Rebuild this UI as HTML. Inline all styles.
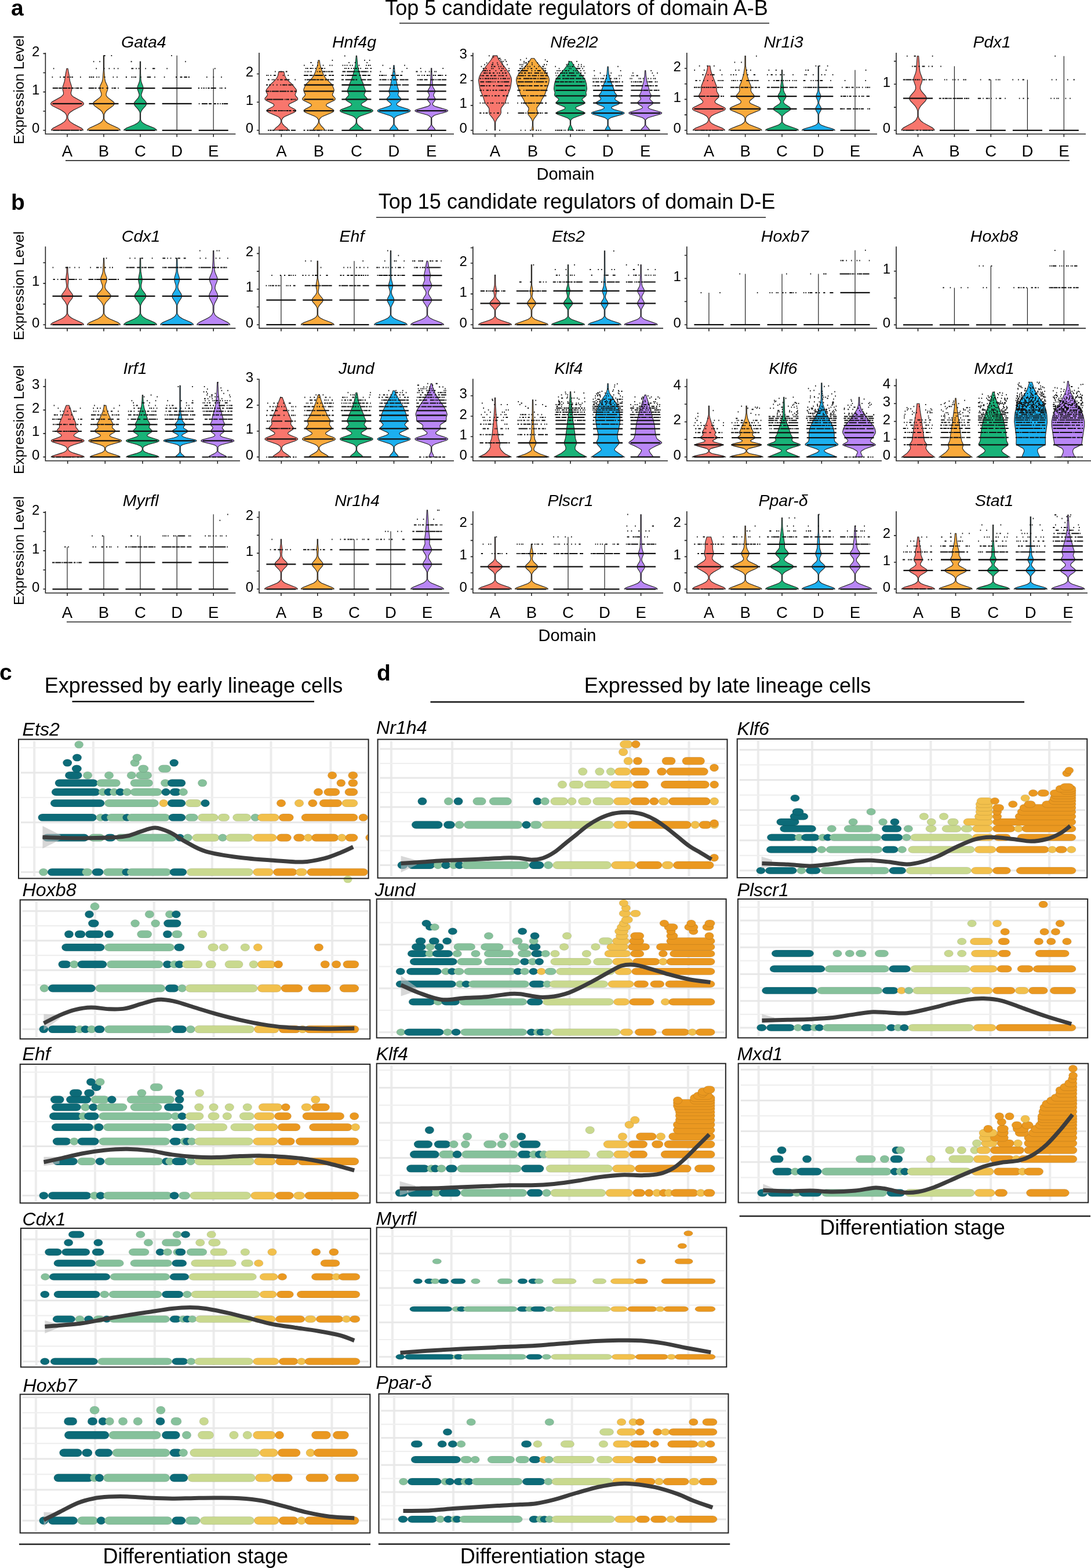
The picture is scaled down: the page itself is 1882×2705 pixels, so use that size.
<!DOCTYPE html><html><head><meta charset="utf-8"><style>html,body{margin:0;padding:0;background:#fff}svg{display:block}text{font-family:"Liberation Sans",Arial,Helvetica,sans-serif;fill:#000}</style></head><body>
<svg width="1882" height="2705" viewBox="0 0 1882 2705">
<rect width="1882" height="2705" fill="#fff"/>
<text x="19" y="27" font-size="39" text-anchor="start" font-weight="bold">a</text>
<text x="994.5" y="26" font-size="36" text-anchor="middle">Top 5 candidate regulators of domain A-B</text>
<path d="M689 40H1327" stroke="#555" stroke-width="2"/>
<text x="19" y="362" font-size="39" text-anchor="start" font-weight="bold">b</text>
<text x="995" y="360" font-size="36" text-anchor="middle">Top 15 candidate regulators of domain D-E</text>
<path d="M649 375H1321" stroke="#555" stroke-width="2"/>
<path d="M113 277H1845M115 1072.8H1848" stroke="#444" stroke-width="1.8"/>
<text x="975.5" y="310" font-size="29" text-anchor="middle">Domain</text>
<text x="978.5" y="1105.5" font-size="29" text-anchor="middle">Domain</text>
<text transform="translate(40.5 155) rotate(-90)" font-size="24.7" text-anchor="middle">Expression Level</text>
<text transform="translate(40.5 493) rotate(-90)" font-size="24.7" text-anchor="middle">Expression Level</text>
<text transform="translate(40.5 724) rotate(-90)" font-size="24.7" text-anchor="middle">Expression Level</text>
<text transform="translate(40.5 950) rotate(-90)" font-size="24.7" text-anchor="middle">Expression Level</text>
<text x="247.8" y="82" font-size="28.5" text-anchor="middle" font-style="italic">Gata4</text>
<path d="M143.4 224.8l-0.3-1.2-2.3-2.4-13.9-7.2-5.5-3.6-2.4-2.4-1.8-3.6-0.3-3.6 0.6-2.3 1.3-2.4 2.3-2.4 5.5-3.6 14.5-7.2 2.8-2.4 0.5-1.2-0.1-1.2-2-2.4-15.3-8.4-2.9-2.4-1.4-2.4-0.3-2.4 1.5-6 0.1-3.5-3.4-10.8-1.3-9.6-2.3-12-2 0-2.3 12-1.3 9.6-3.4 10.8 0.1 3.5 1.5 6-0.3 2.4-0.5 1.2-3.8 3.6-15.3 8.4-2 2.4-0.1 1.2 0.5 1.2 2.8 2.4 14.5 7.2 5.5 3.6 2.3 2.4 1.3 2.4 0.6 2.3-0.3 3.6-1.8 3.6-2.4 2.4-5.5 3.6-13.9 7.2-2.3 2.4-0.3 1.2z" fill="#f8766d" stroke="#222" stroke-width="1.1"/><path d="M207.4 224.8l-0.6-1.5-1.6-1.4-2.4-1.5-13.1-5.8-5-2.9-3.1-2.9-1-1.4-1-2.9 0.2-7.3 2.1-4.3 2.8-2.9 10.2-7.3 2.2-2.9 0.1-1.4-0.6-1.5-1.2-1.4-9.6-7.3-2.3-2.9-0.4-1.4 0.1-2.9 2.3-5.8 0.6-2.9-0.4-2.9-3.9-8.7-1-4.4-1.2-15.9 0-24.7-1.2 0 0 24.7-1.2 15.9-1 4.4-3.3 7.2-0.9 2.9 0.1 2.9 2.7 7.3 0.1 2.9-0.4 1.4-2.3 2.9-9.6 7.3-1.2 1.4-0.6 1.5 0.1 1.4 2.2 2.9 10.2 7.3 2.8 2.9 2.1 4.3 0.2 7.3-1 2.9-1 1.4-3.1 2.9-5 2.9-13.1 5.8-2.4 1.5-1.6 1.4-0.6 1.5z" fill="#f9aa3c" stroke="#222" stroke-width="1.1"/><path d="M270.4 224.8l-0.6-1.3-4.1-2.7-13.2-5.3-5-2.7-3-2.6-1-1.4-0.9-2.6 0-10.7 0.6-2.7 2.3-3.9 6-6.7 1.2-2.7-0.4-2.6-1.9-2.7-4.8-5.3-1.7-4 0.1-2.7 2.8-8 0.3-2.6-0.5-2.7-2.6-6.6-0.9-4-0.5-12 0-20-1.2 0 0 20-0.5 12-0.9 4-2.6 6.6-0.5 2.7 0.3 2.6 2.8 8 0.1 2.7-1.7 4-5.8 6.6-1.3 2.7 0 1.3 1.2 2.7 6 6.7 2.3 3.9 0.6 2.7 0 10.7-0.9 2.6-1 1.4-3 2.6-5 2.7-13.2 5.3-4.1 2.7-0.6 1.3z" fill="#19b378" stroke="#222" stroke-width="1.1"/><path d="M305.2 224.8V95.7" stroke="#222" stroke-width="1.2"/><path d="M368.2 224.8V118.2" stroke="#222" stroke-width="1.2"/>
<path d="M180 96h1.6m10 0h1.6m102 0h1.6m-136 10.2h1.6m9 0h1.6m53 0h1.6m-2 0h1.6m92 0h1.6m-229 12.1h1.6m72 0h1.6m12 0h1.6m7 0h1.6m7 0h1.6m5 0h1.6m22 0h1.6m-1 0h1.6m0 0h1.6m4 0h1.6m3 0h1.6m10 0h1.6m11 0h1.6m0 0h1.6m-2 0h1.6m0 0h1.6m20 0h1.6m81 0h1.6m-282 14.7h1.6m12 0h1.6m4 0h1.6m0 0h1.6m4 0h1.6m1 0h1.6m1 0h1.6m1 0h1.6m-1 0h1.6m12 0h1.6m14 0h1.6m-1 0h1.6m1 0h1.6m-1 0h1.6m1 0h1.6m-1 0h1.6m4 0h1.6m2 0h1.6m8 0h1.6m-1 0h1.6m13 0h1.6m5 0h1.6m14 0h1.6m-1 0h1.6m8 0h1.6m-2 0h1.6m2 0h1.6m1 0h1.6m-1 0h1.6m7 0h1.6m10 0h1.6m0 0h1.6m0 0h1.6m-2 0h1.6m-1 0h1.6m0 0h1.6m6 0h1.6m15 0h1.6m19 0h1.6m-2 0h1.6m6 0h1.6m0 0h1.6m-1 0h1.6m3 0h1.6m0 0h1.6m-1 0h1.6m0 0h1.6m2 0h1.6m-1 0h1.6m29 0h1.6m10 0h1.6m12 0h1.6m-292 19.1h1.6m0 0h1.6m-1 0h1.6m-1 0h1.6m0 0h1.6m-1 0h1.6m0 0h1.6m-1 0h1.6m-1 0h1.6m1 0h1.6m-1 0h1.6m-1 0h1.6m0 0h1.6m-2 0h1.6m0 0h1.6m1 0h1.6m0 0h1.6m-2 0h1.6m0 0h1.6m0 0h1.6m-1 0h1.6m-1 0h1.6m-1 0h1.6m-1 0h1.6m1 0h1.6m0 0h1.6m-1 0h1.6m-1 0h1.6m1 0h1.6m-1 0h1.6m-1 0h1.6m0 0h1.6m-2 0h1.6m2 0h1.6m1 0h1.6m-1 0h1.6m-1 0h1.6m0 0h1.6m-2 0h1.6m-1 0h1.6m-1 0h1.6m-2 0h1.6m2 0h1.6m-1 0h1.6m0 0h1.6m11 0h1.6m-1 0h1.6m0 0h1.6m-1 0h1.6m-1 0h1.6m0 0h1.6m-2 0h1.6m0 0h1.6m-1 0h1.6m-1 0h1.6m-1 0h1.6m1 0h1.6m0 0h1.6m3 0h1.6m-1 0h1.6m-1 0h1.6m-1 0h1.6m0 0h1.6m-2 0h1.6m2 0h1.6m-1 0h1.6m5 0h1.6m0 0h1.6m6 0h1.6m-1 0h1.6m1 0h1.6m0 0h1.6m-2 0h1.6m0 0h1.6m3 0h1.6m137 0h1.6m-1 0h1.6m3 0h1.6m2 0h1.6m-1 0h1.6m2 0h1.6m2 0h1.6m0 0h1.6m2 0h1.6m-1 0h1.6m-1 0h1.6m-1 0h1.6m0 0h1.6m0 0h1.6m-2 0h1.6m-1 0h1.6m0 0h1.6m-2 0h1.6m-1 0h1.6m-1 0h1.6m6 0h1.6m1 0h1.6m-1 0h1.6m4 0h1.6m-1 0h1.6m-47 26.8h1.6m4 0h1.6m-2 0h1.6m-1 0h1.6m-1 0h1.6m-1 0h1.6m-1 0h1.6m0 0h1.6m0 0h1.6m-1 0h1.6m-1 0h1.6m0 0h1.6m2 0h1.6m0 0h1.6m-1 0h1.6m-1 0h1.6m-1 0h1.6m4 0h1.6m-1 0h1.6m0 0h1.6m2 0h1.6m-1 0h1.6m2 0h1.6m2 0h1.6m-1 0h1.6m-1 0h1.6m-2 0h1.6m1 0h1.6m0 0h1.6m-1 0h1.6m0 0h1.6m-1 0h1.6m-1 0h1.6m-1 0h1.6m-2 0h1.6m-301 45.9h1.6m-2 0h1.6m-1 0h1.6m-1 0h1.6m-2 0h1.6m-1 0h1.6m-1 0h1.6m-2 0h1.6m0 0h1.6m-1 0h1.6m-1 0h1.6m-2 0h1.6m0 0h1.6m-1 0h1.6m-2 0h1.6m0 0h1.6m0 0h1.6m-1 0h1.6m-1 0h1.6m1 0h1.6m-2 0h1.6m-1 0h1.6m-1 0h1.6m-1 0h1.6m-1 0h1.6m0 0h1.6m-1 0h1.6m0 0h1.6m-1 0h1.6m-1 0h1.6m-1 0h1.6m-2 0h1.6m0 0h1.6m0 0h1.6m-1 0h1.6m-1 0h1.6m-1 0h1.6m-1 0h1.6m0 0h1.6m-1 0h1.6m-2 0h1.6m-1 0h1.6m-2 0h1.6m1 0h1.6m-1 0h1.6m-1 0h1.6m-1 0h1.6m-1 0h1.6m0 0h1.6m0 0h1.6m-1 0h1.6m-1 0h1.6m0 0h1.6m0 0h1.6m-2 0h1.6m0 0h1.6m0 0h1.6m2 0h1.6m0 0h1.6m-2 0h1.6" stroke="#111" stroke-width="2" fill="none"/>
<path d="M90.5 178.9h51M153.5 224.8h51M153.5 178.9h51M216.5 224.8h51M216.5 178.9h51M216.5 152.1h51M279.7 224.8h51M279.7 178.9h51M279.7 152.1h51M342.7 224.8h51" stroke="#111" stroke-width="2.3" fill="none"/>
<text x="68.4" y="229.3" font-size="24" text-anchor="end">0</text>
<text x="68.4" y="163.1" font-size="24" text-anchor="end">1</text>
<text x="68.4" y="96.9" font-size="24" text-anchor="end">2</text>
<path d="M78.4 91V231.2H406.4M74.4 224.8H78.4M74.4 158.6H78.4M74.4 92.4H78.4M74.4 191.7H78.4M74.4 125.5H78.4M116 231.2V236.2M179 231.2V236.2M242 231.2V236.2M305.2 231.2V236.2M368.2 231.2V236.2" stroke="#222" stroke-width="1.6" fill="none"/>
<text x="116" y="270" font-size="27.5" text-anchor="middle">A</text>
<text x="179" y="270" font-size="27.5" text-anchor="middle">B</text>
<text x="242" y="270" font-size="27.5" text-anchor="middle">C</text>
<text x="305.2" y="270" font-size="27.5" text-anchor="middle">D</text>
<text x="368.2" y="270" font-size="27.5" text-anchor="middle">E</text>
<text x="611" y="82" font-size="28.5" text-anchor="middle" font-style="italic">Hnf4g</text>
<path d="M497.7 224.8l-0.3-1.1-1.7-2.3-5.5-4.6-3-3.4-1.3-3.4 0.2-3.4 2.1-3.4 3.2-2.3 15.9-6.8 3-2.3 0.2-1.1-0.7-1.1-1.5-1.2-8.6-4.5-1.3-1.2-0.6-1.1 0.3-1.1 1.1-1.2 11.8-5.7 1.6-1.1 0.9-1.1 0.2-1.2-0.5-1.1-3-3.4-1-2.3 0.1-1.1 2.2-4.6 0.1-1.1-0.7-2.3-7.3-9.1-7.3-6.8-2.9-3.4-2.2-4.6-1.5-6.8-8.8 0-1.5 6.8-2.2 4.6-2.9 3.4-8.3 7.9-5.5 6.9-1.3 2.2-0.2 1.2 0.5 2.3 1.8 3.4 0.1 1.1-1 2.3-3 3.4-0.5 1.1 0.2 1.2 2.5 2.2 11.8 5.7 1.1 1.2 0.3 1.1-0.6 1.1-1.3 1.2-8.6 4.5-1.5 1.2-0.7 1.1 0.2 1.1 3 2.3 15.9 6.8 3.2 2.3 2.1 3.4 0.2 3.4-1.3 3.4-3 3.4-5.5 4.6-1.7 2.3-0.3 1.1z" fill="#f8766d" stroke="#222" stroke-width="1.1"/><path d="M560 224.8l-1-2.7-5.2-5.4-2.6-4.1-0.6-2.7 0.1-2.7 0.4-1.4 2-2.7 4.1-2.7 13.5-5.4 2.9-1.4 1.8-1.3 0.6-1.4-0.8-1.3-1.9-1.4-8.1-4.1-1.8-1.3-0.7-1.4 0.5-1.3 1.7-1.4 11.4-5.4 1.6-1.4 0.5-1.3-0.5-1.4-3.7-4-0.7-1.4 0-1.4 2.1-4 0.7-2.7-0.6-2.7-1.7-4.1-2.3-4.1-8.3-8.1-2.2-2.7-2.6-4.1-2.4-5.4-2.8-8.2-1.4-5.4-1-6.8-2 0-1 6.8-1.4 5.4-2.8 8.2-2.4 5.4-2.6 4.1-2.2 2.7-8.3 8.1-2.3 4.1-1.7 4.1-0.6 2.7 0.7 2.7 2.1 4 0 1.4-0.7 1.4-3.7 4-0.5 1.4 0.5 1.3 1.6 1.4 11.4 5.4 1.7 1.4 0.5 1.3-0.7 1.4-1.8 1.3-8.1 4.1-1.9 1.4-0.8 1.3 0.6 1.4 1.8 1.3 2.9 1.4 13.5 5.4 4.1 2.7 2 2.7 0.4 1.4 0.1 2.7-0.6 2.7-2.6 4.1-5.2 5.4-1 2.7z" fill="#f9aa3c" stroke="#222" stroke-width="1.1"/><path d="M627.2 224.8l-0.4-1.4-1.3-1.5-7.3-5.8-2.1-2.8-0.6-2.9 0-4.4 0.6-1.4 2.8-2.9 2.5-1.4 16.8-5.8 3.4-1.4 1.7-1.5-0.2-1.4-2.2-1.5-15.3-5.7-1.9-1.5-0.5-1.4 0.8-1.5 6.9-4.3 1.8-1.5 0.9-1.4-0.2-1.4-4-4.4-0.9-1.4-0.2-1.5 1.9-4.3 0.2-2.9-2.4-5.7-1.6-5.8-3.1-7.2-5.1-17.3-1.4-7.3-1.3-15.8-1.2 0-1.3 15.8-2.2 10.1-4.3 14.5-3.1 7.2-1.6 5.8-2.4 5.7 0.2 2.9 1.9 4.3-0.2 1.5-0.9 1.4-4 4.4-0.2 1.4 0.9 1.4 1.8 1.5 6.9 4.3 0.8 1.5-0.5 1.4-1.9 1.5-15.3 5.7-2.2 1.5-0.2 1.4 1.7 1.5 3.4 1.4 16.8 5.8 2.5 1.4 2.8 2.9 0.6 1.4 0 4.4-0.6 2.9-2.1 2.8-7.3 5.8-1.3 1.5-0.4 1.4z" fill="#19b378" stroke="#222" stroke-width="1.1"/><path d="M687 224.8l-0.9-2.5-4.3-5-1.4-2.6-0.3-1.2 0-8.8 0.5-1.3 2.6-2.5 2.3-1.2 19.4-6.3 2.4-1.3 0.6-1.2-1.3-1.3-2.8-1.3-15.8-5-2.3-1.2-1.3-1.3-0.3-1.3 0.7-1.2 6-5 0.8-1.3 0.1-1.3-0.6-1.2-3.5-3.8-1.1-2.5 1.8-6.3-2.3-6.3-4-20.1-1-6.3-0.9-11.3-1.2 0-0.9 11.3-1 6.3-4 20.1-2.3 6.3 1.8 6.3-1.1 2.5-3.5 3.8-0.6 1.2 0.1 1.3 0.8 1.3 6 5 0.7 1.2-0.3 1.3-1.3 1.3-2.3 1.2-15.8 5-2.8 1.3-1.3 1.3 0.6 1.2 2.4 1.3 19.4 6.3 2.3 1.2 2.6 2.5 0.5 1.3 0 8.8-0.3 1.2-1.4 2.6-4.3 5-0.9 2.5z" fill="#1cb0ef" stroke="#222" stroke-width="1.1"/><path d="M751.1 224.8l-1-2.4-4.1-4.8-1.2-2.4 0-12 0.7-1.2 3.1-2.5 2.8-1.2 17.1-4.8 3-1.2 1.1-1.2-1-1.2-2.8-1.2-17-4.8-2.8-1.2-1.7-1.2-0.9-1.2-0.1-1.2 0.4-1.2 3.8-4.8 0.5-2.4-3.1-6 0.4-2.4 2-3.6 0.3-1.2-0.7-2.4-3-4.9-0.6-2.4-1.3-20.4-0.2-9.6-1.2 0-0.2 9.6-1.3 20.4-0.6 2.4-3 4.9-0.7 2.4 0.3 1.2 2 3.6 0.4 2.4-0.4 1.2-2.3 3.6-0.4 2.4 0.5 1.2 3.8 4.8 0.4 1.2-0.1 1.2-0.9 1.2-1.7 1.2-2.8 1.2-17 4.8-2.8 1.2-1 1.2 1.1 1.2 3 1.2 17.1 4.8 2.8 1.2 3.1 2.5 0.7 1.2 0 12-1.2 2.4-4.1 4.8-1 2.4z" fill="#b987f6" stroke="#222" stroke-width="1.1"/>
<path d="M594 96.4h1.6m-23 7.5h1.6m54 0h1.6m7 0h1.6m-103 4.2h1.6m-1 0h1.6m10 0h1.6m52 0h1.6m9 0h1.6m19 0h1.6m-110 4.7h1.6m13 0h1.6m7 0h1.6m8 0h1.6m10 0h1.6m2 0h1.6m17 0h1.6m2 0h1.6m2 0h1.6m4 0h1.6m2 0h1.6m10 0h1.6m11 0h1.6m2 0h1.6m-1 0h1.6m1 0h1.6m20 0h1.6m36 0h1.6m-172 5.1h1.6m1 0h1.6m-1 0h1.6m3 0h1.6m0 0h1.6m1 0h1.6m3 0h1.6m5 0h1.6m2 0h1.6m-1 0h1.6m0 0h1.6m2 0h1.6m33 0h1.6m1 0h1.6m2 0h1.6m-1 0h1.6m3 0h1.6m2 0h1.6m2 0h1.6m0 0h1.6m2 0h1.6m2 0h1.6m7 0h1.6m-1 0h1.6m1 0h1.6m4 0h1.6m-1 0h1.6m31 0h1.6m5 0h1.6m21 0h1.6m22 0h1.6m37 0h1.6m-291 5.7h1.6m7 0h1.6m1 0h1.6m6 0h1.6m-1 0h1.6m-1 0h1.6m30 0h1.6m2 0h1.6m1 0h1.6m2 0h1.6m-1 0h1.6m9 0h1.6m2 0h1.6m0 0h1.6m3 0h1.6m-1 0h1.6m0 0h1.6m0 0h1.6m1 0h1.6m-1 0h1.6m1 0h1.6m0 0h1.6m1 0h1.6m-1 0h1.6m-1 0h1.6m0 0h1.6m16 0h1.6m0 0h1.6m-1 0h1.6m-2 0h1.6m-1 0h1.6m0 0h1.6m2 0h1.6m-1 0h1.6m0 0h1.6m-1 0h1.6m-2 0h1.6m0 0h1.6m0 0h1.6m-1 0h1.6m-1 0h1.6m-1 0h1.6m0 0h1.6m-1 0h1.6m0 0h1.6m0 0h1.6m1 0h1.6m1 0h1.6m0 0h1.6m0 0h1.6m-1 0h1.6m1 0h1.6m-1 0h1.6m0 0h1.6m0 0h1.6m-2 0h1.6m-1 0h1.6m-1 0h1.6m-1 0h1.6m-1 0h1.6m0 0h1.6m0 0h1.6m-2 0h1.6m1 0h1.6m3 0h1.6m-1 0h1.6m15 0h1.6m22 0h1.6m12 0h1.6m23 0h1.6m0 0h1.6m5 0h1.6m6 0h1.6m5 0h1.6m2 0h1.6m4 0h1.6m1 0h1.6m-294 6.5h1.6m1 0h1.6m3 0h1.6m4 0h1.6m-1 0h1.6m0 0h1.6m12 0h1.6m7 0h1.6m26 0h1.6m-1 0h1.6m-1 0h1.6m0 0h1.6m0 0h1.6m-2 0h1.6m0 0h1.6m-1 0h1.6m2 0h1.6m-1 0h1.6m0 0h1.6m-1 0h1.6m-2 0h1.6m0 0h1.6m-2 0h1.6m2 0h1.6m-2 0h1.6m1 0h1.6m-1 0h1.6m-2 0h1.6m0 0h1.6m-2 0h1.6m0 0h1.6m-1 0h1.6m-1 0h1.6m0 0h1.6m0 0h1.6m0 0h1.6m0 0h1.6m0 0h1.6m3 0h1.6m0 0h1.6m4 0h1.6m-1 0h1.6m-1 0h1.6m-1 0h1.6m-1 0h1.6m1 0h1.6m-1 0h1.6m0 0h1.6m13 0h1.6m-1 0h1.6m-1 0h1.6m-2 0h1.6m-1 0h1.6m-1 0h1.6m-1 0h1.6m2 0h1.6m1 0h1.6m-1 0h1.6m-1 0h1.6m0 0h1.6m-1 0h1.6m-1 0h1.6m-2 0h1.6m-1 0h1.6m-1 0h1.6m0 0h1.6m0 0h1.6m-1 0h1.6m-1 0h1.6m-1 0h1.6m-1 0h1.6m0 0h1.6m-1 0h1.6m-2 0h1.6m1 0h1.6m-2 0h1.6m0 0h1.6m4 0h1.6m0 0h1.6m2 0h1.6m0 0h1.6m-1 0h1.6m-1 0h1.6m0 0h1.6m-1 0h1.6m-1 0h1.6m-1 0h1.6m2 0h1.6m-2 0h1.6m0 0h1.6m-2 0h1.6m-1 0h1.6m-2 0h1.6m0 0h1.6m-2 0h1.6m-1 0h1.6m-2 0h1.6m-1 0h1.6m15 0h1.6m-1 0h1.6m1 0h1.6m-1 0h1.6m-1 0h1.6m0 0h1.6m1 0h1.6m1 0h1.6m8 0h1.6m-2 0h1.6m-1 0h1.6m-1 0h1.6m-2 0h1.6m-1 0h1.6m-1 0h1.6m-1 0h1.6m-1 0h1.6m0 0h1.6m2 0h1.6m0 0h1.6m-1 0h1.6m0 0h1.6m2 0h1.6m0 0h1.6m-1 0h1.6m26 0h1.6m1 0h1.6m3 0h1.6m2 0h1.6m-1 0h1.6m3 0h1.6m0 0h1.6m1 0h1.6m5 0h1.6m-1 0h1.6m1 0h1.6m-1 0h1.6m3 0h1.6m0 0h1.6m0 0h1.6m0 0h1.6m1 0h1.6m4 0h1.6m-2 0h1.6m-1 0h1.6m-308 7.5h1.6m-1 0h1.6m-1 0h1.6m4 0h1.6m1 0h1.6m-1 0h1.6m5 0h1.6m3 0h1.6m-1 0h1.6m-1 0h1.6m0 0h1.6m3 0h1.6m-1 0h1.6m0 0h1.6m-1 0h1.6m1 0h1.6m-1 0h1.6m-2 0h1.6m0 0h1.6m9 0h1.6m16 0h1.6m-2 0h1.6m-1 0h1.6m1 0h1.6m0 0h1.6m0 0h1.6m-2 0h1.6m0 0h1.6m-1 0h1.6m-1 0h1.6m0 0h1.6m-1 0h1.6m-1 0h1.6m-1 0h1.6m-1 0h1.6m-2 0h1.6m-1 0h1.6m-1 0h1.6m0 0h1.6m-1 0h1.6m0 0h1.6m-1 0h1.6m-2 0h1.6m1 0h1.6m-1 0h1.6m0 0h1.6m-1 0h1.6m-1 0h1.6m1 0h1.6m-1 0h1.6m0 0h1.6m0 0h1.6m-1 0h1.6m-1 0h1.6m2 0h1.6m-1 0h1.6m-1 0h1.6m-1 0h1.6m1 0h1.6m0 0h1.6m1 0h1.6m-1 0h1.6m-1 0h1.6m-2 0h1.6m-1 0h1.6m-1 0h1.6m-1 0h1.6m-1 0h1.6m-1 0h1.6m0 0h1.6m13 0h1.6m-1 0h1.6m-1 0h1.6m-2 0h1.6m0 0h1.6m-2 0h1.6m3 0h1.6m-1 0h1.6m-1 0h1.6m-1 0h1.6m-1 0h1.6m-1 0h1.6m-1 0h1.6m-2 0h1.6m-1 0h1.6m-1 0h1.6m-2 0h1.6m-1 0h1.6m0 0h1.6m-1 0h1.6m-1 0h1.6m-1 0h1.6m-1 0h1.6m-1 0h1.6m-1 0h1.6m-1 0h1.6m-1 0h1.6m-1 0h1.6m-1 0h1.6m-1 0h1.6m-2 0h1.6m0 0h1.6m-1 0h1.6m-2 0h1.6m2 0h1.6m-1 0h1.6m-1 0h1.6m6 0h1.6m-1 0h1.6m-2 0h1.6m-1 0h1.6m-1 0h1.6m-1 0h1.6m0 0h1.6m-1 0h1.6m-2 0h1.6m0 0h1.6m0 0h1.6m-1 0h1.6m2 0h1.6m-1 0h1.6m0 0h1.6m-1 0h1.6m-2 0h1.6m-1 0h1.6m-1 0h1.6m-1 0h1.6m-1 0h1.6m-2 0h1.6m0 0h1.6m14 0h1.6m-2 0h1.6m0 0h1.6m1 0h1.6m-1 0h1.6m-2 0h1.6m-1 0h1.6m0 0h1.6m0 0h1.6m-1 0h1.6m-1 0h1.6m-1 0h1.6m-1 0h1.6m2 0h1.6m2 0h1.6m-1 0h1.6m-1 0h1.6m-2 0h1.6m3 0h1.6m-1 0h1.6m-1 0h1.6m0 0h1.6m-1 0h1.6m1 0h1.6m-1 0h1.6m-1 0h1.6m3 0h1.6m0 0h1.6m0 0h1.6m0 0h1.6m-1 0h1.6m-1 0h1.6m-1 0h1.6m-2 0h1.6m1 0h1.6m-1 0h1.6m0 0h1.6m-1 0h1.6m0 0h1.6m-2 0h1.6m16 0h1.6m-1 0h1.6m1 0h1.6m0 0h1.6m-1 0h1.6m-1 0h1.6m-1 0h1.6m-2 0h1.6m-1 0h1.6m-1 0h1.6m-1 0h1.6m2 0h1.6m-1 0h1.6m0 0h1.6m0 0h1.6m-1 0h1.6m5 0h1.6m-1 0h1.6m-1 0h1.6m-1 0h1.6m0 0h1.6m0 0h1.6m1 0h1.6m1 0h1.6m1 0h1.6m-1 0h1.6m0 0h1.6m-1 0h1.6m-1 0h1.6m-1 0h1.6m1 0h1.6m0 0h1.6m-2 0h1.6m0 0h1.6m-2 0h1.6m-1 0h1.6m-1 0h1.6m-1 0h1.6m0 0h1.6m-1 0h1.6m-311 8.9h1.6m0 0h1.6m2 0h1.6m0 0h1.6m3 0h1.6m5 0h1.6m5 0h1.6m2 0h1.6m0 0h1.6m0 0h1.6m-1 0h1.6m1 0h1.6m-2 0h1.6m-1 0h1.6m2 0h1.6m0 0h1.6m-1 0h1.6m0 0h1.6m-1 0h1.6m1 0h1.6m147 0h1.6m-1 0h1.6m-1 0h1.6m0 0h1.6m0 0h1.6m-1 0h1.6m-1 0h1.6m0 0h1.6m-1 0h1.6m-1 0h1.6m-2 0h1.6m0 0h1.6m-1 0h1.6m-1 0h1.6m-2 0h1.6m-2 0h1.6m-1 0h1.6m-1 0h1.6m0 0h1.6m0 0h1.6m-2 0h1.6m0 0h1.6m-1 0h1.6m-2 0h1.6m-1 0h1.6m0 0h1.6m-1 0h1.6m-1 0h1.6m-2 0h1.6m0 0h1.6m-1 0h1.6m-2 0h1.6m-1 0h1.6m-1 0h1.6m0 0h1.6m1 0h1.6m-1 0h1.6m0 0h1.6m-2 0h1.6m-1 0h1.6m-1 0h1.6m0 0h1.6m-2 0h1.6m0 0h1.6m-2 0h1.6m0 0h1.6m-2 0h1.6m-1 0h1.6m0 0h1.6m-1 0h1.6m0 0h1.6m2 0h1.6m0 0h1.6m0 0h1.6m0 0h1.6m-1 0h1.6m-1 0h1.6m-1 0h1.6m0 0h1.6m0 0h1.6m-246 10.9h1.6m-2 0h1.6m0 0h1.6m-1 0h1.6m-1 0h1.6m0 0h1.6m1 0h1.6m-1 0h1.6m1 0h1.6m0 0h1.6m-1 0h1.6m0 0h1.6m-2 0h1.6m1 0h1.6m-2 0h1.6m-1 0h1.6m0 0h1.6m0 0h1.6m-1 0h1.6m-1 0h1.6m1 0h1.6m-1 0h1.6m0 0h1.6m-1 0h1.6m-2 0h1.6m0 0h1.6m-2 0h1.6m0 0h1.6m0 0h1.6m0 0h1.6m0 0h1.6m-1 0h1.6m1 0h1.6m-1 0h1.6m-1 0h1.6m-1 0h1.6m2 0h1.6m-1 0h1.6m-1 0h1.6m0 0h1.6m-1 0h1.6m2 0h1.6m-1 0h1.6m-1 0h1.6m-1 0h1.6m-51 14h1.6m-2 0h1.6m0 0h1.6m-1 0h1.6m-1 0h1.6m-2 0h1.6m0 0h1.6m-1 0h1.6m-1 0h1.6m-1 0h1.6m-2 0h1.6m0 0h1.6m-1 0h1.6m-2 0h1.6m-1 0h1.6m-1 0h1.6m-1 0h1.6m1 0h1.6m-2 0h1.6m-1 0h1.6m-1 0h1.6m-1 0h1.6m-1 0h1.6m-1 0h1.6m-2 0h1.6m-1 0h1.6m-1 0h1.6m0 0h1.6m-2 0h1.6m-1 0h1.6m-1 0h1.6m0 0h1.6m-1 0h1.6m0 0h1.6m0 0h1.6m-2 0h1.6m-1 0h1.6m0 0h1.6m-1 0h1.6m-2 0h1.6m0 0h1.6m-1 0h1.6m-1 0h1.6m2 0h1.6m1 0h1.6m-1 0h1.6m-1 0h1.6m0 0h1.6m-1 0h1.6m-1 0h1.6m2 0h1.6m-1 0h1.6m-2 0h1.6m-1 0h1.6m-1 0h1.6m-1 0h1.6m-1 0h1.6m1 0h1.6m-1 0h1.6m1 0h1.6m-51 19.7h1.6m-2 0h1.6m0 0h1.6m-1 0h1.6m-1 0h1.6m-2 0h1.6m-1 0h1.6m-1 0h1.6m-1 0h1.6m0 0h1.6m-1 0h1.6m-1 0h1.6m1 0h1.6m1 0h1.6m-1 0h1.6m-1 0h1.6m0 0h1.6m0 0h1.6m-2 0h1.6m2 0h1.6m-1 0h1.6m-1 0h1.6m-1 0h1.6m-2 0h1.6m1 0h1.6m0 0h1.6m-2 0h1.6m1 0h1.6m-1 0h1.6m1 0h1.6m-1 0h1.6m1 0h1.6m-1 0h1.6m0 0h1.6m1 0h1.6m-1 0h1.6m-1 0h1.6m-1 0h1.6m-1 0h1.6m3 0h1.6m-1 0h1.6m-1 0h1.6m0 0h1.6m-1 0h1.6m-1 0h1.6m-49 33.7h1.6m-1 0h1.6m1 0h1.6m-1 0h1.6m-1 0h1.6m-1 0h1.6m1 0h1.6m0 0h1.6m-1 0h1.6m8 0h1.6m-2 0h1.6m-1 0h1.6m0 0h1.6m0 0h1.6m-1 0h1.6m-1 0h1.6m0 0h1.6m1 0h1.6m1 0h1.6m-1 0h1.6m-1 0h1.6m-1 0h1.6m-1 0h1.6m1 0h1.6m-1 0h1.6m2 0h1.6m0 0h1.6m-1 0h1.6m-1 0h1.6m-1 0h1.6m0 0h1.6m-2 0h1.6m-1 0h1.6m-1 0h1.6m-1 0h1.6m14 0h1.6m-2 0h1.6m-1 0h1.6m-1 0h1.6m3 0h1.6m-1 0h1.6m-1 0h1.6m-2 0h1.6m-1 0h1.6m1 0h1.6m-1 0h1.6m-1 0h1.6m-1 0h1.6m0 0h1.6m0 0h1.6m-1 0h1.6m-1 0h1.6m0 0h1.6m0 0h1.6m2 0h1.6m-2 0h1.6m-1 0h1.6m-1 0h1.6m-1 0h1.6m-1 0h1.6m-1 0h1.6m0 0h1.6m1 0h1.6m5 0h1.6m-2 0h1.6m1 0h1.6m2 0h1.6m-2 0h1.6m-1 0h1.6m-1 0h1.6m1 0h1.6m-2 0h1.6m-1 0h1.6m-1 0h1.6m-1 0h1.6m-1 0h1.6m-1 0h1.6m-1 0h1.6m-1 0h1.6m-1 0h1.6" stroke="#111" stroke-width="2" fill="none"/>
<path d="M524.5 191.1h51M524.5 171.4h51M524.5 157.4h51M524.5 146.5h51M589.4 224.8h51M589.4 191.1h51M589.4 171.4h51M589.4 157.4h51M589.4 146.5h51M654 224.8h51M654 191.1h51M654 171.4h51M654 157.4h51M718.7 224.8h51M718.7 191.1h51M718.7 171.4h51M718.7 157.4h51M718.7 146.5h51" stroke="#111" stroke-width="2.3" fill="none"/>
<text x="437" y="229.3" font-size="24" text-anchor="end">0</text>
<text x="437" y="180.7" font-size="24" text-anchor="end">1</text>
<text x="437" y="132" font-size="24" text-anchor="end">2</text>
<path d="M447 91V231.2H783M443 224.8H447M443 176.2H447M443 127.5H447M485.3 231.2V236.2M550 231.2V236.2M614.9 231.2V236.2M679.5 231.2V236.2M744.2 231.2V236.2" stroke="#222" stroke-width="1.6" fill="none"/>
<text x="485.3" y="270" font-size="27.5" text-anchor="middle">A</text>
<text x="550" y="270" font-size="27.5" text-anchor="middle">B</text>
<text x="614.9" y="270" font-size="27.5" text-anchor="middle">C</text>
<text x="679.5" y="270" font-size="27.5" text-anchor="middle">D</text>
<text x="744.2" y="270" font-size="27.5" text-anchor="middle">E</text>
<text x="990.4" y="82" font-size="28.5" text-anchor="middle" font-style="italic">Nfe2l2</text>
<path d="M854.6 224.8l0-13 0.7-2.9 2.4-4.3 5.7-7.3 0.9-2.9-0.2-5.8 0.8-2.8 5.6-7.3 1.5-2.9 2.1-7.2 5.7-14.5 1.1-4.3 1.5-10.1-0.1-2.9-0.6-2.9-3.2-7.2-10.6-14.5-7-8.7-1.7-2.9-1.6-4.3-7.2 0-1.6 4.3-1.7 2.9-7 8.7-10.6 14.5-2.7 5.8-1.2 5.7 0.4 4.4 1.7 10.1 2 5.8 4.2 10.1 2.1 7.2 1.5 2.9 5.6 7.3 0.8 2.8-0.2 5.8 0.9 2.9 5.7 7.3 2.4 4.3 0.7 2.9 0 13z" fill="#f8766d" stroke="#222" stroke-width="1.1"/><path d="M920.5 224.8l-0.9-8.4 0-6.9 1.4-4.2 5.4-7 1.3-2.8-0.3-2.7-1.4-4.2 0.2-2.8 6.3-8.4 2.1-5.5 5.1-8.4 6.8-19.5 0.9-5.6-0.3-2.8-0.8-2.7-3.1-5.6-16.9-19.5-4.7-7-5.2 0-4.7 7-16.9 19.5-3.1 5.6-0.8 2.7-0.3 2.8 0.9 5.6 6.8 19.5 5.1 8.4 2.1 5.5 6.3 8.4 0.2 2.8-1.4 4.2-0.3 2.7 1.3 2.8 5.4 7 1.4 4.2 0 6.9-0.9 8.4z" fill="#f9aa3c" stroke="#222" stroke-width="1.1"/><path d="M988.2 224.8l-0.6-2.7-3-6.6 0-6.7 0.2-1.4 0.8-1.3 3.5-2.7 15-5.3 3-1.3 1.5-1.4-0.4-1.3-2.2-1.3-10.4-4.1-2.1-1.3-0.6-1.3 1.1-1.4 2.6-1.3 10.1-4 1.8-1.3 0.2-1.4-4-4-0.5-1.3 0.7-1.3 5.3-4 1-1.4 0.2-1.3-0.6-4 1.3-4 0.3-2.7-0.9-8-1.5-5.4-1.2-2.6-5-6.7-8.3-9.3-5-6.7-2.6-4-1.9-4-4 0-2.6 5.3-5.9 8-8.2 9.4-5.3 6.6-1.5 2.7-1.3 4-0.9 4-0.7 6.7 0.3 2.7 1.3 4-0.6 4 0.2 1.3 1 1.4 5.3 4 0.7 1.3-0.5 1.3-4 4 0.2 1.4 1.8 1.3 10.1 4 2.6 1.3 1.1 1.4-0.6 1.3-2.1 1.3-10.4 4.1-2.2 1.3-0.4 1.3 1.5 1.4 3 1.3 15 5.3 3.5 2.7 0.8 1.3 0.2 1.4 0 6.7-3 6.6-0.6 2.7z" fill="#19b378" stroke="#222" stroke-width="1.1"/><path d="M1053.3 224.8l-0.7-2.5-2.3-3.7-1.1-2.4 0-8.7 0.3-1.2 1-1.2 4.2-2.5 17.6-4.9 3.3-1.3 1.4-1.2-0.9-1.2-3-1.3-13.4-3.7-3.1-1.2-1.7-1.3 0-1.2 1.4-1.2 9.1-3.7 2.5-1.3 1.2-1.2-0.3-1.2-6.1-3.7-1.5-1.3-0.6-1.2 0.5-1.2 2.9-3.7 0-1.3-3.7-4.9-1.2-4.9-7.8-21-1-5-1.1-13.5-1.2 0-1.1 13.5-1 5-7.8 21-1.2 4.9-3.7 4.9 0 1.3 2.9 3.7 0.5 1.2-0.6 1.2-1.5 1.3-6.1 3.7-0.3 1.2 1.2 1.2 2.5 1.3 9.1 3.7 1.4 1.2 0 1.2-1.7 1.3-3.1 1.2-13.4 3.7-3 1.3-0.9 1.2 1.4 1.2 3.3 1.3 17.6 4.9 4.2 2.5 1 1.2 0.3 1.2 0 8.7-1.1 2.4-2.3 3.7-0.7 2.5z" fill="#1cb0ef" stroke="#222" stroke-width="1.1"/><path d="M1120.8 224.8l-1.1-2.3-4.5-4.6-1.3-2.4-0.1-8.1 0.3-1.1 2.4-2.3 2.3-1.2 20-5.8 2.4-1.1 0.4-1.2-1.6-1.1-3.2-1.2-16-4.6-2-1.2-0.7-1.1 0.3-1.2 1.2-1.1 5.5-3.5 1.1-1.2 0.4-1.1-0.6-1.2-4.7-4.6-0.2-1.2 0.3-1.1 1.4-2.3 0.5-2.4-2.7-5.7-1.1-5.8-3.3-11.6-1.8-10.4-0.6-9.3-1.2 0-0.6 9.3-1.8 10.4-3.3 11.6-1.1 5.8-2.7 5.7 0.5 2.4 1.4 2.3 0.3 1.1-0.2 1.2-4.7 4.6-0.6 1.2 0.4 1.1 1.1 1.2 5.5 3.5 1.2 1.1 0.3 1.2-0.7 1.1-2 1.2-16 4.6-3.2 1.2-1.6 1.1 0.4 1.2 2.4 1.1 20 5.8 2.3 1.2 2.4 2.3 0.3 1.1-0.1 8.1-1.3 2.4-4.5 4.6-1.1 2.3z" fill="#b987f6" stroke="#222" stroke-width="1.1"/>
<path d="M843 96.3h1.6m6 2.2h1.6m8 2.3h1.6m0 0h1.6m44 0h1.6m-46 2.5h1.6m6 0h1.6m25 0h1.6m41 0h1.6m-77 2.6h1.6m1 0h1.6m4 0h1.6m29 0h1.6m6 0h1.6m31 0h1.6m-2 0h1.6m36 0h1.6m12 0h1.6m-157 2.7h1.6m9 0h1.6m6 0h1.6m7 0h1.6m36 0h1.6m1 0h1.6m0 0h1.6m8 0h1.6m8 0h1.6m-93 3h1.6m11 0h1.6m0 0h1.6m7 0h1.6m6 0h1.6m7 0h1.6m20 0h1.6m1 0h1.6m1 0h1.6m6 0h1.6m7 0h1.6m19 0h1.6m-1 0h1.6m2 0h1.6m33 0h1.6m2 0h1.6m7 0h1.6m7 0h1.6m3 0h1.6m-174 3.2h1.6m16 0h1.6m-1 0h1.6m2 0h1.6m0 0h1.6m5 0h1.6m2 0h1.6m3 0h1.6m30 0h1.6m-1 0h1.6m4 0h1.6m-1 0h1.6m2 0h1.6m2 0h1.6m6 0h1.6m6 0h1.6m5 0h1.6m0 0h1.6m19 0h1.6m20 0h1.6m2 0h1.6m2 0h1.6m0 0h1.6m7 0h1.6m4 0h1.6m3 0h1.6m57 0h1.6m-234 3.4h1.6m-1 0h1.6m3 0h1.6m-2 0h1.6m8 0h1.6m1 0h1.6m9 0h1.6m3 0h1.6m1 0h1.6m8 0h1.6m17 0h1.6m0 0h1.6m1 0h1.6m-2 0h1.6m3 0h1.6m4 0h1.6m4 0h1.6m-1 0h1.6m-1 0h1.6m6 0h1.6m-1 0h1.6m8 0h1.6m-1 0h1.6m1 0h1.6m1 0h1.6m22 0h1.6m16 0h1.6m1 0h1.6m8 0h1.6m0 0h1.6m-1 0h1.6m-1 0h1.6m0 0h1.6m0 0h1.6m3 0h1.6m-173 3.7h1.6m1 0h1.6m-2 0h1.6m-1 0h1.6m0 0h1.6m1 0h1.6m3 0h1.6m-2 0h1.6m9 0h1.6m7 0h1.6m0 0h1.6m4 0h1.6m5 0h1.6m-1 0h1.6m14 0h1.6m0 0h1.6m-1 0h1.6m1 0h1.6m-1 0h1.6m0 0h1.6m-2 0h1.6m0 0h1.6m-1 0h1.6m0 0h1.6m-1 0h1.6m0 0h1.6m0 0h1.6m0 0h1.6m6 0h1.6m4 0h1.6m3 0h1.6m-1 0h1.6m0 0h1.6m0 0h1.6m-1 0h1.6m4 0h1.6m1 0h1.6m-1 0h1.6m-1 0h1.6m18 0h1.6m1 0h1.6m1 0h1.6m2 0h1.6m4 0h1.6m-1 0h1.6m0 0h1.6m2 0h1.6m-2 0h1.6m7 0h1.6m2 0h1.6m1 0h1.6m-1 0h1.6m4 0h1.6m4 0h1.6m16 0h1.6m44 0h1.6m51 0h1.6m-290 4.1h1.6m0 0h1.6m-1 0h1.6m-1 0h1.6m1 0h1.6m2 0h1.6m0 0h1.6m-1 0h1.6m3 0h1.6m0 0h1.6m4 0h1.6m2 0h1.6m-1 0h1.6m3 0h1.6m-1 0h1.6m-1 0h1.6m2 0h1.6m0 0h1.6m21 0h1.6m-2 0h1.6m0 0h1.6m1 0h1.6m0 0h1.6m2 0h1.6m0 0h1.6m-1 0h1.6m3 0h1.6m0 0h1.6m-1 0h1.6m1 0h1.6m-1 0h1.6m4 0h1.6m0 0h1.6m0 0h1.6m-1 0h1.6m0 0h1.6m0 0h1.6m2 0h1.6m1 0h1.6m2 0h1.6m-1 0h1.6m-2 0h1.6m1 0h1.6m-2 0h1.6m-1 0h1.6m-1 0h1.6m-1 0h1.6m-1 0h1.6m13 0h1.6m2 0h1.6m3 0h1.6m0 0h1.6m0 0h1.6m-1 0h1.6m-2 0h1.6m1 0h1.6m-1 0h1.6m-1 0h1.6m1 0h1.6m0 0h1.6m2 0h1.6m-1 0h1.6m-1 0h1.6m0 0h1.6m0 0h1.6m-1 0h1.6m0 0h1.6m0 0h1.6m3 0h1.6m1 0h1.6m3 0h1.6m-1 0h1.6m5 0h1.6m25 0h1.6m17 0h1.6m36 0h1.6m32 0h1.6m7 0h1.6m-306 4.5h1.6m1 0h1.6m-1 0h1.6m0 0h1.6m3 0h1.6m0 0h1.6m0 0h1.6m3 0h1.6m-1 0h1.6m-1 0h1.6m-1 0h1.6m2 0h1.6m0 0h1.6m-2 0h1.6m0 0h1.6m4 0h1.6m-1 0h1.6m1 0h1.6m1 0h1.6m0 0h1.6m-1 0h1.6m3 0h1.6m-1 0h1.6m-2 0h1.6m-1 0h1.6m19 0h1.6m-1 0h1.6m-2 0h1.6m-1 0h1.6m-1 0h1.6m0 0h1.6m0 0h1.6m0 0h1.6m-1 0h1.6m0 0h1.6m-2 0h1.6m-1 0h1.6m-2 0h1.6m-1 0h1.6m1 0h1.6m-1 0h1.6m3 0h1.6m-1 0h1.6m-1 0h1.6m0 0h1.6m-1 0h1.6m2 0h1.6m0 0h1.6m-2 0h1.6m1 0h1.6m-2 0h1.6m-1 0h1.6m0 0h1.6m0 0h1.6m2 0h1.6m2 0h1.6m-1 0h1.6m-1 0h1.6m0 0h1.6m0 0h1.6m-1 0h1.6m2 0h1.6m0 0h1.6m-1 0h1.6m-1 0h1.6m14 0h1.6m2 0h1.6m0 0h1.6m-2 0h1.6m-1 0h1.6m-1 0h1.6m4 0h1.6m-2 0h1.6m-1 0h1.6m-1 0h1.6m-1 0h1.6m-1 0h1.6m-2 0h1.6m-1 0h1.6m-1 0h1.6m3 0h1.6m0 0h1.6m0 0h1.6m1 0h1.6m-1 0h1.6m-1 0h1.6m-1 0h1.6m-2 0h1.6m0 0h1.6m0 0h1.6m-1 0h1.6m-1 0h1.6m-1 0h1.6m-1 0h1.6m-2 0h1.6m-1 0h1.6m0 0h1.6m5 0h1.6m0 0h1.6m0 0h1.6m-1 0h1.6m0 0h1.6m-1 0h1.6m-1 0h1.6m-1 0h1.6m17 0h1.6m15 0h1.6m2 0h1.6m5 0h1.6m14 0h1.6m2 0h1.6m17 0h1.6m1 0h1.6m4 0h1.6m0 0h1.6m26 0h1.6m-301 5.1h1.6m-1 0h1.6m-1 0h1.6m2 0h1.6m2 0h1.6m0 0h1.6m-1 0h1.6m-1 0h1.6m-2 0h1.6m1 0h1.6m0 0h1.6m1 0h1.6m-1 0h1.6m1 0h1.6m0 0h1.6m1 0h1.6m-1 0h1.6m-2 0h1.6m1 0h1.6m2 0h1.6m3 0h1.6m-2 0h1.6m2 0h1.6m-1 0h1.6m-1 0h1.6m0 0h1.6m-1 0h1.6m0 0h1.6m2 0h1.6m1 0h1.6m13 0h1.6m1 0h1.6m0 0h1.6m-1 0h1.6m4 0h1.6m-1 0h1.6m-1 0h1.6m-1 0h1.6m-1 0h1.6m-1 0h1.6m-1 0h1.6m-1 0h1.6m0 0h1.6m0 0h1.6m0 0h1.6m1 0h1.6m-2 0h1.6m0 0h1.6m-1 0h1.6m-1 0h1.6m1 0h1.6m0 0h1.6m-1 0h1.6m-1 0h1.6m-1 0h1.6m-2 0h1.6m-1 0h1.6m-1 0h1.6m-2 0h1.6m-1 0h1.6m2 0h1.6m-2 0h1.6m-1 0h1.6m2 0h1.6m-2 0h1.6m-1 0h1.6m0 0h1.6m-1 0h1.6m-2 0h1.6m-1 0h1.6m-2 0h1.6m-1 0h1.6m-1 0h1.6m-1 0h1.6m-2 0h1.6m0 0h1.6m-1 0h1.6m-1 0h1.6m-1 0h1.6m-2 0h1.6m-1 0h1.6m-2 0h1.6m0 0h1.6m-1 0h1.6m1 0h1.6m14 0h1.6m0 0h1.6m-1 0h1.6m-1 0h1.6m0 0h1.6m-1 0h1.6m-1 0h1.6m-1 0h1.6m-2 0h1.6m-1 0h1.6m-1 0h1.6m3 0h1.6m-1 0h1.6m0 0h1.6m1 0h1.6m-2 0h1.6m0 0h1.6m0 0h1.6m-2 0h1.6m-1 0h1.6m0 0h1.6m-2 0h1.6m-1 0h1.6m-1 0h1.6m1 0h1.6m-1 0h1.6m-2 0h1.6m-1 0h1.6m-1 0h1.6m-1 0h1.6m-2 0h1.6m1 0h1.6m-2 0h1.6m-1 0h1.6m-1 0h1.6m0 0h1.6m2 0h1.6m-1 0h1.6m0 0h1.6m0 0h1.6m-1 0h1.6m0 0h1.6m-2 0h1.6m-1 0h1.6m0 0h1.6m-2 0h1.6m-1 0h1.6m-1 0h1.6m1 0h1.6m-1 0h1.6m-1 0h1.6m-1 0h1.6m-1 0h1.6m-1 0h1.6m-1 0h1.6m13 0h1.6m1 0h1.6m1 0h1.6m2 0h1.6m3 0h1.6m1 0h1.6m0 0h1.6m-1 0h1.6m3 0h1.6m5 0h1.6m0 0h1.6m4 0h1.6m1 0h1.6m0 0h1.6m3 0h1.6m17 0h1.6m1 0h1.6m11 0h1.6m1 0h1.6m3 0h1.6m7 0h1.6m3 0h1.6m3 0h1.6m1 0h1.6m-1 0h1.6m-303 5.7h1.6m-1 0h1.6m0 0h1.6m-1 0h1.6m0 0h1.6m-2 0h1.6m-1 0h1.6m-1 0h1.6m3 0h1.6m-2 0h1.6m1 0h1.6m0 0h1.6m-1 0h1.6m0 0h1.6m-2 0h1.6m1 0h1.6m-2 0h1.6m2 0h1.6m2 0h1.6m3 0h1.6m0 0h1.6m-1 0h1.6m2 0h1.6m1 0h1.6m1 0h1.6m-1 0h1.6m-2 0h1.6m-1 0h1.6m0 0h1.6m-2 0h1.6m-1 0h1.6m0 0h1.6m0 0h1.6m-1 0h1.6m0 0h1.6m15 0h1.6m-2 0h1.6m-1 0h1.6m0 0h1.6m-1 0h1.6m-2 0h1.6m0 0h1.6m-2 0h1.6m-1 0h1.6m0 0h1.6m-1 0h1.6m-1 0h1.6m-1 0h1.6m0 0h1.6m1 0h1.6m-1 0h1.6m0 0h1.6m0 0h1.6m-1 0h1.6m0 0h1.6m-1 0h1.6m-1 0h1.6m0 0h1.6m0 0h1.6m-1 0h1.6m0 0h1.6m2 0h1.6m-1 0h1.6m1 0h1.6m-1 0h1.6m-1 0h1.6m-1 0h1.6m-1 0h1.6m0 0h1.6m-1 0h1.6m-2 0h1.6m-1 0h1.6m-1 0h1.6m-1 0h1.6m-2 0h1.6m-1 0h1.6m0 0h1.6m-1 0h1.6m-2 0h1.6m-1 0h1.6m0 0h1.6m-1 0h1.6m0 0h1.6m-2 0h1.6m-1 0h1.6m2 0h1.6m-1 0h1.6m-1 0h1.6m-1 0h1.6m-2 0h1.6m14 0h1.6m-1 0h1.6m-1 0h1.6m-2 0h1.6m-1 0h1.6m0 0h1.6m-1 0h1.6m-2 0h1.6m0 0h1.6m-1 0h1.6m-1 0h1.6m1 0h1.6m-1 0h1.6m-1 0h1.6m-1 0h1.6m-2 0h1.6m-1 0h1.6m-1 0h1.6m0 0h1.6m-1 0h1.6m-1 0h1.6m1 0h1.6m-1 0h1.6m0 0h1.6m-1 0h1.6m-1 0h1.6m-1 0h1.6m1 0h1.6m0 0h1.6m-1 0h1.6m-2 0h1.6m-1 0h1.6m-1 0h1.6m-1 0h1.6m-2 0h1.6m-1 0h1.6m-1 0h1.6m1 0h1.6m-1 0h1.6m-1 0h1.6m3 0h1.6m-1 0h1.6m-2 0h1.6m-1 0h1.6m-1 0h1.6m-2 0h1.6m0 0h1.6m1 0h1.6m-1 0h1.6m-2 0h1.6m-1 0h1.6m-1 0h1.6m-1 0h1.6m-1 0h1.6m-1 0h1.6m-1 0h1.6m-2 0h1.6m0 0h1.6m1 0h1.6m-1 0h1.6m14 0h1.6m0 0h1.6m2 0h1.6m-2 0h1.6m-1 0h1.6m-1 0h1.6m0 0h1.6m-2 0h1.6m0 0h1.6m-1 0h1.6m-2 0h1.6m-1 0h1.6m2 0h1.6m0 0h1.6m-1 0h1.6m-2 0h1.6m1 0h1.6m1 0h1.6m-1 0h1.6m-1 0h1.6m2 0h1.6m-1 0h1.6m-1 0h1.6m-1 0h1.6m-2 0h1.6m0 0h1.6m-1 0h1.6m-1 0h1.6m0 0h1.6m-1 0h1.6m-1 0h1.6m-1 0h1.6m0 0h1.6m-1 0h1.6m-1 0h1.6m1 0h1.6m0 0h1.6m0 0h1.6m-1 0h1.6m-1 0h1.6m1 0h1.6m-1 0h1.6m3 0h1.6m-1 0h1.6m-2 0h1.6m14 0h1.6m-1 0h1.6m-2 0h1.6m2 0h1.6m1 0h1.6m-1 0h1.6m-1 0h1.6m-1 0h1.6m1 0h1.6m-1 0h1.6m1 0h1.6m-1 0h1.6m0 0h1.6m0 0h1.6m8 0h1.6m1 0h1.6m-1 0h1.6m0 0h1.6m0 0h1.6m-1 0h1.6m-1 0h1.6m-1 0h1.6m4 0h1.6m-1 0h1.6m1 0h1.6m-306 6.6h1.6m-1 0h1.6m-1 0h1.6m0 0h1.6m0 0h1.6m0 0h1.6m-1 0h1.6m2 0h1.6m-1 0h1.6m2 0h1.6m0 0h1.6m-2 0h1.6m-1 0h1.6m4 0h1.6m0 0h1.6m3 0h1.6m1 0h1.6m-1 0h1.6m-1 0h1.6m0 0h1.6m-1 0h1.6m-1 0h1.6m-2 0h1.6m-1 0h1.6m0 0h1.6m-1 0h1.6m-1 0h1.6m3 0h1.6m-1 0h1.6m0 0h1.6m-1 0h1.6m-1 0h1.6m-1 0h1.6m-1 0h1.6m1 0h1.6m13 0h1.6m-1 0h1.6m-1 0h1.6m-1 0h1.6m-1 0h1.6m-1 0h1.6m1 0h1.6m-2 0h1.6m-1 0h1.6m0 0h1.6m0 0h1.6m-1 0h1.6m0 0h1.6m-2 0h1.6m1 0h1.6m1 0h1.6m-1 0h1.6m1 0h1.6m-1 0h1.6m0 0h1.6m-1 0h1.6m-2 0h1.6m0 0h1.6m-1 0h1.6m-1 0h1.6m3 0h1.6m-2 0h1.6m-1 0h1.6m-1 0h1.6m-1 0h1.6m-1 0h1.6m-1 0h1.6m-2 0h1.6m-1 0h1.6m-1 0h1.6m-1 0h1.6m-1 0h1.6m-2 0h1.6m-1 0h1.6m-1 0h1.6m-1 0h1.6m-1 0h1.6m2 0h1.6m-1 0h1.6m-1 0h1.6m-2 0h1.6m0 0h1.6m-1 0h1.6m3 0h1.6m-2 0h1.6m-1 0h1.6m-2 0h1.6m0 0h1.6m-2 0h1.6m1 0h1.6m78 0h1.6m1 0h1.6m0 0h1.6m-1 0h1.6m1 0h1.6m-1 0h1.6m-1 0h1.6m0 0h1.6m3 0h1.6m-1 0h1.6m-1 0h1.6m-1 0h1.6m-2 0h1.6m-1 0h1.6m-1 0h1.6m-1 0h1.6m-1 0h1.6m-1 0h1.6m-1 0h1.6m-2 0h1.6m-1 0h1.6m0 0h1.6m-1 0h1.6m-1 0h1.6m0 0h1.6m-1 0h1.6m-1 0h1.6m-1 0h1.6m-2 0h1.6m-1 0h1.6m-2 0h1.6m-1 0h1.6m-1 0h1.6m-1 0h1.6m-1 0h1.6m-1 0h1.6m-2 0h1.6m-1 0h1.6m-1 0h1.6m-1 0h1.6m0 0h1.6m1 0h1.6m-2 0h1.6m3 0h1.6m-1 0h1.6m0 0h1.6m-1 0h1.6m-1 0h1.6m-1 0h1.6m-1 0h1.6m0 0h1.6m0 0h1.6m-2 0h1.6m-1 0h1.6m0 0h1.6m-1 0h1.6m-2 0h1.6m-1 0h1.6m0 0h1.6m-2 0h1.6m14 0h1.6m0 0h1.6m-1 0h1.6m0 0h1.6m-1 0h1.6m-1 0h1.6m-2 0h1.6m1 0h1.6m0 0h1.6m-1 0h1.6m0 0h1.6m-1 0h1.6m-1 0h1.6m-1 0h1.6m-1 0h1.6m-1 0h1.6m-1 0h1.6m-2 0h1.6m0 0h1.6m-1 0h1.6m-1 0h1.6m-1 0h1.6m-1 0h1.6m-1 0h1.6m-1 0h1.6m3 0h1.6m-1 0h1.6m0 0h1.6m-1 0h1.6m-1 0h1.6m-1 0h1.6m0 0h1.6m1 0h1.6m-2 0h1.6m-1 0h1.6m-1 0h1.6m0 0h1.6m1 0h1.6m-1 0h1.6m2 0h1.6m-1 0h1.6m-1 0h1.6m-1 0h1.6m-1 0h1.6m-1 0h1.6m-307 7.9h1.6m-1 0h1.6m0 0h1.6m2 0h1.6m4 0h1.6m-1 0h1.6m-2 0h1.6m-1 0h1.6m0 0h1.6m-2 0h1.6m-1 0h1.6m2 0h1.6m3 0h1.6m-1 0h1.6m-1 0h1.6m2 0h1.6m0 0h1.6m3 0h1.6m1 0h1.6m-1 0h1.6m-1 0h1.6m-1 0h1.6m-1 0h1.6m-2 0h1.6m-1 0h1.6m0 0h1.6m2 0h1.6m-2 0h1.6m0 0h1.6m3 0h1.6m14 0h1.6m0 0h1.6m-1 0h1.6m-2 0h1.6m-1 0h1.6m0 0h1.6m5 0h1.6m2 0h1.6m-1 0h1.6m-1 0h1.6m-2 0h1.6m0 0h1.6m-1 0h1.6m-2 0h1.6m-1 0h1.6m0 0h1.6m-1 0h1.6m-1 0h1.6m0 0h1.6m-2 0h1.6m-1 0h1.6m0 0h1.6m-1 0h1.6m-1 0h1.6m-1 0h1.6m-1 0h1.6m-1 0h1.6m-1 0h1.6m-1 0h1.6m-1 0h1.6m-1 0h1.6m-1 0h1.6m0 0h1.6m-1 0h1.6m-1 0h1.6m-1 0h1.6m-2 0h1.6m-1 0h1.6m-1 0h1.6m0 0h1.6m0 0h1.6m-2 0h1.6m1 0h1.6m-1 0h1.6m-1 0h1.6m0 0h1.6m-1 0h1.6m-1 0h1.6m-1 0h1.6m0 0h1.6m-1 0h1.6m0 0h1.6m0 0h1.6m-1 0h1.6m-1 0h1.6m144 0h1.6m0 0h1.6m0 0h1.6m-1 0h1.6m-1 0h1.6m-1 0h1.6m-2 0h1.6m0 0h1.6m-1 0h1.6m-1 0h1.6m-1 0h1.6m-2 0h1.6m0 0h1.6m-1 0h1.6m-2 0h1.6m-1 0h1.6m-1 0h1.6m-1 0h1.6m-2 0h1.6m-1 0h1.6m-1 0h1.6m-1 0h1.6m-1 0h1.6m-1 0h1.6m-1 0h1.6m-2 0h1.6m0 0h1.6m-1 0h1.6m-2 0h1.6m-1 0h1.6m0 0h1.6m-2 0h1.6m-1 0h1.6m-1 0h1.6m1 0h1.6m-2 0h1.6m0 0h1.6m-1 0h1.6m-1 0h1.6m0 0h1.6m0 0h1.6m0 0h1.6m2 0h1.6m0 0h1.6m-1 0h1.6m-1 0h1.6m-1 0h1.6m2 0h1.6m-1 0h1.6m-1 0h1.6m-2 0h1.6m-1 0h1.6m-1 0h1.6m0 0h1.6m0 0h1.6m1 0h1.6m-2 0h1.6m-1 0h1.6m-2 0h1.6m-1 0h1.6m-309 9.5h1.6m0 0h1.6m-2 0h1.6m-1 0h1.6m3 0h1.6m0 0h1.6m0 0h1.6m0 0h1.6m2 0h1.6m-2 0h1.6m4 0h1.6m3 0h1.6m0 0h1.6m-1 0h1.6m2 0h1.6m0 0h1.6m5 0h1.6m-1 0h1.6m0 0h1.6m2 0h1.6m-1 0h1.6m0 0h1.6m16 0h1.6m-1 0h1.6m-2 0h1.6m1 0h1.6m-2 0h1.6m1 0h1.6m0 0h1.6m-1 0h1.6m-2 0h1.6m-1 0h1.6m-1 0h1.6m-1 0h1.6m0 0h1.6m0 0h1.6m-2 0h1.6m0 0h1.6m-1 0h1.6m2 0h1.6m3 0h1.6m0 0h1.6m0 0h1.6m-2 0h1.6m-1 0h1.6m0 0h1.6m-1 0h1.6m-1 0h1.6m1 0h1.6m0 0h1.6m0 0h1.6m-1 0h1.6m-1 0h1.6m1 0h1.6m0 0h1.6m-1 0h1.6m-2 0h1.6m-1 0h1.6m-1 0h1.6m0 0h1.6m-2 0h1.6m-1 0h1.6m-1 0h1.6m-1 0h1.6m-1 0h1.6m-1 0h1.6m-1 0h1.6m-2 0h1.6m-1 0h1.6m-1 0h1.6m-1 0h1.6m0 0h1.6m-115 12.4h1.6m3 0h1.6m1 0h1.6m4 0h1.6m-1 0h1.6m3 0h1.6m1 0h1.6m0 0h1.6m5 0h1.6m2 0h1.6m-1 0h1.6m-2 0h1.6m3 0h1.6m1 0h1.6m3 0h1.6m2 0h1.6m15 0h1.6m5 0h1.6m-1 0h1.6m1 0h1.6m0 0h1.6m-2 0h1.6m-1 0h1.6m-1 0h1.6m-1 0h1.6m-1 0h1.6m-1 0h1.6m-2 0h1.6m-1 0h1.6m0 0h1.6m-2 0h1.6m1 0h1.6m-1 0h1.6m-2 0h1.6m-1 0h1.6m-1 0h1.6m-1 0h1.6m0 0h1.6m-1 0h1.6m0 0h1.6m-1 0h1.6m-1 0h1.6m1 0h1.6m-1 0h1.6m-1 0h1.6m2 0h1.6m-1 0h1.6m-2 0h1.6m0 0h1.6m0 0h1.6m0 0h1.6m-1 0h1.6m0 0h1.6m0 0h1.6m-1 0h1.6m-1 0h1.6m-2 0h1.6m-1 0h1.6m-1 0h1.6m3 0h1.6m0 0h1.6m-116 17.4h1.6m0 0h1.6m3 0h1.6m-1 0h1.6m2 0h1.6m0 0h1.6m-1 0h1.6m4 0h1.6m-1 0h1.6m4 0h1.6m4 0h1.6m-1 0h1.6m0 0h1.6m14 0h1.6m17 0h1.6m-1 0h1.6m0 0h1.6m0 0h1.6m0 0h1.6m0 0h1.6m0 0h1.6m-1 0h1.6m2 0h1.6m3 0h1.6m0 0h1.6m-2 0h1.6m-1 0h1.6m-1 0h1.6m-2 0h1.6m-1 0h1.6m-1 0h1.6m0 0h1.6m0 0h1.6m0 0h1.6m-2 0h1.6m-1 0h1.6m-1 0h1.6m-1 0h1.6m0 0h1.6m1 0h1.6m-1 0h1.6m-1 0h1.6m0 0h1.6m-2 0h1.6m0 0h1.6m1 0h1.6m-1 0h1.6m-1 0h1.6m1 0h1.6m3 0h1.6m-1 0h1.6m-1 0h1.6m0 0h1.6m-1 0h1.6m-106 29.7h1.6m21 0h1.6m35 0h1.6m6 0h1.6m7 0h1.6m-1 0h1.6m8 0h1.6m-1 0h1.6m2 0h1.6m2 0h1.6m24 0h1.6m-1 0h1.6m1 0h1.6m-1 0h1.6m-1 0h1.6m1 0h1.6m-2 0h1.6m1 0h1.6m-1 0h1.6m-1 0h1.6m-1 0h1.6m2 0h1.6m1 0h1.6m3 0h1.6m3 0h1.6m1 0h1.6m0 0h1.6m4 0h1.6m-1 0h1.6m1 0h1.6m0 0h1.6m0 0h1.6m1 0h1.6m0 0h1.6m1 0h1.6" stroke="#111" stroke-width="2" fill="none"/>
<path d="M958.5 195.1h51M958.5 177.7h51M958.5 165.3h51M958.5 155.8h51M958.5 147.9h51M1023.1 224.8h51M1023.1 195.1h51M1023.1 177.7h51M1023.1 165.3h51M1023.1 155.8h51M1087.7 224.8h51M1087.7 195.1h51M1087.7 177.7h51M1087.7 165.3h51" stroke="#111" stroke-width="2.3" fill="none"/>
<text x="805.8" y="229.3" font-size="24" text-anchor="end">0</text>
<text x="805.8" y="186.4" font-size="24" text-anchor="end">1</text>
<text x="805.8" y="143.5" font-size="24" text-anchor="end">2</text>
<text x="805.8" y="100.6" font-size="24" text-anchor="end">3</text>
<path d="M815.8 91V231.2H1152M811.8 224.8H815.8M811.8 181.9H815.8M811.8 139H815.8M811.8 96.1H815.8M854 231.2V236.2M919 231.2V236.2M984 231.2V236.2M1048.6 231.2V236.2M1113.2 231.2V236.2" stroke="#222" stroke-width="1.6" fill="none"/>
<text x="854" y="270" font-size="27.5" text-anchor="middle">A</text>
<text x="919" y="270" font-size="27.5" text-anchor="middle">B</text>
<text x="984" y="270" font-size="27.5" text-anchor="middle">C</text>
<text x="1048.6" y="270" font-size="27.5" text-anchor="middle">D</text>
<text x="1113.2" y="270" font-size="27.5" text-anchor="middle">E</text>
<text x="1351.5" y="82" font-size="28.5" text-anchor="middle" font-style="italic">Nr1i3</text>
<path d="M1250.3 224.8l-0.5-1.2-3.8-2.5-12.3-5-4.9-2.5-3.1-2.5-0.9-1.3-1-2.5 0.1-2.5 0.5-1.2 1.8-2.5 1.6-1.3 4.4-2.5 15.5-6.2 2.2-1.2 1.2-1.3 0.2-1.2-0.8-1.3-1.8-1.2-13.1-6.3-1.5-1.2-0.8-1.3 0-1.2 0.6-1.3 6-6.2 0.5-2.5-4.1-7.5-0.3-8.7-8.9-23.7-1.3-5-0.8-6.3-4.2 0-0.8 6.3-1.3 5-8.9 23.7-0.3 8.7-4.1 7.5 0.5 2.5 6 6.2 0.6 1.3 0 1.2-0.8 1.3-1.5 1.2-13.1 6.3-1.8 1.2-0.8 1.3 0.2 1.2 1.2 1.3 2.2 1.2 15.5 6.2 4.4 2.5 1.6 1.3 1.8 2.5 0.6 2.5-0.4 2.5-1.5 2.5-3.1 2.5-4.9 2.5-12.3 5-3.8 2.5-0.5 1.2z" fill="#f8766d" stroke="#222" stroke-width="1.1"/><path d="M1314 224.8l-0.8-1.4-2.4-1.5-18.7-7.2-4-2.9-1.7-2.8-0.2-4.4 0.3-1.4 1.8-2.9 4.2-2.9 17.5-7.2 1.9-1.4 0.3-1.4-1.2-1.5-2.5-1.4-13.3-5.8-1.7-1.4-0.6-1.5 0.3-1.4 1.2-1.4 5.3-4.4 1.1-1.4 0.3-1.4-0.4-1.5-3.6-4.3-1.7-2.9-0.2-1.4 0.5-4.3-0.3-2.9-3-7.2-4-13-2.1-14.4-0.1-17.3-1.2 0-0.1 17.3-2.1 14.4-4 13-3 7.2-0.3 2.9 0.5 4.3-0.2 1.4-1.7 2.9-3.6 4.3-0.4 1.5 0.3 1.4 1.1 1.4 5.3 4.4 1.2 1.4 0.3 1.4-0.6 1.5-1.7 1.4-13.3 5.8-2.5 1.4-1.2 1.5 0.3 1.4 1.9 1.4 17.5 7.2 4.2 2.9 1.8 2.9 0.3 1.4-0.2 4.4-1.7 2.8-4 2.9-18.7 7.2-2.4 1.5-0.8 1.4z" fill="#f9aa3c" stroke="#222" stroke-width="1.1"/><path d="M1377.4 224.8l-0.7-1.2-1.9-1.1-19.7-7.1-3.5-2.3-1.7-2.3-0.3-1.2 0-8.2 1-2.3 3.7-3.5 8.9-5.9 0.8-1.2 0.1-1.1-1.9-2.4-8.7-5.8-1.7-2.4 0-2.3 3.6-5.9 0.7-2.3-0.5-2.3-2.8-4.7-1.2-3.5-0.1-5.9-1.3-8.2-0.5-8.2-0.1-12.8-1.2 0-0.1 12.8-0.5 8.2-1.3 8.2-0.1 5.9-1.2 3.5-2.8 4.7-0.5 2.3 0.7 2.3 3.6 5.9 0 2.3-1.7 2.4-8.7 5.8-1.9 2.4 0.1 1.1 0.8 1.2 8.9 5.9 3.7 3.5 1 2.3 0 8.2-0.3 1.2-1.7 2.3-3.5 2.3-19.7 7.1-1.9 1.1-0.7 1.2z" fill="#19b378" stroke="#222" stroke-width="1.1"/><path d="M1440.2 224.8l-0.9-1.2-2.7-1.3-12.6-3.7-6.8-2.5-3.5-2.5-1.3-2.5 0.1-13.8 1-2.5 2.9-4.9 0.5-2.5-0.9-2.5-2.8-5-0.7-2.5 0.6-3.8 2.2-5 0.6-2.5-0.5-2.5-2.1-4.9-0.5-2.5-0.4-12.5 0-30-1.2 0 0 30-0.4 12.5-0.5 2.5-2.1 4.9-0.5 2.5 0.6 2.5 2.2 5 0.6 3.8-0.7 2.5-2.8 5-0.9 2.5 0.5 2.5 2.9 4.9 1 2.5 0.1 13.8-1.3 2.5-3.5 2.5-6.8 2.5-12.6 3.7-2.7 1.3-0.9 1.2z" fill="#1cb0ef" stroke="#222" stroke-width="1.1"/><path d="M1475 224.8V120.7" stroke="#222" stroke-width="1.2"/>
<path d="M1304 96.8h1.6m-39 10.7h1.6m10 0h1.6m-74 6.3h1.6m12 0h1.6m10 0h1.6m174 0h1.6m5 0h1.6m12 0h1.6m-231 7.1h1.6m15 0h1.6m26 0h1.6m25 0h1.6m4 0h1.6m12 0h1.6m5 0h1.6m30 0h1.6m11 0h1.6m-2 0h1.6m50 0h1.6m2 0h1.6m-1 0h1.6m29 0h1.6m67 0h1.6m-283 8.2h1.6m-1 0h1.6m7 0h1.6m3 0h1.6m1 0h1.6m0 0h1.6m0 0h1.6m12 0h1.6m14 0h1.6m3 0h1.6m-2 0h1.6m3 0h1.6m11 0h1.6m6 0h1.6m9 0h1.6m0 0h1.6m20 0h1.6m5 0h1.6m0 0h1.6m5 0h1.6m6 0h1.6m-1 0h1.6m4 0h1.6m14 0h1.6m19 0h1.6m1 0h1.6m10 0h1.6m13 0h1.6m4 0h1.6m12 0h1.6m-238 9.8h1.6m0 0h1.6m4 0h1.6m5 0h1.6m5 0h1.6m7 0h1.6m8 0h1.6m1 0h1.6m1 0h1.6m1 0h1.6m-1 0h1.6m-2 0h1.6m14 0h1.6m1 0h1.6m-1 0h1.6m-1 0h1.6m1 0h1.6m2 0h1.6m3 0h1.6m0 0h1.6m8 0h1.6m-1 0h1.6m0 0h1.6m0 0h1.6m1 0h1.6m-2 0h1.6m1 0h1.6m-1 0h1.6m-1 0h1.6m-1 0h1.6m1 0h1.6m-1 0h1.6m1 0h1.6m-2 0h1.6m1 0h1.6m-1 0h1.6m-1 0h1.6m17 0h1.6m7 0h1.6m-1 0h1.6m2 0h1.6m-1 0h1.6m-1 0h1.6m-1 0h1.6m-1 0h1.6m-1 0h1.6m0 0h1.6m2 0h1.6m0 0h1.6m1 0h1.6m2 0h1.6m1 0h1.6m2 0h1.6m-1 0h1.6m4 0h1.6m2 0h1.6m1 0h1.6m11 0h1.6m0 0h1.6m-1 0h1.6m9 0h1.6m2 0h1.6m3 0h1.6m1 0h1.6m0 0h1.6m2 0h1.6m0 0h1.6m0 0h1.6m13 0h1.6m23 0h1.6m34 0h1.6m-297 11.9h1.6m0 0h1.6m-2 0h1.6m1 0h1.6m-1 0h1.6m1 0h1.6m-1 0h1.6m-1 0h1.6m-1 0h1.6m1 0h1.6m1 0h1.6m-1 0h1.6m-2 0h1.6m1 0h1.6m-1 0h1.6m-1 0h1.6m1 0h1.6m-1 0h1.6m-1 0h1.6m-2 0h1.6m-1 0h1.6m-2 0h1.6m1 0h1.6m-1 0h1.6m-1 0h1.6m1 0h1.6m-1 0h1.6m-2 0h1.6m-1 0h1.6m1 0h1.6m0 0h1.6m-1 0h1.6m-1 0h1.6m0 0h1.6m-1 0h1.6m2 0h1.6m0 0h1.6m-2 0h1.6m-1 0h1.6m-1 0h1.6m-1 0h1.6m1 0h1.6m-2 0h1.6m1 0h1.6m-1 0h1.6m13 0h1.6m0 0h1.6m0 0h1.6m-2 0h1.6m-1 0h1.6m-1 0h1.6m-1 0h1.6m-1 0h1.6m-2 0h1.6m-1 0h1.6m-2 0h1.6m-1 0h1.6m1 0h1.6m-1 0h1.6m0 0h1.6m-1 0h1.6m-1 0h1.6m-1 0h1.6m-2 0h1.6m1 0h1.6m2 0h1.6m-2 0h1.6m0 0h1.6m-1 0h1.6m-1 0h1.6m-2 0h1.6m-1 0h1.6m-1 0h1.6m1 0h1.6m0 0h1.6m-1 0h1.6m-1 0h1.6m-1 0h1.6m-2 0h1.6m-1 0h1.6m-1 0h1.6m-2 0h1.6m-1 0h1.6m-1 0h1.6m-1 0h1.6m-2 0h1.6m2 0h1.6m1 0h1.6m-1 0h1.6m-1 0h1.6m0 0h1.6m-1 0h1.6m-2 0h1.6m2 0h1.6m0 0h1.6m-2 0h1.6m0 0h1.6m-2 0h1.6m2 0h1.6m0 0h1.6m12 0h1.6m-1 0h1.6m-2 0h1.6m-1 0h1.6m-1 0h1.6m-1 0h1.6m-2 0h1.6m0 0h1.6m2 0h1.6m-1 0h1.6m-1 0h1.6m-1 0h1.6m-1 0h1.6m0 0h1.6m0 0h1.6m-1 0h1.6m-1 0h1.6m-1 0h1.6m0 0h1.6m-1 0h1.6m-1 0h1.6m-1 0h1.6m-1 0h1.6m-2 0h1.6m0 0h1.6m-1 0h1.6m-2 0h1.6m2 0h1.6m-1 0h1.6m-2 0h1.6m0 0h1.6m-2 0h1.6m0 0h1.6m-1 0h1.6m0 0h1.6m-1 0h1.6m-2 0h1.6m-1 0h1.6m-1 0h1.6m-1 0h1.6m0 0h1.6m-2 0h1.6m1 0h1.6m-2 0h1.6m-1 0h1.6m3 0h1.6m-2 0h1.6m0 0h1.6m-1 0h1.6m-2 0h1.6m-1 0h1.6m0 0h1.6m0 0h1.6m-2 0h1.6m-1 0h1.6m-1 0h1.6m1 0h1.6m-1 0h1.6m0 0h1.6m-1 0h1.6m11 0h1.6m1 0h1.6m-1 0h1.6m-1 0h1.6m1 0h1.6m0 0h1.6m-1 0h1.6m-1 0h1.6m-1 0h1.6m-2 0h1.6m-1 0h1.6m-1 0h1.6m0 0h1.6m-1 0h1.6m-1 0h1.6m1 0h1.6m-1 0h1.6m-2 0h1.6m-1 0h1.6m-1 0h1.6m1 0h1.6m-2 0h1.6m0 0h1.6m1 0h1.6m1 0h1.6m-1 0h1.6m0 0h1.6m-1 0h1.6m-1 0h1.6m-1 0h1.6m0 0h1.6m-1 0h1.6m-2 0h1.6m0 0h1.6m0 0h1.6m-1 0h1.6m-1 0h1.6m-1 0h1.6m0 0h1.6m0 0h1.6m1 0h1.6m-1 0h1.6m-1 0h1.6m-2 0h1.6m0 0h1.6m-1 0h1.6m-1 0h1.6m-1 0h1.6m0 0h1.6m-1 0h1.6m15 0h1.6m5 0h1.6m-1 0h1.6m-1 0h1.6m-1 0h1.6m-1 0h1.6m-1 0h1.6m1 0h1.6m3 0h1.6m-1 0h1.6m0 0h1.6m5 0h1.6m-2 0h1.6m2 0h1.6m-1 0h1.6m4 0h1.6m4 0h1.6m1 0h1.6m0 0h1.6m1 0h1.6m-304 15.3h1.6m-2 0h1.6m0 0h1.6m0 0h1.6m-1 0h1.6m-1 0h1.6m-1 0h1.6m-1 0h1.6m-2 0h1.6m0 0h1.6m0 0h1.6m-2 0h1.6m-1 0h1.6m-1 0h1.6m-2 0h1.6m-1 0h1.6m-1 0h1.6m-1 0h1.6m0 0h1.6m-1 0h1.6m0 0h1.6m-1 0h1.6m-2 0h1.6m0 0h1.6m-1 0h1.6m-2 0h1.6m0 0h1.6m-1 0h1.6m-2 0h1.6m2 0h1.6m-1 0h1.6m-1 0h1.6m-1 0h1.6m0 0h1.6m1 0h1.6m-1 0h1.6m0 0h1.6m0 0h1.6m-1 0h1.6m-1 0h1.6m-1 0h1.6m-1 0h1.6m0 0h1.6m-1 0h1.6m0 0h1.6m-1 0h1.6m-1 0h1.6m-2 0h1.6m-1 0h1.6m-1 0h1.6m0 0h1.6m-1 0h1.6m-1 0h1.6m-2 0h1.6m-1 0h1.6m2 0h1.6m-1 0h1.6m-1 0h1.6m1 0h1.6m-1 0h1.6m201 0h1.6m0 0h1.6m1 0h1.6m0 0h1.6m-1 0h1.6m0 0h1.6m-2 0h1.6m2 0h1.6m2 0h1.6m0 0h1.6m-1 0h1.6m3 0h1.6m1 0h1.6m-2 0h1.6m1 0h1.6m3 0h1.6m-1 0h1.6m3 0h1.6m-2 0h1.6m1 0h1.6m-1 0h1.6m4 0h1.6m-1 0h1.6m0 0h1.6m0 0h1.6m-51 21.7h1.6m-1 0h1.6m0 0h1.6m0 0h1.6m1 0h1.6m-2 0h1.6m4 0h1.6m-1 0h1.6m0 0h1.6m0 0h1.6m-1 0h1.6m0 0h1.6m3 0h1.6m0 0h1.6m1 0h1.6m0 0h1.6m0 0h1.6m-1 0h1.6m1 0h1.6m-1 0h1.6m1 0h1.6m0 0h1.6m-1 0h1.6m-1 0h1.6m-1 0h1.6m-2 0h1.6m-2 0h1.6m7 0h1.6m1 0h1.6m-1 0h1.6m-302 37h1.6m-1 0h1.6m-2 0h1.6m0 0h1.6m1 0h1.6m-2 0h1.6m-1 0h1.6m1 0h1.6m1 0h1.6m-2 0h1.6m-1 0h1.6m-1 0h1.6m0 0h1.6m-1 0h1.6m-1 0h1.6m-1 0h1.6m0 0h1.6m-2 0h1.6m1 0h1.6m-1 0h1.6m-1 0h1.6m-1 0h1.6m-1 0h1.6m-1 0h1.6m1 0h1.6m-1 0h1.6m0 0h1.6m-2 0h1.6m-1 0h1.6m-1 0h1.6m1 0h1.6m-1 0h1.6m0 0h1.6m0 0h1.6m-1 0h1.6m-2 0h1.6m-1 0h1.6m0 0h1.6m-1 0h1.6m-1 0h1.6m0 0h1.6m-1 0h1.6m-1 0h1.6m-1 0h1.6m1 0h1.6m1 0h1.6m-2 0h1.6m-1 0h1.6m-1 0h1.6m-1 0h1.6" stroke="#111" stroke-width="2" fill="none"/>
<path d="M1197.4 187.8h51M1260.1 224.8h51M1260.1 187.8h51M1260.1 166.1h51M1323.5 224.8h51M1323.5 187.8h51M1323.5 166.1h51M1386.3 224.8h51M1386.3 187.8h51M1386.3 166.1h51M1449.5 224.8h51" stroke="#111" stroke-width="2.3" fill="none"/>
<text x="1174.8" y="229.3" font-size="24" text-anchor="end">0</text>
<text x="1174.8" y="175.9" font-size="24" text-anchor="end">1</text>
<text x="1174.8" y="122.5" font-size="24" text-anchor="end">2</text>
<path d="M1184.8 91V231.2H1513M1180.8 224.8H1184.8M1180.8 171.4H1184.8M1180.8 118H1184.8M1180.8 198.1H1184.8M1180.8 144.7H1184.8M1222.9 231.2V236.2M1285.6 231.2V236.2M1349 231.2V236.2M1411.8 231.2V236.2M1475 231.2V236.2" stroke="#222" stroke-width="1.6" fill="none"/>
<text x="1222.9" y="270" font-size="27.5" text-anchor="middle">A</text>
<text x="1285.6" y="270" font-size="27.5" text-anchor="middle">B</text>
<text x="1349" y="270" font-size="27.5" text-anchor="middle">C</text>
<text x="1411.8" y="270" font-size="27.5" text-anchor="middle">D</text>
<text x="1475" y="270" font-size="27.5" text-anchor="middle">E</text>
<text x="1711" y="82" font-size="28.5" text-anchor="middle" font-style="italic">Pdx1</text>
<path d="M1611.9 224.8l-0.4-1.4-2.9-2.9-15.6-8.6-4-2.9-3.5-4.3-1.4-4.3 0-8.7 1.3-4.3 2.6-4.3 8.2-8.6 1.7-2.9 0.3-1.4-0.1-1.5-1.2-2.9-7.5-8.6-2-4.3 0.2-4.3 2.7-7.2 0.8-4.3-0.5-2.9-3.2-8.6-0.9-4.3-1.8-24.5-2.4 0-1.8 24.5-0.9 4.3-2.8 7.2-0.7 2.8 0.2 4.3 3.1 8.7 0.2 4.3-2 4.3-7.5 8.6-1.2 2.9-0.1 1.5 0.3 1.4 1.7 2.9 8.2 8.6 2.6 4.3 1.3 4.3 0 8.7-0.3 1.4-2 4.3-2.6 2.9-4 2.9-15.6 8.6-2.9 2.9-0.4 1.4z" fill="#f8766d" stroke="#222" stroke-width="1.1"/><path d="M1646.4 224.8V114.3" stroke="#222" stroke-width="1.2"/><path d="M1709.3 224.8V137.4" stroke="#222" stroke-width="1.2"/><path d="M1772.4 224.8V137.4" stroke="#222" stroke-width="1.2"/><path d="M1835.3 224.8V96.8" stroke="#222" stroke-width="1.2"/>
<path d="M1564 96.8h1.6m11 0h1.6m0 0h1.6m28 0h1.6m210 0h1.6m-248 17.8h1.6m2 0h1.6m-1 0h1.6m0 0h1.6m4 0h1.6m-1 0h1.6m4 0h1.6m0 0h1.6m0 0h1.6m6 0h1.6m4 0h1.6m-1 0h1.6m13 0h1.6m-66 22.9h1.6m-1 0h1.6m-1 0h1.6m-1 0h1.6m-1 0h1.6m1 0h1.6m-2 0h1.6m-1 0h1.6m-1 0h1.6m-1 0h1.6m0 0h1.6m-1 0h1.6m0 0h1.6m-1 0h1.6m0 0h1.6m-1 0h1.6m1 0h1.6m0 0h1.6m-2 0h1.6m-1 0h1.6m1 0h1.6m-1 0h1.6m-1 0h1.6m1 0h1.6m-1 0h1.6m-1 0h1.6m-2 0h1.6m-1 0h1.6m1 0h1.6m5 0h1.6m-2 0h1.6m-1 0h1.6m0 0h1.6m-1 0h1.6m1 0h1.6m3 0h1.6m-1 0h1.6m0 0h1.6m1 0h1.6m-1 0h1.6m20 0h1.6m2 0h1.6m9 0h1.6m2 0h1.6m4 0h1.6m8 0h1.6m-2 0h1.6m-1 0h1.6m1 0h1.6m-1 0h1.6m24 0h1.6m13 0h1.6m0 0h1.6m9 0h1.6m2 0h1.6m1 0h1.6m21 0h1.6m8 0h1.6m6 0h1.6m0 0h1.6m47 0h1.6m6 0h1.6m18 0h1.6m9 0h1.6m-1 0h1.6m-234 32.2h1.6m-1 0h1.6m0 0h1.6m2 0h1.6m0 0h1.6m1 0h1.6m0 0h1.6m-2 0h1.6m-1 0h1.6m-1 0h1.6m-1 0h1.6m-1 0h1.6m1 0h1.6m-1 0h1.6m-2 0h1.6m1 0h1.6m-1 0h1.6m-1 0h1.6m2 0h1.6m-1 0h1.6m0 0h1.6m-1 0h1.6m-1 0h1.6m-2 0h1.6m-1 0h1.6m-1 0h1.6m-2 0h1.6m1 0h1.6m-1 0h1.6m-1 0h1.6m-2 0h1.6m-1 0h1.6m-1 0h1.6m-2 0h1.6m0 0h1.6m0 0h1.6m-1 0h1.6m-1 0h1.6m-1 0h1.6m0 0h1.6m-2 0h1.6m0 0h1.6m2 0h1.6m-1 0h1.6m1 0h1.6m-2 0h1.6m0 0h1.6m-2 0h1.6m1 0h1.6m-1 0h1.6m15 0h1.6m0 0h1.6m-1 0h1.6m0 0h1.6m3 0h1.6m4 0h1.6m0 0h1.6m-1 0h1.6m1 0h1.6m2 0h1.6m7 0h1.6m4 0h1.6m0 0h1.6m-1 0h1.6m6 0h1.6m23 0h1.6m5 0h1.6m-1 0h1.6m6 0h1.6m38 0h1.6m4 0h1.6m3 0h1.6m1 0h1.6m11 0h1.6m6 0h1.6m-289 55.1h1.6m-1 0h1.6m-1 0h1.6m1 0h1.6m-1 0h1.6m-1 0h1.6m0 0h1.6m-1 0h1.6m-1 0h1.6m-1 0h1.6m0 0h1.6m0 0h1.6m0 0h1.6m-1 0h1.6m-1 0h1.6m0 0h1.6m-1 0h1.6m-1 0h1.6m4 0h1.6m0 0h1.6m3 0h1.6m-1 0h1.6m3 0h1.6m-2 0h1.6m0 0h1.6m0 0h1.6m-1 0h1.6m0 0h1.6m0 0h1.6m1 0h1.6m-2 0h1.6m0 0h1.6m-2 0h1.6m-2 0h1.6m-1 0h1.6m0 0h1.6m-2 0h1.6m2 0h1.6m-2 0h1.6m0 0h1.6" stroke="#111" stroke-width="2" fill="none"/>
<path d="M1558 169.7h51M1620.9 224.8h51M1683.8 224.8h51M1746.9 224.8h51M1809.8 224.8h51" stroke="#111" stroke-width="2.3" fill="none"/>
<text x="1536" y="229.3" font-size="24" text-anchor="end">0</text>
<text x="1536" y="149.8" font-size="24" text-anchor="end">1</text>
<path d="M1546 91V231.2H1873M1542 224.8H1546M1542 145.3H1546M1542 185.1H1546M1542 105.6H1546M1583.5 231.2V236.2M1646.4 231.2V236.2M1709.3 231.2V236.2M1772.4 231.2V236.2M1835.3 231.2V236.2" stroke="#222" stroke-width="1.6" fill="none"/>
<text x="1583.5" y="270" font-size="27.5" text-anchor="middle">A</text>
<text x="1646.4" y="270" font-size="27.5" text-anchor="middle">B</text>
<text x="1709.3" y="270" font-size="27.5" text-anchor="middle">C</text>
<text x="1772.4" y="270" font-size="27.5" text-anchor="middle">D</text>
<text x="1835.3" y="270" font-size="27.5" text-anchor="middle">E</text>
<text x="243.1" y="417.4" font-size="28.5" text-anchor="middle" font-style="italic">Cdx1</text>
<path d="M144.4 560.2l-0.3-1.1-2.7-2.2-14.8-6.7-4.1-2.2-3.9-3.4-1.8-3.3-0.2-13.4 0.5-2.2 2.3-4.5 5.2-6.7 1.2-3.3-0.7-3.3-5.8-7.8-1.9-4.5-0.2-3.3 1.2-11.2-1.4-11.1-0.2-8.9-1.6 0-0.2 8.9-1.3 10 0.1 4.5 1 7.8-0.2 3.3-1.9 4.5-5.8 7.8-0.7 3.3 1.2 3.3 5.2 6.7 2.3 4.5 0.5 2.2-0.2 13.4-1.8 3.3-3.9 3.4-4.1 2.2-14.8 6.7-2.7 2.2-0.3 1.1z" fill="#f8766d" stroke="#222" stroke-width="1.1"/><path d="M207.4 560.2l-0.5-1.3-3.4-2.6-14.5-6.4-4.5-2.6-2.8-2.6-2-3.8 0-12.9 0.8-2.6 2.4-3.9 7.1-7.7 1-2.6 0-1.3-1.3-2.6-6.9-7.7-1.7-3.9 0.3-3.9 2.4-6.4 0.6-3.9-0.4-2.6-2.9-7.7-0.8-3.9-0.7-21.9-1.2 0 0 6.5-0.9 16.7-1 3.9-2.5 6.4-0.4 2.6 0.6 3.9 2.4 6.4 0.3 3.9-1.7 3.9-6.9 7.7-1.3 2.6 0 1.3 1 2.6 7.1 7.7 2.4 3.9 0.8 2.6 0 12.9-2 3.8-2.8 2.6-4.5 2.6-14.5 6.4-3.4 2.6-0.5 1.3z" fill="#f9aa3c" stroke="#222" stroke-width="1.1"/><path d="M270.4 560.2l-0.5-1.3-3.4-2.6-14.5-6.4-4.5-2.6-2.8-2.6-2-3.8-0.1-12.9 0.6-2.6 2-3.9 5.8-7.7 0.8-2.6 0-1.3-1-2.6-5.8-7.7-1.4-3.9-0.1-3.9 1.4-6.4 0.4-3.9-2.3-12.9-0.4-23.2-1.2 0-0.4 23.2-2.3 12.9 0.4 3.9 1.4 6.4-0.1 3.9-1.4 3.9-5.8 7.7-1 2.6 0 1.3 0.8 2.6 5.8 7.7 2 3.9 0.6 2.6-0.1 12.9-2 3.8-2.8 2.6-4.5 2.6-14.5 6.4-3.4 2.6-0.5 1.3z" fill="#19b378" stroke="#222" stroke-width="1.1"/><path d="M333.6 560.2l-0.5-1.3-3.4-2.6-14.5-6.4-4.5-2.6-2.8-2.6-2-3.8-0.1-12.9 0.4-2.6 1.7-3.9 5-7.7 0.7-2.6-0.9-3.9-4.8-7.7-1.1-3.9 0.3-3.9 2.1-6.4 0.5-3.9-0.4-2.6-2.4-7.7-0.6-3.9-0.5-21.9-1.2 0-0.6 23.2-2.9 10.3-0.4 2.6 0.5 3.9 2.1 6.4 0.3 3.9-1.1 3.9-4.8 7.7-0.9 3.9 0.7 2.6 5 7.7 1.7 3.9 0.4 2.6-0.1 12.9-2 3.8-2.8 2.6-4.5 2.6-14.5 6.4-3.4 2.6-0.5 1.3z" fill="#1cb0ef" stroke="#222" stroke-width="1.1"/><path d="M396.6 560.2l-0.5-1.4-3.5-2.9-14.7-7.2-4.4-2.8-2.7-2.9-1.9-4.3 0.2-11.5 1.4-4.3 4.6-8.6 0.7-2.9-0.7-4.3-3.5-7.1-0.7-2.9 0.5-4.3 3-7.2 0.8-4.3-0.6-2.8-3.6-8.6-0.9-4.3-1-15.8-0.3-17.2-1.2 0-0.3 17.2-1 15.8-0.9 4.3-3.6 8.6-0.6 2.8 0.8 4.3 3 7.2 0.5 4.3-0.7 2.9-3.5 7.1-0.7 2.9 0.7 4.3 4.6 8.6 1.4 4.3 0.2 11.5-1.9 4.3-2.7 2.9-4.4 2.8-14.7 7.2-3.5 2.9-0.5 1.4z" fill="#b987f6" stroke="#222" stroke-width="1.1"/>
<path d="M344 432.4h1.6m28 0h1.6m2 0h1.6m-196 13h1.6m39 0h1.6m7 0h1.6m10 0h1.6m0 0h1.6m15 0h1.6m17 0h1.6m0 0h1.6m0 0h1.6m3 0h1.6m4 0h1.6m7 0h1.6m3 0h1.6m-1 0h1.6m0 0h1.6m6 0h1.6m0 0h1.6m-1 0h1.6m24 0h1.6m8 0h1.6m16 0h1.6m5 0h1.6m12 0h1.6m-303 16h1.6m21 0h1.6m-2 0h1.6m0 0h1.6m0 0h1.6m2 0h1.6m7 0h1.6m6 0h1.6m18 0h1.6m9 0h1.6m0 0h1.6m-1 0h1.6m-1 0h1.6m3 0h1.6m5 0h1.6m-1 0h1.6m-1 0h1.6m6 0h1.6m3 0h1.6m-2 0h1.6m23 0h1.6m-1 0h1.6m-1 0h1.6m-2 0h1.6m-1 0h1.6m0 0h1.6m-2 0h1.6m1 0h1.6m-1 0h1.6m0 0h1.6m-1 0h1.6m-1 0h1.6m0 0h1.6m-1 0h1.6m0 0h1.6m-1 0h1.6m4 0h1.6m0 0h1.6m-1 0h1.6m-1 0h1.6m0 0h1.6m2 0h1.6m0 0h1.6m1 0h1.6m-1 0h1.6m-1 0h1.6m-1 0h1.6m-1 0h1.6m-1 0h1.6m2 0h1.6m0 0h1.6m0 0h1.6m-2 0h1.6m0 0h1.6m-1 0h1.6m0 0h1.6m-1 0h1.6m-1 0h1.6m-1 0h1.6m-1 0h1.6m15 0h1.6m-2 0h1.6m-1 0h1.6m1 0h1.6m-2 0h1.6m-1 0h1.6m-1 0h1.6m-1 0h1.6m-1 0h1.6m-1 0h1.6m2 0h1.6m-1 0h1.6m0 0h1.6m-1 0h1.6m0 0h1.6m0 0h1.6m-2 0h1.6m-1 0h1.6m-1 0h1.6m0 0h1.6m-1 0h1.6m0 0h1.6m0 0h1.6m-1 0h1.6m-1 0h1.6m-1 0h1.6m0 0h1.6m-1 0h1.6m-1 0h1.6m1 0h1.6m-1 0h1.6m0 0h1.6m-1 0h1.6m0 0h1.6m1 0h1.6m-1 0h1.6m1 0h1.6m0 0h1.6m-1 0h1.6m-1 0h1.6m-1 0h1.6m0 0h1.6m0 0h1.6m-2 0h1.6m-1 0h1.6m-1 0h1.6m-1 0h1.6m-1 0h1.6m-1 0h1.6m0 0h1.6m11 0h1.6m-1 0h1.6m1 0h1.6m-1 0h1.6m-1 0h1.6m-1 0h1.6m-2 0h1.6m-1 0h1.6m-1 0h1.6m-1 0h1.6m-1 0h1.6m-1 0h1.6m-2 0h1.6m-1 0h1.6m0 0h1.6m-2 0h1.6m0 0h1.6m-1 0h1.6m-1 0h1.6m-1 0h1.6m0 0h1.6m0 0h1.6m0 0h1.6m-1 0h1.6m-1 0h1.6m-1 0h1.6m-1 0h1.6m2 0h1.6m-1 0h1.6m-1 0h1.6m-2 0h1.6m-1 0h1.6m-1 0h1.6m-2 0h1.6m-1 0h1.6m-1 0h1.6m-1 0h1.6m0 0h1.6m-1 0h1.6m-2 0h1.6m-1 0h1.6m1 0h1.6m0 0h1.6m-1 0h1.6m2 0h1.6m0 0h1.6m-1 0h1.6m1 0h1.6m0 0h1.6m-2 0h1.6m-1 0h1.6m-1 0h1.6m-2 0h1.6m1 0h1.6m-1 0h1.6m-300 20.5h1.6m0 0h1.6m4 0h1.6m4 0h1.6m0 0h1.6m0 0h1.6m-1 0h1.6m-1 0h1.6m-2 0h1.6m-1 0h1.6m-1 0h1.6m-1 0h1.6m-1 0h1.6m0 0h1.6m5 0h1.6m0 0h1.6m0 0h1.6m0 0h1.6m0 0h1.6m-1 0h1.6m0 0h1.6m1 0h1.6m-1 0h1.6m4 0h1.6m1 0h1.6m12 0h1.6m0 0h1.6m-1 0h1.6m-1 0h1.6m-2 0h1.6m-1 0h1.6m-1 0h1.6m-1 0h1.6m-1 0h1.6m0 0h1.6m-1 0h1.6m2 0h1.6m-2 0h1.6m-1 0h1.6m1 0h1.6m-2 0h1.6m-1 0h1.6m-1 0h1.6m0 0h1.6m-2 0h1.6m0 0h1.6m0 0h1.6m-1 0h1.6m0 0h1.6m-1 0h1.6m-2 0h1.6m-1 0h1.6m-1 0h1.6m0 0h1.6m-1 0h1.6m-1 0h1.6m-2 0h1.6m-1 0h1.6m-1 0h1.6m-1 0h1.6m-2 0h1.6m0 0h1.6m-1 0h1.6m-2 0h1.6m-1 0h1.6m0 0h1.6m-2 0h1.6m3 0h1.6m-1 0h1.6m-2 0h1.6m-1 0h1.6m0 0h1.6m-1 0h1.6m0 0h1.6m-1 0h1.6m-2 0h1.6m0 0h1.6m-1 0h1.6m-1 0h1.6m-2 0h1.6m-1 0h1.6m-1 0h1.6m-1 0h1.6m-1 0h1.6m-1 0h1.6m-2 0h1.6m0 0h1.6m0 0h1.6m2 0h1.6m-2 0h1.6" stroke="#111" stroke-width="2" fill="none"/>
<path d="M90.5 560.2h51M90.5 510.8h51M153.5 560.2h51M153.5 510.8h51M216.5 560.2h51M216.5 510.8h51M216.5 481.9h51M279.7 560.2h51M279.7 510.8h51M279.7 481.9h51M342.7 560.2h51M342.7 510.8h51M342.7 481.9h51" stroke="#111" stroke-width="2.3" fill="none"/>
<text x="68.4" y="564.7" font-size="24" text-anchor="end">0</text>
<text x="68.4" y="493.4" font-size="24" text-anchor="end">1</text>
<path d="M78.4 425.3V566.4H406.4M74.4 560.2H78.4M74.4 488.9H78.4M74.4 524.6H78.4M74.4 453.3H78.4M116 566.4V571.4M179 566.4V571.4M242 566.4V571.4M305.2 566.4V571.4M368.2 566.4V571.4" stroke="#222" stroke-width="1.6" fill="none"/>
<text x="607" y="417.4" font-size="28.5" text-anchor="middle" font-style="italic">Ehf</text>
<path d="M484.9 560.2V474.9" stroke="#222" stroke-width="1.2"/><path d="M576.2 560.2l-0.6-1.2-4.1-2.5-13.2-4.9-5-2.5-3-2.5-1-1.2-0.9-2.5 0-9.9 0.4-2.4 2.1-3.7 5.3-6.2 1.1-2.5-0.4-2.5-6-7.4-1.3-2.4-0.5-2.5 1.5-11.1-2.2-12.4 0-29.6-1.2 0 0 29.6-2.2 12.4 0.1 2.5 1.3 6.1 0 3.7-1.7 3.7-5.3 6.2-1.1 2.5 0 1.2 1.1 2.5 5.3 6.2 2.1 3.7 0.4 2.4 0 9.9-0.9 2.5-1 1.2-3 2.5-5 2.5-13.2 4.9-4.1 2.5-0.6 1.2z" fill="#f9aa3c" stroke="#222" stroke-width="1.1"/><path d="M611 560.2V450.3" stroke="#222" stroke-width="1.2"/><path d="M702.4 560.2l-0.8-1.4-2.1-1.5-14.9-5.7-5.7-2.9-3-2.8-1.3-2.9 0.2-12.9 1-2.9 3.7-7.2 0.4-2.8-0.8-2.9-3-5.8-0.9-4.3 0.3-2.8 1.8-5.8 0.4-2.8-0.4-2.9-2-7.2-0.5-4.3-0.2-45.9-1.2 0-0.3 47.3-0.7 4.3-1.7 5.8-0.4 2.9 0.4 2.8 2 7.2 0 2.9-0.8 2.8-3 5.8-0.8 2.9 0.4 2.8 3.7 7.2 1 2.9 0.2 12.9-1.3 2.9-3 2.8-5.7 2.9-14.9 5.7-2.1 1.5-0.8 1.4z" fill="#1cb0ef" stroke="#222" stroke-width="1.1"/><path d="M765.4 560.2l-0.6-1.2-4.1-2.5-13.2-4.9-5-2.5-3-2.5-1-1.2-0.9-2.5 0.2-12.3 1.7-3.7 4.3-6.2 0.8-2.5-0.3-2.5-4.6-7.4-0.7-2.4 0.7-3.7 3.9-6.2 1-2.5 0.1-1.2-0.6-2.5-2.6-6.2 0-2.4 0.9-5 0-2.4-1.7-7.5-2.7-16-2 0-2.7 16-1.7 7.5 0 2.4 0.9 5 0 2.4-2.6 6.2-0.6 2.5 0.5 2.5 3.9 6.1 1.3 3.7-0.7 3.7-4 6.2-0.9 2.5 0 1.2 0.8 2.5 4.3 6.2 1.7 3.7 0.2 12.3-0.9 2.5-1 1.2-3 2.5-5 2.5-13.2 4.9-4.1 2.5-0.6 1.2z" fill="#b987f6" stroke="#222" stroke-width="1.1"/>
<path d="M668 432.5h1.6m17 8.2h1.6m-162 9.5h1.6m8 0h1.6m88 0h1.6m36 0h1.6m15 0h1.6m-1 0h1.6m1 0h1.6m12 0h1.6m13 0h1.6m1 0h1.6m-1 0h1.6m-1 0h1.6m5 0h1.6m-1 0h1.6m1 0h1.6m-2 0h1.6m1 0h1.6m0 0h1.6m11 0h1.6m0 0h1.6m1 0h1.6m-1 0h1.6m4 0h1.6m0 0h1.6m-1 0h1.6m5 0h1.6m-209 11.2h1.6m38 0h1.6m5 0h1.6m3 0h1.6m9 0h1.6m4 0h1.6m-1 0h1.6m5 0h1.6m5 0h1.6m14 0h1.6m0 0h1.6m1 0h1.6m5 0h1.6m-1 0h1.6m3 0h1.6m2 0h1.6m5 0h1.6m-1 0h1.6m4 0h1.6m3 0h1.6m-1 0h1.6m0 0h1.6m0 0h1.6m4 0h1.6m17 0h1.6m1 0h1.6m-1 0h1.6m-1 0h1.6m0 0h1.6m3 0h1.6m2 0h1.6m-1 0h1.6m-2 0h1.6m1 0h1.6m-1 0h1.6m-1 0h1.6m3 0h1.6m-2 0h1.6m-1 0h1.6m-1 0h1.6m1 0h1.6m-1 0h1.6m0 0h1.6m0 0h1.6m-1 0h1.6m-1 0h1.6m-2 0h1.6m0 0h1.6m-1 0h1.6m0 0h1.6m-1 0h1.6m-1 0h1.6m0 0h1.6m-1 0h1.6m-1 0h1.6m-1 0h1.6m-1 0h1.6m-1 0h1.6m-1 0h1.6m-1 0h1.6m0 0h1.6m-2 0h1.6m-2 0h1.6m1 0h1.6m-292 13.7h1.6m13 0h1.6m-1 0h1.6m5 0h1.6m-1 0h1.6m5 0h1.6m-1 0h1.6m-1 0h1.6m-1 0h1.6m1 0h1.6m2 0h1.6m2 0h1.6m11 0h1.6m-1 0h1.6m3 0h1.6m4 0h1.6m5 0h1.6m-1 0h1.6m2 0h1.6m0 0h1.6m0 0h1.6m4 0h1.6m9 0h1.6m0 0h1.6m21 0h1.6m-1 0h1.6m-1 0h1.6m2 0h1.6m-1 0h1.6m5 0h1.6m-1 0h1.6m0 0h1.6m2 0h1.6m0 0h1.6m0 0h1.6m3 0h1.6m-1 0h1.6m0 0h1.6m-2 0h1.6m2 0h1.6m-2 0h1.6m0 0h1.6m-1 0h1.6m1 0h1.6m-1 0h1.6m-1 0h1.6m-2 0h1.6m-1 0h1.6m1 0h1.6m-1 0h1.6m2 0h1.6m-2 0h1.6m2 0h1.6m-1 0h1.6m15 0h1.6m1 0h1.6m0 0h1.6m-1 0h1.6m-1 0h1.6m-1 0h1.6m-1 0h1.6m-1 0h1.6m-1 0h1.6m1 0h1.6m-2 0h1.6m-1 0h1.6m-1 0h1.6m-1 0h1.6m-1 0h1.6m-1 0h1.6m-2 0h1.6m-1 0h1.6m-2 0h1.6m0 0h1.6m-1 0h1.6m0 0h1.6m-2 0h1.6m-1 0h1.6m1 0h1.6m-1 0h1.6m-1 0h1.6m1 0h1.6m-1 0h1.6m0 0h1.6m2 0h1.6m-1 0h1.6m0 0h1.6m2 0h1.6m-1 0h1.6m-1 0h1.6m-1 0h1.6m1 0h1.6m1 0h1.6m0 0h1.6m-1 0h1.6m-1 0h1.6m0 0h1.6m-2 0h1.6m-1 0h1.6m-240 17.6h1.6m3 0h1.6m1 0h1.6m-1 0h1.6m1 0h1.6m-1 0h1.6m0 0h1.6m2 0h1.6m-1 0h1.6m-1 0h1.6m2 0h1.6m-2 0h1.6m1 0h1.6m10 0h1.6m1 0h1.6m2 0h1.6m-1 0h1.6m4 0h1.6m-1 0h1.6m0 0h1.6m16 0h1.6m-1 0h1.6m-1 0h1.6m0 0h1.6m0 0h1.6m0 0h1.6m0 0h1.6m-1 0h1.6m-1 0h1.6m1 0h1.6m0 0h1.6m-1 0h1.6m0 0h1.6m0 0h1.6m0 0h1.6m-1 0h1.6m0 0h1.6m1 0h1.6m1 0h1.6m-1 0h1.6m1 0h1.6m-1 0h1.6m-1 0h1.6m-1 0h1.6m0 0h1.6m-2 0h1.6m0 0h1.6m-1 0h1.6m0 0h1.6m-2 0h1.6m-1 0h1.6m-1 0h1.6m-2 0h1.6m-1 0h1.6m-1 0h1.6m-1 0h1.6m-2 0h1.6m-1 0h1.6m-1 0h1.6m-2 0h1.6m-2 0h1.6m1 0h1.6m0 0h1.6m-2 0h1.6m0 0h1.6m-1 0h1.6m-2 0h1.6m0 0h1.6m-2 0h1.6m-1 0h1.6m12 0h1.6m0 0h1.6m1 0h1.6m-1 0h1.6m0 0h1.6m0 0h1.6m-1 0h1.6m-1 0h1.6m-1 0h1.6m0 0h1.6m0 0h1.6m-1 0h1.6m-1 0h1.6m2 0h1.6m-1 0h1.6m-2 0h1.6m-1 0h1.6m-1 0h1.6m-2 0h1.6m0 0h1.6m0 0h1.6m-1 0h1.6m-1 0h1.6m1 0h1.6m-2 0h1.6m-1 0h1.6m-1 0h1.6m-2 0h1.6m-1 0h1.6m0 0h1.6m1 0h1.6m-1 0h1.6m-1 0h1.6m0 0h1.6m-2 0h1.6m-1 0h1.6m-1 0h1.6m-1 0h1.6m-1 0h1.6m4 0h1.6m-2 0h1.6m-1 0h1.6m-1 0h1.6m0 0h1.6m0 0h1.6m-2 0h1.6m-1 0h1.6m-1 0h1.6m-1 0h1.6m0 0h1.6m-1 0h1.6m-2 0h1.6m-1 0h1.6m-1 0h1.6m-1 0h1.6" stroke="#111" stroke-width="2" fill="none"/>
<path d="M459.4 560.2h51M459.4 517.6h51M522.3 560.2h51M522.3 517.6h51M585.5 560.2h51M585.5 517.6h51M648.5 560.2h51M648.5 517.6h51M648.5 492.7h51M711.5 560.2h51M711.5 517.6h51M711.5 492.7h51M711.5 475.1h51" stroke="#111" stroke-width="2.3" fill="none"/>
<text x="437" y="564.7" font-size="24" text-anchor="end">0</text>
<text x="437" y="503.3" font-size="24" text-anchor="end">1</text>
<text x="437" y="441.9" font-size="24" text-anchor="end">2</text>
<path d="M447 425.3V566.4H775M443 560.2H447M443 498.8H447M443 437.4H447M443 529.5H447M443 468.1H447M484.9 566.4V571.4M547.8 566.4V571.4M611 566.4V571.4M674 566.4V571.4M737 566.4V571.4" stroke="#222" stroke-width="1.6" fill="none"/>
<text x="980.4" y="417.4" font-size="28.5" text-anchor="middle" font-style="italic">Ets2</text>
<path d="M882.4 560.2l-0.5-1-3.4-1.9-14.5-4.8-4.5-1.9-2.8-1.9-2-2.9-0.1-9.6 0.5-1.9 1.8-2.9 5.5-5.8 0.7-1.9 0-1-1-1.9-5.3-5.7-1.4-2.9-0.1-2.9 1.4-7.7-1.8-9.6-0.3-17.3-1.2 0-0.3 17.3-1.8 9.6 1.4 7.7-0.1 2.9-1.4 2.9-5.3 5.7-1 1.9 0 1 0.7 1.9 5.5 5.8 1.8 2.9 0.5 1.9-0.1 9.6-2 2.9-2.8 1.9-4.5 1.9-14.5 4.8-3.4 1.9-0.5 1z" fill="#f8766d" stroke="#222" stroke-width="1.1"/><path d="M945.3 560.2l-0.7-1.2-1.9-1.1-19.7-7-3.5-2.3-1.7-2.4-0.3-1.1 0.2-10.5 1.7-3.5 4.3-5.8 0.5-2.3-0.9-2.4-4.3-5.8-1.1-3.5 1.4-9.3-1.8-10.4 0-34.9-1.2 0 0 34.9-1.8 10.4 1.4 9.3-1.1 3.5-4.3 5.8-0.9 2.4 0.5 2.3 4.3 5.8 1.7 3.5 0.2 10.5-0.3 1.1-1.7 2.4-3.5 2.3-19.7 7-1.9 1.1-0.7 1.2z" fill="#f9aa3c" stroke="#222" stroke-width="1.1"/><path d="M1008.4 560.2l-0.7-1.2-1.9-1.1-19.7-7-3.5-2.3-1.7-2.4-0.3-1.1 0.2-10.5 1.9-3.5 4.6-5.8 0.5-2.3-1-2.4-4.5-5.8-1-3.5 2-9.3-0.2-2.3-1.7-5.8-0.5-3.5-0.3-33.7-1.2 0 0 24.4-0.4 10.5-2.1 8.1-0.2 2.3 1.8 7 0.1 3.5-0.9 2.3-4.5 5.8-1 2.4 0.5 2.3 4.6 5.8 1.9 3.5 0.2 10.5-0.3 1.1-1.7 2.4-3.5 2.3-19.7 7-1.9 1.1-0.7 1.2z" fill="#19b378" stroke="#222" stroke-width="1.1"/><path d="M1071.4 560.2l-1-1.4-2.8-1.5-13.2-4.3-6.6-2.8-2-1.5-2.1-2.8 0-11.5 1.2-2.8 3.6-5.8 0.6-2.8-1.1-2.9-2.7-4.3-1-2.9 0.2-2.8 2.1-5.7 0.5-2.9-2.4-8.6-0.9-15.8-0.2-44.3-1.2 0 0 38.6-0.9 20.1-0.5 2.8-2.1 7.2 0.5 2.9 2.1 5.7 0.2 2.8-1 2.9-2.7 4.3-1.1 2.9 0.6 2.8 3.6 5.8 1.2 2.8 0 11.5-2.1 2.8-2 1.5-6.6 2.8-13.2 4.3-2.8 1.5-1 1.4z" fill="#1cb0ef" stroke="#222" stroke-width="1.1"/><path d="M1134 560.2l-0.7-1.2-1.9-1.1-19.7-7-3.5-2.3-1.7-2.4-0.3-1.1 0-10.5 1.5-3.5 3.5-5.8 0.4-2.3-0.8-2.4-3.3-5.8-0.4-2.3 0.5-2.3 3.3-5.8 0.7-2.4-0.5-2.3-3-5.8-0.9-3.5-1-19.8 0-13.9-1.2 0 0 13.9-1.2 21-0.7 2.3-3 5.8-0.5 2.3 0.7 2.4 3.3 5.8 0.5 2.3-0.4 2.3-3.3 5.8-0.8 2.4 0.4 2.3 3.5 5.8 1.5 3.5 0 10.5-0.3 1.1-1.7 2.4-3.5 2.3-19.7 7-1.9 1.1-0.7 1.2z" fill="#b987f6" stroke="#222" stroke-width="1.1"/>
<path d="M1058 432.9h1.6m-140 24h1.6m69 0h1.6m88 0h1.6m19 0h1.6m-145 8.2h1.6m17 0h1.6m40 0h1.6m-1 0h1.6m12 0h1.6m4 0h1.6m16 0h1.6m3 0h1.6m31 0h1.6m0 0h1.6m22 0h1.6m11 0h1.6m-278 9.6h1.6m104 0h1.6m0 0h1.6m2 0h1.6m11 0h1.6m5 0h1.6m-1 0h1.6m1 0h1.6m2 0h1.6m28 0h1.6m-1 0h1.6m20 0h1.6m1 0h1.6m-1 0h1.6m0 0h1.6m0 0h1.6m7 0h1.6m0 0h1.6m0 0h1.6m22 0h1.6m7 0h1.6m1 0h1.6m-1 0h1.6m0 0h1.6m3 0h1.6m9 0h1.6m1 0h1.6m2 0h1.6m2 0h1.6m3 0h1.6m1 0h1.6m-235 11.9h1.6m0 0h1.6m-1 0h1.6m15 0h1.6m-2 0h1.6m14 0h1.6m0 0h1.6m-1 0h1.6m3 0h1.6m3 0h1.6m11 0h1.6m-1 0h1.6m-1 0h1.6m-1 0h1.6m0 0h1.6m2 0h1.6m2 0h1.6m-2 0h1.6m-1 0h1.6m0 0h1.6m-1 0h1.6m2 0h1.6m1 0h1.6m-2 0h1.6m-1 0h1.6m1 0h1.6m0 0h1.6m-1 0h1.6m0 0h1.6m0 0h1.6m1 0h1.6m0 0h1.6m-1 0h1.6m2 0h1.6m0 0h1.6m1 0h1.6m0 0h1.6m-1 0h1.6m-1 0h1.6m0 0h1.6m-1 0h1.6m-1 0h1.6m-1 0h1.6m0 0h1.6m0 0h1.6m12 0h1.6m-1 0h1.6m-1 0h1.6m-1 0h1.6m-1 0h1.6m-2 0h1.6m-1 0h1.6m0 0h1.6m-1 0h1.6m-1 0h1.6m0 0h1.6m-1 0h1.6m-1 0h1.6m-1 0h1.6m0 0h1.6m-1 0h1.6m-1 0h1.6m-1 0h1.6m-2 0h1.6m0 0h1.6m5 0h1.6m-1 0h1.6m2 0h1.6m-2 0h1.6m0 0h1.6m3 0h1.6m0 0h1.6m-1 0h1.6m-1 0h1.6m0 0h1.6m-2 0h1.6m-1 0h1.6m0 0h1.6m-2 0h1.6m0 0h1.6m-1 0h1.6m0 0h1.6m-1 0h1.6m-1 0h1.6m-2 0h1.6m0 0h1.6m1 0h1.6m0 0h1.6m-1 0h1.6m-2 0h1.6m-1 0h1.6m-1 0h1.6m0 0h1.6m-1 0h1.6m-1 0h1.6m11 0h1.6m-1 0h1.6m1 0h1.6m-1 0h1.6m-1 0h1.6m-1 0h1.6m-2 0h1.6m-1 0h1.6m0 0h1.6m0 0h1.6m0 0h1.6m3 0h1.6m1 0h1.6m-1 0h1.6m1 0h1.6m-1 0h1.6m-1 0h1.6m-1 0h1.6m-1 0h1.6m-2 0h1.6m2 0h1.6m0 0h1.6m1 0h1.6m-2 0h1.6m-1 0h1.6m0 0h1.6m-1 0h1.6m0 0h1.6m-1 0h1.6m-1 0h1.6m0 0h1.6m-2 0h1.6m0 0h1.6m-1 0h1.6m0 0h1.6m0 0h1.6m-1 0h1.6m-2 0h1.6m-1 0h1.6m0 0h1.6m0 0h1.6m-2 0h1.6m0 0h1.6m0 0h1.6m-1 0h1.6m-302 15.3h1.6m-1 0h1.6m-1 0h1.6m-1 0h1.6m-1 0h1.6m0 0h1.6m0 0h1.6m2 0h1.6m-1 0h1.6m-1 0h1.6m1 0h1.6m1 0h1.6m-1 0h1.6m1 0h1.6m0 0h1.6m-1 0h1.6m2 0h1.6m0 0h1.6m-1 0h1.6m-1 0h1.6m0 0h1.6m0 0h1.6m-1 0h1.6m3 0h1.6m1 0h1.6m-1 0h1.6m-1 0h1.6m-1 0h1.6m-1 0h1.6m-1 0h1.6m19 0h1.6m0 0h1.6m0 0h1.6m-2 0h1.6m0 0h1.6m-1 0h1.6m0 0h1.6m0 0h1.6m-1 0h1.6m-1 0h1.6m-1 0h1.6m-2 0h1.6m-2 0h1.6m-1 0h1.6m0 0h1.6m0 0h1.6m-1 0h1.6m-1 0h1.6m-1 0h1.6m0 0h1.6m-1 0h1.6m-1 0h1.6m-1 0h1.6m0 0h1.6m1 0h1.6m-1 0h1.6m-2 0h1.6m-1 0h1.6m-1 0h1.6m1 0h1.6m0 0h1.6m0 0h1.6m1 0h1.6m-2 0h1.6m1 0h1.6m-1 0h1.6m-1 0h1.6m-1 0h1.6m-2 0h1.6m-1 0h1.6m-2 0h1.6m0 0h1.6m-1 0h1.6m1 0h1.6m-2 0h1.6m2 0h1.6m-2 0h1.6m0 0h1.6m0 0h1.6m0 0h1.6m-1 0h1.6m-1 0h1.6m-1 0h1.6m-2 0h1.6m-1 0h1.6" stroke="#111" stroke-width="2" fill="none"/>
<path d="M828.5 560.2h51M828.5 523.4h51M891.4 560.2h51M891.4 523.4h51M954.5 560.2h51M954.5 523.4h51M954.5 501.9h51M1017.5 560.2h51M1017.5 523.4h51M1017.5 501.9h51M1080.1 560.2h51M1080.1 523.4h51M1080.1 501.9h51" stroke="#111" stroke-width="2.3" fill="none"/>
<text x="805.8" y="564.7" font-size="24" text-anchor="end">0</text>
<text x="805.8" y="511.6" font-size="24" text-anchor="end">1</text>
<text x="805.8" y="458.5" font-size="24" text-anchor="end">2</text>
<path d="M815.8 425.3V566.4H1144M811.8 560.2H815.8M811.8 507.1H815.8M811.8 454H815.8M811.8 533.7H815.8M811.8 480.6H815.8M811.8 427.5H815.8M854 566.4V571.4M916.9 566.4V571.4M980 566.4V571.4M1043 566.4V571.4M1105.6 566.4V571.4" stroke="#222" stroke-width="1.6" fill="none"/>
<text x="1354" y="417.4" font-size="28.5" text-anchor="middle" font-style="italic">Hoxb7</text>
<path d="M1222.9 560.2V505.1" stroke="#222" stroke-width="1.2"/><path d="M1285.6 560.2V472.4" stroke="#222" stroke-width="1.2"/><path d="M1349 560.2V472.4" stroke="#222" stroke-width="1.2"/><path d="M1411.8 560.2V472.4" stroke="#222" stroke-width="1.2"/><path d="M1475 560.2V431.7" stroke="#222" stroke-width="1.2"/>
<path d="M1492 431.8h1.6m-44 17.8h1.6m1 0h1.6m0 0h1.6m4 0h1.6m7 0h1.6m8 0h1.6m3 0h1.6m15 0h1.6m-225 22.9h1.6m79 0h1.6m40 0h1.6m21 0h1.6m-1 0h1.6m1 0h1.6m-1 0h1.6m23 0h1.6m-1 0h1.6m-1 0h1.6m-1 0h1.6m0 0h1.6m-2 0h1.6m0 0h1.6m-1 0h1.6m-1 0h1.6m0 0h1.6m-2 0h1.6m-1 0h1.6m0 0h1.6m-2 0h1.6m-1 0h1.6m0 0h1.6m-1 0h1.6m0 0h1.6m-2 0h1.6m-1 0h1.6m-1 0h1.6m0 0h1.6m-2 0h1.6m1 0h1.6m-1 0h1.6m1 0h1.6m0 0h1.6m1 0h1.6m3 0h1.6m-1 0h1.6m-2 0h1.6m1 0h1.6m-1 0h1.6m-1 0h1.6m-2 0h1.6m-1 0h1.6m-1 0h1.6m-1 0h1.6m-2 0h1.6m-1 0h1.6m0 0h1.6m1 0h1.6m0 0h1.6m-1 0h1.6m-1 0h1.6m0 0h1.6m0 0h1.6m0 0h1.6m0 0h1.6m-1 0h1.6m-291 32.4h1.6m31 0h1.6m63 0h1.6m20 0h1.6m2 0h1.6m6 0h1.6m1 0h1.6m7 0h1.6m-2 0h1.6m-1 0h1.6m3 0h1.6m6 0h1.6m-2 0h1.6m0 0h1.6m0 0h1.6m1 0h1.6m3 0h1.6m12 0h1.6m2 0h1.6m3 0h1.6m1 0h1.6m0 0h1.6m0 0h1.6m5 0h1.6m0 0h1.6m3 0h1.6m6 0h1.6m0 0h1.6m8 0h1.6m-1 0h1.6m0 0h1.6m-1 0h1.6m0 0h1.6" stroke="#111" stroke-width="2" fill="none"/>
<path d="M1197.4 560.2h51M1260.1 560.2h51M1323.5 560.2h51M1386.3 560.2h51M1449.5 560.2h51M1449.5 504.9h51" stroke="#111" stroke-width="2.3" fill="none"/>
<text x="1174.8" y="564.7" font-size="24" text-anchor="end">0</text>
<text x="1174.8" y="484.9" font-size="24" text-anchor="end">1</text>
<path d="M1184.8 425.3V566.4H1513M1180.8 560.2H1184.8M1180.8 480.4H1184.8M1180.8 520.3H1184.8M1180.8 440.5H1184.8M1222.9 566.4V571.4M1285.6 566.4V571.4M1349 566.4V571.4M1411.8 566.4V571.4M1475 566.4V571.4" stroke="#222" stroke-width="1.6" fill="none"/>
<text x="1715" y="417.4" font-size="28.5" text-anchor="middle" font-style="italic">Hoxb8</text>
<path d="M1583.5 560.4V560.4" stroke="#222" stroke-width="1.2"/><path d="M1646.4 560.4V496.5" stroke="#222" stroke-width="1.2"/><path d="M1709.3 560.4V458.5" stroke="#222" stroke-width="1.2"/><path d="M1772.4 560.4V496.5" stroke="#222" stroke-width="1.2"/><path d="M1835.3 560.4V431.7" stroke="#222" stroke-width="1.2"/>
<path d="M1819 432h1.6m-132 26.7h1.6m5 0h1.6m13 0h1.6m99 0h1.6m1 0h1.6m1 0h1.6m-1 0h1.6m0 0h1.6m0 0h1.6m-1 0h1.6m-1 0h1.6m5 0h1.6m2 0h1.6m2 0h1.6m3 0h1.6m-1 0h1.6m1 0h1.6m3 0h1.6m1 0h1.6m2 0h1.6m0 0h1.6m-1 0h1.6m0 0h1.6m-232 37.5h1.6m-1 0h1.6m10 0h1.6m17 0h1.6m10 0h1.6m25 0h1.6m4 0h1.6m20 0h1.6m24 0h1.6m6 0h1.6m0 0h1.6m-2 0h1.6m2 0h1.6m2 0h1.6m0 0h1.6m-2 0h1.6m3 0h1.6m7 0h1.6m0 0h1.6m3 0h1.6m0 0h1.6m2 0h1.6m18 0h1.6m-1 0h1.6m-2 0h1.6m1 0h1.6m-2 0h1.6m-1 0h1.6m-1 0h1.6m-1 0h1.6m-1 0h1.6m-1 0h1.6m-2 0h1.6m-1 0h1.6m-2 0h1.6m1 0h1.6m-1 0h1.6m-2 0h1.6m0 0h1.6m-1 0h1.6m-1 0h1.6m-1 0h1.6m-2 0h1.6m-1 0h1.6m0 0h1.6m1 0h1.6m0 0h1.6m-1 0h1.6m2 0h1.6m-2 0h1.6m0 0h1.6m-2 0h1.6m-1 0h1.6m-1 0h1.6m-2 0h1.6m-1 0h1.6m-2 0h1.6m0 0h1.6m-1 0h1.6m-1 0h1.6m0 0h1.6m-1 0h1.6m3 0h1.6m-2 0h1.6m1 0h1.6m0 0h1.6m-1 0h1.6m-2 0h1.6m3 0h1.6m0 0h1.6m-2 0h1.6m-1 0h1.6m1 0h1.6m-1 0h1.6m-1 0h1.6m-1 0h1.6m0 0h1.6" stroke="#111" stroke-width="2" fill="none"/>
<path d="M1558 560.4h51M1620.9 560.4h51M1683.8 560.4h51M1746.9 560.4h51M1809.8 560.4h51" stroke="#111" stroke-width="2.3" fill="none"/>
<text x="1536" y="564.9" font-size="24" text-anchor="end">0</text>
<text x="1536" y="472.3" font-size="24" text-anchor="end">1</text>
<path d="M1546 425.3V566.4H1873M1542 560.4H1546M1542 467.8H1546M1542 514.1H1546M1583.5 566.4V571.4M1646.4 566.4V571.4M1709.3 566.4V571.4M1772.4 566.4V571.4M1835.3 566.4V571.4" stroke="#222" stroke-width="1.6" fill="none"/>
<text x="233" y="644.5" font-size="28.5" text-anchor="middle" font-style="italic">Irf1</text>
<path d="M145.1 788.4l-0.6-1-1.7-1-16.1-5-4.9-2-2.9-2-1.2-2 0-2 0.4-1 2-2 1.6-1 4.9-2 16.1-5 1.7-1 0.7-1-0.5-1-1.6-1-13.5-5-1.5-1-0.6-1 0.2-1 0.9-1 5.9-4 0.8-1 0.2-1.1-1-2-3.4-4-0.3-2 0.4-3-0.2-2-7.4-18-2.3-8-2.1-5-4.8 0-2.1 5-2.3 8-7.4 18-0.2 2 0.4 3-0.3 2-3.4 4-1 2 0.2 1.1 0.8 1 5.9 4 0.9 1 0.2 1-0.6 1-1.5 1-13.5 5-1.6 1-0.5 1 0.7 1 1.7 1 16.1 5 4.9 2 1.6 1 2 2 0.4 1 0 2-1.2 2-2.9 2-4.9 2-16.1 5-1.7 1-0.6 1z" fill="#f8766d" stroke="#222" stroke-width="1.1"/><path d="M207.1 788.4l-0.6-1-1.8-1-18.3-6-3-2-1.4-2 0.1-4 1.4-2 1.4-1 4.5-2 17.5-5 2-1 0.8-1-0.6-1-1.9-1-15.7-5-1.6-1-0.6-1 0.4-1 1.1-1 7.1-4 0.9-1 0.2-1.1-0.5-1-4.4-4-0.5-1-0.1-1 1.3-3 0.2-2-2.7-5-6.1-14-1.9-6-1.5-7-3 0-1.5 7-1.9 6-6.1 14-2.7 5 0.2 2 1.3 3-0.1 1-0.5 1-4.4 4-0.5 1 0.2 1.1 0.9 1 7.1 4 1.1 1 0.4 1-0.6 1-1.6 1-15.7 5-1.9 1-0.6 1 0.8 1 2 1 17.5 5 4.5 2 1.4 1 1.4 2 0.1 4-1.4 2-3 2-18.3 6-1.8 1-0.6 1z" fill="#f9aa3c" stroke="#222" stroke-width="1.1"/><path d="M273.9 788.4l-1-1.2-2.8-1.2-12.9-3.6-6.5-2.4-2-1.2-1.9-2.4-0.2-3.6 1.6-2.4 1.8-1.2 6-2.4 13.3-3.6 3.4-1.2 1.7-1.2-0.3-1.2-2.1-1.2-15.5-4.8-2.1-1.2-0.7-1.2 0.5-1.2 5.8-3.6 1.5-1.2 0.8-1.2-0.2-1.3-4.6-4.8-0.3-1.2 1.2-3.6-0.1-2.4-3.2-6-6.2-20.4-1-4.8-1-9.6-0.3-8.4-1.2 0-0.4 9.6-0.9 8.4-1.3 6-5.9 19.2-3.2 6-0.1 2.4 1.2 3.6-0.3 1.2-4.6 4.8-0.2 1.3 0.8 1.2 1.5 1.2 5.8 3.6 0.5 1.2-0.7 1.2-2.1 1.2-15.5 4.8-2.1 1.2-0.3 1.2 1.7 1.2 3.4 1.2 13.3 3.6 6 2.4 1.8 1.2 1.6 2.4-0.2 3.6-1.9 2.4-2 1.2-6.5 2.4-12.9 3.6-2.8 1.2-1 1.2z" fill="#19b378" stroke="#222" stroke-width="1.1"/><path d="M318.5 788.4l-0.6-1.4-4.8-4.1-1.9-2.8 0-9.7 1-1.4 2.2-1.4 3.8-1.3 17.7-4.2 3.1-1.4-0.8-1.4-4.4-1.3-12.5-2.8-4.6-1.4-2.5-1.4-0.5-1.4 1.1-1.3 7.9-4.2 1.3-1.4-0.6-1.4-6.3-4.1-0.7-1.4 0.6-1.4 2.1-2.7 0.1-1.4-4.4-5.6-2.8-13.8-0.8-11.1 0-35.9-1.2 0 0 37.3-0.4 6.9-1.3 8.3-1.9 8.3-4.4 5.6 0.1 1.4 2.1 2.7 0.6 1.4-0.7 1.4-6.3 4.1-0.6 1.4 1.3 1.4 7.9 4.2 1.1 1.3-0.5 1.4-2.5 1.4-4.6 1.4-12.5 2.8-4.4 1.3-0.8 1.4 3.1 1.4 17.7 4.2 3.8 1.3 2.2 1.4 1 1.4 0 9.7-1.9 2.8-4.8 4.1-0.6 1.4z" fill="#1cb0ef" stroke="#222" stroke-width="1.1"/><path d="M390.6 788.4l-0.9-1.4-8.9-4.4-4-2.9-0.8-1.4 0.2-7.3 1.2-1.4 2.4-1.5 3.8-1.4 17-4.3 3.1-1.5-0.4-1.4-3.6-1.5-16.3-4.3-2.8-1.5-0.8-1.4 0.9-1.5 5.7-4.3 0.5-1.5-0.7-1.4-2.5-2.9-0.3-1.4 0.8-1.5 2.7-2.9 0.6-1.4-0.3-1.5-2.1-4.3-0.3-4.4-6.2-23.1-2.1-23.2-0.6-15.9-1.2 0-0.6 15.9-2.1 23.2-6.2 23.1-0.3 4.4-2.1 4.3-0.3 1.5 0.6 1.4 2.7 2.9 0.8 1.5-0.3 1.4-2.5 2.9-0.7 1.4 0.5 1.5 5.7 4.3 0.9 1.5-0.8 1.4-2.8 1.5-16.3 4.3-3.6 1.5-0.4 1.4 3.1 1.5 17 4.3 3.8 1.4 2.4 1.5 1.2 1.4 0.2 7.3-0.8 1.4-4 2.9-8.9 4.4-0.9 1.4z" fill="#b987f6" stroke="#222" stroke-width="1.1"/>
<path d="M375 659.7h1.6m-70 7.4h1.6m23 0h1.6m19 0h1.6m27 2.1h1.6m-25 2.1h1.6m23 2.4h1.6m9 0h1.6m-43 2.4h1.6m3 0h1.6m0 2.6h1.6m12 0h1.6m13 0h1.6m-127 2.8h1.6m95 0h1.6m6 0h1.6m0 0h1.6m28 0h1.6m-149 3h1.6m21 0h1.6m89 0h1.6m2 0h1.6m4 0h1.6m3 0h1.6m20 0h1.6m-46 3.3h1.6m-1 0h1.6m-1 0h1.6m3 0h1.6m6 0h1.6m15 0h1.6m-157 3.5h1.6m25 0h1.6m13 0h1.6m19 0h1.6m22 0h1.6m18 0h1.6m20 0h1.6m5 0h1.6m5 0h1.6m1 0h1.6m1 0h1.6m0 0h1.6m0 0h1.6m3 0h1.6m2 0h1.6m3 0h1.6m2 0h1.6m3 0h1.6m-168 3.8h1.6m14 0h1.6m1 0h1.6m8 0h1.6m62 0h1.6m8 0h1.6m0 0h1.6m16 0h1.6m1 0h1.6m3 0h1.6m2 0h1.6m-1 0h1.6m-1 0h1.6m7 0h1.6m-1 0h1.6m2 0h1.6m1 0h1.6m-1 0h1.6m-1 0h1.6m8 0h1.6m0 0h1.6m0 0h1.6m-300 4.3h1.6m68 0h1.6m15 0h1.6m25 0h1.6m23 0h1.6m3 0h1.6m0 0h1.6m18 0h1.6m10 0h1.6m18 0h1.6m3 0h1.6m3 0h1.6m0 0h1.6m22 0h1.6m2 0h1.6m26 0h1.6m0 0h1.6m0 0h1.6m-1 0h1.6m-2 0h1.6m-1 0h1.6m-1 0h1.6m3 0h1.6m-1 0h1.6m3 0h1.6m-1 0h1.6m8 0h1.6m0 0h1.6m0 0h1.6m0 0h1.6m-1 0h1.6m0 0h1.6m0 0h1.6m-1 0h1.6m3 0h1.6m2 0h1.6m1 0h1.6m0 0h1.6m-1 0h1.6m-2 0h1.6m-301 4.8h1.6m18 0h1.6m17 0h1.6m21 0h1.6m5 0h1.6m-1 0h1.6m3 0h1.6m22 0h1.6m33 0h1.6m-1 0h1.6m5 0h1.6m0 0h1.6m1 0h1.6m14 0h1.6m1 0h1.6m-1 0h1.6m2 0h1.6m4 0h1.6m14 0h1.6m0 0h1.6m4 0h1.6m0 0h1.6m2 0h1.6m-1 0h1.6m1 0h1.6m0 0h1.6m-1 0h1.6m-1 0h1.6m6 0h1.6m6 0h1.6m4 0h1.6m0 0h1.6m3 0h1.6m16 0h1.6m-1 0h1.6m-1 0h1.6m-2 0h1.6m1 0h1.6m1 0h1.6m-1 0h1.6m1 0h1.6m0 0h1.6m-2 0h1.6m2 0h1.6m1 0h1.6m-1 0h1.6m2 0h1.6m-1 0h1.6m-1 0h1.6m3 0h1.6m-2 0h1.6m1 0h1.6m-1 0h1.6m-1 0h1.6m3 0h1.6m-1 0h1.6m-2 0h1.6m0 0h1.6m4 0h1.6m-1 0h1.6m-1 0h1.6m1 0h1.6m-1 0h1.6m0 0h1.6m-2 0h1.6m0 0h1.6m-1 0h1.6m0 0h1.6m-298 5.4h1.6m3 0h1.6m6 0h1.6m9 0h1.6m0 0h1.6m1 0h1.6m29 0h1.6m2 0h1.6m3 0h1.6m8 0h1.6m5 0h1.6m4 0h1.6m0 0h1.6m9 0h1.6m16 0h1.6m2 0h1.6m0 0h1.6m3 0h1.6m6 0h1.6m-2 0h1.6m1 0h1.6m-1 0h1.6m-1 0h1.6m1 0h1.6m0 0h1.6m-1 0h1.6m2 0h1.6m2 0h1.6m0 0h1.6m-1 0h1.6m4 0h1.6m1 0h1.6m1 0h1.6m0 0h1.6m16 0h1.6m3 0h1.6m0 0h1.6m0 0h1.6m5 0h1.6m-1 0h1.6m-1 0h1.6m-1 0h1.6m-1 0h1.6m-1 0h1.6m-1 0h1.6m-1 0h1.6m2 0h1.6m-1 0h1.6m-1 0h1.6m0 0h1.6m0 0h1.6m0 0h1.6m0 0h1.6m-1 0h1.6m1 0h1.6m1 0h1.6m1 0h1.6m-1 0h1.6m1 0h1.6m1 0h1.6m-2 0h1.6m0 0h1.6m0 0h1.6m-2 0h1.6m16 0h1.6m1 0h1.6m1 0h1.6m-1 0h1.6m-1 0h1.6m-1 0h1.6m-1 0h1.6m-2 0h1.6m1 0h1.6m0 0h1.6m0 0h1.6m-1 0h1.6m-1 0h1.6m-1 0h1.6m1 0h1.6m-2 0h1.6m-1 0h1.6m-1 0h1.6m-1 0h1.6m-1 0h1.6m2 0h1.6m0 0h1.6m1 0h1.6m-2 0h1.6m-1 0h1.6m-2 0h1.6m-1 0h1.6m-1 0h1.6m-1 0h1.6m-1 0h1.6m0 0h1.6m-1 0h1.6m0 0h1.6m-1 0h1.6m-1 0h1.6m2 0h1.6m3 0h1.6m0 0h1.6m2 0h1.6m-2 0h1.6m-1 0h1.6m-1 0h1.6m-2 0h1.6m-1 0h1.6m-1 0h1.6m-308 6.2h1.6m0 0h1.6m-1 0h1.6m1 0h1.6m-1 0h1.6m4 0h1.6m1 0h1.6m-1 0h1.6m3 0h1.6m1 0h1.6m1 0h1.6m4 0h1.6m33 0h1.6m0 0h1.6m0 0h1.6m-1 0h1.6m-1 0h1.6m-1 0h1.6m0 0h1.6m-2 0h1.6m-1 0h1.6m2 0h1.6m-1 0h1.6m0 0h1.6m1 0h1.6m3 0h1.6m1 0h1.6m1 0h1.6m9 0h1.6m0 0h1.6m-2 0h1.6m2 0h1.6m1 0h1.6m-1 0h1.6m1 0h1.6m-1 0h1.6m-1 0h1.6m15 0h1.6m-1 0h1.6m0 0h1.6m-2 0h1.6m0 0h1.6m-1 0h1.6m3 0h1.6m-1 0h1.6m-1 0h1.6m0 0h1.6m1 0h1.6m-1 0h1.6m-1 0h1.6m-1 0h1.6m-2 0h1.6m2 0h1.6m1 0h1.6m-1 0h1.6m-1 0h1.6m2 0h1.6m0 0h1.6m-1 0h1.6m1 0h1.6m-1 0h1.6m0 0h1.6m1 0h1.6m-1 0h1.6m-2 0h1.6m1 0h1.6m-2 0h1.6m-1 0h1.6m-1 0h1.6m0 0h1.6m0 0h1.6m-2 0h1.6m-1 0h1.6m0 0h1.6m-2 0h1.6m1 0h1.6m-1 0h1.6m14 0h1.6m2 0h1.6m-1 0h1.6m2 0h1.6m-2 0h1.6m-1 0h1.6m-1 0h1.6m-1 0h1.6m-1 0h1.6m-1 0h1.6m-2 0h1.6m-1 0h1.6m-1 0h1.6m0 0h1.6m1 0h1.6m-1 0h1.6m-1 0h1.6m-1 0h1.6m-1 0h1.6m-1 0h1.6m-2 0h1.6m0 0h1.6m-1 0h1.6m-1 0h1.6m-1 0h1.6m-1 0h1.6m-1 0h1.6m-2 0h1.6m0 0h1.6m-1 0h1.6m-1 0h1.6m-1 0h1.6m1 0h1.6m0 0h1.6m-1 0h1.6m0 0h1.6m-1 0h1.6m-2 0h1.6m0 0h1.6m0 0h1.6m-1 0h1.6m0 0h1.6m0 0h1.6m3 0h1.6m-1 0h1.6m1 0h1.6m0 0h1.6m-1 0h1.6m-1 0h1.6m0 0h1.6m13 0h1.6m-1 0h1.6m-1 0h1.6m0 0h1.6m-1 0h1.6m0 0h1.6m-2 0h1.6m-1 0h1.6m-1 0h1.6m-1 0h1.6m-1 0h1.6m0 0h1.6m-2 0h1.6m0 0h1.6m-1 0h1.6m0 0h1.6m-2 0h1.6m3 0h1.6m-1 0h1.6m0 0h1.6m-1 0h1.6m1 0h1.6m-1 0h1.6m-1 0h1.6m-2 0h1.6m-1 0h1.6m-2 0h1.6m-1 0h1.6m0 0h1.6m0 0h1.6m-2 0h1.6m2 0h1.6m0 0h1.6m-2 0h1.6m1 0h1.6m-1 0h1.6m0 0h1.6m-1 0h1.6m-1 0h1.6m-2 0h1.6m-1 0h1.6m0 0h1.6m-1 0h1.6m-1 0h1.6m-1 0h1.6m-2 0h1.6m-1 0h1.6m0 0h1.6m-1 0h1.6m0 0h1.6m-1 0h1.6m-1 0h1.6m-2 0h1.6m-1 0h1.6m-1 0h1.6m-2 0h1.6m0 0h1.6m-1 0h1.6m-1 0h1.6m-1 0h1.6m-311 7.4h1.6m-1 0h1.6m-1 0h1.6m-2 0h1.6m1 0h1.6m1 0h1.6m1 0h1.6m0 0h1.6m0 0h1.6m0 0h1.6m-1 0h1.6m12 0h1.6m1 0h1.6m4 0h1.6m-1 0h1.6m-1 0h1.6m6 0h1.6m2 0h1.6m0 0h1.6m-1 0h1.6m15 0h1.6m0 0h1.6m-2 0h1.6m-1 0h1.6m-1 0h1.6m-1 0h1.6m-1 0h1.6m-1 0h1.6m3 0h1.6m0 0h1.6m0 0h1.6m-1 0h1.6m0 0h1.6m1 0h1.6m-1 0h1.6m-1 0h1.6m1 0h1.6m-2 0h1.6m-1 0h1.6m-1 0h1.6m-1 0h1.6m-1 0h1.6m5 0h1.6m-1 0h1.6m-1 0h1.6m0 0h1.6m1 0h1.6m0 0h1.6m-1 0h1.6m-1 0h1.6m-2 0h1.6m6 0h1.6m-1 0h1.6m-1 0h1.6m0 0h1.6m14 0h1.6m4 0h1.6m-1 0h1.6m-1 0h1.6m0 0h1.6m-1 0h1.6m0 0h1.6m0 0h1.6m-1 0h1.6m-1 0h1.6m1 0h1.6m-1 0h1.6m-2 0h1.6m-1 0h1.6m-1 0h1.6m-2 0h1.6m0 0h1.6m-2 0h1.6m-1 0h1.6m-1 0h1.6m-1 0h1.6m-1 0h1.6m5 0h1.6m0 0h1.6m0 0h1.6m0 0h1.6m-1 0h1.6m2 0h1.6m0 0h1.6m-1 0h1.6m-2 0h1.6m-1 0h1.6m0 0h1.6m-1 0h1.6m-1 0h1.6m-2 0h1.6m-1 0h1.6m-1 0h1.6m-1 0h1.6m-2 0h1.6m-1 0h1.6m-2 0h1.6m-1 0h1.6m0 0h1.6m-2 0h1.6m-1 0h1.6m-1 0h1.6m-1 0h1.6m0 0h1.6m1 0h1.6m12 0h1.6m0 0h1.6m0 0h1.6m-1 0h1.6m-1 0h1.6m-1 0h1.6m1 0h1.6m-2 0h1.6m0 0h1.6m-1 0h1.6m-1 0h1.6m-1 0h1.6m0 0h1.6m-1 0h1.6m-1 0h1.6m-1 0h1.6m-1 0h1.6m1 0h1.6m0 0h1.6m1 0h1.6m-1 0h1.6m-1 0h1.6m-1 0h1.6m-1 0h1.6m0 0h1.6m-1 0h1.6m-1 0h1.6m-2 0h1.6m0 0h1.6m-1 0h1.6m0 0h1.6m-1 0h1.6m-1 0h1.6m-1 0h1.6m1 0h1.6m0 0h1.6m-1 0h1.6m-2 0h1.6m-1 0h1.6m0 0h1.6m-2 0h1.6m-1 0h1.6m1 0h1.6m-2 0h1.6m0 0h1.6m0 0h1.6m0 0h1.6m-1 0h1.6m-2 0h1.6m-1 0h1.6m-1 0h1.6m-1 0h1.6m-2 0h1.6m-1 0h1.6m-1 0h1.6m19 0h1.6m-1 0h1.6m-1 0h1.6m-2 0h1.6m-1 0h1.6m0 0h1.6m-1 0h1.6m2 0h1.6m0 0h1.6m-1 0h1.6m-1 0h1.6m-2 0h1.6m-1 0h1.6m-2 0h1.6m1 0h1.6m-2 0h1.6m1 0h1.6m-1 0h1.6m0 0h1.6m-1 0h1.6m-1 0h1.6m-2 0h1.6m-1 0h1.6m-1 0h1.6m0 0h1.6m-1 0h1.6m2 0h1.6m-1 0h1.6m-2 0h1.6m-1 0h1.6m0 0h1.6m-1 0h1.6m0 0h1.6m-2 0h1.6m0 0h1.6m-1 0h1.6m0 0h1.6m-1 0h1.6m-2 0h1.6m-1 0h1.6m-1 0h1.6m-1 0h1.6m-2 0h1.6m-1 0h1.6m-1 0h1.6m-1 0h1.6m-1 0h1.6m-2 0h1.6m-1 0h1.6m-1 0h1.6m1 0h1.6m-2 0h1.6m-1 0h1.6m0 0h1.6m-1 0h1.6m-1 0h1.6m-2 0h1.6m-1 0h1.6m-2 0h1.6m-1 0h1.6m-1 0h1.6m-1 0h1.6m-1 0h1.6m0 0h1.6m-2 0h1.6m-310 9.1h1.6m-1 0h1.6m1 0h1.6m1 0h1.6m-1 0h1.6m-1 0h1.6m0 0h1.6m-1 0h1.6m-1 0h1.6m-1 0h1.6m0 0h1.6m-1 0h1.6m0 0h1.6m2 0h1.6m-1 0h1.6m0 0h1.6m-1 0h1.6m-1 0h1.6m1 0h1.6m3 0h1.6m-1 0h1.6m-1 0h1.6m0 0h1.6m-1 0h1.6m0 0h1.6m0 0h1.6m-1 0h1.6m1 0h1.6m-1 0h1.6m1 0h1.6m-1 0h1.6m-1 0h1.6m3 0h1.6m-1 0h1.6m-1 0h1.6m15 0h1.6m0 0h1.6m-2 0h1.6m1 0h1.6m-2 0h1.6m-1 0h1.6m-1 0h1.6m-1 0h1.6m-1 0h1.6m-1 0h1.6m-1 0h1.6m-2 0h1.6m0 0h1.6m-1 0h1.6m-2 0h1.6m-1 0h1.6m-1 0h1.6m-1 0h1.6m-1 0h1.6m-2 0h1.6m-1 0h1.6m-1 0h1.6m-1 0h1.6m0 0h1.6m-1 0h1.6m-1 0h1.6m-2 0h1.6m1 0h1.6m0 0h1.6m0 0h1.6m0 0h1.6m1 0h1.6m-1 0h1.6m-1 0h1.6m-2 0h1.6m-1 0h1.6m0 0h1.6m-1 0h1.6m-1 0h1.6m-1 0h1.6m-1 0h1.6m0 0h1.6m-2 0h1.6m0 0h1.6m-2 0h1.6m0 0h1.6m-1 0h1.6m-1 0h1.6m-1 0h1.6m-2 0h1.6m-2 0h1.6m-1 0h1.6m-1 0h1.6m-2 0h1.6m1 0h1.6m-1 0h1.6m-1 0h1.6m-2 0h1.6m-1 0h1.6m-2 0h1.6m0 0h1.6m1 0h1.6m0 0h1.6m0 0h1.6m-1 0h1.6m-114 11.6h1.6m-2 0h1.6m1 0h1.6m-1 0h1.6m-1 0h1.6m0 0h1.6m-1 0h1.6m1 0h1.6m-1 0h1.6m-1 0h1.6m-1 0h1.6m-1 0h1.6m-1 0h1.6m-2 0h1.6m-1 0h1.6m-1 0h1.6m0 0h1.6m-1 0h1.6m2 0h1.6m-2 0h1.6m1 0h1.6m-2 0h1.6m-1 0h1.6m-1 0h1.6m1 0h1.6m-2 0h1.6m1 0h1.6m-1 0h1.6m-2 0h1.6m1 0h1.6m-1 0h1.6m0 0h1.6m0 0h1.6m-1 0h1.6m-2 0h1.6m-1 0h1.6m-1 0h1.6m-1 0h1.6m-2 0h1.6m-1 0h1.6m-1 0h1.6m0 0h1.6m-1 0h1.6m0 0h1.6m-1 0h1.6m-1 0h1.6m-2 0h1.6m-1 0h1.6m1 0h1.6m-1 0h1.6m0 0h1.6m-2 0h1.6m-1 0h1.6m-1 0h1.6m0 0h1.6m-1 0h1.6m-2 0h1.6m-1 0h1.6m-2 0h1.6m-1 0h1.6m-51 44.5h1.6m-1 0h1.6m-1 0h1.6m0 0h1.6m2 0h1.6m-1 0h1.6m-1 0h1.6m-1 0h1.6m-1 0h1.6m-2 0h1.6m0 0h1.6m0 0h1.6m-1 0h1.6m-2 0h1.6m-1 0h1.6m-2 0h1.6m0 0h1.6m-1 0h1.6m1 0h1.6m-1 0h1.6m0 0h1.6m0 0h1.6m-1 0h1.6m-2 0h1.6m1 0h1.6m-2 0h1.6m-1 0h1.6m-1 0h1.6m-1 0h1.6m0 0h1.6m-1 0h1.6m0 0h1.6m0 0h1.6m-2 0h1.6m-1 0h1.6m-1 0h1.6m-1 0h1.6m1 0h1.6m-1 0h1.6m-2 0h1.6m0 0h1.6m1 0h1.6m2 0h1.6m-1 0h1.6m0 0h1.6m-1 0h1.6m-1 0h1.6m1 0h1.6m-1 0h1.6m-2 0h1.6m-1 0h1.6m-1 0h1.6m-2 0h1.6m0 0h1.6m-1 0h1.6m206 0h1.6m-2 0h1.6m0 0h1.6m-1 0h1.6m-2 0h1.6m0 0h1.6m-2 0h1.6m0 0h1.6m0 0h1.6m-1 0h1.6m-1 0h1.6m-1 0h1.6m-1 0h1.6m-1 0h1.6m-2 0h1.6m-1 0h1.6m-2 0h1.6m-1 0h1.6m1 0h1.6m-1 0h1.6m3 0h1.6m-1 0h1.6m-1 0h1.6m0 0h1.6m-2 0h1.6m-1 0h1.6m-2 0h1.6m1 0h1.6m-2 0h1.6m-1 0h1.6m2 0h1.6m-1 0h1.6m0 0h1.6m-1 0h1.6m0 0h1.6m-2 0h1.6m-1 0h1.6m0 0h1.6m0 0h1.6m-1 0h1.6m-1 0h1.6m-1 0h1.6m-1 0h1.6m0 0h1.6m-1 0h1.6m-2 0h1.6m0 0h1.6m-1 0h1.6m-1 0h1.6m1 0h1.6m-1 0h1.6m-1 0h1.6m-1 0h1.6m0 0h1.6m0 0h1.6m-1 0h1.6m-1 0h1.6m-2 0h1.6m-1 0h1.6m-1 0h1.6" stroke="#111" stroke-width="2" fill="none"/>
<path d="M91.2 760.3h51M155.8 788.4h51M155.8 760.3h51M155.8 743.9h51M220.5 788.4h51M220.5 760.3h51M220.5 743.9h51M220.5 732.3h51M285.1 788.4h51M285.1 760.3h51M285.1 743.9h51M285.1 732.3h51M349.8 760.3h51M349.8 743.9h51M349.8 732.3h51" stroke="#111" stroke-width="2.3" fill="none"/>
<text x="68.4" y="792.9" font-size="24" text-anchor="end">0</text>
<text x="68.4" y="752.4" font-size="24" text-anchor="end">1</text>
<text x="68.4" y="711.9" font-size="24" text-anchor="end">2</text>
<text x="68.4" y="671.4" font-size="24" text-anchor="end">3</text>
<path d="M78.4 653.5V795H414M74.4 788.4H78.4M74.4 747.9H78.4M74.4 707.4H78.4M74.4 666.9H78.4M116.7 795V800M181.3 795V800M246 795V800M310.6 795V800M375.3 795V800" stroke="#222" stroke-width="1.6" fill="none"/>
<text x="614.8" y="644.5" font-size="28.5" text-anchor="middle" font-style="italic">Jund</text>
<path d="M499.8 788.4l-0.4-1.2-0.9-1.1-8.6-5.8-2.4-2.3-1.5-3.5 0.5-3.4 1.8-2.3 3.9-2.3 16.7-5.8 4.3-2.3 0.5-1.2-0.8-1.1-1.9-1.2-11.5-4.6-1.9-1.2-0.9-1.1 0.1-1.2 1-1.1 7.1-4.7 1.1-1.1 0.3-1.2-0.3-1.1-2.9-3.5-1.4-2.3-0.1-1.2 0.9-4.6-0.4-2.3-6.3-15-8.8-23.1-3.4 0-8.8 23.1-6.3 15-0.4 2.3 0.9 4.6-0.1 1.2-1.4 2.3-2.9 3.5-0.3 1.1 0.3 1.2 1.1 1.1 7.1 4.7 1 1.1 0.1 1.2-0.9 1.1-1.9 1.2-11.5 4.6-1.9 1.2-0.8 1.1 0.5 1.2 4.3 2.3 16.7 5.8 3.9 2.3 1.8 2.3 0.5 3.4-1.5 3.5-2.4 2.3-8.6 5.8-0.9 1.1-0.4 1.2z" fill="#f8766d" stroke="#222" stroke-width="1.1"/><path d="M566.6 788.4l-0.4-1.2-1.2-1.2-10.2-6-2.6-2.4-1.3-2.5-0.2-2.4 0.3-1.2 1.7-2.4 3.6-2.4 20.1-7.2 1.7-1.2 0.3-1.2-1-1.2-2.2-1.3-9.3-3.6-2.4-1.2-1.5-1.2-0.3-1.2 0.7-1.2 7.7-4.8 1.4-1.2 0.6-1.2-0.1-1.2-2.7-3.6-1.1-2.5 1.4-4.8-0.2-2.4-3.6-6-6.9-14.5-5.2-14.4-2.4-8.5-2.6 0-2.4 8.5-5.2 14.4-6.9 14.5-3 4.8-0.9 2.4 1.5 6-1.1 2.5-2.7 3.6-0.1 1.2 0.6 1.2 1.4 1.2 7.7 4.8 0.7 1.2-0.3 1.2-1.5 1.2-2.4 1.2-9.3 3.6-2.2 1.3-1 1.2 0.3 1.2 1.7 1.2 20.1 7.2 3.6 2.4 1.7 2.4 0.3 1.2-0.2 2.4-1.3 2.5-2.6 2.4-10.2 6-1.2 1.2-0.4 1.2z" fill="#f9aa3c" stroke="#222" stroke-width="1.1"/><path d="M625.7 788.4l-0.3-1.2-1-1.3-6.1-5-2-2.5-0.8-2.5 0.1-4.9 0.6-1.3 2.6-2.5 2.3-1.2 19.2-6.2 2.3-1.3 0.7-1.2-1.1-1.3-2.6-1.2-14.4-5-1.7-1.3-0.5-1.2 0.7-1.2 1.6-1.3 6.3-3.7 1.1-1.3 0.2-1.2-0.6-1.3-3.5-3.7-0.5-1.3 0.2-1.2 2.2-3.7 0.3-2.5-2.4-5-1.4-5-2.7-6.2-5-13.7-1.3-5-2.3-12.5-2 0-2.3 12.5-1.3 5-5 13.7-2.7 6.2-1.4 5-2.4 5 0.3 2.5 2.2 3.7 0.2 1.2-0.5 1.3-3.5 3.7-0.6 1.3 0.2 1.2 1.1 1.3 6.3 3.7 1.6 1.3 0.7 1.2-0.5 1.2-1.7 1.3-14.4 5-2.6 1.2-1.1 1.3 0.7 1.2 2.3 1.3 19.2 6.2 2.3 1.2 2.6 2.5 0.6 1.3 0.1 4.9-0.8 2.5-2 2.5-6.1 5-1 1.3-0.3 1.2z" fill="#19b378" stroke="#222" stroke-width="1.1"/><path d="M687.3 788.4l-1-2.6-4.5-5.1-1.4-2.6-0.3-6.4 1.1-2.6 3.4-2.6 2.9-1.2 16.4-5.2 2.8-1.3 1.2-1.3-0.7-1.2-2.5-1.3-11.4-3.9-2.8-1.3-1.5-1.3 0.1-1.2 1.6-1.3 8.9-3.9 2.5-1.3 1.3-1.3 0-1.2-4.1-3.9-0.9-1.3-0.1-1.3 4.6-5.1 0.4-1.3-1.9-5.1-0.9-6.5-3.8-9-5-10.3-8.5-14.1-2.2-6.4-3 0-2.2 6.4-5.6 9-5 9-6.7 15.4-0.9 6.5-1.9 5.1 0.4 1.3 4.6 5.1-0.1 1.3-0.9 1.3-4.1 3.9 0 1.2 1.3 1.3 2.5 1.3 8.9 3.9 1.6 1.3 0.1 1.2-1.5 1.3-2.8 1.3-11.4 3.9-2.5 1.3-0.7 1.2 1.2 1.3 2.8 1.3 16.4 5.2 2.9 1.2 3.4 2.6 1.1 2.6-0.3 6.4-1.4 2.6-4.5 5.1-1 2.6z" fill="#1cb0ef" stroke="#222" stroke-width="1.1"/><path d="M748.5 788.4l-0.7-2.8-2.1-4.3-0.9-2.8 0-7.2 0.5-1.4 1.1-1.4 1.9-1.4 2.9-1.4 17.8-5.7 2.9-1.4 0.7-1.5-1.6-1.4-3.4-1.4-12.9-4.3-2.4-1.4-0.8-1.4 0.5-1.4 7.1-5.7 0.5-1.4-0.7-4.3 0.7-1.4 1.6-1.5 6.9-4.2 1.3-1.4 0.4-1.5 0-4.2 1.4-4.3 0.1-1.4-1.2-4.3-1.9-4.2-4.3-7.1-6.1-8.6-7-11.3-3.7-8.6-1.9-8.5-2 0-1.9 8.5-3.7 8.6-7 11.3-6.1 8.6-4.3 7.1-1.9 4.2-1.2 4.3 0.1 1.4 1.4 4.3 0 4.2 0.4 1.5 1.3 1.4 6.9 4.2 1.6 1.5 0.7 1.4-0.7 4.3 0.5 1.4 7.1 5.7 0.5 1.4-0.8 1.4-2.4 1.4-12.9 4.3-3.4 1.4-1.6 1.4 0.7 1.5 2.9 1.4 17.8 5.7 2.9 1.4 1.9 1.4 1.1 1.4 0.5 1.4 0 7.2-0.9 2.8-2.1 4.3-0.7 2.8z" fill="#b987f6" stroke="#222" stroke-width="1.1"/>
<path d="M737 661.8h1.6m13 0h1.6m0 0h1.6m-35 2.7h1.6m0 0h1.6m22 0h1.6m-1 0h1.6m-17 2.9h1.6m4 0h1.6m3 0h1.6m15 0h1.6m-1 0h1.6m4 0h1.6m-44 3h1.6m3 0h1.6m1 0h1.6m1 0h1.6m2 0h1.6m4 0h1.6m-1 0h1.6m1 0h1.6m2 0h1.6m19 0h1.6m-99 3.3h1.6m11 0h1.6m10 0h1.6m26 0h1.6m0 0h1.6m2 0h1.6m7 0h1.6m-1 0h1.6m1 0h1.6m-1 0h1.6m0 0h1.6m2 0h1.6m-1 0h1.6m1 0h1.6m-1 0h1.6m0 0h1.6m14 0h1.6m1 0h1.6m-170 3.6h1.6m37 0h1.6m42 0h1.6m0 0h1.6m0 0h1.6m3 0h1.6m2 0h1.6m5 0h1.6m18 0h1.6m1 0h1.6m4 0h1.6m-1 0h1.6m-1 0h1.6m6 0h1.6m-1 0h1.6m0 0h1.6m-1 0h1.6m1 0h1.6m4 0h1.6m6 0h1.6m-1 0h1.6m1 0h1.6m0 0h1.6m-1 0h1.6m-1 0h1.6m1 0h1.6m1 0h1.6m0 0h1.6m-225 3.9h1.6m4 0h1.6m5 0h1.6m46 0h1.6m2 0h1.6m1 0h1.6m3 0h1.6m21 0h1.6m15 0h1.6m5 0h1.6m0 0h1.6m3 0h1.6m5 0h1.6m5 0h1.6m-1 0h1.6m6 0h1.6m-1 0h1.6m4 0h1.6m-2 0h1.6m0 0h1.6m27 0h1.6m-1 0h1.6m-1 0h1.6m5 0h1.6m0 0h1.6m1 0h1.6m-1 0h1.6m0 0h1.6m0 0h1.6m-1 0h1.6m-1 0h1.6m-1 0h1.6m-1 0h1.6m0 0h1.6m4 0h1.6m-1 0h1.6m-1 0h1.6m3 0h1.6m0 0h1.6m2 0h1.6m0 0h1.6m-1 0h1.6m-1 0h1.6m-1 0h1.6m-1 0h1.6m-2 0h1.6m-1 0h1.6m0 0h1.6m0 0h1.6m-2 0h1.6m-286 4.3h1.6m40 0h1.6m8 0h1.6m5 0h1.6m-1 0h1.6m6 0h1.6m-1 0h1.6m9 0h1.6m-1 0h1.6m-1 0h1.6m5 0h1.6m20 0h1.6m0 0h1.6m1 0h1.6m2 0h1.6m8 0h1.6m0 0h1.6m-1 0h1.6m3 0h1.6m10 0h1.6m9 0h1.6m15 0h1.6m-1 0h1.6m-2 0h1.6m-1 0h1.6m3 0h1.6m-1 0h1.6m4 0h1.6m-1 0h1.6m-1 0h1.6m-1 0h1.6m0 0h1.6m-1 0h1.6m2 0h1.6m-2 0h1.6m-1 0h1.6m-1 0h1.6m1 0h1.6m2 0h1.6m2 0h1.6m5 0h1.6m6 0h1.6m0 0h1.6m2 0h1.6m-1 0h1.6m-1 0h1.6m14 0h1.6m1 0h1.6m-1 0h1.6m-1 0h1.6m-1 0h1.6m-1 0h1.6m0 0h1.6m1 0h1.6m0 0h1.6m-1 0h1.6m-1 0h1.6m-2 0h1.6m0 0h1.6m-2 0h1.6m-1 0h1.6m0 0h1.6m-1 0h1.6m1 0h1.6m-1 0h1.6m-1 0h1.6m1 0h1.6m-2 0h1.6m0 0h1.6m0 0h1.6m-1 0h1.6m1 0h1.6m2 0h1.6m-1 0h1.6m-1 0h1.6m0 0h1.6m-1 0h1.6m0 0h1.6m-1 0h1.6m0 0h1.6m-1 0h1.6m2 0h1.6m-2 0h1.6m-1 0h1.6m1 0h1.6m-1 0h1.6m-233 4.7h1.6m-1 0h1.6m-1 0h1.6m-1 0h1.6m0 0h1.6m3 0h1.6m0 0h1.6m14 0h1.6m1 0h1.6m2 0h1.6m5 0h1.6m-1 0h1.6m15 0h1.6m3 0h1.6m0 0h1.6m2 0h1.6m2 0h1.6m0 0h1.6m-1 0h1.6m-1 0h1.6m4 0h1.6m4 0h1.6m1 0h1.6m0 0h1.6m-1 0h1.6m-1 0h1.6m-1 0h1.6m1 0h1.6m2 0h1.6m-1 0h1.6m27 0h1.6m1 0h1.6m-1 0h1.6m-1 0h1.6m-1 0h1.6m0 0h1.6m-1 0h1.6m-1 0h1.6m0 0h1.6m1 0h1.6m-1 0h1.6m-1 0h1.6m0 0h1.6m0 0h1.6m1 0h1.6m-1 0h1.6m1 0h1.6m1 0h1.6m-2 0h1.6m3 0h1.6m-1 0h1.6m0 0h1.6m-1 0h1.6m-1 0h1.6m-1 0h1.6m-1 0h1.6m0 0h1.6m-1 0h1.6m-1 0h1.6m0 0h1.6m-1 0h1.6m-2 0h1.6m-1 0h1.6m-2 0h1.6m-1 0h1.6m0 0h1.6m1 0h1.6m-1 0h1.6m-1 0h1.6m0 0h1.6m13 0h1.6m3 0h1.6m-1 0h1.6m-2 0h1.6m0 0h1.6m-2 0h1.6m-1 0h1.6m-2 0h1.6m-1 0h1.6m-1 0h1.6m-1 0h1.6m1 0h1.6m-1 0h1.6m-1 0h1.6m-1 0h1.6m0 0h1.6m-2 0h1.6m0 0h1.6m-1 0h1.6m-2 0h1.6m-1 0h1.6m-1 0h1.6m-1 0h1.6m5 0h1.6m0 0h1.6m0 0h1.6m0 0h1.6m-1 0h1.6m1 0h1.6m1 0h1.6m-1 0h1.6m-2 0h1.6m-1 0h1.6m-1 0h1.6m1 0h1.6m-1 0h1.6m-2 0h1.6m-1 0h1.6m-1 0h1.6m-1 0h1.6m-1 0h1.6m-1 0h1.6m-2 0h1.6m-1 0h1.6m-2 0h1.6m-1 0h1.6m-1 0h1.6m-1 0h1.6m-1 0h1.6m-1 0h1.6m-1 0h1.6m-2 0h1.6m0 0h1.6m0 0h1.6m1 0h1.6m-309 5.2h1.6m9 0h1.6m-1 0h1.6m4 0h1.6m9 0h1.6m8 0h1.6m0 0h1.6m-1 0h1.6m26 0h1.6m1 0h1.6m3 0h1.6m1 0h1.6m7 0h1.6m-1 0h1.6m-1 0h1.6m3 0h1.6m1 0h1.6m3 0h1.6m0 0h1.6m1 0h1.6m-1 0h1.6m-1 0h1.6m1 0h1.6m-1 0h1.6m0 0h1.6m0 0h1.6m-2 0h1.6m2 0h1.6m13 0h1.6m2 0h1.6m1 0h1.6m1 0h1.6m2 0h1.6m1 0h1.6m2 0h1.6m0 0h1.6m-1 0h1.6m-1 0h1.6m-1 0h1.6m0 0h1.6m-2 0h1.6m-1 0h1.6m0 0h1.6m1 0h1.6m-1 0h1.6m-1 0h1.6m1 0h1.6m-2 0h1.6m0 0h1.6m1 0h1.6m0 0h1.6m0 0h1.6m2 0h1.6m-1 0h1.6m-1 0h1.6m-1 0h1.6m-1 0h1.6m3 0h1.6m15 0h1.6m1 0h1.6m-2 0h1.6m-1 0h1.6m-1 0h1.6m-1 0h1.6m2 0h1.6m-1 0h1.6m-2 0h1.6m-1 0h1.6m-1 0h1.6m-1 0h1.6m0 0h1.6m-1 0h1.6m-1 0h1.6m-2 0h1.6m-1 0h1.6m-2 0h1.6m0 0h1.6m2 0h1.6m-2 0h1.6m0 0h1.6m-1 0h1.6m-1 0h1.6m-1 0h1.6m0 0h1.6m-1 0h1.6m-1 0h1.6m-1 0h1.6m-2 0h1.6m-1 0h1.6m1 0h1.6m0 0h1.6m-2 0h1.6m0 0h1.6m-1 0h1.6m-1 0h1.6m-1 0h1.6m-1 0h1.6m-2 0h1.6m0 0h1.6m0 0h1.6m-1 0h1.6m-2 0h1.6m3 0h1.6m-2 0h1.6m-1 0h1.6m1 0h1.6m0 0h1.6m-2 0h1.6m1 0h1.6m0 0h1.6m-1 0h1.6m-1 0h1.6m-1 0h1.6m13 0h1.6m-2 0h1.6m-1 0h1.6m-1 0h1.6m0 0h1.6m-2 0h1.6m4 0h1.6m-1 0h1.6m1 0h1.6m-1 0h1.6m-1 0h1.6m-1 0h1.6m0 0h1.6m-1 0h1.6m-1 0h1.6m-1 0h1.6m-1 0h1.6m0 0h1.6m-1 0h1.6m-2 0h1.6m-1 0h1.6m2 0h1.6m-1 0h1.6m-1 0h1.6m0 0h1.6m-1 0h1.6m-1 0h1.6m-2 0h1.6m-1 0h1.6m-1 0h1.6m-2 0h1.6m-1 0h1.6m-1 0h1.6m-1 0h1.6m-1 0h1.6m-1 0h1.6m-1 0h1.6m-1 0h1.6m-1 0h1.6m1 0h1.6m-1 0h1.6m-1 0h1.6m1 0h1.6m-1 0h1.6m-2 0h1.6m-1 0h1.6m-1 0h1.6m-1 0h1.6m0 0h1.6m0 0h1.6m0 0h1.6m0 0h1.6m-2 0h1.6m-1 0h1.6m-2 0h1.6m-1 0h1.6m-1 0h1.6m-2 0h1.6m0 0h1.6m-1 0h1.6m-305 6h1.6m-1 0h1.6m3 0h1.6m-1 0h1.6m2 0h1.6m2 0h1.6m1 0h1.6m3 0h1.6m3 0h1.6m11 0h1.6m1 0h1.6m3 0h1.6m13 0h1.6m-1 0h1.6m-1 0h1.6m0 0h1.6m-1 0h1.6m1 0h1.6m0 0h1.6m-1 0h1.6m0 0h1.6m2 0h1.6m-1 0h1.6m-1 0h1.6m0 0h1.6m-1 0h1.6m4 0h1.6m2 0h1.6m-1 0h1.6m3 0h1.6m-1 0h1.6m1 0h1.6m1 0h1.6m3 0h1.6m-1 0h1.6m-1 0h1.6m-1 0h1.6m0 0h1.6m-1 0h1.6m-1 0h1.6m-1 0h1.6m1 0h1.6m14 0h1.6m0 0h1.6m-1 0h1.6m-1 0h1.6m-1 0h1.6m-1 0h1.6m-2 0h1.6m-1 0h1.6m-1 0h1.6m-1 0h1.6m0 0h1.6m1 0h1.6m0 0h1.6m-2 0h1.6m0 0h1.6m-2 0h1.6m-1 0h1.6m1 0h1.6m-2 0h1.6m-1 0h1.6m-1 0h1.6m1 0h1.6m-2 0h1.6m0 0h1.6m-1 0h1.6m1 0h1.6m-1 0h1.6m-1 0h1.6m2 0h1.6m-1 0h1.6m2 0h1.6m-1 0h1.6m0 0h1.6m-1 0h1.6m0 0h1.6m-2 0h1.6m-1 0h1.6m0 0h1.6m-1 0h1.6m-1 0h1.6m1 0h1.6m0 0h1.6m2 0h1.6m-1 0h1.6m1 0h1.6m13 0h1.6m-2 0h1.6m0 0h1.6m-2 0h1.6m-1 0h1.6m-1 0h1.6m-1 0h1.6m-1 0h1.6m-1 0h1.6m-1 0h1.6m-2 0h1.6m-1 0h1.6m-2 0h1.6m0 0h1.6m-1 0h1.6m-1 0h1.6m-2 0h1.6m1 0h1.6m-1 0h1.6m-1 0h1.6m-1 0h1.6m-1 0h1.6m-1 0h1.6m-1 0h1.6m-1 0h1.6m-1 0h1.6m-1 0h1.6m-1 0h1.6m1 0h1.6m0 0h1.6m-1 0h1.6m-1 0h1.6m-2 0h1.6m-1 0h1.6m-1 0h1.6m-1 0h1.6m-2 0h1.6m0 0h1.6m1 0h1.6m-2 0h1.6m1 0h1.6m-1 0h1.6m-1 0h1.6m1 0h1.6m1 0h1.6m-1 0h1.6m-1 0h1.6m0 0h1.6m-1 0h1.6m-1 0h1.6m1 0h1.6m-1 0h1.6m-1 0h1.6m-1 0h1.6m-1 0h1.6m0 0h1.6m-1 0h1.6m-1 0h1.6m-1 0h1.6m-1 0h1.6m15 0h1.6m-1 0h1.6m-2 0h1.6m0 0h1.6m-1 0h1.6m-1 0h1.6m-1 0h1.6m-1 0h1.6m-1 0h1.6m-1 0h1.6m2 0h1.6m-2 0h1.6m0 0h1.6m0 0h1.6m-1 0h1.6m-1 0h1.6m-1 0h1.6m0 0h1.6m-1 0h1.6m-1 0h1.6m1 0h1.6m-1 0h1.6m-1 0h1.6m-1 0h1.6m-2 0h1.6m-1 0h1.6m-1 0h1.6m-1 0h1.6m-1 0h1.6m0 0h1.6m-1 0h1.6m-2 0h1.6m-1 0h1.6m1 0h1.6m0 0h1.6m-2 0h1.6m-1 0h1.6m-2 0h1.6m-1 0h1.6m-1 0h1.6m-1 0h1.6m-1 0h1.6m-1 0h1.6m-1 0h1.6m-1 0h1.6m0 0h1.6m0 0h1.6m0 0h1.6m0 0h1.6m-1 0h1.6m-1 0h1.6m-1 0h1.6m-1 0h1.6m-1 0h1.6m-1 0h1.6m-1 0h1.6m-1 0h1.6m-1 0h1.6m0 0h1.6m0 0h1.6m-1 0h1.6m-1 0h1.6m-1 0h1.6m-1 0h1.6m-2 0h1.6m-310 6.9h1.6m-1 0h1.6m6 0h1.6m-1 0h1.6m0 0h1.6m2 0h1.6m0 0h1.6m-2 0h1.6m-1 0h1.6m0 0h1.6m9 0h1.6m-1 0h1.6m0 0h1.6m-1 0h1.6m-1 0h1.6m0 0h1.6m-1 0h1.6m2 0h1.6m4 0h1.6m1 0h1.6m18 0h1.6m2 0h1.6m0 0h1.6m-1 0h1.6m-2 0h1.6m0 0h1.6m-1 0h1.6m-1 0h1.6m0 0h1.6m-2 0h1.6m1 0h1.6m1 0h1.6m-2 0h1.6m1 0h1.6m-1 0h1.6m2 0h1.6m-1 0h1.6m-1 0h1.6m-1 0h1.6m-1 0h1.6m-1 0h1.6m-1 0h1.6m0 0h1.6m-1 0h1.6m-1 0h1.6m-1 0h1.6m0 0h1.6m-1 0h1.6m-2 0h1.6m0 0h1.6m-2 0h1.6m-1 0h1.6m0 0h1.6m-2 0h1.6m-1 0h1.6m-1 0h1.6m0 0h1.6m0 0h1.6m-1 0h1.6m-1 0h1.6m0 0h1.6m-1 0h1.6m-1 0h1.6m5 0h1.6m-1 0h1.6m13 0h1.6m0 0h1.6m-1 0h1.6m1 0h1.6m-1 0h1.6m0 0h1.6m-1 0h1.6m-1 0h1.6m-2 0h1.6m0 0h1.6m-1 0h1.6m-2 0h1.6m-1 0h1.6m-1 0h1.6m-1 0h1.6m-1 0h1.6m-2 0h1.6m0 0h1.6m0 0h1.6m-1 0h1.6m1 0h1.6m0 0h1.6m-1 0h1.6m0 0h1.6m-1 0h1.6m-1 0h1.6m-2 0h1.6m0 0h1.6m-1 0h1.6m-1 0h1.6m-1 0h1.6m-1 0h1.6m-2 0h1.6m0 0h1.6m-2 0h1.6m0 0h1.6m-1 0h1.6m-1 0h1.6m-2 0h1.6m0 0h1.6m-1 0h1.6m-1 0h1.6m1 0h1.6m-2 0h1.6m1 0h1.6m1 0h1.6m-2 0h1.6m-1 0h1.6m-1 0h1.6m-2 0h1.6m-1 0h1.6m-1 0h1.6m-1 0h1.6m-1 0h1.6m-1 0h1.6m-1 0h1.6m-1 0h1.6m1 0h1.6m-1 0h1.6m0 0h1.6m-180 8.2h1.6m-1 0h1.6m4 0h1.6m0 0h1.6m0 0h1.6m-1 0h1.6m1 0h1.6m0 0h1.6m0 0h1.6m-1 0h1.6m1 0h1.6m-1 0h1.6m-2 0h1.6m-1 0h1.6m0 0h1.6m-1 0h1.6m-1 0h1.6m6 0h1.6m7 0h1.6m3 0h1.6m-2 0h1.6m1 0h1.6m-1 0h1.6m-1 0h1.6m1 0h1.6m14 0h1.6m1 0h1.6m0 0h1.6m-2 0h1.6m-1 0h1.6m-2 0h1.6m-1 0h1.6m-1 0h1.6m1 0h1.6m-1 0h1.6m0 0h1.6m-1 0h1.6m-1 0h1.6m-1 0h1.6m-1 0h1.6m0 0h1.6m-1 0h1.6m0 0h1.6m-2 0h1.6m-1 0h1.6m-1 0h1.6m-1 0h1.6m-1 0h1.6m-1 0h1.6m-2 0h1.6m-2 0h1.6m-1 0h1.6m-1 0h1.6m-1 0h1.6m-1 0h1.6m-1 0h1.6m-1 0h1.6m-1 0h1.6m-2 0h1.6m0 0h1.6m0 0h1.6m-1 0h1.6m-2 0h1.6m-1 0h1.6m-1 0h1.6m-1 0h1.6m0 0h1.6m1 0h1.6m-1 0h1.6m0 0h1.6m-2 0h1.6m-1 0h1.6m0 0h1.6m1 0h1.6m0 0h1.6m-1 0h1.6m1 0h1.6m-2 0h1.6m0 0h1.6m-1 0h1.6m2 0h1.6m-1 0h1.6m-1 0h1.6m-1 0h1.6m-1 0h1.6m-116 9.9h1.6m0 0h1.6m1 0h1.6m4 0h1.6m-2 0h1.6m-1 0h1.6m-1 0h1.6m0 0h1.6m-1 0h1.6m-1 0h1.6m-1 0h1.6m0 0h1.6m0 0h1.6m-2 0h1.6m-1 0h1.6m-1 0h1.6m-2 0h1.6m0 0h1.6m0 0h1.6m-1 0h1.6m0 0h1.6m-1 0h1.6m-2 0h1.6m0 0h1.6m-1 0h1.6m4 0h1.6m0 0h1.6m-1 0h1.6m-2 0h1.6m0 0h1.6m-1 0h1.6m-1 0h1.6m-1 0h1.6m-2 0h1.6m-1 0h1.6m-1 0h1.6m0 0h1.6m-1 0h1.6m-1 0h1.6m-1 0h1.6m0 0h1.6m-1 0h1.6m0 0h1.6m2 0h1.6m-1 0h1.6m-51 12.9h1.6m-2 0h1.6m1 0h1.6m-2 0h1.6m-1 0h1.6m0 0h1.6m0 0h1.6m-2 0h1.6m1 0h1.6m0 0h1.6m-1 0h1.6m0 0h1.6m-1 0h1.6m0 0h1.6m-1 0h1.6m-2 0h1.6m0 0h1.6m-1 0h1.6m-1 0h1.6m-1 0h1.6m-1 0h1.6m-1 0h1.6m-1 0h1.6m-2 0h1.6m1 0h1.6m-1 0h1.6m1 0h1.6m-1 0h1.6m-1 0h1.6m-2 0h1.6m-1 0h1.6m-1 0h1.6m-1 0h1.6m0 0h1.6m-1 0h1.6m-1 0h1.6m-2 0h1.6m-1 0h1.6m0 0h1.6m-1 0h1.6m0 0h1.6m-2 0h1.6m0 0h1.6m-1 0h1.6m-2 0h1.6m-1 0h1.6m-1 0h1.6m-2 0h1.6m-1 0h1.6m-2 0h1.6m1 0h1.6m-1 0h1.6m-1 0h1.6m-1 0h1.6m2 0h1.6m-2 0h1.6m-1 0h1.6m-2 0h1.6m0 0h1.6m0 0h1.6m-1 0h1.6m0 0h1.6m-2 0h1.6m-1 0h1.6m-1 0h1.6m-52 49.1h1.6m2 0h1.6m-1 0h1.6m-1 0h1.6m-2 0h1.6m-1 0h1.6m0 0h1.6m-1 0h1.6m-1 0h1.6m-1 0h1.6m0 0h1.6m-2 0h1.6m0 0h1.6m-2 0h1.6m1 0h1.6m0 0h1.6m0 0h1.6m-1 0h1.6m1 0h1.6m-1 0h1.6m0 0h1.6m-2 0h1.6m1 0h1.6m-1 0h1.6m-2 0h1.6m-1 0h1.6m-1 0h1.6m-1 0h1.6m0 0h1.6m4 0h1.6m-1 0h1.6m-2 0h1.6m-1 0h1.6m-1 0h1.6m-2 0h1.6m-1 0h1.6m0 0h1.6m-1 0h1.6m2 0h1.6m-1 0h1.6m3 0h1.6m-1 0h1.6m-1 0h1.6m2 0h1.6m-2 0h1.6m212 0h1.6m-1 0h1.6m-1 0h1.6m-1 0h1.6m4 0h1.6m2 0h1.6m-1 0h1.6m-1 0h1.6m0 0h1.6m2 0h1.6m-1 0h1.6m0 0h1.6m5 0h1.6m0 0h1.6m-1 0h1.6m0 0h1.6m-1 0h1.6m1 0h1.6m0 0h1.6m0 0h1.6m2 0h1.6m0 0h1.6m-1 0h1.6m-1 0h1.6m-1 0h1.6" stroke="#111" stroke-width="2" fill="none"/>
<path d="M459.8 757.4h51M524.5 788.4h51M524.5 757.4h51M524.5 739.3h51M524.5 726.4h51M589.4 788.4h51M589.4 757.4h51M589.4 739.3h51M589.4 726.4h51M589.4 716.5h51M654 788.4h51M654 757.4h51M654 739.3h51M654 726.4h51M654 716.5h51M654 708.3h51M718.7 757.4h51M718.7 739.3h51M718.7 726.4h51M718.7 716.5h51M718.7 708.3h51" stroke="#111" stroke-width="2.3" fill="none"/>
<text x="437" y="792.9" font-size="24" text-anchor="end">0</text>
<text x="437" y="748.2" font-size="24" text-anchor="end">1</text>
<text x="437" y="703.5" font-size="24" text-anchor="end">2</text>
<text x="437" y="658.8" font-size="24" text-anchor="end">3</text>
<path d="M447 653.5V795H783M443 788.4H447M443 743.7H447M443 699H447M443 654.3H447M485.3 795V800M550 795V800M614.9 795V800M679.5 795V800M744.2 795V800" stroke="#222" stroke-width="1.6" fill="none"/>
<text x="980.8" y="644.5" font-size="28.5" text-anchor="middle" font-style="italic">Klf4</text>
<path d="M882.4 788.4l-10.6-5.1-2.4-1.8-5-5.1-2.5-5.2-0.1-1.7 1-5.1-2.9-8.6-2.9-24-2.1-30-0.3-15.5-1.2 0-0.2 14.6-1.1 18-3.1 30.9-1.1 6.9-2.7 7.7 1 5.1-0.1 1.7-2.5 5.2-5 5.1-2.4 1.8-10.6 5.1z" fill="#f8766d" stroke="#222" stroke-width="1.1"/><path d="M947.4 788.4l-14.8-5-3.9-1.6-5.8-3.3-0.9-0.9-1-1.6 0-2.5 4.2-9.1-0.4-1.7-2.3-4.9-1-8.3-1.5-29.8-0.4-29.9-1.2 0-0.4 29.9-1.6 30.6-0.9 7.5-2.3 4.9-0.4 1.7 4.2 9.1 0 2.5-1 1.6-0.9 0.9-5.8 3.3-3.9 1.6-14.8 5z" fill="#f9aa3c" stroke="#222" stroke-width="1.1"/><path d="M1012.4 788.4l-13-6.6-6-4.8-1.2-1.9-0.2-2.8 0.4-1.9 2.1-4.7 0.4-1.9-2.4-7.6-0.7-7.6-3.3-23.6-3.4-37.9-0.5-11.3-1.2 0-0.4 10.4-2 24.6-5.4 44.5-2.5 8.5 0.4 1.9 2.1 4.7 0.4 1.9-0.2 2.8-1.2 1.9-6 4.8-13 6.6z" fill="#19b378" stroke="#222" stroke-width="1.1"/><path d="M1077 788.4l-14.4-9.6-2.3-2.1-0.4-1.1 1-2.1 6.4-7.5 1-2.1-0.5-2.1-2.4-5.3-0.3-5.4 0.4-3.2 2.1-8.5 1.9-12.8 0-8.5-1.2-8.5-3.5-10.6-3.7-6.4-8.8-12.8-1.1-2.1-1.6-6.4-0.4-9.6-1.2 0-0.4 9.6-1.6 6.4-1.1 2.1-8.8 12.8-3.7 6.4-3.5 10.6-1.1 7.5-0.3 4.2 0.2 5.3 1.9 12.8 2.1 8.5 0.4 3.2-0.3 5.4-2.4 5.3-0.5 2.1 1 2.1 6.4 7.5 1 2.1-0.4 1.1-2.3 2.1-14.4 9.6z" fill="#1cb0ef" stroke="#222" stroke-width="1.1"/><path d="M1127.1 788.4l-5.6-7.2-1.7-3.6 0-0.9 0.4-0.9 4.1-2.7 6.8-3.6 8-3.6 2.5-1.8-0.2-0.9-1-0.9-6.2-4.5-1.4-1.8-0.7-1.8-1.4-5.4-1.7-15.3-1.4-6.2-7.6-28.8-5.8-17.1-2 0-4.9 14.4-4.5 15.3-5.1 20.6-2 17.1-1.7 6.3-1.8 2.7-6.2 4.5-1 0.9-0.2 0.9 2.5 1.8 8 3.6 6.8 3.6 4.1 2.7 0.4 0.9 0 0.9-1.7 3.6-5.6 7.2z" fill="#b987f6" stroke="#222" stroke-width="1.1"/>
<path d="M1064 662.3h1.6m-6 2h1.6m-2 3.2h1.6m-13 3.6h1.6m8 1.3h1.6m7 1.3h1.6m-30 1.4h1.6m17 0h1.6m9 0h1.6m3 0h1.6m-1 0h1.6m-99 1.4h1.6m14 0h1.6m42 0h1.6m-29 1.5h1.6m22 0h1.6m0 0h1.6m10 0h1.6m21 0h1.6m-92 1.6h1.6m51 0h1.6m18 0h1.6m18 0h1.6m-101 1.6h1.6m9 0h1.6m50 0h1.6m1 0h1.6m0 0h1.6m22 0h1.6m-33 1.8h1.6m2 0h1.6m3 0h1.6m9 0h1.6m2 0h1.6m19 0h1.6m46 0h1.6m-156 1.8h1.6m14 0h1.6m55 0h1.6m20 0h1.6m15 0h1.6m20 0h1.6m12 0h1.6m13 0h1.6m10 0h1.6m-168 1.9h1.6m0 0h1.6m6 0h1.6m7 0h1.6m2 0h1.6m4 0h1.6m11 0h1.6m17 0h1.6m17 0h1.6m15 0h1.6m43 0h1.6m1 0h1.6m10 0h1.6m15 0h1.6m-290 2h1.6m148 0h1.6m23 0h1.6m6 0h1.6m-1 0h1.6m-1 0h1.6m0 0h1.6m6 0h1.6m-1 0h1.6m0 0h1.6m5 0h1.6m1 0h1.6m-2 0h1.6m-1 0h1.6m1 0h1.6m-1 0h1.6m-2 0h1.6m1 0h1.6m-2 0h1.6m5 0h1.6m-1 0h1.6m1 0h1.6m0 0h1.6m0 0h1.6m1 0h1.6m32 0h1.6m22 0h1.6m-1 0h1.6m-283 2.1h1.6m-2 0h1.6m73 0h1.6m38 0h1.6m63 0h1.6m5 0h1.6m3 0h1.6m5 0h1.6m5 0h1.6m0 0h1.6m9 0h1.6m46 0h1.6m-220 2.3h1.6m68 0h1.6m0 0h1.6m2 0h1.6m9 0h1.6m4 0h1.6m22 0h1.6m13 0h1.6m1 0h1.6m3 0h1.6m2 0h1.6m3 0h1.6m3 0h1.6m-1 0h1.6m0 0h1.6m1 0h1.6m2 0h1.6m0 0h1.6m5 0h1.6m4 0h1.6m6 0h1.6m20 0h1.6m13 0h1.6m2 0h1.6m13 0h1.6m1 0h1.6m-300 2.4h1.6m66 0h1.6m-1 0h1.6m63 0h1.6m0 0h1.6m4 0h1.6m6 0h1.6m0 0h1.6m5 0h1.6m5 0h1.6m2 0h1.6m5 0h1.6m19 0h1.6m1 0h1.6m-1 0h1.6m-2 0h1.6m0 0h1.6m6 0h1.6m0 0h1.6m-1 0h1.6m-2 0h1.6m5 0h1.6m0 0h1.6m2 0h1.6m0 0h1.6m-1 0h1.6m-1 0h1.6m-1 0h1.6m2 0h1.6m4 0h1.6m1 0h1.6m2 0h1.6m0 0h1.6m0 0h1.6m-1 0h1.6m29 0h1.6m4 0h1.6m7 0h1.6m2 0h1.6m0 0h1.6m4 0h1.6m3 0h1.6m-282 2.6h1.6m10 0h1.6m9 0h1.6m20 0h1.6m26 0h1.6m10 0h1.6m22 0h1.6m-2 0h1.6m2 0h1.6m-1 0h1.6m-1 0h1.6m0 0h1.6m2 0h1.6m12 0h1.6m1 0h1.6m-1 0h1.6m0 0h1.6m4 0h1.6m0 0h1.6m3 0h1.6m1 0h1.6m20 0h1.6m0 0h1.6m3 0h1.6m1 0h1.6m-1 0h1.6m3 0h1.6m-1 0h1.6m0 0h1.6m4 0h1.6m-2 0h1.6m6 0h1.6m-1 0h1.6m0 0h1.6m4 0h1.6m2 0h1.6m-1 0h1.6m0 0h1.6m-1 0h1.6m-1 0h1.6m19 0h1.6m6 0h1.6m2 0h1.6m8 0h1.6m1 0h1.6m0 0h1.6m0 0h1.6m2 0h1.6m0 0h1.6m13 0h1.6m2 0h1.6m-233 2.8h1.6m33 0h1.6m-1 0h1.6m17 0h1.6m0 0h1.6m5 0h1.6m15 0h1.6m-1 0h1.6m14 0h1.6m20 0h1.6m1 0h1.6m-1 0h1.6m-1 0h1.6m-1 0h1.6m-1 0h1.6m-1 0h1.6m-1 0h1.6m-1 0h1.6m0 0h1.6m1 0h1.6m-1 0h1.6m-2 0h1.6m-1 0h1.6m-1 0h1.6m1 0h1.6m1 0h1.6m-1 0h1.6m-1 0h1.6m-2 0h1.6m0 0h1.6m1 0h1.6m1 0h1.6m-1 0h1.6m-1 0h1.6m-1 0h1.6m-2 0h1.6m-1 0h1.6m1 0h1.6m1 0h1.6m-2 0h1.6m0 0h1.6m-2 0h1.6m-1 0h1.6m0 0h1.6m0 0h1.6m1 0h1.6m-1 0h1.6m0 0h1.6m-1 0h1.6m0 0h1.6m-1 0h1.6m-1 0h1.6m-2 0h1.6m1 0h1.6m1 0h1.6m-2 0h1.6m-1 0h1.6m-1 0h1.6m17 0h1.6m9 0h1.6m-1 0h1.6m1 0h1.6m-2 0h1.6m0 0h1.6m0 0h1.6m1 0h1.6m-1 0h1.6m2 0h1.6m7 0h1.6m0 0h1.6m0 0h1.6m-1 0h1.6m3 0h1.6m-2 0h1.6m-1 0h1.6m3 0h1.6m-305 3.1h1.6m75 0h1.6m-1 0h1.6m47 0h1.6m0 0h1.6m-1 0h1.6m0 0h1.6m0 0h1.6m-2 0h1.6m-1 0h1.6m0 0h1.6m-2 0h1.6m1 0h1.6m2 0h1.6m0 0h1.6m1 0h1.6m-2 0h1.6m1 0h1.6m-1 0h1.6m-1 0h1.6m2 0h1.6m1 0h1.6m-1 0h1.6m0 0h1.6m1 0h1.6m-1 0h1.6m0 0h1.6m-1 0h1.6m-1 0h1.6m1 0h1.6m-1 0h1.6m0 0h1.6m2 0h1.6m-2 0h1.6m-1 0h1.6m-1 0h1.6m2 0h1.6m-1 0h1.6m13 0h1.6m0 0h1.6m-1 0h1.6m-1 0h1.6m1 0h1.6m-1 0h1.6m2 0h1.6m-1 0h1.6m2 0h1.6m-1 0h1.6m-1 0h1.6m0 0h1.6m0 0h1.6m-1 0h1.6m-1 0h1.6m-2 0h1.6m1 0h1.6m-1 0h1.6m-1 0h1.6m-2 0h1.6m-1 0h1.6m0 0h1.6m-1 0h1.6m0 0h1.6m-1 0h1.6m-1 0h1.6m-1 0h1.6m-1 0h1.6m-1 0h1.6m-2 0h1.6m0 0h1.6m-2 0h1.6m-1 0h1.6m-1 0h1.6m-2 0h1.6m0 0h1.6m-1 0h1.6m1 0h1.6m0 0h1.6m-1 0h1.6m5 0h1.6m-2 0h1.6m-1 0h1.6m0 0h1.6m-1 0h1.6m16 0h1.6m-1 0h1.6m-1 0h1.6m0 0h1.6m0 0h1.6m-1 0h1.6m4 0h1.6m-1 0h1.6m-2 0h1.6m0 0h1.6m1 0h1.6m-1 0h1.6m3 0h1.6m-2 0h1.6m0 0h1.6m0 0h1.6m2 0h1.6m-1 0h1.6m-1 0h1.6m-1 0h1.6m2 0h1.6m1 0h1.6m1 0h1.6m-2 0h1.6m-1 0h1.6m-1 0h1.6m-1 0h1.6m0 0h1.6m-2 0h1.6m-1 0h1.6m-1 0h1.6m1 0h1.6m-1 0h1.6m-2 0h1.6m-1 0h1.6m-1 0h1.6m-292 3.3h1.6m29 0h1.6m2 0h1.6m80 0h1.6m1 0h1.6m0 0h1.6m1 0h1.6m3 0h1.6m-1 0h1.6m0 0h1.6m-1 0h1.6m-1 0h1.6m-2 0h1.6m2 0h1.6m-1 0h1.6m-1 0h1.6m2 0h1.6m-1 0h1.6m0 0h1.6m-2 0h1.6m-1 0h1.6m0 0h1.6m0 0h1.6m-1 0h1.6m1 0h1.6m-1 0h1.6m-1 0h1.6m-1 0h1.6m0 0h1.6m-1 0h1.6m1 0h1.6m-1 0h1.6m2 0h1.6m-1 0h1.6m3 0h1.6m-2 0h1.6m-1 0h1.6m1 0h1.6m13 0h1.6m-2 0h1.6m1 0h1.6m0 0h1.6m-1 0h1.6m0 0h1.6m1 0h1.6m0 0h1.6m-1 0h1.6m-1 0h1.6m-1 0h1.6m-1 0h1.6m1 0h1.6m-1 0h1.6m0 0h1.6m-1 0h1.6m-1 0h1.6m-1 0h1.6m1 0h1.6m0 0h1.6m-2 0h1.6m-1 0h1.6m-1 0h1.6m1 0h1.6m-1 0h1.6m-1 0h1.6m-1 0h1.6m-1 0h1.6m-1 0h1.6m0 0h1.6m-1 0h1.6m-1 0h1.6m-1 0h1.6m-2 0h1.6m1 0h1.6m0 0h1.6m-1 0h1.6m1 0h1.6m-2 0h1.6m-1 0h1.6m0 0h1.6m-1 0h1.6m-1 0h1.6m0 0h1.6m0 0h1.6m-2 0h1.6m1 0h1.6m-1 0h1.6m-1 0h1.6m-1 0h1.6m14 0h1.6m-1 0h1.6m4 0h1.6m0 0h1.6m0 0h1.6m-2 0h1.6m0 0h1.6m-2 0h1.6m-1 0h1.6m-2 0h1.6m2 0h1.6m-2 0h1.6m-1 0h1.6m0 0h1.6m0 0h1.6m-1 0h1.6m0 0h1.6m3 0h1.6m1 0h1.6m1 0h1.6m2 0h1.6m-1 0h1.6m-2 0h1.6m5 0h1.6m-1 0h1.6m-1 0h1.6m0 0h1.6m-2 0h1.6m0 0h1.6m0 0h1.6m-1 0h1.6m-1 0h1.6m-1 0h1.6m-2 0h1.6m1 0h1.6m-304 3.8h1.6m8 0h1.6m19 0h1.6m2 0h1.6m50 0h1.6m36 0h1.6m-1 0h1.6m0 0h1.6m0 0h1.6m1 0h1.6m0 0h1.6m2 0h1.6m-1 0h1.6m0 0h1.6m1 0h1.6m-2 0h1.6m0 0h1.6m-1 0h1.6m-1 0h1.6m-2 0h1.6m-1 0h1.6m-1 0h1.6m1 0h1.6m0 0h1.6m-1 0h1.6m0 0h1.6m-2 0h1.6m-1 0h1.6m0 0h1.6m-1 0h1.6m-1 0h1.6m-1 0h1.6m1 0h1.6m-2 0h1.6m0 0h1.6m1 0h1.6m-1 0h1.6m-2 0h1.6m0 0h1.6m-1 0h1.6m2 0h1.6m1 0h1.6m2 0h1.6m-1 0h1.6m-2 0h1.6m15 0h1.6m-2 0h1.6m-1 0h1.6m-1 0h1.6m0 0h1.6m-2 0h1.6m-1 0h1.6m-1 0h1.6m-1 0h1.6m-1 0h1.6m-1 0h1.6m-1 0h1.6m-1 0h1.6m-1 0h1.6m0 0h1.6m-1 0h1.6m0 0h1.6m-1 0h1.6m0 0h1.6m-2 0h1.6m0 0h1.6m-1 0h1.6m-2 0h1.6m0 0h1.6m1 0h1.6m1 0h1.6m1 0h1.6m-1 0h1.6m-1 0h1.6m-1 0h1.6m-2 0h1.6m-1 0h1.6m-1 0h1.6m-2 0h1.6m5 0h1.6m-1 0h1.6m-1 0h1.6m-2 0h1.6m-1 0h1.6m-1 0h1.6m2 0h1.6m-1 0h1.6m0 0h1.6m-1 0h1.6m-1 0h1.6m0 0h1.6m-1 0h1.6m-1 0h1.6m0 0h1.6m-1 0h1.6m-2 0h1.6m-1 0h1.6m0 0h1.6m-2 0h1.6m0 0h1.6m16 0h1.6m-1 0h1.6m-2 0h1.6m4 0h1.6m-1 0h1.6m-2 0h1.6m-1 0h1.6m-1 0h1.6m-1 0h1.6m1 0h1.6m-2 0h1.6m-1 0h1.6m-1 0h1.6m1 0h1.6m0 0h1.6m-2 0h1.6m-1 0h1.6m-1 0h1.6m1 0h1.6m-1 0h1.6m-1 0h1.6m-2 0h1.6m0 0h1.6m-2 0h1.6m0 0h1.6m1 0h1.6m2 0h1.6m-1 0h1.6m-1 0h1.6m1 0h1.6m-1 0h1.6m0 0h1.6m-1 0h1.6m-1 0h1.6m-2 0h1.6m1 0h1.6m-1 0h1.6m0 0h1.6m-1 0h1.6m1 0h1.6m-1 0h1.6m-1 0h1.6m-2 0h1.6m-1 0h1.6m0 0h1.6m-309 4.1h1.6m8 0h1.6m14 0h1.6m7 0h1.6m5 0h1.6m1 0h1.6m23 0h1.6m1 0h1.6m-1 0h1.6m0 0h1.6m1 0h1.6m0 0h1.6m4 0h1.6m3 0h1.6m9 0h1.6m5 0h1.6m22 0h1.6m0 0h1.6m-2 0h1.6m-1 0h1.6m0 0h1.6m-1 0h1.6m1 0h1.6m-1 0h1.6m-1 0h1.6m3 0h1.6m0 0h1.6m0 0h1.6m-1 0h1.6m-1 0h1.6m-1 0h1.6m1 0h1.6m-1 0h1.6m0 0h1.6m2 0h1.6m0 0h1.6m-2 0h1.6m-1 0h1.6m-2 0h1.6m-1 0h1.6m-1 0h1.6m2 0h1.6m-1 0h1.6m0 0h1.6m-1 0h1.6m-1 0h1.6m0 0h1.6m-2 0h1.6m1 0h1.6m0 0h1.6m0 0h1.6m-1 0h1.6m-1 0h1.6m-1 0h1.6m0 0h1.6m-1 0h1.6m-1 0h1.6m-1 0h1.6m-1 0h1.6m0 0h1.6m0 0h1.6m12 0h1.6m3 0h1.6m-1 0h1.6m-1 0h1.6m-1 0h1.6m0 0h1.6m0 0h1.6m-1 0h1.6m-1 0h1.6m-1 0h1.6m-1 0h1.6m-2 0h1.6m0 0h1.6m-1 0h1.6m0 0h1.6m-1 0h1.6m-1 0h1.6m-1 0h1.6m-1 0h1.6m-2 0h1.6m1 0h1.6m0 0h1.6m1 0h1.6m-1 0h1.6m0 0h1.6m-1 0h1.6m-1 0h1.6m-1 0h1.6m-1 0h1.6m-2 0h1.6m-1 0h1.6m0 0h1.6m-2 0h1.6m-1 0h1.6m-2 0h1.6m-1 0h1.6m-1 0h1.6m-1 0h1.6m-1 0h1.6m-1 0h1.6m-1 0h1.6m-1 0h1.6m0 0h1.6m-2 0h1.6m-1 0h1.6m-1 0h1.6m0 0h1.6m-1 0h1.6m-2 0h1.6m-1 0h1.6m0 0h1.6m3 0h1.6m-2 0h1.6m-1 0h1.6m-1 0h1.6m-1 0h1.6m-1 0h1.6m0 0h1.6m-1 0h1.6m-1 0h1.6m13 0h1.6m-2 0h1.6m-1 0h1.6m-1 0h1.6m-1 0h1.6m-2 0h1.6m-1 0h1.6m0 0h1.6m-1 0h1.6m-1 0h1.6m-1 0h1.6m-1 0h1.6m-1 0h1.6m-1 0h1.6m1 0h1.6m1 0h1.6m0 0h1.6m0 0h1.6m-1 0h1.6m0 0h1.6m-1 0h1.6m-1 0h1.6m-1 0h1.6m-2 0h1.6m-1 0h1.6m-2 0h1.6m-1 0h1.6m-1 0h1.6m0 0h1.6m2 0h1.6m-1 0h1.6m0 0h1.6m0 0h1.6m-1 0h1.6m-1 0h1.6m-1 0h1.6m-1 0h1.6m0 0h1.6m0 0h1.6m-2 0h1.6m1 0h1.6m0 0h1.6m-1 0h1.6m-1 0h1.6m-1 0h1.6m-1 0h1.6m0 0h1.6m0 0h1.6m0 0h1.6m-1 0h1.6m0 0h1.6m-1 0h1.6m-1 0h1.6m-1 0h1.6m-1 0h1.6m-307 4.7h1.6m1 0h1.6m8 0h1.6m6 0h1.6m3 0h1.6m0 0h1.6m8 0h1.6m3 0h1.6m0 0h1.6m-1 0h1.6m20 0h1.6m3 0h1.6m0 0h1.6m2 0h1.6m3 0h1.6m0 0h1.6m8 0h1.6m8 0h1.6m1 0h1.6m-1 0h1.6m0 0h1.6m2 0h1.6m17 0h1.6m0 0h1.6m-1 0h1.6m-1 0h1.6m0 0h1.6m-1 0h1.6m0 0h1.6m2 0h1.6m-1 0h1.6m0 0h1.6m-1 0h1.6m0 0h1.6m-1 0h1.6m0 0h1.6m-1 0h1.6m2 0h1.6m-1 0h1.6m-2 0h1.6m-1 0h1.6m-1 0h1.6m0 0h1.6m0 0h1.6m-1 0h1.6m0 0h1.6m-1 0h1.6m-1 0h1.6m-1 0h1.6m-2 0h1.6m-1 0h1.6m-1 0h1.6m-1 0h1.6m0 0h1.6m-1 0h1.6m-2 0h1.6m0 0h1.6m-1 0h1.6m0 0h1.6m-1 0h1.6m-2 0h1.6m-1 0h1.6m0 0h1.6m-2 0h1.6m-1 0h1.6m-1 0h1.6m-1 0h1.6m0 0h1.6m0 0h1.6m-1 0h1.6m0 0h1.6m-1 0h1.6m-1 0h1.6m-1 0h1.6m-2 0h1.6m-1 0h1.6m-1 0h1.6m15 0h1.6m-1 0h1.6m-1 0h1.6m-1 0h1.6m-1 0h1.6m-1 0h1.6m0 0h1.6m1 0h1.6m-1 0h1.6m-1 0h1.6m-2 0h1.6m-1 0h1.6m-1 0h1.6m-1 0h1.6m-2 0h1.6m0 0h1.6m0 0h1.6m-1 0h1.6m-1 0h1.6m-1 0h1.6m-1 0h1.6m-1 0h1.6m-1 0h1.6m-1 0h1.6m-2 0h1.6m0 0h1.6m-2 0h1.6m-1 0h1.6m-1 0h1.6m-1 0h1.6m1 0h1.6m-2 0h1.6m-1 0h1.6m-1 0h1.6m-2 0h1.6m-1 0h1.6m0 0h1.6m-1 0h1.6m-2 0h1.6m-1 0h1.6m-1 0h1.6m0 0h1.6m-1 0h1.6m0 0h1.6m0 0h1.6m0 0h1.6m0 0h1.6m0 0h1.6m-1 0h1.6m-2 0h1.6m1 0h1.6m-1 0h1.6m-2 0h1.6m1 0h1.6m-1 0h1.6m0 0h1.6m-1 0h1.6m-1 0h1.6m0 0h1.6m-2 0h1.6m0 0h1.6m-1 0h1.6m14 0h1.6m-2 0h1.6m0 0h1.6m-2 0h1.6m0 0h1.6m-1 0h1.6m-1 0h1.6m-2 0h1.6m-1 0h1.6m-2 0h1.6m1 0h1.6m-1 0h1.6m-2 0h1.6m-1 0h1.6m-1 0h1.6m-1 0h1.6m-1 0h1.6m-1 0h1.6m-1 0h1.6m-1 0h1.6m-1 0h1.6m0 0h1.6m0 0h1.6m-1 0h1.6m-1 0h1.6m-1 0h1.6m-2 0h1.6m1 0h1.6m0 0h1.6m-2 0h1.6m-1 0h1.6m-1 0h1.6m0 0h1.6m-2 0h1.6m-1 0h1.6m-1 0h1.6m-1 0h1.6m-2 0h1.6m0 0h1.6m-1 0h1.6m-1 0h1.6m-2 0h1.6m1 0h1.6m1 0h1.6m-1 0h1.6m-2 0h1.6m-1 0h1.6m0 0h1.6m-1 0h1.6m-1 0h1.6m-1 0h1.6m-1 0h1.6m-2 0h1.6m0 0h1.6m1 0h1.6m0 0h1.6m0 0h1.6m-1 0h1.6m-1 0h1.6m-1 0h1.6m-1 0h1.6m0 0h1.6m0 0h1.6m-2 0h1.6m1 0h1.6m-306 5.4h1.6m1 0h1.6m2 0h1.6m2 0h1.6m0 0h1.6m4 0h1.6m2 0h1.6m1 0h1.6m6 0h1.6m1 0h1.6m24 0h1.6m-1 0h1.6m1 0h1.6m1 0h1.6m-1 0h1.6m2 0h1.6m0 0h1.6m3 0h1.6m1 0h1.6m3 0h1.6m0 0h1.6m-1 0h1.6m1 0h1.6m2 0h1.6m-2 0h1.6m-1 0h1.6m1 0h1.6m1 0h1.6m3 0h1.6m-1 0h1.6m-1 0h1.6m-1 0h1.6m0 0h1.6m-1 0h1.6m-1 0h1.6m18 0h1.6m-2 0h1.6m0 0h1.6m-1 0h1.6m-1 0h1.6m0 0h1.6m-1 0h1.6m-1 0h1.6m-2 0h1.6m-1 0h1.6m-1 0h1.6m0 0h1.6m-1 0h1.6m-1 0h1.6m-1 0h1.6m-1 0h1.6m-1 0h1.6m-1 0h1.6m-2 0h1.6m-1 0h1.6m-1 0h1.6m0 0h1.6m0 0h1.6m-1 0h1.6m-1 0h1.6m-2 0h1.6m2 0h1.6m1 0h1.6m-1 0h1.6m-1 0h1.6m-1 0h1.6m-2 0h1.6m-1 0h1.6m-2 0h1.6m-1 0h1.6m-1 0h1.6m-1 0h1.6m1 0h1.6m3 0h1.6m2 0h1.6m-1 0h1.6m-1 0h1.6m0 0h1.6m-1 0h1.6m-1 0h1.6m-2 0h1.6m0 0h1.6m-1 0h1.6m-2 0h1.6m0 0h1.6m-1 0h1.6m1 0h1.6m-2 0h1.6m-1 0h1.6m-1 0h1.6m-1 0h1.6m-1 0h1.6m-1 0h1.6m-1 0h1.6m-2 0h1.6m13 0h1.6m-1 0h1.6m-1 0h1.6m2 0h1.6m-1 0h1.6m-2 0h1.6m-1 0h1.6m-1 0h1.6m-1 0h1.6m-1 0h1.6m-1 0h1.6m-2 0h1.6m1 0h1.6m-2 0h1.6m-1 0h1.6m0 0h1.6m-2 0h1.6m0 0h1.6m-1 0h1.6m-1 0h1.6m-1 0h1.6m-1 0h1.6m-2 0h1.6m-1 0h1.6m-1 0h1.6m0 0h1.6m0 0h1.6m-2 0h1.6m2 0h1.6m-1 0h1.6m-2 0h1.6m0 0h1.6m0 0h1.6m-1 0h1.6m0 0h1.6m-1 0h1.6m-2 0h1.6m-1 0h1.6m-1 0h1.6m0 0h1.6m-2 0h1.6m-1 0h1.6m-1 0h1.6m-1 0h1.6m-2 0h1.6m-1 0h1.6m-1 0h1.6m-1 0h1.6m-1 0h1.6m-1 0h1.6m1 0h1.6m-1 0h1.6m3 0h1.6m-2 0h1.6m0 0h1.6m-1 0h1.6m-1 0h1.6m0 0h1.6m-1 0h1.6m-1 0h1.6m-1 0h1.6m-1 0h1.6m-1 0h1.6m-1 0h1.6m-247 6.4h1.6m-1 0h1.6m-1 0h1.6m3 0h1.6m2 0h1.6m-1 0h1.6m2 0h1.6m0 0h1.6m-1 0h1.6m-1 0h1.6m0 0h1.6m2 0h1.6m19 0h1.6m2 0h1.6m-2 0h1.6m18 0h1.6m-2 0h1.6m-1 0h1.6m-1 0h1.6m-2 0h1.6m3 0h1.6m-1 0h1.6m-1 0h1.6m2 0h1.6m-1 0h1.6m0 0h1.6m-1 0h1.6m-1 0h1.6m1 0h1.6m-1 0h1.6m0 0h1.6m-1 0h1.6m-1 0h1.6m0 0h1.6m2 0h1.6m-1 0h1.6m0 0h1.6m1 0h1.6m-1 0h1.6m1 0h1.6m-1 0h1.6m5 0h1.6m-1 0h1.6m4 0h1.6m2 0h1.6m79 0h1.6m-2 0h1.6m-1 0h1.6m-2 0h1.6m0 0h1.6m-1 0h1.6m-2 0h1.6m1 0h1.6m-1 0h1.6m0 0h1.6m-1 0h1.6m-1 0h1.6m0 0h1.6m-1 0h1.6m-1 0h1.6m-2 0h1.6m-1 0h1.6m-1 0h1.6m1 0h1.6m-1 0h1.6m-1 0h1.6m-1 0h1.6m0 0h1.6m-1 0h1.6m0 0h1.6m-1 0h1.6m-1 0h1.6m-1 0h1.6m-2 0h1.6m-1 0h1.6m-1 0h1.6m-1 0h1.6m-2 0h1.6m-1 0h1.6m-1 0h1.6m-1 0h1.6m-1 0h1.6m-2 0h1.6m-1 0h1.6m-2 0h1.6m-1 0h1.6m0 0h1.6m-2 0h1.6m-1 0h1.6m1 0h1.6m-1 0h1.6m0 0h1.6m0 0h1.6m-1 0h1.6m-1 0h1.6m-1 0h1.6m-1 0h1.6m0 0h1.6m1 0h1.6m-2 0h1.6m0 0h1.6m-1 0h1.6m1 0h1.6m-1 0h1.6m-1 0h1.6m-2 0h1.6m0 0h1.6m-2 0h1.6m0 0h1.6m-2 0h1.6m1 0h1.6m-242 7.9h1.6m-1 0h1.6m0 0h1.6m0 0h1.6m2 0h1.6m-1 0h1.6m-1 0h1.6m-1 0h1.6m10 0h1.6m1 0h1.6m-1 0h1.6m5 0h1.6m0 0h1.6m-2 0h1.6m0 0h1.6m-2 0h1.6m5 0h1.6m2 0h1.6m-1 0h1.6m-2 0h1.6m17 0h1.6m-1 0h1.6m0 0h1.6m-1 0h1.6m0 0h1.6m-1 0h1.6m0 0h1.6m0 0h1.6m0 0h1.6m0 0h1.6m-1 0h1.6m0 0h1.6m-2 0h1.6m-1 0h1.6m3 0h1.6m-1 0h1.6m-2 0h1.6m4 0h1.6m1 0h1.6m-2 0h1.6m-1 0h1.6m1 0h1.6m-2 0h1.6m-1 0h1.6m2 0h1.6m-1 0h1.6m-1 0h1.6m-1 0h1.6m-1 0h1.6m-2 0h1.6m3 0h1.6m0 0h1.6m-1 0h1.6m-1 0h1.6m1 0h1.6m-114 10.1h1.6m0 0h1.6m2 0h1.6m3 0h1.6m-1 0h1.6m-1 0h1.6m-2 0h1.6m1 0h1.6m1 0h1.6m-1 0h1.6m-1 0h1.6m-1 0h1.6m1 0h1.6m1 0h1.6m0 0h1.6m-1 0h1.6m1 0h1.6m-1 0h1.6m-2 0h1.6m1 0h1.6m0 0h1.6m0 0h1.6m-1 0h1.6m1 0h1.6m-1 0h1.6m-1 0h1.6m-1 0h1.6m-1 0h1.6m-2 0h1.6m-1 0h1.6m24 0h1.6m-1 0h1.6m1 0h1.6m-1 0h1.6m-1 0h1.6m0 0h1.6m-2 0h1.6m-1 0h1.6m-1 0h1.6m3 0h1.6m-1 0h1.6m3 0h1.6m-2 0h1.6m-1 0h1.6m-1 0h1.6m2 0h1.6m-1 0h1.6m2 0h1.6m-1 0h1.6m-1 0h1.6m2 0h1.6m4 0h1.6m0 0h1.6m-1 0h1.6m0 0h1.6m-2 0h1.6m-1 0h1.6m-1 0h1.6m-2 0h1.6m-1 0h1.6m-1 0h1.6m0 0h1.6m-1 0h1.6m-1 0h1.6m2 0h1.6m0 0h1.6m-1 0h1.6m-1 0h1.6m-1 0h1.6m-2 0h1.6m-117 14.3h1.6m-1 0h1.6m-1 0h1.6m-1 0h1.6m-1 0h1.6m-1 0h1.6m0 0h1.6m3 0h1.6m-1 0h1.6m-2 0h1.6m0 0h1.6m-1 0h1.6m-1 0h1.6m-2 0h1.6m1 0h1.6m-1 0h1.6m-1 0h1.6m-2 0h1.6m0 0h1.6m-1 0h1.6m-1 0h1.6m0 0h1.6m-1 0h1.6m1 0h1.6m-2 0h1.6m-1 0h1.6m0 0h1.6m1 0h1.6m-1 0h1.6m-1 0h1.6m-1 0h1.6m0 0h1.6m0 0h1.6m-1 0h1.6m-1 0h1.6m-2 0h1.6m0 0h1.6m0 0h1.6m-1 0h1.6m-2 0h1.6m-1 0h1.6m-1 0h1.6m-1 0h1.6m0 0h1.6m0 0h1.6m-2 0h1.6m-1 0h1.6m-1 0h1.6m-1 0h1.6m0 0h1.6m-1 0h1.6m0 0h1.6m1 0h1.6m-1 0h1.6m-1 0h1.6" stroke="#111" stroke-width="2" fill="none"/>
<path d="M828.5 788.4h51M893.5 788.4h51M893.5 764h51M958.5 788.4h51M958.5 764h51M958.5 749.7h51M958.5 739.6h51M958.5 731.7h51M1023.1 788.4h51M1023.1 764h51M1023.1 749.7h51M1023.1 739.6h51M1087.7 788.4h51M1087.7 764h51M1087.7 749.7h51M1087.7 739.6h51M1087.7 731.7h51M1087.7 725.3h51" stroke="#111" stroke-width="2.3" fill="none"/>
<text x="805.8" y="792.9" font-size="24" text-anchor="end">0</text>
<text x="805.8" y="757.7" font-size="24" text-anchor="end">1</text>
<text x="805.8" y="722.5" font-size="24" text-anchor="end">2</text>
<text x="805.8" y="687.3" font-size="24" text-anchor="end">3</text>
<path d="M815.8 653.5V795H1152M811.8 788.4H815.8M811.8 753.2H815.8M811.8 718H815.8M811.8 682.8H815.8M854 795V800M919 795V800M984 795V800M1048.6 795V800M1113.2 795V800" stroke="#222" stroke-width="1.6" fill="none"/>
<text x="1350.9" y="644.5" font-size="28.5" text-anchor="middle" font-style="italic">Klf6</text>
<path d="M1251.3 788.4l-1.2-1-3.4-1-17.9-3.9-2.6-1-2.5-2-0.2-3 1.7-1.9 1.9-1 14.8-4 3.2-1 1.5-1-0.4-1-2.3-0.9-11.1-3-2.3-1-1-1 0.4-1 5.6-2.9 1.4-1 0.4-1-0.5-1-3.5-3-0.3-1 1.3-2.9-0.1-2-1.8-3-5.3-12.8-2.7-8.9-0.9-5 0-14.8-1.2 0 0 14.8-2 8.9-1.2 4-5.7 13.8-1.8 3-0.1 2 1.3 2.9-0.3 1-3.5 3-0.5 1 0.4 1 1.4 1 5.6 2.9 0.4 1-1 1-2.3 1-11.1 3-2.3 0.9-0.4 1 1.5 1 3.2 1 14.8 4 1.9 1 1.7 1.9-0.2 3-2.5 2-2.6 1-17.9 3.9-3.4 1-1.2 1z" fill="#f8766d" stroke="#222" stroke-width="1.1"/><path d="M1316 788.4l-1.2-1-3.4-1-17.9-3.9-2.6-1-2.5-2-0.1-3 1.9-1.9 2.1-1 16.2-4 3.5-1 1.7-1-0.5-1-2.5-0.9-12.2-3-2.7-1-1.1-1 0.3-1 5.7-2.9 1.4-1 0.5-1-0.6-1-3.6-3-0.4-1 1.4-2.9 0-2-1.6-3-1.3-3.9-3.3-7-3.7-9.8-1.3-8.9 0-11.9-1.2 0 0 11.9-1.6 9.8-3.4 8.9-3.3 7-1.3 3.9-1.6 3 0 2 1.4 2.9-0.4 1-3.6 3-0.6 1 0.5 1 1.4 1 5.7 2.9 0.3 1-1.1 1-2.7 1-12.2 3-2.5 0.9-0.5 1 1.7 1 3.5 1 16.2 4 2.1 1 1.9 1.9-0.1 3-2.5 2-2.6 1-17.9 3.9-3.4 1-1.2 1z" fill="#f9aa3c" stroke="#222" stroke-width="1.1"/><path d="M1380 788.4l-20-7.8-2.9-1.7-0.7-0.9-0.1-0.9 0.6-0.8 3.4-1.8 7.2-2.6 11.7-3.4 1.4-0.9-0.3-0.9-1.7-0.8-9.3-3.5-1.4-0.9-1.6-1.7-0.2-0.9 0.9-2.6 0.1-1.7-2.9-5.2-2.8-8.7-4.1-11.3-3-11.2-0.6-5.2-0.9-27.8-1.2 0-1 28.6-0.9 6.1-2.6 9.5-4.1 11.3-2.8 8.7-2.9 5.2 0.1 1.7 0.9 2.6-0.2 0.9-1.6 1.7-1.4 0.9-9.3 3.5-1.7 0.8-0.3 0.9 1.4 0.9 11.7 3.4 7.2 2.6 3.4 1.8 0.6 0.8-0.1 0.9-0.7 0.9-2.9 1.7-20 7.8z" fill="#19b378" stroke="#222" stroke-width="1.1"/><path d="M1444 788.4l-18.3-7.5-3.4-2.1-0.6-1.1 0.4-1.1 3.9-2.1 16.2-5.4 2.5-1.1 1-1-0.4-1.1-4.2-3.2-1.5-2.2-0.4-3.2-0.1-10.7-1.3-7.5-4-9.6-9.2-17.2-5-15-1.3-8.5-0.4-27.9-1.2 0-0.4 27.9-1.3 8.5-5 15-9.2 17.2-4 9.6-1.3 7.5-0.1 10.7-0.4 3.2-1.5 2.2-4.2 3.2-0.4 1.1 1 1 2.5 1.1 16.2 5.4 3.9 2.1 0.4 1.1-0.6 1.1-3.4 2.1-18.3 7.5z" fill="#1cb0ef" stroke="#222" stroke-width="1.1"/><path d="M1488.2 788.4l-3.4-7.8 0.4-1.7 0.8-0.9 5.7-3.5 15.1-5.2 3.4-1.7-0.2-0.9-1.1-0.8-6.4-3.5-1.1-1.7 0.5-1.8 3.9-4.3 1.6-2.6 2.5-4.4 0.5-2.6-1.2-5.2-2.8-5.2-11.3-13.8-5.9-8.7-3.6-6.1-2.2-6.9-0.6-6.1-0.2-7.8-1.2 0-0.2 7.8-0.6 6.1-2.6 7.8-9.1 13.9-11.3 13.8-2.8 5.2-1.2 5.2 0.5 2.6 2.5 4.4 1.6 2.6 3.9 4.3 0.5 1.8-1.1 1.7-6.4 3.5-1.1 0.8-0.2 0.9 3.4 1.7 15.1 5.2 5.7 3.5 0.8 0.9 0.4 1.7-3.4 7.8z" fill="#b987f6" stroke="#222" stroke-width="1.1"/>
<path d="M1406 665.7h1.6m21 0h1.6m-9 1.1h1.6m-29 3.5h1.6m8 3.2h1.6m-8 0.7h1.6m19 0.8h1.6m20 0.7h1.6m-23 3.1h1.6m-7 0.8h1.6m20 0h1.6m-17 2.7h1.6m-23 0.9h1.6m29 0h1.6m11 0h1.6m-38 1h1.6m-38 1h1.6m35 0h1.6m14 0h1.6m2 0h1.6m-28 1h1.6m12 0h1.6m-69 1.1h1.6m10 0h1.6m70 0h1.6m-1 0h1.6m-10 1.1h1.6m17 0h1.6m51 0h1.6m-24 1.1h1.6m-134 1.2h1.6m1 1.2h1.6m129 0h1.6m-134 1.3h1.6m58 0h1.6m7 0h1.6m7 0h1.6m22 0h1.6m-88 1.4h1.6m19 0h1.6m0 0h1.6m41 0h1.6m-1 0h1.6m3 0h1.6m14 0h1.6m0 0h1.6m61 0h1.6m-128 1.4h1.6m2 0h1.6m57 0h1.6m-1 0h1.6m32 0h1.6m15 0h1.6m10 0h1.6m-166 1.5h1.6m9 0h1.6m23 0h1.6m39 0h1.6m25 0h1.6m65 0h1.6m-163 1.5h1.6m24 0h1.6m41 0h1.6m16 0h1.6m6 0h1.6m26 0h1.6m4 0h1.6m13 0h1.6m16 0h1.6m-223 1.7h1.6m79 0h1.6m13 0h1.6m27 0h1.6m6 0h1.6m2 0h1.6m2 0h1.6m23 0h1.6m-141 1.7h1.6m2 0h1.6m40 0h1.6m0 0h1.6m14 0h1.6m3 0h1.6m22 0h1.6m-2 0h1.6m24 0h1.6m13 0h1.6m4 0h1.6m25 0h1.6m6 0h1.6m0 0h1.6m22 0h1.6m-210 1.9h1.6m14 0h1.6m3 0h1.6m17 0h1.6m4 0h1.6m39 0h1.6m23 0h1.6m-1 0h1.6m0 0h1.6m12 0h1.6m13 0h1.6m25 0h1.6m22 0h1.6m-1 0h1.6m-185 1.9h1.6m0 0h1.6m49 0h1.6m45 0h1.6m3 0h1.6m4 0h1.6m3 0h1.6m5 0h1.6m-1 0h1.6m1 0h1.6m-1 0h1.6m-1 0h1.6m1 0h1.6m0 0h1.6m13 0h1.6m14 0h1.6m5 0h1.6m-1 0h1.6m6 0h1.6m15 0h1.6m-259 2.1h1.6m110 0h1.6m0 0h1.6m17 0h1.6m12 0h1.6m15 0h1.6m-1 0h1.6m10 0h1.6m1 0h1.6m3 0h1.6m0 0h1.6m1 0h1.6m-2 0h1.6m1 0h1.6m1 0h1.6m3 0h1.6m4 0h1.6m5 0h1.6m3 0h1.6m39 0h1.6m-211 2.3h1.6m67 0h1.6m1 0h1.6m3 0h1.6m11 0h1.6m2 0h1.6m7 0h1.6m0 0h1.6m17 0h1.6m10 0h1.6m-1 0h1.6m-1 0h1.6m0 0h1.6m0 0h1.6m1 0h1.6m1 0h1.6m7 0h1.6m0 0h1.6m0 0h1.6m7 0h1.6m-1 0h1.6m1 0h1.6m44 0h1.6m3 0h1.6m-287 2.4h1.6m90 0h1.6m44 0h1.6m28 0h1.6m4 0h1.6m17 0h1.6m1 0h1.6m0 0h1.6m1 0h1.6m-1 0h1.6m-1 0h1.6m1 0h1.6m4 0h1.6m-1 0h1.6m-1 0h1.6m-1 0h1.6m-1 0h1.6m-2 0h1.6m0 0h1.6m4 0h1.6m3 0h1.6m1 0h1.6m4 0h1.6m-1 0h1.6m3 0h1.6m17 0h1.6m6 0h1.6m-1 0h1.6m3 0h1.6m4 0h1.6m0 0h1.6m12 0h1.6m3 0h1.6m-193 2.6h1.6m4 0h1.6m30 0h1.6m4 0h1.6m6 0h1.6m12 0h1.6m4 0h1.6m0 0h1.6m26 0h1.6m5 0h1.6m-2 0h1.6m-1 0h1.6m9 0h1.6m0 0h1.6m-1 0h1.6m9 0h1.6m-2 0h1.6m-1 0h1.6m0 0h1.6m1 0h1.6m-1 0h1.6m-2 0h1.6m-1 0h1.6m1 0h1.6m22 0h1.6m-1 0h1.6m4 0h1.6m5 0h1.6m-1 0h1.6m0 0h1.6m4 0h1.6m0 0h1.6m-1 0h1.6m0 0h1.6m-1 0h1.6m1 0h1.6m-1 0h1.6m13 0h1.6m-1 0h1.6m-305 2.9h1.6m121 0h1.6m0 0h1.6m-2 0h1.6m-1 0h1.6m3 0h1.6m-1 0h1.6m-1 0h1.6m0 0h1.6m3 0h1.6m-1 0h1.6m-1 0h1.6m1 0h1.6m-2 0h1.6m2 0h1.6m0 0h1.6m0 0h1.6m2 0h1.6m1 0h1.6m0 0h1.6m0 0h1.6m-2 0h1.6m-1 0h1.6m-1 0h1.6m7 0h1.6m-1 0h1.6m1 0h1.6m-1 0h1.6m1 0h1.6m-1 0h1.6m14 0h1.6m1 0h1.6m-1 0h1.6m0 0h1.6m-1 0h1.6m-1 0h1.6m-1 0h1.6m-1 0h1.6m2 0h1.6m-2 0h1.6m0 0h1.6m0 0h1.6m-1 0h1.6m0 0h1.6m-2 0h1.6m-1 0h1.6m-1 0h1.6m-1 0h1.6m-1 0h1.6m0 0h1.6m-1 0h1.6m-1 0h1.6m-1 0h1.6m-2 0h1.6m0 0h1.6m-1 0h1.6m0 0h1.6m-2 0h1.6m-1 0h1.6m-1 0h1.6m-1 0h1.6m-1 0h1.6m-1 0h1.6m0 0h1.6m-1 0h1.6m-2 0h1.6m-1 0h1.6m0 0h1.6m-1 0h1.6m-1 0h1.6m-2 0h1.6m-1 0h1.6m-2 0h1.6m-1 0h1.6m0 0h1.6m0 0h1.6m-2 0h1.6m3 0h1.6m-1 0h1.6m-2 0h1.6m-1 0h1.6m-1 0h1.6m-2 0h1.6m3 0h1.6m-1 0h1.6m-1 0h1.6m-2 0h1.6m-1 0h1.6m-1 0h1.6m0 0h1.6m-1 0h1.6m-1 0h1.6m-2 0h1.6m13 0h1.6m0 0h1.6m-1 0h1.6m-1 0h1.6m-1 0h1.6m0 0h1.6m2 0h1.6m-1 0h1.6m-2 0h1.6m-1 0h1.6m-2 0h1.6m0 0h1.6m-1 0h1.6m-1 0h1.6m-1 0h1.6m-1 0h1.6m0 0h1.6m0 0h1.6m-1 0h1.6m-1 0h1.6m-2 0h1.6m0 0h1.6m1 0h1.6m1 0h1.6m-2 0h1.6m0 0h1.6m-1 0h1.6m-1 0h1.6m-1 0h1.6m-1 0h1.6m-1 0h1.6m0 0h1.6m-1 0h1.6m0 0h1.6m-1 0h1.6m2 0h1.6m-1 0h1.6m-2 0h1.6m0 0h1.6m-2 0h1.6m-1 0h1.6m-1 0h1.6m1 0h1.6m-2 0h1.6m-1 0h1.6m0 0h1.6m0 0h1.6m-1 0h1.6m0 0h1.6m0 0h1.6m-307 3.2h1.6m20 0h1.6m47 0h1.6m0 0h1.6m54 0h1.6m-2 0h1.6m-1 0h1.6m-1 0h1.6m-1 0h1.6m-1 0h1.6m0 0h1.6m0 0h1.6m0 0h1.6m3 0h1.6m-2 0h1.6m-1 0h1.6m-2 0h1.6m0 0h1.6m-1 0h1.6m-1 0h1.6m0 0h1.6m2 0h1.6m0 0h1.6m0 0h1.6m-2 0h1.6m3 0h1.6m-1 0h1.6m0 0h1.6m1 0h1.6m-2 0h1.6m-1 0h1.6m1 0h1.6m-2 0h1.6m0 0h1.6m1 0h1.6m0 0h1.6m5 0h1.6m0 0h1.6m0 0h1.6m13 0h1.6m-1 0h1.6m-1 0h1.6m3 0h1.6m-1 0h1.6m0 0h1.6m-1 0h1.6m-1 0h1.6m-1 0h1.6m0 0h1.6m-1 0h1.6m-2 0h1.6m-1 0h1.6m0 0h1.6m-2 0h1.6m0 0h1.6m0 0h1.6m-1 0h1.6m1 0h1.6m-1 0h1.6m0 0h1.6m1 0h1.6m0 0h1.6m-2 0h1.6m-1 0h1.6m-2 0h1.6m1 0h1.6m0 0h1.6m-1 0h1.6m-1 0h1.6m2 0h1.6m-1 0h1.6m1 0h1.6m0 0h1.6m-1 0h1.6m-1 0h1.6m-2 0h1.6m-1 0h1.6m-1 0h1.6m-1 0h1.6m0 0h1.6m1 0h1.6m-1 0h1.6m-1 0h1.6m-2 0h1.6m1 0h1.6m-2 0h1.6m-1 0h1.6m-1 0h1.6m-1 0h1.6m12 0h1.6m0 0h1.6m-2 0h1.6m-1 0h1.6m-1 0h1.6m-2 0h1.6m-1 0h1.6m2 0h1.6m-1 0h1.6m0 0h1.6m-1 0h1.6m-2 0h1.6m-1 0h1.6m1 0h1.6m-1 0h1.6m-1 0h1.6m0 0h1.6m-1 0h1.6m2 0h1.6m-2 0h1.6m0 0h1.6m-2 0h1.6m1 0h1.6m-2 0h1.6m-1 0h1.6m-2 0h1.6m-1 0h1.6m5 0h1.6m-2 0h1.6m0 0h1.6m-1 0h1.6m0 0h1.6m2 0h1.6m2 0h1.6m-1 0h1.6m1 0h1.6m-1 0h1.6m-1 0h1.6m-1 0h1.6m-1 0h1.6m0 0h1.6m-1 0h1.6m0 0h1.6m-1 0h1.6m-1 0h1.6m-306 3.6h1.6m-1 0h1.6m28 0h1.6m6 0h1.6m30 0h1.6m1 0h1.6m3 0h1.6m-1 0h1.6m0 0h1.6m17 0h1.6m2 0h1.6m-1 0h1.6m0 0h1.6m-1 0h1.6m5 0h1.6m12 0h1.6m0 0h1.6m0 0h1.6m-1 0h1.6m-1 0h1.6m0 0h1.6m-2 0h1.6m-1 0h1.6m0 0h1.6m-1 0h1.6m1 0h1.6m-1 0h1.6m-1 0h1.6m-1 0h1.6m0 0h1.6m-2 0h1.6m4 0h1.6m-1 0h1.6m0 0h1.6m-2 0h1.6m-1 0h1.6m1 0h1.6m0 0h1.6m-2 0h1.6m-1 0h1.6m-1 0h1.6m-2 0h1.6m1 0h1.6m1 0h1.6m-1 0h1.6m2 0h1.6m-1 0h1.6m1 0h1.6m0 0h1.6m-2 0h1.6m0 0h1.6m0 0h1.6m-1 0h1.6m-1 0h1.6m-1 0h1.6m-1 0h1.6m-1 0h1.6m-1 0h1.6m-1 0h1.6m-2 0h1.6m18 0h1.6m2 0h1.6m-1 0h1.6m-2 0h1.6m-1 0h1.6m-2 0h1.6m0 0h1.6m-2 0h1.6m1 0h1.6m-2 0h1.6m-1 0h1.6m-1 0h1.6m-1 0h1.6m-1 0h1.6m-1 0h1.6m0 0h1.6m-1 0h1.6m-1 0h1.6m-1 0h1.6m-1 0h1.6m-1 0h1.6m-2 0h1.6m-1 0h1.6m-2 0h1.6m0 0h1.6m-2 0h1.6m0 0h1.6m-1 0h1.6m1 0h1.6m0 0h1.6m-2 0h1.6m2 0h1.6m-1 0h1.6m-2 0h1.6m1 0h1.6m-2 0h1.6m0 0h1.6m1 0h1.6m1 0h1.6m-1 0h1.6m-2 0h1.6m0 0h1.6m-1 0h1.6m-1 0h1.6m3 0h1.6m-2 0h1.6m1 0h1.6m-1 0h1.6m-1 0h1.6m-1 0h1.6m-1 0h1.6m-2 0h1.6m-1 0h1.6m-1 0h1.6m-1 0h1.6m14 0h1.6m-1 0h1.6m0 0h1.6m-1 0h1.6m-1 0h1.6m-1 0h1.6m-1 0h1.6m-1 0h1.6m1 0h1.6m-1 0h1.6m-2 0h1.6m0 0h1.6m-1 0h1.6m-2 0h1.6m-1 0h1.6m-1 0h1.6m-2 0h1.6m-1 0h1.6m-1 0h1.6m-1 0h1.6m-1 0h1.6m0 0h1.6m-1 0h1.6m-1 0h1.6m1 0h1.6m-2 0h1.6m0 0h1.6m-1 0h1.6m0 0h1.6m-1 0h1.6m-1 0h1.6m0 0h1.6m1 0h1.6m-1 0h1.6m-1 0h1.6m1 0h1.6m-2 0h1.6m-1 0h1.6m-1 0h1.6m0 0h1.6m-1 0h1.6m-2 0h1.6m0 0h1.6m-1 0h1.6m2 0h1.6m-2 0h1.6m-1 0h1.6m-1 0h1.6m-1 0h1.6m0 0h1.6m-1 0h1.6m0 0h1.6m1 0h1.6m-1 0h1.6m-1 0h1.6m-308 4h1.6m8 0h1.6m20 0h1.6m16 0h1.6m13 0h1.6m4 0h1.6m2 0h1.6m5 0h1.6m0 0h1.6m-1 0h1.6m3 0h1.6m0 0h1.6m0 0h1.6m3 0h1.6m2 0h1.6m-1 0h1.6m-1 0h1.6m2 0h1.6m5 0h1.6m17 0h1.6m-1 0h1.6m0 0h1.6m1 0h1.6m-2 0h1.6m-1 0h1.6m-1 0h1.6m-1 0h1.6m-1 0h1.6m2 0h1.6m-1 0h1.6m1 0h1.6m0 0h1.6m-1 0h1.6m-2 0h1.6m1 0h1.6m0 0h1.6m-2 0h1.6m-1 0h1.6m0 0h1.6m0 0h1.6m-1 0h1.6m0 0h1.6m-1 0h1.6m0 0h1.6m-2 0h1.6m-1 0h1.6m1 0h1.6m-2 0h1.6m3 0h1.6m-2 0h1.6m-1 0h1.6m-1 0h1.6m-1 0h1.6m-2 0h1.6m0 0h1.6m-2 0h1.6m0 0h1.6m-2 0h1.6m-1 0h1.6m0 0h1.6m-1 0h1.6m-2 0h1.6m0 0h1.6m-2 0h1.6m-1 0h1.6m0 0h1.6m0 0h1.6m-1 0h1.6m-1 0h1.6m-1 0h1.6m0 0h1.6m-2 0h1.6m-1 0h1.6m-1 0h1.6m16 0h1.6m-1 0h1.6m0 0h1.6m-1 0h1.6m-2 0h1.6m-1 0h1.6m-1 0h1.6m-2 0h1.6m-1 0h1.6m-1 0h1.6m-1 0h1.6m-1 0h1.6m-1 0h1.6m-1 0h1.6m-2 0h1.6m-1 0h1.6m0 0h1.6m-1 0h1.6m1 0h1.6m0 0h1.6m-1 0h1.6m-1 0h1.6m-2 0h1.6m-1 0h1.6m-1 0h1.6m-2 0h1.6m0 0h1.6m1 0h1.6m-2 0h1.6m1 0h1.6m-1 0h1.6m3 0h1.6m0 0h1.6m-2 0h1.6m-1 0h1.6m-1 0h1.6m-2 0h1.6m0 0h1.6m0 0h1.6m-1 0h1.6m-2 0h1.6m-1 0h1.6m-2 0h1.6m-1 0h1.6m-1 0h1.6m1 0h1.6m0 0h1.6m-1 0h1.6m-2 0h1.6m1 0h1.6m-1 0h1.6m-1 0h1.6m-1 0h1.6m-2 0h1.6m1 0h1.6m0 0h1.6m-1 0h1.6m0 0h1.6m-2 0h1.6m-1 0h1.6m14 0h1.6m-2 0h1.6m-1 0h1.6m0 0h1.6m-1 0h1.6m-1 0h1.6m-1 0h1.6m-1 0h1.6m2 0h1.6m-1 0h1.6m-2 0h1.6m-1 0h1.6m-1 0h1.6m0 0h1.6m-2 0h1.6m0 0h1.6m-2 0h1.6m-1 0h1.6m0 0h1.6m-1 0h1.6m-1 0h1.6m-1 0h1.6m-1 0h1.6m0 0h1.6m0 0h1.6m-2 0h1.6m3 0h1.6m-1 0h1.6m-1 0h1.6m0 0h1.6m-1 0h1.6m-1 0h1.6m-1 0h1.6m-1 0h1.6m-2 0h1.6m0 0h1.6m-1 0h1.6m-1 0h1.6m0 0h1.6m-2 0h1.6m-1 0h1.6m0 0h1.6m0 0h1.6m2 0h1.6m-1 0h1.6m-1 0h1.6m-1 0h1.6m-1 0h1.6m1 0h1.6m-1 0h1.6m-1 0h1.6m0 0h1.6m-1 0h1.6m-2 0h1.6m-1 0h1.6m-1 0h1.6m-2 0h1.6m-1 0h1.6m-311 4.7h1.6m5 0h1.6m4 0h1.6m3 0h1.6m-1 0h1.6m3 0h1.6m7 0h1.6m-1 0h1.6m1 0h1.6m15 0h1.6m17 0h1.6m1 0h1.6m1 0h1.6m-1 0h1.6m-1 0h1.6m-1 0h1.6m0 0h1.6m4 0h1.6m-2 0h1.6m0 0h1.6m-1 0h1.6m-2 0h1.6m-1 0h1.6m1 0h1.6m6 0h1.6m-1 0h1.6m1 0h1.6m2 0h1.6m-1 0h1.6m1 0h1.6m-1 0h1.6m-1 0h1.6m2 0h1.6m1 0h1.6m0 0h1.6m13 0h1.6m0 0h1.6m-1 0h1.6m-1 0h1.6m-1 0h1.6m0 0h1.6m1 0h1.6m-1 0h1.6m-1 0h1.6m-1 0h1.6m-2 0h1.6m0 0h1.6m0 0h1.6m-1 0h1.6m-1 0h1.6m-1 0h1.6m-1 0h1.6m0 0h1.6m-1 0h1.6m-1 0h1.6m-1 0h1.6m-2 0h1.6m-1 0h1.6m-1 0h1.6m-2 0h1.6m0 0h1.6m-1 0h1.6m-1 0h1.6m3 0h1.6m-2 0h1.6m0 0h1.6m-1 0h1.6m-1 0h1.6m-1 0h1.6m-2 0h1.6m1 0h1.6m0 0h1.6m-2 0h1.6m-1 0h1.6m-1 0h1.6m-2 0h1.6m-1 0h1.6m-1 0h1.6m-1 0h1.6m-1 0h1.6m-1 0h1.6m0 0h1.6m0 0h1.6m-1 0h1.6m-1 0h1.6m0 0h1.6m-2 0h1.6m-1 0h1.6m0 0h1.6m-1 0h1.6m0 0h1.6m0 0h1.6m-1 0h1.6m-1 0h1.6m-1 0h1.6m15 0h1.6m0 0h1.6m0 0h1.6m-2 0h1.6m0 0h1.6m-1 0h1.6m-2 0h1.6m-1 0h1.6m1 0h1.6m0 0h1.6m-1 0h1.6m-1 0h1.6m0 0h1.6m-1 0h1.6m-1 0h1.6m-1 0h1.6m-1 0h1.6m-1 0h1.6m0 0h1.6m-1 0h1.6m-2 0h1.6m-1 0h1.6m-1 0h1.6m-1 0h1.6m0 0h1.6m0 0h1.6m0 0h1.6m-2 0h1.6m1 0h1.6m-1 0h1.6m-1 0h1.6m-2 0h1.6m-1 0h1.6m-1 0h1.6m0 0h1.6m-2 0h1.6m-1 0h1.6m-1 0h1.6m1 0h1.6m-1 0h1.6m-1 0h1.6m-2 0h1.6m-1 0h1.6m1 0h1.6m0 0h1.6m1 0h1.6m-1 0h1.6m-1 0h1.6m-1 0h1.6m-1 0h1.6m-1 0h1.6m-2 0h1.6m-1 0h1.6m-1 0h1.6m-1 0h1.6m-2 0h1.6m0 0h1.6m-2 0h1.6m0 0h1.6m-2 0h1.6m-1 0h1.6m-1 0h1.6m-1 0h1.6m-1 0h1.6m13 0h1.6m-2 0h1.6m-1 0h1.6m0 0h1.6m0 0h1.6m0 0h1.6m-1 0h1.6m-1 0h1.6m-1 0h1.6m0 0h1.6m-1 0h1.6m-1 0h1.6m-1 0h1.6m-1 0h1.6m-2 0h1.6m-1 0h1.6m-1 0h1.6m0 0h1.6m-1 0h1.6m-2 0h1.6m0 0h1.6m0 0h1.6m-1 0h1.6m0 0h1.6m-1 0h1.6m-2 0h1.6m-1 0h1.6m-1 0h1.6m-1 0h1.6m0 0h1.6m-1 0h1.6m-1 0h1.6m0 0h1.6m-1 0h1.6m0 0h1.6m-2 0h1.6m-1 0h1.6m0 0h1.6m1 0h1.6m-2 0h1.6m0 0h1.6m0 0h1.6m0 0h1.6m-1 0h1.6m0 0h1.6m0 0h1.6m-1 0h1.6m-1 0h1.6m-2 0h1.6m-1 0h1.6m-1 0h1.6m-1 0h1.6m-1 0h1.6m-1 0h1.6m-1 0h1.6m-1 0h1.6m-2 0h1.6m-1 0h1.6m-1 0h1.6m-1 0h1.6m-1 0h1.6m1 0h1.6m-308 5.6h1.6m-1 0h1.6m3 0h1.6m0 0h1.6m0 0h1.6m7 0h1.6m-1 0h1.6m9 0h1.6m1 0h1.6m0 0h1.6m3 0h1.6m-1 0h1.6m24 0h1.6m2 0h1.6m-1 0h1.6m0 0h1.6m1 0h1.6m7 0h1.6m-1 0h1.6m-1 0h1.6m-2 0h1.6m1 0h1.6m-1 0h1.6m-1 0h1.6m2 0h1.6m-1 0h1.6m-2 0h1.6m-1 0h1.6m1 0h1.6m-2 0h1.6m3 0h1.6m3 0h1.6m-1 0h1.6m1 0h1.6m0 0h1.6m-2 0h1.6m0 0h1.6m-2 0h1.6m0 0h1.6m2 0h1.6m-1 0h1.6m-1 0h1.6m14 0h1.6m1 0h1.6m3 0h1.6m-1 0h1.6m-1 0h1.6m-1 0h1.6m-1 0h1.6m-1 0h1.6m-1 0h1.6m0 0h1.6m0 0h1.6m-1 0h1.6m-2 0h1.6m-1 0h1.6m-2 0h1.6m-1 0h1.6m-1 0h1.6m-2 0h1.6m-1 0h1.6m-1 0h1.6m1 0h1.6m-1 0h1.6m-1 0h1.6m-1 0h1.6m-1 0h1.6m-1 0h1.6m-2 0h1.6m-1 0h1.6m-1 0h1.6m-2 0h1.6m-1 0h1.6m-1 0h1.6m-2 0h1.6m-1 0h1.6m0 0h1.6m-2 0h1.6m-1 0h1.6m-1 0h1.6m0 0h1.6m-2 0h1.6m-1 0h1.6m-2 0h1.6m0 0h1.6m-1 0h1.6m-1 0h1.6m0 0h1.6m0 0h1.6m-1 0h1.6m-1 0h1.6m-1 0h1.6m-1 0h1.6m-2 0h1.6m-1 0h1.6m1 0h1.6m-2 0h1.6m-1 0h1.6m1 0h1.6m1 0h1.6m0 0h1.6m-1 0h1.6m-2 0h1.6m-1 0h1.6m0 0h1.6m-1 0h1.6m-2 0h1.6m-1 0h1.6m13 0h1.6m-1 0h1.6m-1 0h1.6m-2 0h1.6m-1 0h1.6m-1 0h1.6m-1 0h1.6m-1 0h1.6m-1 0h1.6m-1 0h1.6m0 0h1.6m0 0h1.6m-1 0h1.6m-1 0h1.6m-1 0h1.6m0 0h1.6m-2 0h1.6m-1 0h1.6m-1 0h1.6m-1 0h1.6m0 0h1.6m2 0h1.6m-2 0h1.6m-1 0h1.6m-1 0h1.6m-1 0h1.6m-1 0h1.6m-2 0h1.6m-1 0h1.6m-1 0h1.6m-1 0h1.6m-1 0h1.6m-1 0h1.6m-1 0h1.6m-1 0h1.6m-1 0h1.6m-1 0h1.6m0 0h1.6m-1 0h1.6m-1 0h1.6m0 0h1.6m1 0h1.6m-1 0h1.6m-1 0h1.6m0 0h1.6m-1 0h1.6m-1 0h1.6m-1 0h1.6m-1 0h1.6m-1 0h1.6m-1 0h1.6m-1 0h1.6m-1 0h1.6m-1 0h1.6m-1 0h1.6m1 0h1.6m1 0h1.6m-2 0h1.6m2 0h1.6m-2 0h1.6m-1 0h1.6m-2 0h1.6m-1 0h1.6m-1 0h1.6m-1 0h1.6m-2 0h1.6m13 0h1.6m1 0h1.6m-1 0h1.6m-1 0h1.6m-2 0h1.6m-1 0h1.6m-1 0h1.6m-2 0h1.6m0 0h1.6m-2 0h1.6m0 0h1.6m1 0h1.6m0 0h1.6m-2 0h1.6m0 0h1.6m0 0h1.6m-1 0h1.6m-1 0h1.6m0 0h1.6m-1 0h1.6m-1 0h1.6m-2 0h1.6m0 0h1.6m-2 0h1.6m-1 0h1.6m-1 0h1.6m1 0h1.6m-2 0h1.6m-1 0h1.6m-2 0h1.6m-1 0h1.6m-1 0h1.6m-1 0h1.6m-2 0h1.6m-1 0h1.6m1 0h1.6m-2 0h1.6m0 0h1.6m-2 0h1.6m-1 0h1.6m-1 0h1.6m-1 0h1.6m0 0h1.6m0 0h1.6m-1 0h1.6m0 0h1.6m3 0h1.6m-2 0h1.6m-1 0h1.6m-1 0h1.6m-1 0h1.6m0 0h1.6m-1 0h1.6m-2 0h1.6m-1 0h1.6m-1 0h1.6m-2 0h1.6m-1 0h1.6m0 0h1.6m0 0h1.6m-2 0h1.6m-1 0h1.6m-1 0h1.6m-1 0h1.6m-2 0h1.6m0 0h1.6m-308 6.7h1.6m-1 0h1.6m2 0h1.6m-1 0h1.6m0 0h1.6m-1 0h1.6m-1 0h1.6m3 0h1.6m-1 0h1.6m0 0h1.6m-1 0h1.6m1 0h1.6m5 0h1.6m0 0h1.6m-2 0h1.6m8 0h1.6m3 0h1.6m-1 0h1.6m0 0h1.6m2 0h1.6m15 0h1.6m-1 0h1.6m0 0h1.6m-1 0h1.6m-1 0h1.6m1 0h1.6m0 0h1.6m-1 0h1.6m-1 0h1.6m-1 0h1.6m-1 0h1.6m0 0h1.6m1 0h1.6m0 0h1.6m-1 0h1.6m-1 0h1.6m-1 0h1.6m-1 0h1.6m1 0h1.6m-1 0h1.6m-2 0h1.6m-1 0h1.6m-1 0h1.6m-1 0h1.6m0 0h1.6m-1 0h1.6m-1 0h1.6m-2 0h1.6m-1 0h1.6m-1 0h1.6m-2 0h1.6m0 0h1.6m-1 0h1.6m-1 0h1.6m-1 0h1.6m-1 0h1.6m0 0h1.6m-1 0h1.6m1 0h1.6m-1 0h1.6m2 0h1.6m-1 0h1.6m-1 0h1.6m-1 0h1.6m-1 0h1.6m-2 0h1.6m0 0h1.6m1 0h1.6m-1 0h1.6m0 0h1.6m-114 8.8h1.6m0 0h1.6m-2 0h1.6m-1 0h1.6m-1 0h1.6m0 0h1.6m-2 0h1.6m1 0h1.6m0 0h1.6m0 0h1.6m-1 0h1.6m0 0h1.6m-1 0h1.6m-2 0h1.6m-1 0h1.6m0 0h1.6m-1 0h1.6m0 0h1.6m-1 0h1.6m0 0h1.6m-1 0h1.6m-1 0h1.6m-2 0h1.6m0 0h1.6m0 0h1.6m-1 0h1.6m-2 0h1.6m-2 0h1.6m1 0h1.6m0 0h1.6m-2 0h1.6m-1 0h1.6m0 0h1.6m-1 0h1.6m-1 0h1.6m-2 0h1.6m-1 0h1.6m-2 0h1.6m0 0h1.6m0 0h1.6m-2 0h1.6m-1 0h1.6m0 0h1.6m1 0h1.6m-1 0h1.6m-1 0h1.6m-1 0h1.6m-2 0h1.6m0 0h1.6m0 0h1.6m0 0h1.6m-1 0h1.6m0 0h1.6m1 0h1.6m0 0h1.6m209 33.3h1.6m-1 0h1.6m0 0h1.6m-1 0h1.6m0 0h1.6m2 0h1.6m1 0h1.6m2 0h1.6m0 0h1.6m-2 0h1.6m-1 0h1.6m-1 0h1.6m1 0h1.6m-2 0h1.6m-1 0h1.6m-1 0h1.6m3 0h1.6m-1 0h1.6m-2 0h1.6m2 0h1.6m3 0h1.6m-1 0h1.6m5 0h1.6m-1 0h1.6m-1 0h1.6m-2 0h1.6m-1 0h1.6m2 0h1.6m2 0h1.6m-2 0h1.6" stroke="#111" stroke-width="2" fill="none"/>
<path d="M1197.4 788.4h51M1197.4 767.4h51M1262.1 788.4h51M1262.1 767.4h51M1262.1 755.1h51M1326.7 788.4h51M1326.7 767.4h51M1326.7 755.1h51M1326.7 746.3h51M1391.8 788.4h51M1391.8 767.4h51M1391.8 755.1h51M1391.8 746.3h51M1456.5 767.4h51M1456.5 755.1h51M1456.5 746.3h51" stroke="#111" stroke-width="2.3" fill="none"/>
<text x="1174.8" y="792.9" font-size="24" text-anchor="end">0</text>
<text x="1174.8" y="732.2" font-size="24" text-anchor="end">2</text>
<text x="1174.8" y="671.5" font-size="24" text-anchor="end">4</text>
<path d="M1184.8 653.5V795H1521M1180.8 788.4H1184.8M1180.8 727.7H1184.8M1180.8 667H1184.8M1180.8 758H1184.8M1180.8 697.3H1184.8M1222.9 795V800M1287.6 795V800M1352.2 795V800M1417.3 795V800M1482 795V800" stroke="#222" stroke-width="1.6" fill="none"/>
<text x="1715" y="644.5" font-size="28.5" text-anchor="middle" font-style="italic">Mxd1</text>
<path d="M1612.3 788.6l-9.4-7-3.3-3.9-2.3-3.9-0.1-1.5 1.5-4.7-0.5-1.5-3-4.7-0.8-2.3-4.9-36.5-2.4-14.8-1.2-11.6-4 0-1.2 11.6-2.4 14.8-4.9 36.5-0.8 2.3-3 4.7-0.5 1.5 1.5 4.7-0.1 1.5-2.3 3.9-3.3 3.9-9.4 7z" fill="#f8766d" stroke="#222" stroke-width="1.1"/><path d="M1676.9 788.6l-11.6-8.5-3.2-3.5-1.9-3.4 1.6-6-3-6.8-0.8-4.3-2.8-22.2-4.5-30.7-1.6-16.2-1.2 0-1.6 16.2-7.7 55.5-0.7 2.6-2.7 5.9 1.6 6-1.9 3.4-3.2 3.5-11.6 8.5z" fill="#f9aa3c" stroke="#222" stroke-width="1.1"/><path d="M1742 788.6l-10.3-6.6-2.3-1.9-1.4-1.9-0.1-0.9 1.1-1.9 3.1-2.9 5.5-3.7 1-1 0.4-0.9-0.1-1-2.7-5.6-0.3-6.7-1.1-9.4-1.8-10.4-1.9-8.5-2.6-8.5-6.6-17-5-15.1-2.1-8.5-2.4 0-2.1 8.5-5 15.1-6.6 17-2.1 6.6-1.8 7.6-1.9 10.4-1.6 12.2-0.3 6.7-2.7 5.6-0.1 1 0.4 0.9 1 1 5.5 3.7 3.1 2.9 1.1 1.9-0.1 0.9-1.4 1.9-2.3 1.9-10.3 6.6z" fill="#19b378" stroke="#222" stroke-width="1.1"/><path d="M1793.9 788.6l-3.8-8.7-0.4-3.3 0.8-2.1 1.1-1.1 10.2-5.5 1.2-1 0.5-1.1-0.3-12 3.3-25-0.5-11.9-1.1-7.7-2.7-8.7-4.2-7.6-7.3-9.7-4-6.6-3-6.5-3.3-10.9-4.4 0-3.3 10.9-3 6.5-4 6.6-6.6 8.7-4.4 7.6-1.8 4.3-1.8 7.6-1 8.7-0.3 7.6 3.4 26.1-0.3 12 0.5 1.1 1.2 1 10.2 5.5 1.6 2.2 0.3 3.2-4.2 9.8z" fill="#1cb0ef" stroke="#222" stroke-width="1.1"/><path d="M1854.2 788.6l-3.3-7.7-0.3-2.2 0.3-2.2 1.2-2.2 1.2-1.1 10.8-5.5 1.9-2.2 4.6-30.8 0.1-6.6-1.8-9.9-2.8-7.7-12.5-19.8-6.3-13.2-3.1-11-1-8.8-1.6 0-1 8.8-1.6 6.6-2 5.5-5.8 12.1-12.5 19.8-2.8 7.7-1.7 8.8-0.1 6.6 4.7 31.9 1.9 2.2 10.8 5.5 1.2 1.1 1.2 2.2 0.3 2.2-0.3 2.2-3.3 7.7z" fill="#b987f6" stroke="#222" stroke-width="1.1"/>
<path d="M1774 659.6h1.6m13 0h1.6m2 0h1.6m41 0h1.6m-79 0.9h1.6m32 1h1.6m-37 1.5h1.6m110 0h1.6m-5 0.5h1.6m-88 1.1h1.6m65 0h1.6m-89 0.6h1.6m36 0.5h1.6m-38 0.6h1.6m1 0h1.6m85 0.6h1.6m0 0h1.6m-90 0.6h1.6m18 0h1.6m16 0h1.6m-1 0h1.6m-24 0.6h1.6m-15 0.6h1.6m17 0h1.6m18 0h1.6m17 0h1.6m-44 0.7h1.6m-1 0h1.6m7 0h1.6m7 0h1.6m27 0h1.6m35 0h1.6m-106 0.6h1.6m11 0h1.6m-1 0h1.6m11 0h1.6m-5 0.7h1.6m12 0h1.6m37 0h1.6m-76 0.7h1.6m34 0h1.6m0 0.6h1.6m1 0h1.6m38 0h1.6m-69 0.8h1.6m8 0.7h1.6m74 0h1.6m-87 0.7h1.6m1 0h1.6m13 0h1.6m30 0h1.6m25 0h1.6m-55 0.8h1.6m-1 0h1.6m10 0h1.6m31 0h1.6m13 0h1.6m9 0h1.6m-81 0.8h1.6m48 0h1.6m30 0h1.6m-148 0.8h1.6m60 0h1.6m16 0h1.6m2 0h1.6m58 0h1.6m-135 0.8h1.6m-1 0h1.6m35 0h1.6m-1 0h1.6m24 0h1.6m1 0h1.6m5 0h1.6m24 0h1.6m27 0h1.6m5 0h1.6m-130 0.8h1.6m24 0h1.6m5 0h1.6m-1 0h1.6m15 0h1.6m17 0h1.6m44 0h1.6m1 0h1.6m-126 0.9h1.6m45 0h1.6m3 0h1.6m5 0h1.6m-2 0h1.6m6 0h1.6m0 0h1.6m63 0h1.6m3 0h1.6m-164 0.9h1.6m63 0h1.6m6 0h1.6m12 0h1.6m-2 0h1.6m4 0h1.6m0 0h1.6m5 0h1.6m1 0h1.6m1 0h1.6m0 0h1.6m36 0h1.6m24 0h1.6m-143 0.9h1.6m12 0h1.6m25 0h1.6m57 0h1.6m8 0h1.6m10 0h1.6m-130 1h1.6m13 0h1.6m48 0h1.6m1 0h1.6m0 0h1.6m-2 0h1.6m38 0h1.6m0 0h1.6m34 0h1.6m6 0h1.6m-1 0h1.6m-164 0.9h1.6m48 0h1.6m-1 0h1.6m-1 0h1.6m2 0h1.6m2 0h1.6m1 0h1.6m1 0h1.6m26 0h1.6m0 0h1.6m-1 0h1.6m-1 0h1.6m19 0h1.6m25 0h1.6m-138 1h1.6m62 0h1.6m26 0h1.6m-2 0h1.6m0 0h1.6m21 0h1.6m4 0h1.6m17 0h1.6m1 0h1.6m6 0h1.6m-154 1.1h1.6m48 0h1.6m2 0h1.6m2 0h1.6m13 0h1.6m0 0h1.6m-1 0h1.6m1 0h1.6m3 0h1.6m15 0h1.6m12 0h1.6m21 0h1.6m4 0h1.6m9 0h1.6m0 0h1.6m2 0h1.6m1 0h1.6m0 0h1.6m-1 0h1.6m-161 1.1h1.6m3 0h1.6m3 0h1.6m-1 0h1.6m3 0h1.6m48 0h1.6m0 0h1.6m0 0h1.6m6 0h1.6m0 0h1.6m9 0h1.6m6 0h1.6m16 0h1.6m2 0h1.6m17 0h1.6m8 0h1.6m-1 0h1.6m9 0h1.6m2 0h1.6m-178 1.1h1.6m3 0h1.6m7 0h1.6m24 0h1.6m4 0h1.6m3 0h1.6m14 0h1.6m2 0h1.6m3 0h1.6m0 0h1.6m-1 0h1.6m1 0h1.6m3 0h1.6m4 0h1.6m8 0h1.6m-1 0h1.6m5 0h1.6m-2 0h1.6m24 0h1.6m-1 0h1.6m6 0h1.6m2 0h1.6m4 0h1.6m3 0h1.6m3 0h1.6m2 0h1.6m5 0h1.6m9 0h1.6m-154 1.2h1.6m2 0h1.6m15 0h1.6m2 0h1.6m17 0h1.6m0 0h1.6m4 0h1.6m10 0h1.6m0 0h1.6m3 0h1.6m3 0h1.6m4 0h1.6m5 0h1.6m40 0h1.6m3 0h1.6m5 0h1.6m14 0h1.6m-164 1.2h1.6m5 0h1.6m21 0h1.6m21 0h1.6m3 0h1.6m1 0h1.6m3 0h1.6m-1 0h1.6m10 0h1.6m5 0h1.6m8 0h1.6m5 0h1.6m16 0h1.6m4 0h1.6m10 0h1.6m5 0h1.6m9 0h1.6m-192 1.2h1.6m40 0h1.6m-1 0h1.6m-1 0h1.6m5 0h1.6m20 0h1.6m16 0h1.6m1 0h1.6m11 0h1.6m0 0h1.6m4 0h1.6m2 0h1.6m5 0h1.6m4 0h1.6m3 0h1.6m5 0h1.6m17 0h1.6m5 0h1.6m0 0h1.6m-1 0h1.6m16 0h1.6m1 0h1.6m13 0h1.6m0 0h1.6m-230 1.3h1.6m6 0h1.6m63 0h1.6m15 0h1.6m8 0h1.6m19 0h1.6m-2 0h1.6m-1 0h1.6m2 0h1.6m8 0h1.6m6 0h1.6m0 0h1.6m0 0h1.6m1 0h1.6m4 0h1.6m0 0h1.6m-1 0h1.6m11 0h1.6m24 0h1.6m-1 0h1.6m-1 0h1.6m1 0h1.6m0 0h1.6m-1 0h1.6m2 0h1.6m13 0h1.6m-2 0h1.6m-1 0h1.6m0 0h1.6m1 0h1.6m-169 1.4h1.6m28 0h1.6m32 0h1.6m0 0h1.6m1 0h1.6m0 0h1.6m6 0h1.6m0 0h1.6m0 0h1.6m3 0h1.6m-1 0h1.6m0 0h1.6m-2 0h1.6m-1 0h1.6m3 0h1.6m5 0h1.6m1 0h1.6m1 0h1.6m3 0h1.6m-1 0h1.6m0 0h1.6m-1 0h1.6m19 0h1.6m2 0h1.6m1 0h1.6m4 0h1.6m-1 0h1.6m-1 0h1.6m4 0h1.6m4 0h1.6m6 0h1.6m12 0h1.6m-238 1.4h1.6m12 0h1.6m42 0h1.6m0 0h1.6m3 0h1.6m18 0h1.6m-1 0h1.6m3 0h1.6m1 0h1.6m0 0h1.6m1 0h1.6m2 0h1.6m2 0h1.6m0 0h1.6m18 0h1.6m0 0h1.6m3 0h1.6m-2 0h1.6m0 0h1.6m0 0h1.6m1 0h1.6m-1 0h1.6m2 0h1.6m-1 0h1.6m-1 0h1.6m0 0h1.6m0 0h1.6m1 0h1.6m2 0h1.6m1 0h1.6m2 0h1.6m30 0h1.6m13 0h1.6m-1 0h1.6m0 0h1.6m1 0h1.6m4 0h1.6m8 0h1.6m1 0h1.6m3 0h1.6m-1 0h1.6m-1 0h1.6m5 0h1.6m-2 0h1.6m-240 1.5h1.6m23 0h1.6m48 0h1.6m2 0h1.6m0 0h1.6m12 0h1.6m1 0h1.6m1 0h1.6m1 0h1.6m2 0h1.6m19 0h1.6m-1 0h1.6m1 0h1.6m0 0h1.6m-1 0h1.6m0 0h1.6m-1 0h1.6m-1 0h1.6m4 0h1.6m-2 0h1.6m0 0h1.6m3 0h1.6m-1 0h1.6m7 0h1.6m2 0h1.6m3 0h1.6m0 0h1.6m-1 0h1.6m5 0h1.6m0 0h1.6m0 0h1.6m-1 0h1.6m27 0h1.6m3 0h1.6m-1 0h1.6m0 0h1.6m0 0h1.6m7 0h1.6m0 0h1.6m1 0h1.6m3 0h1.6m5 0h1.6m0 0h1.6m-271 1.6h1.6m25 0h1.6m18 0h1.6m1 0h1.6m50 0h1.6m25 0h1.6m6 0h1.6m21 0h1.6m-1 0h1.6m6 0h1.6m-1 0h1.6m0 0h1.6m0 0h1.6m-1 0h1.6m5 0h1.6m1 0h1.6m1 0h1.6m1 0h1.6m-1 0h1.6m0 0h1.6m-1 0h1.6m7 0h1.6m0 0h1.6m-1 0h1.6m2 0h1.6m-1 0h1.6m2 0h1.6m13 0h1.6m0 0h1.6m9 0h1.6m-1 0h1.6m4 0h1.6m-1 0h1.6m5 0h1.6m-2 0h1.6m1 0h1.6m-2 0h1.6m0 0h1.6m1 0h1.6m-1 0h1.6m-1 0h1.6m-1 0h1.6m4 0h1.6m-1 0h1.6m-1 0h1.6m6 0h1.6m-174 1.7h1.6m2 0h1.6m0 0h1.6m7 0h1.6m2 0h1.6m2 0h1.6m-1 0h1.6m-1 0h1.6m-1 0h1.6m36 0h1.6m0 0h1.6m-1 0h1.6m-2 0h1.6m3 0h1.6m-2 0h1.6m4 0h1.6m1 0h1.6m0 0h1.6m2 0h1.6m0 0h1.6m4 0h1.6m0 0h1.6m3 0h1.6m1 0h1.6m2 0h1.6m-1 0h1.6m1 0h1.6m-1 0h1.6m-1 0h1.6m-1 0h1.6m1 0h1.6m-2 0h1.6m0 0h1.6m-1 0h1.6m18 0h1.6m2 0h1.6m2 0h1.6m5 0h1.6m-1 0h1.6m-1 0h1.6m-1 0h1.6m5 0h1.6m2 0h1.6m0 0h1.6m-1 0h1.6m-1 0h1.6m3 0h1.6m1 0h1.6m7 0h1.6m1 0h1.6m-293 1.7h1.6m8 0h1.6m43 0h1.6m5 0h1.6m0 0h1.6m1 0h1.6m45 0h1.6m0 0h1.6m1 0h1.6m10 0h1.6m5 0h1.6m4 0h1.6m5 0h1.6m7 0h1.6m-2 0h1.6m4 0h1.6m16 0h1.6m-1 0h1.6m0 0h1.6m1 0h1.6m2 0h1.6m0 0h1.6m0 0h1.6m2 0h1.6m0 0h1.6m-1 0h1.6m-2 0h1.6m6 0h1.6m1 0h1.6m-2 0h1.6m0 0h1.6m-1 0h1.6m3 0h1.6m0 0h1.6m-1 0h1.6m5 0h1.6m1 0h1.6m-1 0h1.6m16 0h1.6m-1 0h1.6m-1 0h1.6m0 0h1.6m0 0h1.6m1 0h1.6m-1 0h1.6m0 0h1.6m-1 0h1.6m-2 0h1.6m0 0h1.6m-2 0h1.6m-1 0h1.6m2 0h1.6m3 0h1.6m-1 0h1.6m0 0h1.6m16 0h1.6m-2 0h1.6m0 0h1.6m1 0h1.6m-1 0h1.6m-1 0h1.6m-1 0h1.6m-299 1.9h1.6m68 0h1.6m16 0h1.6m14 0h1.6m0 0h1.6m2 0h1.6m17 0h1.6m12 0h1.6m1 0h1.6m9 0h1.6m-1 0h1.6m1 0h1.6m9 0h1.6m-1 0h1.6m3 0h1.6m-1 0h1.6m14 0h1.6m3 0h1.6m-1 0h1.6m4 0h1.6m5 0h1.6m4 0h1.6m1 0h1.6m1 0h1.6m-1 0h1.6m-1 0h1.6m-1 0h1.6m-2 0h1.6m3 0h1.6m-1 0h1.6m2 0h1.6m-1 0h1.6m1 0h1.6m4 0h1.6m19 0h1.6m2 0h1.6m-1 0h1.6m4 0h1.6m-1 0h1.6m4 0h1.6m-2 0h1.6m-1 0h1.6m0 0h1.6m0 0h1.6m0 0h1.6m0 0h1.6m2 0h1.6m2 0h1.6m-2 0h1.6m-1 0h1.6m1 0h1.6m1 0h1.6m-1 0h1.6m2 0h1.6m-2 0h1.6m0 0h1.6m-2 0h1.6m-1 0h1.6m0 0h1.6m2 0h1.6m-302 2h1.6m3 0h1.6m33 0h1.6m25 0h1.6m28 0h1.6m32 0h1.6m14 0h1.6m2 0h1.6m7 0h1.6m5 0h1.6m5 0h1.6m16 0h1.6m0 0h1.6m0 0h1.6m-2 0h1.6m0 0h1.6m-1 0h1.6m1 0h1.6m-2 0h1.6m-1 0h1.6m-1 0h1.6m-2 0h1.6m0 0h1.6m-2 0h1.6m1 0h1.6m-2 0h1.6m1 0h1.6m9 0h1.6m2 0h1.6m1 0h1.6m6 0h1.6m0 0h1.6m2 0h1.6m1 0h1.6m1 0h1.6m13 0h1.6m0 0h1.6m0 0h1.6m5 0h1.6m0 0h1.6m-1 0h1.6m-2 0h1.6m1 0h1.6m-1 0h1.6m-1 0h1.6m-1 0h1.6m0 0h1.6m3 0h1.6m0 0h1.6m0 0h1.6m15 0h1.6m-1 0h1.6m-1 0h1.6m-1 0h1.6m0 0h1.6m0 0h1.6m-301 2.1h1.6m30 0h1.6m9 0h1.6m15 0h1.6m37 0h1.6m1 0h1.6m6 0h1.6m20 0h1.6m0 0h1.6m-1 0h1.6m-1 0h1.6m-1 0h1.6m-2 0h1.6m-1 0h1.6m0 0h1.6m3 0h1.6m5 0h1.6m-1 0h1.6m0 0h1.6m0 0h1.6m1 0h1.6m-1 0h1.6m8 0h1.6m-1 0h1.6m4 0h1.6m0 0h1.6m17 0h1.6m-1 0h1.6m0 0h1.6m-1 0h1.6m0 0h1.6m1 0h1.6m-2 0h1.6m-1 0h1.6m0 0h1.6m0 0h1.6m-1 0h1.6m0 0h1.6m-1 0h1.6m-1 0h1.6m0 0h1.6m0 0h1.6m2 0h1.6m-1 0h1.6m0 0h1.6m2 0h1.6m0 0h1.6m0 0h1.6m1 0h1.6m-1 0h1.6m-1 0h1.6m-1 0h1.6m0 0h1.6m-2 0h1.6m1 0h1.6m-1 0h1.6m-1 0h1.6m-1 0h1.6m1 0h1.6m-1 0h1.6m-2 0h1.6m0 0h1.6m-1 0h1.6m-2 0h1.6m1 0h1.6m1 0h1.6m15 0h1.6m-2 0h1.6m-1 0h1.6m-1 0h1.6m1 0h1.6m-1 0h1.6m1 0h1.6m0 0h1.6m1 0h1.6m1 0h1.6m-1 0h1.6m0 0h1.6m3 0h1.6m0 0h1.6m3 0h1.6m0 0h1.6m-1 0h1.6m1 0h1.6m0 0h1.6m0 0h1.6m0 0h1.6m0 0h1.6m-1 0h1.6m4 0h1.6m-1 0h1.6m0 0h1.6m-306 2.3h1.6m11 0h1.6m25 0h1.6m2 0h1.6m21 0h1.6m28 0h1.6m12 0h1.6m18 0h1.6m-1 0h1.6m9 0h1.6m-1 0h1.6m4 0h1.6m1 0h1.6m2 0h1.6m-1 0h1.6m4 0h1.6m0 0h1.6m2 0h1.6m2 0h1.6m-1 0h1.6m0 0h1.6m0 0h1.6m-1 0h1.6m22 0h1.6m3 0h1.6m-1 0h1.6m-1 0h1.6m-2 0h1.6m-1 0h1.6m0 0h1.6m-1 0h1.6m3 0h1.6m0 0h1.6m-1 0h1.6m-1 0h1.6m-1 0h1.6m1 0h1.6m-1 0h1.6m1 0h1.6m-1 0h1.6m1 0h1.6m0 0h1.6m-1 0h1.6m0 0h1.6m4 0h1.6m-1 0h1.6m-2 0h1.6m0 0h1.6m-1 0h1.6m-1 0h1.6m0 0h1.6m0 0h1.6m-1 0h1.6m-1 0h1.6m0 0h1.6m-1 0h1.6m1 0h1.6m-2 0h1.6m-1 0h1.6m14 0h1.6m-2 0h1.6m-1 0h1.6m-2 0h1.6m-1 0h1.6m1 0h1.6m0 0h1.6m-1 0h1.6m-1 0h1.6m5 0h1.6m0 0h1.6m-1 0h1.6m0 0h1.6m-1 0h1.6m-1 0h1.6m0 0h1.6m0 0h1.6m-2 0h1.6m-1 0h1.6m4 0h1.6m-1 0h1.6m-1 0h1.6m-2 0h1.6m-1 0h1.6m1 0h1.6m1 0h1.6m0 0h1.6m1 0h1.6m-1 0h1.6m-1 0h1.6m2 0h1.6m0 0h1.6m-2 0h1.6m0 0h1.6m-1 0h1.6m-1 0h1.6m0 0h1.6m-1 0h1.6m-292 2.5h1.6m3 0h1.6m17 0h1.6m3 0h1.6m-1 0h1.6m1 0h1.6m23 0h1.6m1 0h1.6m10 0h1.6m1 0h1.6m2 0h1.6m1 0h1.6m4 0h1.6m10 0h1.6m15 0h1.6m1 0h1.6m3 0h1.6m3 0h1.6m0 0h1.6m-1 0h1.6m2 0h1.6m2 0h1.6m2 0h1.6m0 0h1.6m-1 0h1.6m-1 0h1.6m2 0h1.6m8 0h1.6m-1 0h1.6m1 0h1.6m-1 0h1.6m-1 0h1.6m-1 0h1.6m1 0h1.6m-2 0h1.6m0 0h1.6m12 0h1.6m1 0h1.6m2 0h1.6m-1 0h1.6m-2 0h1.6m-1 0h1.6m0 0h1.6m-1 0h1.6m0 0h1.6m-1 0h1.6m0 0h1.6m-2 0h1.6m0 0h1.6m2 0h1.6m-2 0h1.6m0 0h1.6m0 0h1.6m1 0h1.6m-1 0h1.6m-1 0h1.6m0 0h1.6m-1 0h1.6m1 0h1.6m0 0h1.6m1 0h1.6m8 0h1.6m0 0h1.6m-1 0h1.6m-2 0h1.6m0 0h1.6m-1 0h1.6m-1 0h1.6m-1 0h1.6m-1 0h1.6m1 0h1.6m12 0h1.6m-1 0h1.6m-1 0h1.6m4 0h1.6m1 0h1.6m-1 0h1.6m0 0h1.6m1 0h1.6m-2 0h1.6m1 0h1.6m2 0h1.6m-2 0h1.6m0 0h1.6m-1 0h1.6m2 0h1.6m-2 0h1.6m-1 0h1.6m-2 0h1.6m-1 0h1.6m-1 0h1.6m-1 0h1.6m2 0h1.6m1 0h1.6m2 0h1.6m-1 0h1.6m1 0h1.6m2 0h1.6m-1 0h1.6m-1 0h1.6m-1 0h1.6m-1 0h1.6m0 0h1.6m-2 0h1.6m-1 0h1.6m-1 0h1.6m-306 2.6h1.6m11 0h1.6m54 0h1.6m5 0h1.6m17 0h1.6m1 0h1.6m34 0h1.6m0 0h1.6m0 0h1.6m0 0h1.6m-2 0h1.6m3 0h1.6m-1 0h1.6m-1 0h1.6m3 0h1.6m2 0h1.6m2 0h1.6m1 0h1.6m0 0h1.6m-1 0h1.6m-2 0h1.6m1 0h1.6m-2 0h1.6m2 0h1.6m0 0h1.6m0 0h1.6m0 0h1.6m0 0h1.6m-1 0h1.6m0 0h1.6m-1 0h1.6m17 0h1.6m-1 0h1.6m-2 0h1.6m-1 0h1.6m0 0h1.6m-1 0h1.6m5 0h1.6m0 0h1.6m-1 0h1.6m-1 0h1.6m0 0h1.6m0 0h1.6m0 0h1.6m-2 0h1.6m0 0h1.6m-2 0h1.6m2 0h1.6m1 0h1.6m-1 0h1.6m0 0h1.6m-1 0h1.6m-1 0h1.6m-1 0h1.6m3 0h1.6m1 0h1.6m-1 0h1.6m-1 0h1.6m1 0h1.6m-1 0h1.6m0 0h1.6m-1 0h1.6m-1 0h1.6m2 0h1.6m1 0h1.6m-2 0h1.6m0 0h1.6m-2 0h1.6m15 0h1.6m-1 0h1.6m5 0h1.6m1 0h1.6m0 0h1.6m-1 0h1.6m-2 0h1.6m0 0h1.6m-1 0h1.6m-1 0h1.6m3 0h1.6m-1 0h1.6m1 0h1.6m-1 0h1.6m-2 0h1.6m-1 0h1.6m-1 0h1.6m-1 0h1.6m-1 0h1.6m0 0h1.6m-1 0h1.6m-2 0h1.6m-1 0h1.6m-1 0h1.6m0 0h1.6m2 0h1.6m-2 0h1.6m-1 0h1.6m-1 0h1.6m1 0h1.6m-1 0h1.6m-1 0h1.6m-1 0h1.6m-1 0h1.6m1 0h1.6m0 0h1.6m-1 0h1.6m0 0h1.6m1 0h1.6m-1 0h1.6m-309 3h1.6m40 0h1.6m21 0h1.6m2 0h1.6m-1 0h1.6m0 0h1.6m18 0h1.6m1 0h1.6m8 0h1.6m2 0h1.6m1 0h1.6m-1 0h1.6m0 0h1.6m-1 0h1.6m16 0h1.6m-2 0h1.6m1 0h1.6m-2 0h1.6m-1 0h1.6m1 0h1.6m-1 0h1.6m-1 0h1.6m-1 0h1.6m-1 0h1.6m2 0h1.6m3 0h1.6m-1 0h1.6m2 0h1.6m2 0h1.6m-1 0h1.6m0 0h1.6m-1 0h1.6m-1 0h1.6m1 0h1.6m-1 0h1.6m0 0h1.6m0 0h1.6m1 0h1.6m-1 0h1.6m0 0h1.6m1 0h1.6m3 0h1.6m1 0h1.6m15 0h1.6m0 0h1.6m-1 0h1.6m-1 0h1.6m1 0h1.6m-1 0h1.6m-2 0h1.6m-1 0h1.6m0 0h1.6m-2 0h1.6m-1 0h1.6m-1 0h1.6m-1 0h1.6m-1 0h1.6m-1 0h1.6m-1 0h1.6m2 0h1.6m-2 0h1.6m1 0h1.6m0 0h1.6m-1 0h1.6m-1 0h1.6m-2 0h1.6m2 0h1.6m-2 0h1.6m-1 0h1.6m-2 0h1.6m-1 0h1.6m-2 0h1.6m1 0h1.6m-1 0h1.6m-2 0h1.6m1 0h1.6m-1 0h1.6m-2 0h1.6m0 0h1.6m-1 0h1.6m-1 0h1.6m0 0h1.6m0 0h1.6m-1 0h1.6m-1 0h1.6m0 0h1.6m-1 0h1.6m0 0h1.6m1 0h1.6m-2 0h1.6m-1 0h1.6m-1 0h1.6m0 0h1.6m-1 0h1.6m2 0h1.6m-2 0h1.6m1 0h1.6m13 0h1.6m-2 0h1.6m0 0h1.6m1 0h1.6m-2 0h1.6m0 0h1.6m-2 0h1.6m-1 0h1.6m1 0h1.6m2 0h1.6m0 0h1.6m-1 0h1.6m-2 0h1.6m-1 0h1.6m-1 0h1.6m-2 0h1.6m1 0h1.6m-1 0h1.6m-2 0h1.6m-1 0h1.6m0 0h1.6m0 0h1.6m-2 0h1.6m-1 0h1.6m0 0h1.6m-2 0h1.6m0 0h1.6m-1 0h1.6m0 0h1.6m-1 0h1.6m-1 0h1.6m-1 0h1.6m4 0h1.6m-1 0h1.6m0 0h1.6m-1 0h1.6m-1 0h1.6m-1 0h1.6m-1 0h1.6m-1 0h1.6m3 0h1.6m-2 0h1.6m0 0h1.6m-1 0h1.6m0 0h1.6m-1 0h1.6m0 0h1.6m-1 0h1.6m-309 3.2h1.6m17 0h1.6m22 0h1.6m26 0h1.6m6 0h1.6m3 0h1.6m4 0h1.6m8 0h1.6m30 0h1.6m-2 0h1.6m-1 0h1.6m-1 0h1.6m0 0h1.6m-2 0h1.6m0 0h1.6m-1 0h1.6m-1 0h1.6m-1 0h1.6m1 0h1.6m0 0h1.6m-1 0h1.6m-1 0h1.6m0 0h1.6m2 0h1.6m1 0h1.6m1 0h1.6m3 0h1.6m2 0h1.6m-1 0h1.6m1 0h1.6m1 0h1.6m-1 0h1.6m-1 0h1.6m0 0h1.6m2 0h1.6m-2 0h1.6m-1 0h1.6m-1 0h1.6m2 0h1.6m0 0h1.6m0 0h1.6m-1 0h1.6m12 0h1.6m0 0h1.6m0 0h1.6m-1 0h1.6m-1 0h1.6m0 0h1.6m0 0h1.6m0 0h1.6m-2 0h1.6m-1 0h1.6m1 0h1.6m-1 0h1.6m-2 0h1.6m0 0h1.6m-1 0h1.6m1 0h1.6m-1 0h1.6m-2 0h1.6m0 0h1.6m-1 0h1.6m-1 0h1.6m-1 0h1.6m-1 0h1.6m-2 0h1.6m-1 0h1.6m-1 0h1.6m0 0h1.6m1 0h1.6m-1 0h1.6m2 0h1.6m-2 0h1.6m0 0h1.6m-1 0h1.6m-1 0h1.6m-1 0h1.6m-2 0h1.6m0 0h1.6m-2 0h1.6m-1 0h1.6m0 0h1.6m-2 0h1.6m0 0h1.6m-1 0h1.6m-1 0h1.6m-2 0h1.6m-1 0h1.6m-1 0h1.6m-1 0h1.6m1 0h1.6m-1 0h1.6m0 0h1.6m-1 0h1.6m-1 0h1.6m-2 0h1.6m-1 0h1.6m0 0h1.6m-2 0h1.6m-1 0h1.6m1 0h1.6m-1 0h1.6m12 0h1.6m-1 0h1.6m-1 0h1.6m-1 0h1.6m-2 0h1.6m-1 0h1.6m-1 0h1.6m-1 0h1.6m0 0h1.6m-1 0h1.6m-1 0h1.6m0 0h1.6m-2 0h1.6m3 0h1.6m0 0h1.6m1 0h1.6m0 0h1.6m0 0h1.6m0 0h1.6m-2 0h1.6m0 0h1.6m-1 0h1.6m-1 0h1.6m-2 0h1.6m1 0h1.6m-1 0h1.6m1 0h1.6m-1 0h1.6m-1 0h1.6m-2 0h1.6m0 0h1.6m-1 0h1.6m0 0h1.6m2 0h1.6m-2 0h1.6m-1 0h1.6m-1 0h1.6m-1 0h1.6m3 0h1.6m-2 0h1.6m-1 0h1.6m-2 0h1.6m0 0h1.6m-1 0h1.6m-2 0h1.6m-1 0h1.6m-1 0h1.6m-1 0h1.6m-1 0h1.6m-2 0h1.6m-1 0h1.6m-1 0h1.6m0 0h1.6m0 0h1.6m-2 0h1.6m-299 3.7h1.6m1 0h1.6m9 0h1.6m0 0h1.6m0 0h1.6m-1 0h1.6m2 0h1.6m4 0h1.6m-1 0h1.6m5 0h1.6m-2 0h1.6m-1 0h1.6m0 0h1.6m17 0h1.6m-1 0h1.6m0 0h1.6m0 0h1.6m-2 0h1.6m0 0h1.6m4 0h1.6m1 0h1.6m1 0h1.6m1 0h1.6m-1 0h1.6m3 0h1.6m-2 0h1.6m5 0h1.6m-1 0h1.6m-1 0h1.6m3 0h1.6m2 0h1.6m5 0h1.6m-1 0h1.6m-1 0h1.6m0 0h1.6m-1 0h1.6m13 0h1.6m0 0h1.6m-1 0h1.6m-2 0h1.6m-1 0h1.6m-2 0h1.6m-1 0h1.6m0 0h1.6m-2 0h1.6m-1 0h1.6m-1 0h1.6m1 0h1.6m-2 0h1.6m0 0h1.6m-1 0h1.6m-1 0h1.6m0 0h1.6m-1 0h1.6m-1 0h1.6m0 0h1.6m0 0h1.6m-1 0h1.6m-1 0h1.6m0 0h1.6m0 0h1.6m-1 0h1.6m1 0h1.6m-1 0h1.6m-1 0h1.6m3 0h1.6m-2 0h1.6m0 0h1.6m-2 0h1.6m-1 0h1.6m-2 0h1.6m-1 0h1.6m-2 0h1.6m-1 0h1.6m-1 0h1.6m-2 0h1.6m-1 0h1.6m0 0h1.6m-1 0h1.6m-1 0h1.6m-1 0h1.6m0 0h1.6m-1 0h1.6m-1 0h1.6m-1 0h1.6m-1 0h1.6m-2 0h1.6m-1 0h1.6m1 0h1.6m-2 0h1.6m-1 0h1.6m0 0h1.6m-2 0h1.6m-1 0h1.6m-1 0h1.6m-1 0h1.6m0 0h1.6m-1 0h1.6m-1 0h1.6m-1 0h1.6m-1 0h1.6m-1 0h1.6m13 0h1.6m1 0h1.6m-2 0h1.6m-2 0h1.6m-1 0h1.6m-1 0h1.6m-2 0h1.6m-1 0h1.6m-1 0h1.6m0 0h1.6m0 0h1.6m-1 0h1.6m-1 0h1.6m-1 0h1.6m-1 0h1.6m-1 0h1.6m0 0h1.6m-2 0h1.6m0 0h1.6m-1 0h1.6m1 0h1.6m-1 0h1.6m-1 0h1.6m-2 0h1.6m0 0h1.6m-1 0h1.6m-1 0h1.6m-1 0h1.6m-2 0h1.6m-1 0h1.6m-1 0h1.6m1 0h1.6m-1 0h1.6m2 0h1.6m-1 0h1.6m-1 0h1.6m-2 0h1.6m-1 0h1.6m-1 0h1.6m0 0h1.6m-2 0h1.6m-1 0h1.6m-1 0h1.6m-2 0h1.6m-1 0h1.6m0 0h1.6m0 0h1.6m-1 0h1.6m-1 0h1.6m-2 0h1.6m-1 0h1.6m0 0h1.6m1 0h1.6m-1 0h1.6m-1 0h1.6m0 0h1.6m0 0h1.6m-1 0h1.6m0 0h1.6m0 0h1.6m-2 0h1.6m-1 0h1.6m-1 0h1.6m-2 0h1.6m-1 0h1.6m-2 0h1.6m13 0h1.6m-2 0h1.6m-1 0h1.6m-2 0h1.6m-1 0h1.6m0 0h1.6m0 0h1.6m0 0h1.6m2 0h1.6m1 0h1.6m-1 0h1.6m-1 0h1.6m-1 0h1.6m-2 0h1.6m-1 0h1.6m-1 0h1.6m0 0h1.6m-2 0h1.6m-1 0h1.6m-2 0h1.6m-1 0h1.6m0 0h1.6m-1 0h1.6m-1 0h1.6m-1 0h1.6m1 0h1.6m0 0h1.6m-1 0h1.6m-1 0h1.6m-2 0h1.6m-1 0h1.6m-2 0h1.6m0 0h1.6m-1 0h1.6m-1 0h1.6m-2 0h1.6m-1 0h1.6m-1 0h1.6m-2 0h1.6m0 0h1.6m-1 0h1.6m-2 0h1.6m-1 0h1.6m-1 0h1.6m-2 0h1.6m-1 0h1.6m0 0h1.6m-2 0h1.6m-1 0h1.6m0 0h1.6m-2 0h1.6m-1 0h1.6m0 0h1.6m-2 0h1.6m-1 0h1.6m0 0h1.6m0 0h1.6m-2 0h1.6m-1 0h1.6m-1 0h1.6m-1 0h1.6m-1 0h1.6m-2 0h1.6m0 0h1.6m0 0h1.6m-2 0h1.6m-1 0h1.6m-1 0h1.6m-2 0h1.6m-1 0h1.6m-1 0h1.6m1 0h1.6m-1 0h1.6m-2 0h1.6m0 0h1.6m-309 4.1h1.6m3 0h1.6m3 0h1.6m-1 0h1.6m0 0h1.6m4 0h1.6m2 0h1.6m5 0h1.6m0 0h1.6m4 0h1.6m1 0h1.6m5 0h1.6m19 0h1.6m0 0h1.6m-1 0h1.6m1 0h1.6m0 0h1.6m0 0h1.6m2 0h1.6m1 0h1.6m-2 0h1.6m4 0h1.6m0 0h1.6m1 0h1.6m-2 0h1.6m3 0h1.6m1 0h1.6m-2 0h1.6m0 0h1.6m-1 0h1.6m1 0h1.6m3 0h1.6m-2 0h1.6m4 0h1.6m0 0h1.6m-1 0h1.6m-1 0h1.6m16 0h1.6m-1 0h1.6m0 0h1.6m-1 0h1.6m-1 0h1.6m-1 0h1.6m-1 0h1.6m-1 0h1.6m0 0h1.6m-2 0h1.6m-1 0h1.6m-1 0h1.6m-1 0h1.6m-1 0h1.6m1 0h1.6m-1 0h1.6m4 0h1.6m-1 0h1.6m-1 0h1.6m-2 0h1.6m0 0h1.6m-1 0h1.6m-1 0h1.6m-2 0h1.6m-1 0h1.6m-2 0h1.6m2 0h1.6m-1 0h1.6m-1 0h1.6m-1 0h1.6m-1 0h1.6m0 0h1.6m0 0h1.6m-2 0h1.6m-1 0h1.6m0 0h1.6m-1 0h1.6m-1 0h1.6m-1 0h1.6m-1 0h1.6m-1 0h1.6m0 0h1.6m-1 0h1.6m-1 0h1.6m-1 0h1.6m-1 0h1.6m0 0h1.6m0 0h1.6m-1 0h1.6m-1 0h1.6m-1 0h1.6m0 0h1.6m0 0h1.6m-2 0h1.6m0 0h1.6m14 0h1.6m-1 0h1.6m-1 0h1.6m-2 0h1.6m-1 0h1.6m-1 0h1.6m-2 0h1.6m0 0h1.6m-1 0h1.6m-1 0h1.6m-2 0h1.6m-1 0h1.6m-1 0h1.6m-1 0h1.6m0 0h1.6m-2 0h1.6m-1 0h1.6m-2 0h1.6m0 0h1.6m-2 0h1.6m0 0h1.6m1 0h1.6m-1 0h1.6m-1 0h1.6m-1 0h1.6m-2 0h1.6m-1 0h1.6m1 0h1.6m-1 0h1.6m0 0h1.6m-2 0h1.6m-1 0h1.6m-1 0h1.6m-1 0h1.6m-1 0h1.6m0 0h1.6m1 0h1.6m-1 0h1.6m4 0h1.6m-1 0h1.6m3 0h1.6m-1 0h1.6m-2 0h1.6m-1 0h1.6m-1 0h1.6m0 0h1.6m-1 0h1.6m0 0h1.6m-1 0h1.6m-1 0h1.6m-1 0h1.6m-1 0h1.6m-1 0h1.6m-1 0h1.6m-1 0h1.6m0 0h1.6m-1 0h1.6m-2 0h1.6m14 0h1.6m-2 0h1.6m2 0h1.6m-1 0h1.6m-2 0h1.6m2 0h1.6m-2 0h1.6m-1 0h1.6m-1 0h1.6m-1 0h1.6m-1 0h1.6m0 0h1.6m-1 0h1.6m-1 0h1.6m-1 0h1.6m0 0h1.6m-2 0h1.6m-1 0h1.6m-1 0h1.6m-1 0h1.6m0 0h1.6m0 0h1.6m-2 0h1.6m1 0h1.6m0 0h1.6m0 0h1.6m-2 0h1.6m-1 0h1.6m-1 0h1.6m-2 0h1.6m-1 0h1.6m-1 0h1.6m-1 0h1.6m-1 0h1.6m0 0h1.6m2 0h1.6m0 0h1.6m-1 0h1.6m-1 0h1.6m-2 0h1.6m0 0h1.6m-1 0h1.6m-1 0h1.6m-1 0h1.6m-2 0h1.6m-1 0h1.6m0 0h1.6m-1 0h1.6m1 0h1.6m-1 0h1.6m-1 0h1.6m-1 0h1.6m-1 0h1.6m-1 0h1.6m1 0h1.6m-1 0h1.6m-1 0h1.6m-1 0h1.6m-305 4.7h1.6m6 0h1.6m0 0h1.6m0 0h1.6m4 0h1.6m1 0h1.6m4 0h1.6m7 0h1.6m-1 0h1.6m-1 0h1.6m-1 0h1.6m1 0h1.6m-1 0h1.6m-2 0h1.6m5 0h1.6m13 0h1.6m0 0h1.6m2 0h1.6m1 0h1.6m0 0h1.6m0 0h1.6m2 0h1.6m1 0h1.6m-2 0h1.6m-1 0h1.6m0 0h1.6m-1 0h1.6m0 0h1.6m2 0h1.6m0 0h1.6m-1 0h1.6m-1 0h1.6m0 0h1.6m-1 0h1.6m-1 0h1.6m-2 0h1.6m1 0h1.6m2 0h1.6m0 0h1.6m-1 0h1.6m1 0h1.6m-1 0h1.6m-1 0h1.6m3 0h1.6m1 0h1.6m14 0h1.6m2 0h1.6m0 0h1.6m-2 0h1.6m-1 0h1.6m-1 0h1.6m1 0h1.6m-1 0h1.6m0 0h1.6m0 0h1.6m-1 0h1.6m0 0h1.6m-1 0h1.6m-2 0h1.6m-1 0h1.6m-1 0h1.6m-1 0h1.6m-1 0h1.6m-1 0h1.6m-1 0h1.6m-2 0h1.6m-1 0h1.6m-1 0h1.6m-1 0h1.6m-2 0h1.6m0 0h1.6m0 0h1.6m-1 0h1.6m-2 0h1.6m-1 0h1.6m0 0h1.6m0 0h1.6m-2 0h1.6m-1 0h1.6m2 0h1.6m-2 0h1.6m-1 0h1.6m-1 0h1.6m-1 0h1.6m1 0h1.6m-1 0h1.6m-1 0h1.6m-2 0h1.6m-1 0h1.6m0 0h1.6m0 0h1.6m-1 0h1.6m-1 0h1.6m-1 0h1.6m-1 0h1.6m-1 0h1.6m-1 0h1.6m-1 0h1.6m-1 0h1.6m-1 0h1.6m0 0h1.6m0 0h1.6m0 0h1.6m15 0h1.6m-2 0h1.6m-1 0h1.6m-1 0h1.6m-1 0h1.6m-1 0h1.6m-1 0h1.6m-1 0h1.6m-2 0h1.6m0 0h1.6m1 0h1.6m0 0h1.6m-1 0h1.6m-1 0h1.6m-2 0h1.6m-1 0h1.6m-1 0h1.6m0 0h1.6m-1 0h1.6m0 0h1.6m-1 0h1.6m-2 0h1.6m0 0h1.6m-1 0h1.6m0 0h1.6m-1 0h1.6m-1 0h1.6m-1 0h1.6m-2 0h1.6m-1 0h1.6m-1 0h1.6m-2 0h1.6m-1 0h1.6m0 0h1.6m0 0h1.6m-1 0h1.6m-1 0h1.6m-2 0h1.6m-1 0h1.6m2 0h1.6m-2 0h1.6m-1 0h1.6m2 0h1.6m-1 0h1.6m0 0h1.6m-1 0h1.6m-1 0h1.6m0 0h1.6m0 0h1.6m-2 0h1.6m-1 0h1.6m-1 0h1.6m-2 0h1.6m2 0h1.6m0 0h1.6m-1 0h1.6m-2 0h1.6m0 0h1.6m0 0h1.6m-1 0h1.6m12 0h1.6m-1 0h1.6m-1 0h1.6m-1 0h1.6m0 0h1.6m-1 0h1.6m-1 0h1.6m-2 0h1.6m-1 0h1.6m-1 0h1.6m0 0h1.6m-1 0h1.6m-1 0h1.6m-1 0h1.6m-1 0h1.6m-1 0h1.6m-2 0h1.6m0 0h1.6m-1 0h1.6m-1 0h1.6m-2 0h1.6m-1 0h1.6m0 0h1.6m-2 0h1.6m0 0h1.6m0 0h1.6m1 0h1.6m0 0h1.6m0 0h1.6m-2 0h1.6m-1 0h1.6m0 0h1.6m-1 0h1.6m0 0h1.6m-1 0h1.6m-2 0h1.6m1 0h1.6m2 0h1.6m-2 0h1.6m-1 0h1.6m-1 0h1.6m-2 0h1.6m-1 0h1.6m1 0h1.6m-2 0h1.6m-2 0h1.6m-1 0h1.6m2 0h1.6m-1 0h1.6m-1 0h1.6m-1 0h1.6m-1 0h1.6m-1 0h1.6m-1 0h1.6m-1 0h1.6m-2 0h1.6m0 0h1.6m-2 0h1.6m-1 0h1.6m3 0h1.6m-310 5.6h1.6m0 0h1.6m-1 0h1.6m-1 0h1.6m-1 0h1.6m2 0h1.6m7 0h1.6m-2 0h1.6m1 0h1.6m1 0h1.6m2 0h1.6m-1 0h1.6m-1 0h1.6m-2 0h1.6m5 0h1.6m2 0h1.6m1 0h1.6m0 0h1.6m4 0h1.6m2 0h1.6m14 0h1.6m0 0h1.6m-2 0h1.6m0 0h1.6m1 0h1.6m-1 0h1.6m0 0h1.6m0 0h1.6m-1 0h1.6m1 0h1.6m0 0h1.6m1 0h1.6m-1 0h1.6m0 0h1.6m0 0h1.6m1 0h1.6m-1 0h1.6m0 0h1.6m-1 0h1.6m-1 0h1.6m-1 0h1.6m-1 0h1.6m3 0h1.6m-1 0h1.6m0 0h1.6m0 0h1.6m-2 0h1.6m0 0h1.6m4 0h1.6m-1 0h1.6m-1 0h1.6m-1 0h1.6m-2 0h1.6m-1 0h1.6m0 0h1.6m0 0h1.6m-1 0h1.6m-2 0h1.6m-1 0h1.6m0 0h1.6m17 0h1.6m-1 0h1.6m0 0h1.6m-2 0h1.6m0 0h1.6m0 0h1.6m0 0h1.6m-2 0h1.6m-1 0h1.6m-1 0h1.6m-1 0h1.6m-1 0h1.6m-1 0h1.6m0 0h1.6m-1 0h1.6m1 0h1.6m0 0h1.6m-2 0h1.6m-1 0h1.6m-1 0h1.6m-2 0h1.6m-1 0h1.6m-1 0h1.6m0 0h1.6m-1 0h1.6m-1 0h1.6m-1 0h1.6m-2 0h1.6m-1 0h1.6m-1 0h1.6m3 0h1.6m-1 0h1.6m-1 0h1.6m-1 0h1.6m-2 0h1.6m-1 0h1.6m-1 0h1.6m-2 0h1.6m-1 0h1.6m-1 0h1.6m-2 0h1.6m1 0h1.6m1 0h1.6m-1 0h1.6m-1 0h1.6m-1 0h1.6m-2 0h1.6m0 0h1.6m0 0h1.6m0 0h1.6m-1 0h1.6m-2 0h1.6m-1 0h1.6m1 0h1.6m-1 0h1.6m-1 0h1.6m-2 0h1.6m-1 0h1.6m-1 0h1.6m0 0h1.6m13 0h1.6m-2 0h1.6m0 0h1.6m-1 0h1.6m-1 0h1.6m-2 0h1.6m2 0h1.6m0 0h1.6m-1 0h1.6m0 0h1.6m0 0h1.6m-2 0h1.6m-1 0h1.6m-1 0h1.6m-1 0h1.6m-2 0h1.6m-1 0h1.6m-1 0h1.6m-1 0h1.6m-1 0h1.6m-2 0h1.6m-1 0h1.6m0 0h1.6m0 0h1.6m0 0h1.6m0 0h1.6m-1 0h1.6m-1 0h1.6m-1 0h1.6m-1 0h1.6m-1 0h1.6m-1 0h1.6m-1 0h1.6m0 0h1.6m0 0h1.6m-2 0h1.6m1 0h1.6m-1 0h1.6m-2 0h1.6m-1 0h1.6m-1 0h1.6m-1 0h1.6m-2 0h1.6m-1 0h1.6m-1 0h1.6m-1 0h1.6m0 0h1.6m-1 0h1.6m-1 0h1.6m0 0h1.6m-1 0h1.6m-1 0h1.6m-2 0h1.6m0 0h1.6m1 0h1.6m-2 0h1.6m-1 0h1.6m-2 0h1.6m3 0h1.6m-2 0h1.6m-1 0h1.6m-1 0h1.6m14 0h1.6m-1 0h1.6m0 0h1.6m-1 0h1.6m-2 0h1.6m-1 0h1.6m-1 0h1.6m-2 0h1.6m-1 0h1.6m1 0h1.6m-2 0h1.6m-1 0h1.6m-1 0h1.6m-1 0h1.6m-2 0h1.6m0 0h1.6m-1 0h1.6m-2 0h1.6m-1 0h1.6m-1 0h1.6m-2 0h1.6m0 0h1.6m-2 0h1.6m-1 0h1.6m-1 0h1.6m0 0h1.6m-1 0h1.6m-2 0h1.6m0 0h1.6m0 0h1.6m0 0h1.6m0 0h1.6m-2 0h1.6m-1 0h1.6m2 0h1.6m0 0h1.6m-1 0h1.6m-1 0h1.6m-2 0h1.6m-1 0h1.6m-1 0h1.6m0 0h1.6m-1 0h1.6m0 0h1.6m-1 0h1.6m1 0h1.6m-2 0h1.6m-1 0h1.6m0 0h1.6m-1 0h1.6m-2 0h1.6m3 0h1.6m-1 0h1.6m-1 0h1.6m-2 0h1.6m-1 0h1.6m-1 0h1.6m-2 0h1.6m1 0h1.6m-2 0h1.6m2 0h1.6m-1 0h1.6m-308 6.9h1.6m0 0h1.6m2 0h1.6m1 0h1.6m-1 0h1.6m1 0h1.6m0 0h1.6m1 0h1.6m0 0h1.6m-1 0h1.6m3 0h1.6m-1 0h1.6m0 0h1.6m-1 0h1.6m0 0h1.6m-2 0h1.6m0 0h1.6m3 0h1.6m3 0h1.6m0 0h1.6m-1 0h1.6m-1 0h1.6m-1 0h1.6m-1 0h1.6m1 0h1.6m18 0h1.6m0 0h1.6m-1 0h1.6m-2 0h1.6m0 0h1.6m-1 0h1.6m-1 0h1.6m-1 0h1.6m0 0h1.6m-1 0h1.6m0 0h1.6m-1 0h1.6m0 0h1.6m1 0h1.6m-1 0h1.6m-1 0h1.6m-2 0h1.6m-1 0h1.6m-1 0h1.6m-2 0h1.6m0 0h1.6m1 0h1.6m-2 0h1.6m1 0h1.6m-1 0h1.6m-2 0h1.6m-1 0h1.6m0 0h1.6m0 0h1.6m0 0h1.6m-1 0h1.6m-1 0h1.6m-1 0h1.6m-1 0h1.6m-1 0h1.6m0 0h1.6m-1 0h1.6m-2 0h1.6m2 0h1.6m0 0h1.6m0 0h1.6m-1 0h1.6m-1 0h1.6m-1 0h1.6m0 0h1.6m1 0h1.6m-1 0h1.6m0 0h1.6m0 0h1.6m-2 0h1.6m14 0h1.6m0 0h1.6m-2 0h1.6m0 0h1.6m-2 0h1.6m0 0h1.6m-1 0h1.6m0 0h1.6m-1 0h1.6m-1 0h1.6m-2 0h1.6m-2 0h1.6m-1 0h1.6m1 0h1.6m-1 0h1.6m-1 0h1.6m-1 0h1.6m-1 0h1.6m-1 0h1.6m1 0h1.6m2 0h1.6m-1 0h1.6m-1 0h1.6m-1 0h1.6m0 0h1.6m-1 0h1.6m-1 0h1.6m-1 0h1.6m-1 0h1.6m0 0h1.6m-2 0h1.6m-1 0h1.6m-2 0h1.6m-1 0h1.6m-1 0h1.6m-1 0h1.6m0 0h1.6m-1 0h1.6m1 0h1.6m-1 0h1.6m-1 0h1.6m-1 0h1.6m0 0h1.6m-1 0h1.6m-2 0h1.6m0 0h1.6m-2 0h1.6m-1 0h1.6m-1 0h1.6m-1 0h1.6m-2 0h1.6m3 0h1.6m-1 0h1.6m-2 0h1.6m-1 0h1.6m0 0h1.6m-2 0h1.6m-1 0h1.6m-1 0h1.6m-1 0h1.6m-1 0h1.6m-1 0h1.6m14 0h1.6m-1 0h1.6m-1 0h1.6m-1 0h1.6m-1 0h1.6m0 0h1.6m0 0h1.6m1 0h1.6m-1 0h1.6m1 0h1.6m-1 0h1.6m-2 0h1.6m-1 0h1.6m-1 0h1.6m-1 0h1.6m-1 0h1.6m-1 0h1.6m-1 0h1.6m-2 0h1.6m-1 0h1.6m0 0h1.6m0 0h1.6m-1 0h1.6m-1 0h1.6m-2 0h1.6m0 0h1.6m-2 0h1.6m-1 0h1.6m-1 0h1.6m1 0h1.6m-1 0h1.6m1 0h1.6m-2 0h1.6m-1 0h1.6m-2 0h1.6m-1 0h1.6m-1 0h1.6m-2 0h1.6m-1 0h1.6m-1 0h1.6m0 0h1.6m-1 0h1.6m-2 0h1.6m1 0h1.6m-2 0h1.6m-1 0h1.6m-2 0h1.6m-1 0h1.6m1 0h1.6m0 0h1.6m-1 0h1.6m-1 0h1.6m-1 0h1.6m-1 0h1.6m1 0h1.6m-2 0h1.6m0 0h1.6m-1 0h1.6m-1 0h1.6m0 0h1.6m-1 0h1.6m-1 0h1.6m0 0h1.6m-1 0h1.6m12 0h1.6m-1 0h1.6m0 0h1.6m-1 0h1.6m0 0h1.6m0 0h1.6m-2 0h1.6m-1 0h1.6m-2 0h1.6m-1 0h1.6m-1 0h1.6m-1 0h1.6m-1 0h1.6m-1 0h1.6m-2 0h1.6m-1 0h1.6m-1 0h1.6m-2 0h1.6m-1 0h1.6m1 0h1.6m-1 0h1.6m0 0h1.6m0 0h1.6m-1 0h1.6m-1 0h1.6m0 0h1.6m-1 0h1.6m-1 0h1.6m-2 0h1.6m-1 0h1.6m-1 0h1.6m0 0h1.6m-1 0h1.6m-1 0h1.6m-1 0h1.6m-1 0h1.6m0 0h1.6m-2 0h1.6m-1 0h1.6m-1 0h1.6m0 0h1.6m-2 0h1.6m0 0h1.6m-1 0h1.6m-1 0h1.6m-1 0h1.6m-1 0h1.6m1 0h1.6m1 0h1.6m-1 0h1.6m-2 0h1.6m-1 0h1.6m0 0h1.6m-1 0h1.6m-1 0h1.6m-1 0h1.6m0 0h1.6m-1 0h1.6m0 0h1.6m-1 0h1.6m0 0h1.6m-1 0h1.6m-2 0h1.6m0 0h1.6m-309 8.9h1.6m0 0h1.6m0 0h1.6m1 0h1.6m-1 0h1.6m-1 0h1.6m0 0h1.6m-2 0h1.6m-1 0h1.6m-1 0h1.6m-1 0h1.6m-2 0h1.6m0 0h1.6m0 0h1.6m-1 0h1.6m-1 0h1.6m0 0h1.6m-1 0h1.6m1 0h1.6m0 0h1.6m-1 0h1.6m-1 0h1.6m-1 0h1.6m1 0h1.6m0 0h1.6m-1 0h1.6m0 0h1.6m-2 0h1.6m-1 0h1.6m0 0h1.6m0 0h1.6m-1 0h1.6m0 0h1.6m0 0h1.6m0 0h1.6m0 0h1.6m-1 0h1.6m-1 0h1.6m-1 0h1.6m0 0h1.6m-1 0h1.6m-1 0h1.6m1 0h1.6m0 0h1.6m-1 0h1.6m14 0h1.6m-1 0h1.6m-2 0h1.6m1 0h1.6m-2 0h1.6m-1 0h1.6m-1 0h1.6m-1 0h1.6m-1 0h1.6m-2 0h1.6m-1 0h1.6m0 0h1.6m0 0h1.6m-2 0h1.6m-1 0h1.6m0 0h1.6m-2 0h1.6m-1 0h1.6m-1 0h1.6m-2 0h1.6m0 0h1.6m-2 0h1.6m-1 0h1.6m-1 0h1.6m-1 0h1.6m-2 0h1.6m1 0h1.6m-1 0h1.6m0 0h1.6m-1 0h1.6m-2 0h1.6m-1 0h1.6m-1 0h1.6m-1 0h1.6m-2 0h1.6m2 0h1.6m-2 0h1.6m-1 0h1.6m0 0h1.6m-2 0h1.6m-1 0h1.6m0 0h1.6m-2 0h1.6m-1 0h1.6m0 0h1.6m-2 0h1.6m0 0h1.6m-2 0h1.6m-1 0h1.6m-2 0h1.6m1 0h1.6m-1 0h1.6m0 0h1.6m1 0h1.6m-1 0h1.6m-2 0h1.6m1 0h1.6m-1 0h1.6m3 0h1.6m0 0h1.6m-1 0h1.6m0 0h1.6m-1 0h1.6m-1 0h1.6m-1 0h1.6m14 0h1.6m-1 0h1.6m-1 0h1.6m-1 0h1.6m-2 0h1.6m-1 0h1.6m-1 0h1.6m-2 0h1.6m-1 0h1.6m-1 0h1.6m-1 0h1.6m0 0h1.6m0 0h1.6m-1 0h1.6m0 0h1.6m-1 0h1.6m-1 0h1.6m-1 0h1.6m0 0h1.6m-2 0h1.6m-1 0h1.6m-1 0h1.6m-1 0h1.6m0 0h1.6m0 0h1.6m0 0h1.6m-1 0h1.6m-1 0h1.6m0 0h1.6m0 0h1.6m-1 0h1.6m0 0h1.6m-1 0h1.6m0 0h1.6m-2 0h1.6m0 0h1.6m0 0h1.6m-1 0h1.6m-1 0h1.6m-2 0h1.6m0 0h1.6m-1 0h1.6m-1 0h1.6m0 0h1.6m-1 0h1.6m-1 0h1.6m-2 0h1.6m0 0h1.6m-2 0h1.6m-1 0h1.6m-2 0h1.6m-1 0h1.6m0 0h1.6m-2 0h1.6m-1 0h1.6m0 0h1.6m-2 0h1.6m0 0h1.6m-1 0h1.6m1 0h1.6m-1 0h1.6m-1 0h1.6m-2 0h1.6m-1 0h1.6m0 0h1.6m-1 0h1.6m12 0h1.6m-1 0h1.6m0 0h1.6m-2 0h1.6m1 0h1.6m-1 0h1.6m-2 0h1.6m-1 0h1.6m-1 0h1.6m-2 0h1.6m-1 0h1.6m0 0h1.6m-1 0h1.6m0 0h1.6m-1 0h1.6m-1 0h1.6m1 0h1.6m-2 0h1.6m-1 0h1.6m-1 0h1.6m1 0h1.6m-2 0h1.6m-1 0h1.6m0 0h1.6m-1 0h1.6m-1 0h1.6m-1 0h1.6m-1 0h1.6m2 0h1.6m-2 0h1.6m-1 0h1.6m0 0h1.6m-2 0h1.6m0 0h1.6m-2 0h1.6m0 0h1.6m-1 0h1.6m-1 0h1.6m-1 0h1.6m-2 0h1.6m-1 0h1.6m-2 0h1.6m-1 0h1.6m1 0h1.6m0 0h1.6m-1 0h1.6m-1 0h1.6m0 0h1.6m-1 0h1.6m1 0h1.6m-1 0h1.6m-1 0h1.6m-1 0h1.6m-2 0h1.6m-1 0h1.6m-1 0h1.6m-1 0h1.6m-2 0h1.6m-1 0h1.6m-1 0h1.6m-1 0h1.6m-1 0h1.6m-1 0h1.6m0 0h1.6m0 0h1.6m-1 0h1.6m12 0h1.6m-1 0h1.6m-1 0h1.6m-2 0h1.6m-1 0h1.6m-1 0h1.6m-1 0h1.6m-1 0h1.6m-1 0h1.6m-1 0h1.6m1 0h1.6m-1 0h1.6m0 0h1.6m-2 0h1.6m0 0h1.6m-1 0h1.6m-1 0h1.6m-1 0h1.6m0 0h1.6m-2 0h1.6m-1 0h1.6m0 0h1.6m-1 0h1.6m-1 0h1.6m-1 0h1.6m-1 0h1.6m0 0h1.6m-1 0h1.6m-1 0h1.6m-1 0h1.6m-2 0h1.6m0 0h1.6m-2 0h1.6m0 0h1.6m-1 0h1.6m-1 0h1.6m-1 0h1.6m-1 0h1.6m-1 0h1.6m-1 0h1.6m0 0h1.6m-1 0h1.6m-2 0h1.6m-1 0h1.6m-1 0h1.6m1 0h1.6m-1 0h1.6m-1 0h1.6m-1 0h1.6m-1 0h1.6m-1 0h1.6m-2 0h1.6m-1 0h1.6m0 0h1.6m2 0h1.6m-1 0h1.6m-1 0h1.6m-1 0h1.6m0 0h1.6m-1 0h1.6m-2 0h1.6m1 0h1.6m0 0h1.6m-2 0h1.6m-1 0h1.6m-1 0h1.6m-309 12.5h1.6m-1 0h1.6m-1 0h1.6m-1 0h1.6m2 0h1.6m-2 0h1.6m-1 0h1.6m-1 0h1.6m-1 0h1.6m-1 0h1.6m-2 0h1.6m0 0h1.6m-2 0h1.6m0 0h1.6m0 0h1.6m0 0h1.6m-1 0h1.6m-2 0h1.6m-1 0h1.6m1 0h1.6m-1 0h1.6m-2 0h1.6m1 0h1.6m-1 0h1.6m1 0h1.6m-1 0h1.6m-1 0h1.6m-1 0h1.6m-1 0h1.6m-2 0h1.6m-1 0h1.6m-1 0h1.6m-2 0h1.6m-1 0h1.6m-1 0h1.6m0 0h1.6m-1 0h1.6m-2 0h1.6m-1 0h1.6m-1 0h1.6m0 0h1.6m-1 0h1.6m-2 0h1.6m-1 0h1.6m1 0h1.6m0 0h1.6m-1 0h1.6m-1 0h1.6m0 0h1.6m-2 0h1.6m0 0h1.6m0 0h1.6m-1 0h1.6m0 0h1.6m-1 0h1.6m-1 0h1.6m-1 0h1.6m-2 0h1.6m-1 0h1.6m0 0h1.6m211 21.3h1.6m-1 0h1.6m-2 0h1.6m1 0h1.6m-1 0h1.6m-1 0h1.6m-2 0h1.6m1 0h1.6m-2 0h1.6m0 0h1.6m-1 0h1.6m-1 0h1.6m0 0h1.6m6 0h1.6m-2 0h1.6m1 0h1.6m-1 0h1.6m1 0h1.6m0 0h1.6m0 0h1.6m-1 0h1.6m-1 0h1.6m1 0h1.6m-1 0h1.6m-2 0h1.6m0 0h1.6m1 0h1.6m-2 0h1.6m0 0h1.6m-2 0h1.6m-1 0h1.6m-1 0h1.6m1 0h1.6m-1 0h1.6m-1 0h1.6m-1 0h1.6m1 0h1.6m-2 0h1.6m1 0h1.6m0 0h1.6" stroke="#111" stroke-width="2" fill="none"/>
<path d="M1558.4 788.6h51M1623 788.6h51M1623 767.3h51M1688.1 788.6h51M1688.1 767.3h51M1752.7 788.6h51M1752.7 767.3h51M1816.9 767.3h51" stroke="#111" stroke-width="2.3" fill="none"/>
<text x="1536" y="793.1" font-size="24" text-anchor="end">0</text>
<text x="1536" y="762.3" font-size="24" text-anchor="end">1</text>
<text x="1536" y="731.5" font-size="24" text-anchor="end">2</text>
<text x="1536" y="700.7" font-size="24" text-anchor="end">3</text>
<text x="1536" y="669.9" font-size="24" text-anchor="end">4</text>
<path d="M1546 653.5V795H1882M1542 788.6H1546M1542 757.8H1546M1542 727H1546M1542 696.2H1546M1542 665.4H1546M1583.9 795V800M1648.5 795V800M1713.6 795V800M1778.2 795V800M1842.4 795V800" stroke="#222" stroke-width="1.6" fill="none"/>
<text x="242.7" y="872.5" font-size="28.5" text-anchor="middle" font-style="italic">Myrfl</text>
<path d="M116 1016.3V943.5" stroke="#222" stroke-width="1.2"/><path d="M179 1016.3V924.3" stroke="#222" stroke-width="1.2"/><path d="M242 1016.3V924.3" stroke="#222" stroke-width="1.2"/><path d="M305.2 1016.3V924.3" stroke="#222" stroke-width="1.2"/><path d="M368.2 1016.3V887.2" stroke="#222" stroke-width="1.2"/>
<path d="M392 887.5h1.6m-15 10.2h1.6m-222 26.8h1.6m16 0h1.6m-1 0h1.6m47 0h1.6m-1 0h1.6m-1 0h1.6m9 0h1.6m42 0h1.6m1 0h1.6m1 0h1.6m2 0h1.6m8 0h1.6m-1 0h1.6m1 0h1.6m3 0h1.6m-1 0h1.6m0 0h1.6m-1 0h1.6m0 0h1.6m0 0h1.6m-1 0h1.6m0 0h1.6m-1 0h1.6m-1 0h1.6m0 0h1.6m6 0h1.6m1 0h1.6m24 0h1.6m4 0h1.6m1 0h1.6m4 0h1.6m3 0h1.6m6 0h1.6m1 0h1.6m6 0h1.6m-280 19.1h1.6m-1 0h1.6m4 0h1.6m41 0h1.6m-2 0h1.6m3 0h1.6m9 0h1.6m0 0h1.6m5 0h1.6m-1 0h1.6m3 0h1.6m1 0h1.6m10 0h1.6m12 0h1.6m0 0h1.6m2 0h1.6m1 0h1.6m1 0h1.6m0 0h1.6m-1 0h1.6m-2 0h1.6m0 0h1.6m0 0h1.6m0 0h1.6m0 0h1.6m1 0h1.6m-1 0h1.6m0 0h1.6m0 0h1.6m-1 0h1.6m-1 0h1.6m0 0h1.6m2 0h1.6m-1 0h1.6m-1 0h1.6m-1 0h1.6m-1 0h1.6m-1 0h1.6m-1 0h1.6m0 0h1.6m-2 0h1.6m2 0h1.6m0 0h1.6m-1 0h1.6m0 0h1.6m-1 0h1.6m-1 0h1.6m-2 0h1.6m-1 0h1.6m0 0h1.6m-1 0h1.6m1 0h1.6m-1 0h1.6m11 0h1.6m-1 0h1.6m-2 0h1.6m0 0h1.6m0 0h1.6m-1 0h1.6m-1 0h1.6m-1 0h1.6m-1 0h1.6m-1 0h1.6m-1 0h1.6m-1 0h1.6m-1 0h1.6m0 0h1.6m-1 0h1.6m-2 0h1.6m-1 0h1.6m-2 0h1.6m0 0h1.6m-1 0h1.6m-1 0h1.6m0 0h1.6m-1 0h1.6m1 0h1.6m-1 0h1.6m-1 0h1.6m-1 0h1.6m0 0h1.6m-1 0h1.6m1 0h1.6m-1 0h1.6m-1 0h1.6m-1 0h1.6m-1 0h1.6m-1 0h1.6m-1 0h1.6m0 0h1.6m1 0h1.6m-1 0h1.6m-2 0h1.6m0 0h1.6m-1 0h1.6m-1 0h1.6m-1 0h1.6m-1 0h1.6m-2 0h1.6m-1 0h1.6m-1 0h1.6m-2 0h1.6m0 0h1.6m-1 0h1.6m-2 0h1.6m3 0h1.6m-1 0h1.6m-1 0h1.6m-1 0h1.6m-1 0h1.6m-1 0h1.6m-2 0h1.6m-1 0h1.6m-1 0h1.6m-1 0h1.6m0 0h1.6m-1 0h1.6m-2 0h1.6m14 0h1.6m-1 0h1.6m-1 0h1.6m-1 0h1.6m0 0h1.6m-2 0h1.6m-1 0h1.6m-1 0h1.6m-1 0h1.6m-1 0h1.6m-1 0h1.6m-1 0h1.6m0 0h1.6m-1 0h1.6m-2 0h1.6m-1 0h1.6m-1 0h1.6m-1 0h1.6m3 0h1.6m-1 0h1.6m-1 0h1.6m-2 0h1.6m1 0h1.6m-1 0h1.6m0 0h1.6m0 0h1.6m-2 0h1.6m-1 0h1.6m2 0h1.6m-2 0h1.6m-1 0h1.6m0 0h1.6m-1 0h1.6m0 0h1.6m-2 0h1.6m-1 0h1.6m-2 0h1.6m0 0h1.6m-2 0h1.6m0 0h1.6m-1 0h1.6m-1 0h1.6m-1 0h1.6m-1 0h1.6m-2 0h1.6m-1 0h1.6m-1 0h1.6m-2 0h1.6m0 0h1.6m0 0h1.6m-1 0h1.6m0 0h1.6m-2 0h1.6m-1 0h1.6m-1 0h1.6m-1 0h1.6m-1 0h1.6m-2 0h1.6m0 0h1.6m2 0h1.6m-303 26.8h1.6m-1 0h1.6m0 0h1.6m-1 0h1.6m1 0h1.6m-1 0h1.6m0 0h1.6m0 0h1.6m-2 0h1.6m0 0h1.6m-1 0h1.6m-1 0h1.6m-1 0h1.6m0 0h1.6m1 0h1.6m-1 0h1.6m1 0h1.6m-1 0h1.6m0 0h1.6m0 0h1.6m-1 0h1.6m0 0h1.6m1 0h1.6m-2 0h1.6m1 0h1.6m-2 0h1.6m0 0h1.6m-1 0h1.6m-1 0h1.6m-1 0h1.6m2 0h1.6m-1 0h1.6m-1 0h1.6m-1 0h1.6m2 0h1.6m1 0h1.6m0 0h1.6m-1 0h1.6m-1 0h1.6m0 0h1.6" stroke="#111" stroke-width="2" fill="none"/>
<path d="M90.5 1016.3h51M153.5 1016.3h51M153.5 970.4h51M216.5 1016.3h51M216.5 970.4h51M279.7 1016.3h51M279.7 970.4h51M342.7 1016.3h51M342.7 970.4h51" stroke="#111" stroke-width="2.3" fill="none"/>
<text x="68.4" y="1020.8" font-size="24" text-anchor="end">0</text>
<text x="68.4" y="954.6" font-size="24" text-anchor="end">1</text>
<text x="68.4" y="888.4" font-size="24" text-anchor="end">2</text>
<path d="M78.4 882V1023H406.4M74.4 1016.3H78.4M74.4 950.1H78.4M74.4 883.9H78.4M74.4 983.2H78.4M74.4 917H78.4M116 1023V1028M179 1023V1028M242 1023V1028M305.2 1023V1028M368.2 1023V1028" stroke="#222" stroke-width="1.6" fill="none"/>
<text x="116" y="1066" font-size="27.5" text-anchor="middle">A</text>
<text x="179" y="1066" font-size="27.5" text-anchor="middle">B</text>
<text x="242" y="1066" font-size="27.5" text-anchor="middle">C</text>
<text x="305.2" y="1066" font-size="27.5" text-anchor="middle">D</text>
<text x="368.2" y="1066" font-size="27.5" text-anchor="middle">E</text>
<text x="616" y="872.5" font-size="28.5" text-anchor="middle" font-style="italic">Nr1h4</text>
<path d="M513.3 1016.3l-0.3-1-2.7-1.9-18.9-7.7-3.9-2.9-1.8-2.9-0.2-11.6 0.6-2 2.5-3.8 5.8-5.8 1.4-2.9-0.8-2.9-6.5-6.8-2.1-3.9-0.4-3.8 0.9-8.7-1.3-9.7-0.1-7.7-1.2 0-0.1 7.7-1.2 8.7-0.1 2.9 0.9 7.7-0.4 2.9-2.1 3.9-6.5 6.8-0.8 2.9 1.4 2.9 5.8 5.8 2.5 3.8 0.6 2-0.2 11.6-1.8 2.9-3.9 2.9-18.9 7.7-2.7 1.9-0.3 1z" fill="#f8766d" stroke="#222" stroke-width="1.1"/><path d="M576.2 1016.3l-0.3-1-2.7-1.9-18.9-7.7-3.9-2.9-1.8-2.9-0.2-11.6 0.5-2 2.2-3.8 5-5.8 1.2-2.9-0.7-2.9-6.3-7.8-1.5-3.8-0.1-2.9 0.6-8.7-0.9-9.7 0-7.7-1.2 0 0 7.7-0.9 9.7 0.6 8.7-0.3 3.8-1.9 3.9-5.7 6.8-0.7 2.9 1.2 2.9 5 5.8 2.2 3.8 0.5 2-0.2 11.6-1.8 2.9-3.9 2.9-18.9 7.7-2.7 1.9-0.3 1z" fill="#f9aa3c" stroke="#222" stroke-width="1.1"/><path d="M611 1016.3V930.3" stroke="#222" stroke-width="1.2"/><path d="M674 1016.3V916.6" stroke="#222" stroke-width="1.2"/><path d="M765.4 1016.3l-0.9-1.5-2.4-1.6-18.7-7.6-4-3.1-1.7-3-0.1-12.3 1.9-4.6 4.3-6.1 0.9-3-0.9-3.1-3.9-6.1-0.9-3.1 0.5-3 4.7-7.7 0.4-3.1-3.7-9.1 0.5-9.2-1.1-7.7-1.3-15.3-1.4-26-1.2 0-1.4 26-1.3 15.3-1.1 7.7 0.5 9.2-3.7 9.1 0.4 3.1 3.9 6.1 1.2 3.1 0.1 1.5-0.9 3.1-3.9 6.1-0.9 3.1 0.9 3 4.3 6.1 1.9 4.6-0.1 12.3-1.7 3-4 3.1-18.7 7.6-2.4 1.6-0.9 1.5z" fill="#b987f6" stroke="#222" stroke-width="1.1"/>
<path d="M754 880.3h1.6m1 0h1.6m-39 15.5h1.6m9 0h1.6m16 0h1.6m-35 9.6h1.6m-1 0h1.6m-1 0h1.6m0 0h1.6m3 0h1.6m1 0h1.6m3 0h1.6m-2 0h1.6m0 0h1.6m4 0h1.6m0 0h1.6m-1 0h1.6m0 0h1.6m1 0h1.6m-1 0h1.6m-1 0h1.6m0 0h1.6m-1 0h1.6m0 0h1.6m2 0h1.6m-1 0h1.6m-1 0h1.6m0 0h1.6m4 0h1.6m1 0h1.6m-99 11.3h1.6m3 0h1.6m15 0h1.6m5 0h1.6m18 0h1.6m0 0h1.6m-2 0h1.6m-1 0h1.6m-2 0h1.6m3 0h1.6m0 0h1.6m-1 0h1.6m-1 0h1.6m-1 0h1.6m-1 0h1.6m0 0h1.6m0 0h1.6m-1 0h1.6m0 0h1.6m0 0h1.6m-1 0h1.6m1 0h1.6m1 0h1.6m0 0h1.6m-1 0h1.6m-2 0h1.6m-2 0h1.6m-1 0h1.6m-1 0h1.6m-1 0h1.6m-2 0h1.6m-1 0h1.6m-1 0h1.6m1 0h1.6m-2 0h1.6m-1 0h1.6m-1 0h1.6m-1 0h1.6m-1 0h1.6m0 0h1.6m0 0h1.6m-1 0h1.6m-2 0h1.6m-1 0h1.6m-1 0h1.6m0 0h1.6m-1 0h1.6m1 0h1.6m-2 0h1.6m-1 0h1.6m-2 0h1.6m0 0h1.6m-1 0h1.6m0 0h1.6m-1 0h1.6m-1 0h1.6m1 0h1.6m-2 0h1.6m0 0h1.6m-294 13.8h1.6m102 0h1.6m13 0h1.6m5 0h1.6m0 0h1.6m3 0h1.6m0 0h1.6m1 0h1.6m-1 0h1.6m0 0h1.6m1 0h1.6m5 0h1.6m8 0h1.6m1 0h1.6m5 0h1.6m0 0h1.6m-2 0h1.6m12 0h1.6m1 0h1.6m3 0h1.6m0 0h1.6m3 0h1.6m7 0h1.6m2 0h1.6m0 0h1.6m-2 0h1.6m17 0h1.6m-1 0h1.6m0 0h1.6m-232 17.8h1.6m5 0h1.6m-1 0h1.6m0 0h1.6m3 0h1.6m0 0h1.6m0 0h1.6m0 0h1.6m1 0h1.6m4 0h1.6m1 0h1.6m4 0h1.6m21 0h1.6m0 0h1.6m0 0h1.6m-1 0h1.6m2 0h1.6m-2 0h1.6m0 0h1.6m-1 0h1.6m2 0h1.6m1 0h1.6m0 0h1.6m-1 0h1.6m-1 0h1.6m-1 0h1.6m1 0h1.6m-1 0h1.6m6 0h1.6m-2 0h1.6m3 0h1.6m-1 0h1.6m0 0h1.6m9 0h1.6m-1 0h1.6m0 0h1.6m-2 0h1.6" stroke="#111" stroke-width="2" fill="none"/>
<path d="M459.4 1016.3h51M459.4 973.4h51M522.3 1016.3h51M522.3 973.4h51M585.5 1016.3h51M585.5 973.4h51M585.5 948.3h51M648.5 1016.3h51M648.5 973.4h51M648.5 948.3h51M711.5 1016.3h51M711.5 973.4h51M711.5 948.3h51M711.5 930.5h51" stroke="#111" stroke-width="2.3" fill="none"/>
<text x="437" y="1020.8" font-size="24" text-anchor="end">0</text>
<text x="437" y="958.9" font-size="24" text-anchor="end">1</text>
<text x="437" y="897" font-size="24" text-anchor="end">2</text>
<path d="M447 882V1023H775M443 1016.3H447M443 954.4H447M443 892.5H447M443 985.3H447M443 923.4H447M484.9 1023V1028M547.8 1023V1028M611 1023V1028M674 1023V1028M737 1023V1028" stroke="#222" stroke-width="1.6" fill="none"/>
<text x="484.9" y="1066" font-size="27.5" text-anchor="middle">A</text>
<text x="547.8" y="1066" font-size="27.5" text-anchor="middle">B</text>
<text x="611" y="1066" font-size="27.5" text-anchor="middle">C</text>
<text x="674" y="1066" font-size="27.5" text-anchor="middle">D</text>
<text x="737" y="1066" font-size="27.5" text-anchor="middle">E</text>
<text x="984" y="872.5" font-size="28.5" text-anchor="middle" font-style="italic">Plscr1</text>
<path d="M882.4 1016.3l-0.5-1-3.4-2-14.5-5.1-4.5-2-2.8-2-2-3.1-0.1-9.1 0.9-3 2.5-3 7.4-6.1 1-2-0.1-1-1.2-2.1-8.4-7-1.2-2.1-0.7-2-0.2-37.4-1.2 0 0 35.4-0.5 3-0.9 2-1.7 2.1-7.4 6-1.2 2.1-0.1 1 1 2 7.4 6.1 2.5 3 0.9 3-0.1 9.1-2 3.1-2.8 2-4.5 2-14.5 5.1-3.4 2-0.5 1z" fill="#f8766d" stroke="#222" stroke-width="1.1"/><path d="M945.3 1016.3l-0.3-0.9-2.7-1.7-18.9-7-3.9-2.6-1.8-2.6-0.2-10.5 0.6-1.8 2.4-3.5 5.7-5.2 1.3-2.6-0.8-2.6-6.2-6.1-2-3.5-0.3-2.7 1.4-6.1 0.1-2.6-2-9.6-0.2-6.1-1.2 0-0.2 6.1-2 9.6 0.1 2.6 1.4 6.1-0.3 2.7-2 3.5-6.2 6.1-0.8 2.6 1.3 2.6 5.7 5.2 2.4 3.5 0.6 1.8-0.2 10.5-1.8 2.6-3.9 2.6-18.9 7-2.7 1.7-0.3 0.9z" fill="#f9aa3c" stroke="#222" stroke-width="1.1"/><path d="M980 1016.3V926.3" stroke="#222" stroke-width="1.2"/><path d="M1043 1016.3V938.6" stroke="#222" stroke-width="1.2"/><path d="M1134 1016.3l-0.9-1.4-2.7-1.5-12.5-4.3-6.8-2.9-3.6-2.9-1.3-2.9 0.3-11.5 1.3-2.9 3.8-5.8 0.7-2.9-1-2.9-3.6-5.8-0.7-2.9 0.4-2.9 2.3-5.7 0.3-2.9-2.3-7.2-0.5-2.9-1-26 0-30.4-1.2 0 0 30.4-1 26-0.5 2.9-2.3 7.2 0.3 2.9 2.3 5.7 0.4 2.9-0.7 2.9-3.6 5.8-1 2.9 0.7 2.9 3.8 5.8 1.3 2.9 0.3 11.5-1.3 2.9-3.6 2.9-6.8 2.9-12.5 4.3-2.7 1.5-0.9 1.4z" fill="#b987f6" stroke="#222" stroke-width="1.1"/>
<path d="M1082 887.6h1.6m-3 19.9h1.6m13 0h1.6m28 0h1.6m0 0h1.6m-46 8.6h1.6m5 0h1.6m11 0h1.6m-1 0h1.6m10 0h1.6m4 0h1.6m-265 10.2h1.6m97 0h1.6m6 0h1.6m11 0h1.6m9 0h1.6m95 0h1.6m0 0h1.6m-1 0h1.6m6 0h1.6m0 0h1.6m1 0h1.6m-1 0h1.6m1 0h1.6m-2 0h1.6m0 0h1.6m-1 0h1.6m0 0h1.6m-2 0h1.6m8 0h1.6m3 0h1.6m-285 12.5h1.6m8 0h1.6m2 0h1.6m44 0h1.6m2 0h1.6m2 0h1.6m1 0h1.6m14 0h1.6m-1 0h1.6m3 0h1.6m2 0h1.6m1 0h1.6m-2 0h1.6m5 0h1.6m-1 0h1.6m19 0h1.6m1 0h1.6m2 0h1.6m1 0h1.6m7 0h1.6m3 0h1.6m6 0h1.6m5 0h1.6m5 0h1.6m0 0h1.6m25 0h1.6m2 0h1.6m3 0h1.6m2 0h1.6m4 0h1.6m0 0h1.6m-1 0h1.6m9 0h1.6m1 0h1.6m3 0h1.6m-1 0h1.6m0 0h1.6m12 0h1.6m1 0h1.6m-1 0h1.6m-1 0h1.6m-1 0h1.6m-1 0h1.6m-2 0h1.6m0 0h1.6m1 0h1.6m-1 0h1.6m-2 0h1.6m-1 0h1.6m-1 0h1.6m0 0h1.6m0 0h1.6m0 0h1.6m-2 0h1.6m-1 0h1.6m-1 0h1.6m-2 0h1.6m-1 0h1.6m-1 0h1.6m-1 0h1.6m0 0h1.6m-1 0h1.6m3 0h1.6m2 0h1.6m-2 0h1.6m-1 0h1.6m-1 0h1.6m-1 0h1.6m0 0h1.6m-1 0h1.6m3 0h1.6m0 0h1.6m-1 0h1.6m-1 0h1.6m0 0h1.6m-2 0h1.6m1 0h1.6m-1 0h1.6m0 0h1.6m0 0h1.6m0 0h1.6m1 0h1.6m-302 16.1h1.6m0 0h1.6m15 0h1.6m3 0h1.6m-1 0h1.6m3 0h1.6m0 0h1.6m1 0h1.6m-2 0h1.6m2 0h1.6m6 0h1.6m-1 0h1.6m16 0h1.6m-1 0h1.6m-2 0h1.6m1 0h1.6m-1 0h1.6m-2 0h1.6m1 0h1.6m1 0h1.6m-1 0h1.6m-1 0h1.6m-1 0h1.6m-2 0h1.6m-1 0h1.6m0 0h1.6m0 0h1.6m1 0h1.6m-2 0h1.6m-1 0h1.6m-2 0h1.6m1 0h1.6m-1 0h1.6m-1 0h1.6m-1 0h1.6m-1 0h1.6m-1 0h1.6m-2 0h1.6m0 0h1.6m-2 0h1.6m1 0h1.6m-1 0h1.6m-1 0h1.6m-1 0h1.6m-1 0h1.6m-1 0h1.6m-2 0h1.6m0 0h1.6m-1 0h1.6m-1 0h1.6m0 0h1.6m-1 0h1.6m2 0h1.6m-1 0h1.6m-2 0h1.6m-1 0h1.6m1 0h1.6m-1 0h1.6m0 0h1.6m-1 0h1.6m-1 0h1.6m0 0h1.6m1 0h1.6m-1 0h1.6m0 0h1.6m-2 0h1.6m0 0h1.6m12 0h1.6m-1 0h1.6m-2 0h1.6m-1 0h1.6m1 0h1.6m0 0h1.6m0 0h1.6m0 0h1.6m2 0h1.6m0 0h1.6m0 0h1.6m-1 0h1.6m1 0h1.6m0 0h1.6m-1 0h1.6m-1 0h1.6m-1 0h1.6m-1 0h1.6m0 0h1.6m-1 0h1.6m1 0h1.6m-1 0h1.6m0 0h1.6m-1 0h1.6m-2 0h1.6m-1 0h1.6m-1 0h1.6m-1 0h1.6m0 0h1.6m-1 0h1.6m-2 0h1.6m0 0h1.6m-1 0h1.6m-1 0h1.6m-2 0h1.6m-1 0h1.6m-1 0h1.6m0 0h1.6m0 0h1.6m-2 0h1.6m4 0h1.6m0 0h1.6m-1 0h1.6m0 0h1.6m-1 0h1.6m13 0h1.6m-1 0h1.6m1 0h1.6m-2 0h1.6m0 0h1.6m-1 0h1.6m0 0h1.6m-1 0h1.6m1 0h1.6m-2 0h1.6m-1 0h1.6m-1 0h1.6m-1 0h1.6m-1 0h1.6m-1 0h1.6m-1 0h1.6m0 0h1.6m-1 0h1.6m-1 0h1.6m0 0h1.6m-2 0h1.6m0 0h1.6m-1 0h1.6m0 0h1.6m-1 0h1.6m2 0h1.6m0 0h1.6m0 0h1.6m-1 0h1.6m-1 0h1.6m0 0h1.6m-2 0h1.6m0 0h1.6m-1 0h1.6m-2 0h1.6m-1 0h1.6m-1 0h1.6m0 0h1.6m-1 0h1.6m-1 0h1.6m-1 0h1.6m-2 0h1.6m2 0h1.6m-2 0h1.6m-1 0h1.6m-1 0h1.6m-2 0h1.6m-1 0h1.6m-1 0h1.6m-1 0h1.6m0 0h1.6m-1 0h1.6m-1 0h1.6m-1 0h1.6m-1 0h1.6m-2 0h1.6m-1 0h1.6m-1 0h1.6m0 0h1.6m-2 0h1.6" stroke="#111" stroke-width="2" fill="none"/>
<path d="M828.5 1016.3h51M828.5 977.6h51M891.4 1016.3h51M891.4 977.6h51M954.5 1016.3h51M954.5 977.6h51M1017.5 1016.3h51M1017.5 977.6h51M1080.1 1016.3h51M1080.1 977.6h51M1080.1 954.9h51" stroke="#111" stroke-width="2.3" fill="none"/>
<text x="805.8" y="1020.8" font-size="24" text-anchor="end">0</text>
<text x="805.8" y="964.9" font-size="24" text-anchor="end">1</text>
<text x="805.8" y="909" font-size="24" text-anchor="end">2</text>
<path d="M815.8 882V1023H1144M811.8 1016.3H815.8M811.8 960.4H815.8M811.8 904.5H815.8M811.8 988.3H815.8M811.8 932.4H815.8M854 1023V1028M916.9 1023V1028M980 1023V1028M1043 1023V1028M1105.6 1023V1028" stroke="#222" stroke-width="1.6" fill="none"/>
<text x="854" y="1066" font-size="27.5" text-anchor="middle">A</text>
<text x="916.9" y="1066" font-size="27.5" text-anchor="middle">B</text>
<text x="980" y="1066" font-size="27.5" text-anchor="middle">C</text>
<text x="1043" y="1066" font-size="27.5" text-anchor="middle">D</text>
<text x="1105.6" y="1066" font-size="27.5" text-anchor="middle">E</text>
<text x="1351" y="872.5" font-size="28.5" text-anchor="middle" font-style="italic">Ppar-&#948;</text>
<path d="M1251.3 1016.3l-0.3-1-2.5-2-14.3-6.1-5.8-3-2.4-2.1-1.9-3-0.4-2 0.3-3 1-2.1 1.7-2 4.1-3 10.8-6.1 2.1-2 0.4-1-0.1-1-1.5-2.1-11.1-7-2.5-3.1-0.2-3 1.8-5.1 0.3-3-1.5-7.1 0-10.1-2.8-10.1-7.2 0-2.4 8.1-0.6 4 0.2 8.1-1.5 8.1 0.3 2 1.8 5.1-0.2 3-2.5 3.1-11.1 7-1.5 2.1-0.1 1 0.4 1 2.1 2 10.8 6.1 4.1 3 1.7 2 1 2.1 0.3 3-0.4 2-1.9 3-2.4 2.1-5.8 3-14.3 6.1-2.5 2-0.3 1z" fill="#f8766d" stroke="#222" stroke-width="1.1"/><path d="M1314 1016.3l-0.7-1.2-1.9-1.2-19.7-7.4-3.5-2.4-1.7-2.5-0.3-1.2 0-7.4 0.3-1.2 1.5-2.4 3.1-2.5 2.2-1.2 11.1-4.9 2-1.2 1.2-1.3 0.1-1.2-0.9-1.2-1.8-1.2-13-6.2-1.7-1.2-1.7-2.4 0.3-2.5 2.7-4.9 0.7-2.4-0.5-2.5-2.8-4.9-1.2-3.7-1.5-24.5-0.1-12.2-1.2 0-0.1 12.2-1.5 24.5-1.2 3.7-2.8 4.9-0.5 2.5 0.7 2.4 2.7 4.9 0.3 2.5-1.7 2.4-1.7 1.2-13 6.2-1.8 1.2-0.9 1.2 0.1 1.2 1.2 1.3 2 1.2 11.1 4.9 2.2 1.2 3.1 2.5 1.5 2.4 0.3 1.2 0 7.4-0.3 1.2-1.7 2.5-3.5 2.4-19.7 7.4-1.9 1.2-0.7 1.2z" fill="#f9aa3c" stroke="#222" stroke-width="1.1"/><path d="M1377.4 1016.3l-0.9-1.4-2.4-1.4-18.7-6.9-4-2.7-1.7-2.8-0.1-8.3 0.3-1.4 1.8-2.7 3.7-2.8 10.8-5.5 1.7-1.4 0.7-1.4-0.6-1.4-1.6-1.4-8-4.1-4.2-2.8-1.1-1.3-0.4-1.4 0.4-1.4 0.9-1.4 5.4-5.5 0.7-1.4 0-1.4-1.7-2.7-3.7-4.2-1.2-2.8 0-6.9-1-5.5-2.6-22.1-0.3-16.6-1.2 0-0.3 16.6-2.6 22.1-1 5.5 0 6.9-1.2 2.8-3.7 4.2-1.7 2.7 0 1.4 0.7 1.4 5.4 5.5 0.9 1.4 0.4 1.4-0.4 1.4-1.1 1.3-4.2 2.8-8 4.1-1.6 1.4-0.6 1.4 0.7 1.4 1.7 1.4 10.8 5.5 3.7 2.8 1.8 2.7 0.3 1.4-0.1 8.3-1.7 2.8-4 2.7-18.7 6.9-2.4 1.4-0.9 1.4z" fill="#19b378" stroke="#222" stroke-width="1.1"/><path d="M1440.2 1016.3l-0.9-1.4-2.7-1.5-12.5-4.3-6.8-2.9-3.6-2.9-1.3-2.9 0-8.7 0.9-2.8 2.2-2.9 6.5-5.8 0.9-1.5 0.2-1.4-0.5-1.4-1.1-1.5-6.3-5.8-1.4-2.9 0.2-2.9 2.5-5.7 0.3-2.9-2.5-7.2-0.5-2.9 0-5.8-1.4-20.2 0-30.4-1.2 0 0 30.4-1.4 20.2 0 5.8-0.5 2.9-2.5 7.2 0.3 2.9 2.5 5.7 0.2 2.9-1.4 2.9-6.3 5.8-1.1 1.5-0.5 1.4 0.2 1.4 0.9 1.5 6.5 5.8 2.2 2.9 0.9 2.8 0 8.7-1.3 2.9-3.6 2.9-6.8 2.9-12.5 4.3-2.7 1.5-0.9 1.4z" fill="#1cb0ef" stroke="#222" stroke-width="1.1"/><path d="M1503.4 1016.3l-0.7-1.2-1.9-1.2-19.7-7.4-3.5-2.4-1.7-2.5-0.3-1.2 0-9.8 0.4-1.2 2.1-3.7 5.3-6.1 0.5-2.5-1.1-2.4-4.9-6.2-0.7-2.4 0.7-2.5 4.6-6.1 0.9-2.4-0.6-2.5-3.3-4.9-1.4-3.7-0.1-6.1-1.4-9.8-1-20.8-1.2 0-1 20.8-1.4 9.8-0.1 6.1-1.4 3.7-3.3 4.9-0.6 2.5 0.9 2.4 4.6 6.1 0.7 2.5-0.2 1.2-1.2 2.5-4.2 4.9-1.1 2.4 0.5 2.5 5.3 6.1 2.1 3.7 0.4 1.2 0 9.8-0.3 1.2-1.7 2.5-3.5 2.4-19.7 7.4-1.9 1.2-0.7 1.2z" fill="#b987f6" stroke="#222" stroke-width="1.1"/>
<path d="M1412 887.6h1.6m-53 5.9h1.6m8 0h1.6m-70 14h1.6m54 0h1.6m9 0h1.6m24 0h1.6m16 0h1.6m62 0h1.6m14 0h1.6m-204 8.6h1.6m3 0h1.6m33 0h1.6m0 0h1.6m9 0h1.6m-2 0h1.6m2 0h1.6m14 0h1.6m1 0h1.6m6 0h1.6m-1 0h1.6m1 0h1.6m17 0h1.6m2 0h1.6m-1 0h1.6m1 0h1.6m-1 0h1.6m19 0h1.6m10 0h1.6m0 0h1.6m28 0h1.6m11 0h1.6m1 0h1.6m-1 0h1.6m-1 0h1.6m-2 0h1.6m-1 0h1.6m5 0h1.6m1 0h1.6m2 0h1.6m-290 10.2h1.6m9 0h1.6m0 0h1.6m31 0h1.6m16 0h1.6m0 0h1.6m-1 0h1.6m2 0h1.6m7 0h1.6m10 0h1.6m1 0h1.6m15 0h1.6m12 0h1.6m0 0h1.6m-2 0h1.6m5 0h1.6m-2 0h1.6m1 0h1.6m0 0h1.6m-1 0h1.6m0 0h1.6m-2 0h1.6m1 0h1.6m-2 0h1.6m-1 0h1.6m-1 0h1.6m-1 0h1.6m-1 0h1.6m0 0h1.6m5 0h1.6m-1 0h1.6m-1 0h1.6m-2 0h1.6m-1 0h1.6m-2 0h1.6m-1 0h1.6m0 0h1.6m0 0h1.6m-1 0h1.6m-2 0h1.6m2 0h1.6m1 0h1.6m-1 0h1.6m-1 0h1.6m0 0h1.6m0 0h1.6m-1 0h1.6m1 0h1.6m2 0h1.6m0 0h1.6m-2 0h1.6m-1 0h1.6m11 0h1.6m-1 0h1.6m0 0h1.6m0 0h1.6m-2 0h1.6m0 0h1.6m-1 0h1.6m0 0h1.6m-2 0h1.6m3 0h1.6m-1 0h1.6m0 0h1.6m4 0h1.6m0 0h1.6m0 0h1.6m-1 0h1.6m0 0h1.6m1 0h1.6m-1 0h1.6m4 0h1.6m-2 0h1.6m-1 0h1.6m0 0h1.6m-1 0h1.6m-1 0h1.6m-1 0h1.6m0 0h1.6m-1 0h1.6m1 0h1.6m-1 0h1.6m0 0h1.6m-1 0h1.6m-1 0h1.6m-1 0h1.6m3 0h1.6m11 0h1.6m0 0h1.6m-1 0h1.6m0 0h1.6m-1 0h1.6m0 0h1.6m0 0h1.6m3 0h1.6m2 0h1.6m1 0h1.6m-2 0h1.6m0 0h1.6m0 0h1.6m-2 0h1.6m2 0h1.6m-1 0h1.6m1 0h1.6m1 0h1.6m0 0h1.6m2 0h1.6m4 0h1.6m5 0h1.6m-1 0h1.6m0 0h1.6m-2 0h1.6m-303 12.5h1.6m-1 0h1.6m4 0h1.6m0 0h1.6m0 0h1.6m-1 0h1.6m1 0h1.6m2 0h1.6m2 0h1.6m1 0h1.6m-2 0h1.6m5 0h1.6m-1 0h1.6m2 0h1.6m-2 0h1.6m2 0h1.6m-1 0h1.6m2 0h1.6m-1 0h1.6m-1 0h1.6m-1 0h1.6m2 0h1.6m-1 0h1.6m0 0h1.6m1 0h1.6m13 0h1.6m0 0h1.6m-1 0h1.6m0 0h1.6m-1 0h1.6m0 0h1.6m-1 0h1.6m-1 0h1.6m0 0h1.6m-2 0h1.6m2 0h1.6m-1 0h1.6m1 0h1.6m2 0h1.6m-2 0h1.6m-1 0h1.6m3 0h1.6m-1 0h1.6m-1 0h1.6m-1 0h1.6m-1 0h1.6m-1 0h1.6m0 0h1.6m-1 0h1.6m1 0h1.6m-1 0h1.6m0 0h1.6m-2 0h1.6m-1 0h1.6m-2 0h1.6m-1 0h1.6m1 0h1.6m-1 0h1.6m-2 0h1.6m-1 0h1.6m-2 0h1.6m-1 0h1.6m-1 0h1.6m-1 0h1.6m-1 0h1.6m-1 0h1.6m2 0h1.6m-1 0h1.6m2 0h1.6m-2 0h1.6m138 0h1.6m-1 0h1.6m-1 0h1.6m-1 0h1.6m-1 0h1.6m0 0h1.6m-1 0h1.6m0 0h1.6m-1 0h1.6m0 0h1.6m-1 0h1.6m-1 0h1.6m-2 0h1.6m-1 0h1.6m-1 0h1.6m-1 0h1.6m0 0h1.6m-1 0h1.6m-1 0h1.6m-2 0h1.6m0 0h1.6m-2 0h1.6m0 0h1.6m-2 0h1.6m0 0h1.6m0 0h1.6m-1 0h1.6m-1 0h1.6m-1 0h1.6m-1 0h1.6m3 0h1.6m-1 0h1.6m-1 0h1.6m0 0h1.6m-1 0h1.6m-1 0h1.6m-1 0h1.6m-1 0h1.6m0 0h1.6m1 0h1.6m-2 0h1.6m-1 0h1.6m0 0h1.6m-1 0h1.6m-2 0h1.6m0 0h1.6m-1 0h1.6m-1 0h1.6m0 0h1.6m-1 0h1.6m-2 0h1.6m-1 0h1.6m0 0h1.6m-1 0h1.6m-1 0h1.6m0 0h1.6m-2 0h1.6m-1 0h1.6m-1 0h1.6m1 0h1.6m-298 16.1h1.6m-1 0h1.6m-1 0h1.6m3 0h1.6m0 0h1.6m0 0h1.6m-1 0h1.6m1 0h1.6m1 0h1.6m-1 0h1.6m-1 0h1.6m-1 0h1.6m-1 0h1.6m0 0h1.6m-1 0h1.6m-2 0h1.6m0 0h1.6m-1 0h1.6m-1 0h1.6m0 0h1.6m-1 0h1.6m-1 0h1.6m-2 0h1.6m-1 0h1.6m-1 0h1.6m0 0h1.6m-1 0h1.6m-2 0h1.6m-1 0h1.6m-1 0h1.6m-1 0h1.6m0 0h1.6m-1 0h1.6m-2 0h1.6m0 0h1.6m-1 0h1.6m-1 0h1.6m0 0h1.6m-1 0h1.6m-1 0h1.6m-2 0h1.6m0 0h1.6m-2 0h1.6m-1 0h1.6m-1 0h1.6m-1 0h1.6m0 0h1.6m-1 0h1.6m0 0h1.6m0 0h1.6m-53 61.4h1.6m-1 0h1.6m0 0h1.6m0 0h1.6m-2 0h1.6m-1 0h1.6m-1 0h1.6m0 0h1.6m0 0h1.6m-1 0h1.6m3 0h1.6m-1 0h1.6m-2 0h1.6m-1 0h1.6m0 0h1.6m1 0h1.6m-2 0h1.6m-1 0h1.6m-1 0h1.6m-2 0h1.6m0 0h1.6m0 0h1.6m-1 0h1.6m-1 0h1.6m-1 0h1.6m-1 0h1.6m-1 0h1.6m0 0h1.6m0 0h1.6m-1 0h1.6m-1 0h1.6m0 0h1.6m-1 0h1.6m-1 0h1.6m-1 0h1.6m-1 0h1.6m1 0h1.6m-2 0h1.6m0 0h1.6m-1 0h1.6m-1 0h1.6m-1 0h1.6m-2 0h1.6m1 0h1.6m-2 0h1.6m0 0h1.6m-2 0h1.6m-1 0h1.6m-1 0h1.6m-1 0h1.6m-1 0h1.6m-2 0h1.6m-1 0h1.6m0 0h1.6m0 0h1.6m0 0h1.6m-1 0h1.6m-1 0h1.6m-2 0h1.6m-1 0h1.6" stroke="#111" stroke-width="2" fill="none"/>
<path d="M1197.4 977.6h51M1260.1 1016.3h51M1260.1 977.6h51M1260.1 954.9h51M1323.5 1016.3h51M1323.5 977.6h51M1323.5 954.9h51M1323.5 938.8h51M1386.3 1016.3h51M1386.3 977.6h51M1386.3 954.9h51M1386.3 938.8h51M1449.5 1016.3h51M1449.5 977.6h51M1449.5 954.9h51" stroke="#111" stroke-width="2.3" fill="none"/>
<text x="1174.8" y="1020.8" font-size="24" text-anchor="end">0</text>
<text x="1174.8" y="964.9" font-size="24" text-anchor="end">1</text>
<text x="1174.8" y="909" font-size="24" text-anchor="end">2</text>
<path d="M1184.8 882V1023H1513M1180.8 1016.3H1184.8M1180.8 960.4H1184.8M1180.8 904.5H1184.8M1180.8 988.3H1184.8M1180.8 932.4H1184.8M1222.9 1023V1028M1285.6 1023V1028M1349 1023V1028M1411.8 1023V1028M1475 1023V1028" stroke="#222" stroke-width="1.6" fill="none"/>
<text x="1222.9" y="1066" font-size="27.5" text-anchor="middle">A</text>
<text x="1285.6" y="1066" font-size="27.5" text-anchor="middle">B</text>
<text x="1349" y="1066" font-size="27.5" text-anchor="middle">C</text>
<text x="1411.8" y="1066" font-size="27.5" text-anchor="middle">D</text>
<text x="1475" y="1066" font-size="27.5" text-anchor="middle">E</text>
<text x="1715" y="872.5" font-size="28.5" text-anchor="middle" font-style="italic">Stat1</text>
<path d="M1612.3 1016.1l-0.6-1-4-2-13.1-4.1-5-2-3.1-2-2-3 0.1-5.1 1.8-3 2.4-2 8.6-5.1 1.9-2 0.1-1-1.6-2-8-5.1-1.8-2-0.3-1 0.4-2 3.1-5.1 0.2-2-2.7-7.1 0.2-6-1.8-8.1-2.2-17.2-2 0-2.2 17.2-1.8 8.1 0.2 6-2.7 7.1 0.2 2 3.1 5.1 0.4 2-0.3 1-1.8 2-8 5.1-1.6 2 0.1 1 1.9 2 8.6 5.1 2.4 2 1.8 3 0.1 5.1-2 3-3.1 2-5 2-13.1 4.1-4 2-0.6 1z" fill="#f8766d" stroke="#222" stroke-width="1.1"/><path d="M1676.9 1016.1l-0.6-1.1-1.9-1.1-16.5-5.3-4.8-2.2-2.7-2.2-1.2-2.1-0.1-4.3 1.7-3.2 4.6-3.3 9-4.3 2.6-2.1 0.2-1.1-0.7-1.1-1.4-1.1-10.1-5.4-1.8-2.1 0.2-2.2 3.3-4.3 0.8-2.1-0.5-2.2-2.7-5.4 0.2-6.4-2.1-7.6-1.8-9.7-1.1-14-2 0-1.1 14-1.8 9.7-2.1 7.6 0.2 6.4-3.1 6.5 0.2 2.1 3.8 5.4 0.2 2.2-1.8 2.1-10.1 5.4-1.4 1.1-0.7 1.1 0.2 1.1 2.6 2.1 9 4.3 4.6 3.3 1.7 3.2-0.1 4.3-1.2 2.1-2.7 2.2-4.8 2.2-16.5 5.3-1.9 1.1-0.6 1.1z" fill="#f9aa3c" stroke="#222" stroke-width="1.1"/><path d="M1741.5 1016.1l-1-1.2-2.8-1.3-13.2-3.7-6.6-2.5-2-1.2-2.1-2.5-0.1-8.7 0.5-1.3 1.9-2.5 5.8-4.9 0.8-1.3 0.2-1.2-1.7-2.5-5.5-5-0.8-2.5 0.8-2.5 2.2-3.7 0.6-2.5-0.8-2.5-1.9-3.7-0.4-2.5 0.1-4.9-1.8-21.2 0-24.8-1.2 0 0 24.8-1.8 21.2 0.1 4.9-0.4 2.5-1.9 3.7-0.8 2.5 0.6 2.5 2.2 3.7 0.8 2.5-0.8 2.5-5.5 5-1.7 2.5 0.2 1.2 0.8 1.3 5.8 4.9 1.9 2.5 0.5 1.3-0.1 8.7-2.1 2.5-2 1.2-6.6 2.5-13.2 3.7-2.8 1.3-1 1.2z" fill="#19b378" stroke="#222" stroke-width="1.1"/><path d="M1806.2 1016.1l-1.3-1.4-3.5-1.4-14.6-4.2-3.6-1.4-2.4-1.4-1.5-1.4-0.8-1.4-0.1-8.4 0.3-1.4 1.8-2.8 4-4.2 0.9-1.4 0.2-1.4-0.4-1.4-1.1-1.4-3.8-4.2-0.9-2.8 0.2-1.4 2.8-5.5 0.3-1.4-0.6-2.8-2.3-5.6-0.1-5.6-0.9-8.4-0.4-9.8 0-42-1.2 0 0 42-0.5 11.2-0.8 7 0 4.2-0.5 2.8-1.9 4.2-0.6 2.8 0.3 1.4 2.8 5.5 0.2 1.4-0.9 2.8-3.8 4.2-1.1 1.4-0.4 1.4 0.2 1.4 0.9 1.4 4 4.2 1.8 2.8 0.3 1.4-0.1 8.4-0.8 1.4-1.5 1.4-2.4 1.4-3.6 1.4-14.6 4.2-3.5 1.4-1.3 1.4z" fill="#1cb0ef" stroke="#222" stroke-width="1.1"/><path d="M1870.8 1016.1l-1.1-1.4-3.1-1.5-17.5-5.7-4.5-2.9-1.6-2.8 0-4.4 1-2.8 2.6-2.9 6.3-4.3 1.6-1.4 0.8-1.5-0.3-1.4-1.1-1.4-5.5-4.3-1.2-1.5-0.3-1.4 0.4-1.4 1.2-1.5 4.8-4.3 0.8-1.4 0.1-1.5-2.8-5.7 0-1.4 1.6-4.3 0-2.9-1.6-4.3-1.6-7.2-3.1-10-2.2-12.9-1.5-27.3-1.2 0-1.1 24.4-2 12.9-7.1 25.8 0.2 1.5 1.6 4.3 0 1.4-2.8 5.7 0.1 1.5 0.8 1.4 4.8 4.3 1.2 1.5 0.4 1.4-0.3 1.4-1.2 1.5-5.5 4.3-1.1 1.4-0.3 1.4 0.8 1.5 1.6 1.4 6.3 4.3 2.6 2.9 1 2.8 0 4.4-1.6 2.8-4.5 2.9-17.5 5.7-3.1 1.5-1.1 1.4z" fill="#b987f6" stroke="#222" stroke-width="1.1"/>
<path d="M1819 888.3h1.6m0 0h1.6m24 0h1.6m-25 3h1.6m15 0h1.6m4 0h1.6m-65 3.1h1.6m48 0h1.6m8 3.5h1.6m-6 3.6h1.6m-145 4.1h1.6m31 0h1.6m49 0h1.6m2 0h1.6m12 0h1.6m25 0h1.6m38 0h1.6m-45 4.4h1.6m0 0h1.6m11 0h1.6m3 0h1.6m-1 0h1.6m0 0h1.6m1 0h1.6m10 0h1.6m8 0h1.6m-172 4.8h1.6m9 0h1.6m58 0h1.6m35 0h1.6m22 0h1.6m0 0h1.6m0 0h1.6m-1 0h1.6m8 0h1.6m4 0h1.6m-1 0h1.6m2 0h1.6m-1 0h1.6m-1 0h1.6m-1 0h1.6m0 0h1.6m1 0h1.6m-2 0h1.6m9 0h1.6m-223 5.4h1.6m19 0h1.6m10 0h1.6m46 0h1.6m4 0h1.6m-1 0h1.6m11 0h1.6m23 0h1.6m3 0h1.6m3 0h1.6m4 0h1.6m-1 0h1.6m38 0h1.6m-1 0h1.6m4 0h1.6m0 0h1.6m1 0h1.6m-2 0h1.6m-1 0h1.6m1 0h1.6m-1 0h1.6m-1 0h1.6m0 0h1.6m-1 0h1.6m0 0h1.6m0 0h1.6m4 0h1.6m4 0h1.6m0 0h1.6m-1 0h1.6m0 0h1.6m0 0h1.6m0 0h1.6m-1 0h1.6m-1 0h1.6m-2 0h1.6m-1 0h1.6m-1 0h1.6m-1 0h1.6m0 0h1.6m-1 0h1.6m1 0h1.6m-275 6.2h1.6m7 0h1.6m24 0h1.6m-1 0h1.6m13 0h1.6m0 0h1.6m15 0h1.6m39 0h1.6m3 0h1.6m2 0h1.6m10 0h1.6m-1 0h1.6m2 0h1.6m9 0h1.6m3 0h1.6m15 0h1.6m9 0h1.6m7 0h1.6m1 0h1.6m10 0h1.6m-2 0h1.6m7 0h1.6m3 0h1.6m15 0h1.6m0 0h1.6m-1 0h1.6m0 0h1.6m1 0h1.6m-2 0h1.6m-1 0h1.6m0 0h1.6m0 0h1.6m3 0h1.6m0 0h1.6m-2 0h1.6m3 0h1.6m0 0h1.6m1 0h1.6m0 0h1.6m-1 0h1.6m-1 0h1.6m-2 0h1.6m-1 0h1.6m-1 0h1.6m-1 0h1.6m-1 0h1.6m0 0h1.6m0 0h1.6m4 0h1.6m-1 0h1.6m-1 0h1.6m2 0h1.6m-2 0h1.6m0 0h1.6m0 0h1.6m-2 0h1.6m0 0h1.6m-2 0h1.6m0 0h1.6m-1 0h1.6m-1 0h1.6m-1 0h1.6m-1 0h1.6m-298 7.1h1.6m4 0h1.6m8 0h1.6m-1 0h1.6m42 0h1.6m0 0h1.6m7 0h1.6m11 0h1.6m1 0h1.6m-1 0h1.6m-1 0h1.6m2 0h1.6m26 0h1.6m21 0h1.6m2 0h1.6m2 0h1.6m-1 0h1.6m-1 0h1.6m-1 0h1.6m8 0h1.6m-1 0h1.6m4 0h1.6m17 0h1.6m1 0h1.6m2 0h1.6m4 0h1.6m2 0h1.6m0 0h1.6m-1 0h1.6m10 0h1.6m6 0h1.6m0 0h1.6m5 0h1.6m0 0h1.6m15 0h1.6m-2 0h1.6m2 0h1.6m0 0h1.6m-2 0h1.6m0 0h1.6m0 0h1.6m-1 0h1.6m0 0h1.6m-1 0h1.6m-1 0h1.6m1 0h1.6m-1 0h1.6m0 0h1.6m0 0h1.6m1 0h1.6m-2 0h1.6m2 0h1.6m-2 0h1.6m-1 0h1.6m0 0h1.6m-1 0h1.6m-2 0h1.6m-1 0h1.6m-1 0h1.6m-2 0h1.6m0 0h1.6m-2 0h1.6m-1 0h1.6m0 0h1.6m-1 0h1.6m0 0h1.6m-1 0h1.6m3 0h1.6m0 0h1.6m1 0h1.6m0 0h1.6m-1 0h1.6m-1 0h1.6m-1 0h1.6m-2 0h1.6m0 0h1.6m-1 0h1.6m0 0h1.6m-2 0h1.6m-1 0h1.6m-1 0h1.6m-1 0h1.6m-2 0h1.6m0 0h1.6m-304 8.4h1.6m10 0h1.6m1 0h1.6m1 0h1.6m4 0h1.6m17 0h1.6m15 0h1.6m2 0h1.6m-1 0h1.6m0 0h1.6m-1 0h1.6m0 0h1.6m6 0h1.6m0 0h1.6m-1 0h1.6m-1 0h1.6m-1 0h1.6m-1 0h1.6m-1 0h1.6m-1 0h1.6m0 0h1.6m2 0h1.6m-1 0h1.6m1 0h1.6m-1 0h1.6m1 0h1.6m10 0h1.6m-2 0h1.6m1 0h1.6m-2 0h1.6m2 0h1.6m17 0h1.6m-1 0h1.6m-1 0h1.6m-1 0h1.6m2 0h1.6m-1 0h1.6m0 0h1.6m-1 0h1.6m0 0h1.6m3 0h1.6m-1 0h1.6m-2 0h1.6m0 0h1.6m1 0h1.6m-1 0h1.6m0 0h1.6m9 0h1.6m-2 0h1.6m2 0h1.6m-2 0h1.6m2 0h1.6m0 0h1.6m-1 0h1.6m1 0h1.6m1 0h1.6m19 0h1.6m0 0h1.6m2 0h1.6m0 0h1.6m5 0h1.6m-1 0h1.6m-1 0h1.6m-1 0h1.6m0 0h1.6m-1 0h1.6m0 0h1.6m0 0h1.6m-1 0h1.6m0 0h1.6m-1 0h1.6m0 0h1.6m0 0h1.6m-1 0h1.6m-1 0h1.6m-1 0h1.6m2 0h1.6m-1 0h1.6m2 0h1.6m8 0h1.6m-2 0h1.6m-245 10.3h1.6m2 0h1.6m1 0h1.6m-2 0h1.6m3 0h1.6m1 0h1.6m4 0h1.6m0 0h1.6m2 0h1.6m0 0h1.6m1 0h1.6m-1 0h1.6m2 0h1.6m2 0h1.6m0 0h1.6m1 0h1.6m-1 0h1.6m4 0h1.6m-1 0h1.6m0 0h1.6m14 0h1.6m0 0h1.6m0 0h1.6m-1 0h1.6m-2 0h1.6m0 0h1.6m-2 0h1.6m0 0h1.6m-1 0h1.6m-1 0h1.6m-1 0h1.6m-1 0h1.6m0 0h1.6m-1 0h1.6m-1 0h1.6m-2 0h1.6m1 0h1.6m0 0h1.6m-1 0h1.6m-1 0h1.6m0 0h1.6m0 0h1.6m-1 0h1.6m0 0h1.6m-1 0h1.6m1 0h1.6m0 0h1.6m0 0h1.6m-1 0h1.6m-1 0h1.6m-1 0h1.6m0 0h1.6m0 0h1.6m-1 0h1.6m-1 0h1.6m-2 0h1.6m-1 0h1.6m-1 0h1.6m0 0h1.6m-1 0h1.6m0 0h1.6m0 0h1.6m3 0h1.6m-1 0h1.6m-1 0h1.6m17 0h1.6m1 0h1.6m-1 0h1.6m-1 0h1.6m1 0h1.6m-1 0h1.6m5 0h1.6m0 0h1.6m-1 0h1.6m0 0h1.6m-1 0h1.6m-1 0h1.6m-1 0h1.6m-1 0h1.6m-1 0h1.6m0 0h1.6m-2 0h1.6m-1 0h1.6m0 0h1.6m0 0h1.6m-2 0h1.6m0 0h1.6m-1 0h1.6m-2 0h1.6m-1 0h1.6m-1 0h1.6m-1 0h1.6m0 0h1.6m-1 0h1.6m-2 0h1.6m-1 0h1.6m-1 0h1.6m-1 0h1.6m-2 0h1.6m-1 0h1.6m-1 0h1.6m-1 0h1.6m-1 0h1.6m1 0h1.6m0 0h1.6m-1 0h1.6m-2 0h1.6m-1 0h1.6m0 0h1.6m0 0h1.6m-2 0h1.6m-1 0h1.6m-1 0h1.6m-1 0h1.6m-2 0h1.6m0 0h1.6m1 0h1.6m0 0h1.6m-1 0h1.6m-1 0h1.6m13 0h1.6m-1 0h1.6m0 0h1.6m-1 0h1.6m-1 0h1.6m-1 0h1.6m1 0h1.6m1 0h1.6m-2 0h1.6m-1 0h1.6m-1 0h1.6m-1 0h1.6m-2 0h1.6m-1 0h1.6m0 0h1.6m0 0h1.6m-1 0h1.6m-1 0h1.6m-1 0h1.6m0 0h1.6m-1 0h1.6m-1 0h1.6m-1 0h1.6m-1 0h1.6m0 0h1.6m0 0h1.6m0 0h1.6m-1 0h1.6m1 0h1.6m-2 0h1.6m0 0h1.6m-1 0h1.6m-1 0h1.6m-1 0h1.6m-1 0h1.6m1 0h1.6m0 0h1.6m-2 0h1.6m-1 0h1.6m-1 0h1.6m-2 0h1.6m1 0h1.6m-2 0h1.6m1 0h1.6m-2 0h1.6m0 0h1.6m-1 0h1.6m0 0h1.6m-1 0h1.6m-1 0h1.6m-2 0h1.6m-1 0h1.6m-2 0h1.6m0 0h1.6m-1 0h1.6m-1 0h1.6m-2 0h1.6m-1 0h1.6m-1 0h1.6m-1 0h1.6m-246 13.3h1.6m-1 0h1.6m-2 0h1.6m0 0h1.6m-1 0h1.6m-2 0h1.6m-1 0h1.6m5 0h1.6m-1 0h1.6m1 0h1.6m1 0h1.6m-2 0h1.6m4 0h1.6m-1 0h1.6m-1 0h1.6m-2 0h1.6m-1 0h1.6m-1 0h1.6m0 0h1.6m0 0h1.6m0 0h1.6m0 0h1.6m-1 0h1.6m-2 0h1.6m0 0h1.6m-1 0h1.6m-1 0h1.6m-2 0h1.6m-1 0h1.6m0 0h1.6m-1 0h1.6m8 0h1.6m-1 0h1.6m3 0h1.6m-1 0h1.6m-50 50.6h1.6m-1 0h1.6m-1 0h1.6m0 0h1.6m-1 0h1.6m-1 0h1.6m-2 0h1.6m-1 0h1.6m-1 0h1.6m-2 0h1.6m0 0h1.6m-1 0h1.6m-1 0h1.6m-1 0h1.6m-1 0h1.6m-1 0h1.6m0 0h1.6m-1 0h1.6m-1 0h1.6m0 0h1.6m-1 0h1.6m-1 0h1.6m-1 0h1.6m-1 0h1.6m-2 0h1.6m-1 0h1.6m1 0h1.6m-1 0h1.6m-1 0h1.6m-1 0h1.6m-2 0h1.6m0 0h1.6m-1 0h1.6m-1 0h1.6m-1 0h1.6m-2 0h1.6m-1 0h1.6m0 0h1.6m1 0h1.6m-1 0h1.6m-1 0h1.6m-1 0h1.6m-1 0h1.6m0 0h1.6m-1 0h1.6m0 0h1.6m-1 0h1.6m0 0h1.6m-1 0h1.6m-1 0h1.6m-2 0h1.6m-1 0h1.6m3 0h1.6m-1 0h1.6m-1 0h1.6m0 0h1.6m-1 0h1.6m0 0h1.6m-1 0h1.6m-1 0h1.6" stroke="#111" stroke-width="2" fill="none"/>
<path d="M1558.4 984.1h51M1623 1016.1h51M1623 984.1h51M1623 965.5h51M1687.6 1016.1h51M1687.6 984.1h51M1687.6 965.5h51M1752.3 1016.1h51M1752.3 984.1h51M1752.3 965.5h51M1816.9 1016.1h51M1816.9 984.1h51M1816.9 965.5h51M1816.9 952.2h51M1816.9 941.9h51" stroke="#111" stroke-width="2.3" fill="none"/>
<text x="1536" y="1020.6" font-size="24" text-anchor="end">0</text>
<text x="1536" y="974.5" font-size="24" text-anchor="end">1</text>
<text x="1536" y="928.4" font-size="24" text-anchor="end">2</text>
<path d="M1546 882V1023H1876M1542 1016.1H1546M1542 970H1546M1542 923.9H1546M1583.9 1023V1028M1648.5 1023V1028M1713.1 1023V1028M1777.8 1023V1028M1842.4 1023V1028" stroke="#222" stroke-width="1.6" fill="none"/>
<text x="1583.9" y="1066" font-size="27.5" text-anchor="middle">A</text>
<text x="1648.5" y="1066" font-size="27.5" text-anchor="middle">B</text>
<text x="1713.1" y="1066" font-size="27.5" text-anchor="middle">C</text>
<text x="1777.8" y="1066" font-size="27.5" text-anchor="middle">D</text>
<text x="1842.4" y="1066" font-size="27.5" text-anchor="middle">E</text>
<defs><clipPath id="c0"><rect x="33" y="1276.5" width="601.6" height="237.9"/></clipPath><clipPath id="c1"><rect x="35.7" y="1553.4" width="601.6" height="237.9"/></clipPath><clipPath id="c2"><rect x="35.7" y="1836.9" width="601.6" height="237.5"/></clipPath><clipPath id="c3"><rect x="36.9" y="2119.9" width="601.3" height="237.5"/></clipPath><clipPath id="c4"><rect x="35.7" y="2406.4" width="601.6" height="237.1"/></clipPath><clipPath id="c5"><rect x="652.6" y="1276.5" width="600.9" height="237.1"/></clipPath><clipPath id="c6"><rect x="650.7" y="1551.9" width="600.9" height="237.5"/></clipPath><clipPath id="c7"><rect x="650.7" y="1835.7" width="600.1" height="237.9"/></clipPath><clipPath id="c8"><rect x="650.7" y="2118.5" width="601.6" height="238.7"/></clipPath><clipPath id="c9"><rect x="654.5" y="2405.6" width="600.9" height="237.9"/></clipPath><clipPath id="c10"><rect x="1272.7" y="1275.7" width="601.6" height="237.5"/></clipPath><clipPath id="c11"><rect x="1273.9" y="1551.9" width="601.3" height="237.5"/></clipPath><clipPath id="c12"><rect x="1274.6" y="1835.7" width="601.6" height="237.9"/></clipPath></defs>
<text x="38.5" y="1268.7" font-size="32.2" text-anchor="start" font-style="italic">Ets2</text>
<path d="M59.2 1278.5V1512.4M160.9 1278.5V1512.4M263.7 1278.5V1512.4M365.8 1278.5V1512.4M467.5 1278.5V1512.4M570.4 1278.5V1512.4" stroke="#ececec" stroke-width="4" fill="none"/>
<path d="M36 1504.5H632.6M36 1418.7H632.6M36 1332.9H632.6" stroke="#e8e8e8" stroke-width="3" fill="none"/>
<path d="M36 1461.6H632.6M36 1375.8H632.6M36 1290H632.6" stroke="#efefef" stroke-width="2.2" fill="none"/>
<rect x="592.5" y="1510.7" width="15" height="12.6" rx="7.5" fill="#c9d98f"/>
<g clip-path="url(#c0)" stroke="#000" stroke-opacity="0.14" stroke-width="0.8">
<rect x="67.4" y="1498.2" width="15" height="12.6" rx="7.5" fill="#86c19b"/>
<rect x="82.1" y="1498.2" width="67.2" height="12.6" rx="7.5" fill="#0c6b78"/>
<rect x="141.5" y="1498.2" width="17.5" height="12.6" rx="7.5" fill="#86c19b"/>
<rect x="158.9" y="1498.2" width="19.4" height="12.6" rx="7.5" fill="#0c6b78"/>
<rect x="178.3" y="1498.2" width="38.8" height="12.6" rx="7.5" fill="#86c19b"/>
<rect x="210.6" y="1498.2" width="15" height="12.6" rx="7.5" fill="#0c6b78"/>
<rect x="219.1" y="1498.2" width="75.7" height="12.6" rx="7.5" fill="#86c19b"/>
<rect x="292.9" y="1498.2" width="29.1" height="12.6" rx="7.5" fill="#0c6b78"/>
<rect x="322" y="1498.2" width="114.5" height="12.6" rx="7.5" fill="#c9d98f"/>
<rect x="436.5" y="1498.2" width="34.9" height="12.6" rx="7.5" fill="#f2c04c"/>
<rect x="471.4" y="1498.2" width="40.8" height="12.6" rx="7.5" fill="#ea9820"/>
<rect x="510.2" y="1498.2" width="19.4" height="12.6" rx="7.5" fill="#f2c04c"/>
<rect x="529.7" y="1498.2" width="104.8" height="12.6" rx="7.5" fill="#ea9820"/>
<rect x="73.5" y="1438.8" width="79.6" height="12.6" rx="7.5" fill="#0c6b78"/>
<rect x="153.1" y="1438.8" width="27.2" height="12.6" rx="7.5" fill="#86c19b"/>
<rect x="180.3" y="1438.8" width="19.4" height="12.6" rx="7.5" fill="#0c6b78"/>
<rect x="199.7" y="1438.8" width="104.8" height="12.6" rx="7.5" fill="#86c19b"/>
<rect x="302.8" y="1438.8" width="15" height="12.6" rx="7.5" fill="#0c6b78"/>
<rect x="316.1" y="1438.8" width="15.5" height="12.6" rx="7.5" fill="#86c19b"/>
<rect x="331.7" y="1438.8" width="46.6" height="12.6" rx="7.5" fill="#c9d98f"/>
<rect x="376.6" y="1438.8" width="15" height="12.6" rx="7.5" fill="#86c19b"/>
<rect x="389.9" y="1438.8" width="46.6" height="12.6" rx="7.5" fill="#c9d98f"/>
<rect x="436.5" y="1438.8" width="40.8" height="12.6" rx="7.5" fill="#f2c04c"/>
<rect x="477.3" y="1438.8" width="25.2" height="12.6" rx="7.5" fill="#ea9820"/>
<rect x="506.4" y="1438.8" width="19.4" height="12.6" rx="7.5" fill="#ea9820"/>
<rect x="524.1" y="1438.8" width="15" height="12.6" rx="7.5" fill="#f2c04c"/>
<rect x="537.4" y="1438.8" width="46.6" height="12.6" rx="7.5" fill="#ea9820"/>
<rect x="582.3" y="1438.8" width="15" height="12.6" rx="7.5" fill="#f2c04c"/>
<rect x="595.7" y="1438.8" width="21.4" height="12.6" rx="7.5" fill="#ea9820"/>
<rect x="630.6" y="1438.8" width="15.5" height="12.6" rx="7.5" fill="#ea9820"/>
<rect x="65.8" y="1404" width="100.9" height="12.6" rx="7.5" fill="#0c6b78"/>
<rect x="166" y="1404" width="15" height="12.6" rx="7.5" fill="#86c19b"/>
<rect x="174.7" y="1404" width="15" height="12.6" rx="7.5" fill="#0c6b78"/>
<rect x="184.2" y="1404" width="34.9" height="12.6" rx="7.5" fill="#86c19b"/>
<rect x="211.6" y="1404" width="15" height="12.6" rx="7.5" fill="#0c6b78"/>
<rect x="219.1" y="1404" width="73.8" height="12.6" rx="7.5" fill="#86c19b"/>
<rect x="290.9" y="1404" width="29.1" height="12.6" rx="7.5" fill="#0c6b78"/>
<rect x="320" y="1404" width="21.4" height="12.6" rx="7.5" fill="#86c19b"/>
<rect x="341.4" y="1404" width="34.9" height="12.6" rx="7.5" fill="#c9d98f"/>
<rect x="376.3" y="1404" width="19.4" height="12.6" rx="7.5" fill="#c9d98f"/>
<rect x="401.6" y="1404" width="31.1" height="12.6" rx="7.5" fill="#c9d98f"/>
<rect x="432.9" y="1404" width="15" height="12.6" rx="7.5" fill="#86c19b"/>
<rect x="444.3" y="1404" width="36.9" height="12.6" rx="7.5" fill="#f2c04c"/>
<rect x="481.1" y="1404" width="25.2" height="12.6" rx="7.5" fill="#ea9820"/>
<rect x="520" y="1404" width="97" height="12.6" rx="7.5" fill="#ea9820"/>
<rect x="618.9" y="1404" width="15.5" height="12.6" rx="7.5" fill="#ea9820"/>
<rect x="87.1" y="1379.3" width="93.2" height="12.6" rx="7.5" fill="#0c6b78"/>
<rect x="180.3" y="1379.3" width="93.2" height="12.6" rx="7.5" fill="#86c19b"/>
<rect x="274.7" y="1379.3" width="15" height="12.6" rx="7.5" fill="#f2c04c"/>
<rect x="289" y="1379.3" width="31.1" height="12.6" rx="7.5" fill="#0c6b78"/>
<rect x="320" y="1379.3" width="27.2" height="12.6" rx="7.5" fill="#c9d98f"/>
<rect x="346.5" y="1379.3" width="15" height="12.6" rx="7.5" fill="#0c6b78"/>
<rect x="477.3" y="1379.3" width="15.5" height="12.6" rx="7.5" fill="#ea9820"/>
<rect x="508.3" y="1379.3" width="15.5" height="12.6" rx="7.5" fill="#f2c04c"/>
<rect x="531.6" y="1379.3" width="15.5" height="12.6" rx="7.5" fill="#ea9820"/>
<rect x="551" y="1379.3" width="38.8" height="12.6" rx="7.5" fill="#ea9820"/>
<rect x="589.8" y="1379.3" width="27.2" height="12.6" rx="7.5" fill="#f2c04c"/>
<rect x="89.1" y="1360.1" width="83.5" height="12.6" rx="7.5" fill="#0c6b78"/>
<rect x="169.9" y="1360.1" width="15" height="12.6" rx="7.5" fill="#86c19b"/>
<rect x="179.6" y="1360.1" width="15" height="12.6" rx="7.5" fill="#0c6b78"/>
<rect x="189.3" y="1360.1" width="15" height="12.6" rx="7.5" fill="#86c19b"/>
<rect x="199.7" y="1360.1" width="15.5" height="12.6" rx="7.5" fill="#0c6b78"/>
<rect x="211.6" y="1360.1" width="15" height="12.6" rx="7.5" fill="#86c19b"/>
<rect x="224.9" y="1360.1" width="54.3" height="12.6" rx="7.5" fill="#86c19b"/>
<rect x="278.6" y="1360.1" width="15" height="12.6" rx="7.5" fill="#0c6b78"/>
<rect x="292.9" y="1360.1" width="19.4" height="12.6" rx="7.5" fill="#0c6b78"/>
<rect x="308.6" y="1360.1" width="15" height="12.6" rx="7.5" fill="#86c19b"/>
<rect x="541.3" y="1360.1" width="15.5" height="12.6" rx="7.5" fill="#ea9820"/>
<rect x="558.8" y="1360.1" width="27.2" height="12.6" rx="7.5" fill="#ea9820"/>
<rect x="594.9" y="1360.1" width="22.1" height="12.6" rx="7.5" fill="#ea9820"/>
<rect x="94.9" y="1344.5" width="73.8" height="12.6" rx="7.5" fill="#0c6b78"/>
<rect x="166.7" y="1344.5" width="40.8" height="12.6" rx="7.5" fill="#86c19b"/>
<rect x="224.9" y="1344.5" width="38.8" height="12.6" rx="7.5" fill="#86c19b"/>
<rect x="277.3" y="1344.5" width="15.5" height="12.6" rx="7.5" fill="#86c19b"/>
<rect x="289" y="1344.5" width="31.1" height="12.6" rx="7.5" fill="#0c6b78"/>
<rect x="341.4" y="1344.5" width="15.5" height="12.6" rx="7.5" fill="#86c19b"/>
<rect x="580.8" y="1344.5" width="15" height="12.6" rx="7.5" fill="#ea9820"/>
<rect x="600.7" y="1344.5" width="16.3" height="12.6" rx="7.5" fill="#ea9820"/>
<rect x="112.3" y="1331.3" width="29.1" height="12.6" rx="7.5" fill="#0c6b78"/>
<rect x="143.4" y="1331.3" width="15.5" height="12.6" rx="7.5" fill="#86c19b"/>
<rect x="180.3" y="1331.3" width="15.5" height="12.6" rx="7.5" fill="#86c19b"/>
<rect x="219.1" y="1331.3" width="15.5" height="12.6" rx="7.5" fill="#86c19b"/>
<rect x="234.6" y="1331.3" width="27.2" height="12.6" rx="7.5" fill="#86c19b"/>
<rect x="565.4" y="1331.3" width="15.5" height="12.6" rx="7.5" fill="#ea9820"/>
<rect x="600.7" y="1331.3" width="16.3" height="12.6" rx="7.5" fill="#ea9820"/>
<rect x="124" y="1319.8" width="16.7" height="12.6" rx="7.5" fill="#0c6b78"/>
<rect x="238.5" y="1319.8" width="17.5" height="12.6" rx="7.5" fill="#86c19b"/>
<rect x="273.4" y="1319.8" width="21.4" height="12.6" rx="7.5" fill="#86c19b"/>
<rect x="108.5" y="1309.7" width="15.5" height="12.6" rx="7.5" fill="#0c6b78"/>
<rect x="224.9" y="1309.7" width="15.5" height="12.6" rx="7.5" fill="#86c19b"/>
<rect x="292.7" y="1309.7" width="15" height="12.6" rx="7.5" fill="#0c6b78"/>
<rect x="125.2" y="1300.7" width="15.5" height="12.6" rx="7.5" fill="#0c6b78"/>
<rect x="228.8" y="1300.7" width="15.5" height="12.6" rx="7.5" fill="#86c19b"/>
<rect x="128.7" y="1278.2" width="15" height="12.6" rx="7.5" fill="#86c19b"/>
</g>
<path d="M73.5,1424.9 L104.6,1440.5 L104.6,1448.2 L73.5,1463.8Z" fill="#bdbdbd" fill-opacity="0.6"/>
<path d="M73.5,1444.3C84.8,1444.6 118.5,1446 141.5,1445.9C164.4,1445.8 194.5,1445.4 211.3,1443.6C228.2,1441.7 233,1437.2 242.4,1434.6C251.8,1432.1 259.2,1427.8 267.6,1428C276,1428.2 284.1,1431.8 292.9,1435.8C301.6,1439.8 309.7,1446.6 320,1452.1C330.4,1457.6 339.4,1464.3 355,1468.8C370.5,1473.3 393.8,1476.7 413.2,1479.3C432.6,1481.9 453.3,1483 471.4,1484.3C489.5,1485.6 507,1487.7 521.9,1487C536.8,1486.4 549.7,1483.2 560.7,1480.5C571.7,1477.7 579.8,1474 587.9,1470.7C596,1467.5 605.7,1462.7 609.2,1461" stroke="#3d3d3d" stroke-width="7" fill="none" stroke-linejoin="round"/>
<rect x="32" y="1275.5" width="603.6" height="239.9" fill="none" stroke="#222" stroke-width="2"/>
<text x="38.5" y="1546.4" font-size="32.2" text-anchor="start" font-style="italic">Hoxb8</text>
<path d="M62.7 1555.4V1789.3M164 1555.4V1789.3M265.7 1555.4V1789.3M368.6 1555.4V1789.3M470.7 1555.4V1789.3M573.1 1555.4V1789.3" stroke="#ececec" stroke-width="4" fill="none"/>
<path d="M38.7 1775.6H635.4M38.7 1724.7H635.4M38.7 1673.7H635.4M38.7 1622.7H635.4M38.7 1571.8H635.4" stroke="#e8e8e8" stroke-width="3" fill="none"/>
<path d="M38.7 1750.2H635.4M38.7 1699.2H635.4M38.7 1648.2H635.4M38.7 1597.2H635.4" stroke="#efefef" stroke-width="2.2" fill="none"/>
<g clip-path="url(#c1)" stroke="#000" stroke-opacity="0.14" stroke-width="0.8">
<rect x="67.7" y="1769.2" width="15.5" height="12.8" rx="7.5" fill="#0c6b78"/>
<rect x="83.2" y="1769.2" width="50.5" height="12.8" rx="7.5" fill="#0c6b78"/>
<rect x="130.1" y="1769.2" width="15" height="12.8" rx="7.5" fill="#86c19b"/>
<rect x="139.8" y="1769.2" width="15" height="12.8" rx="7.5" fill="#0c6b78"/>
<rect x="150.5" y="1769.2" width="15" height="12.8" rx="7.5" fill="#86c19b"/>
<rect x="162.8" y="1769.2" width="17.5" height="12.8" rx="7.5" fill="#0c6b78"/>
<rect x="180.3" y="1769.2" width="116.5" height="12.8" rx="7.5" fill="#86c19b"/>
<rect x="296.7" y="1769.2" width="25.2" height="12.8" rx="7.5" fill="#0c6b78"/>
<rect x="321.3" y="1769.2" width="15" height="12.8" rx="7.5" fill="#86c19b"/>
<rect x="335.6" y="1769.2" width="102.9" height="12.8" rx="7.5" fill="#c9d98f"/>
<rect x="438.4" y="1769.2" width="42.7" height="12.8" rx="7.5" fill="#f2c04c"/>
<rect x="481.1" y="1769.2" width="36.9" height="12.8" rx="7.5" fill="#ea9820"/>
<rect x="514.4" y="1769.2" width="15" height="12.8" rx="7.5" fill="#f2c04c"/>
<rect x="525.8" y="1769.2" width="93.2" height="12.8" rx="7.5" fill="#ea9820"/>
<rect x="68.9" y="1698.6" width="15" height="12.8" rx="7.5" fill="#86c19b"/>
<rect x="83.2" y="1698.6" width="81.5" height="12.8" rx="7.5" fill="#0c6b78"/>
<rect x="164.8" y="1698.6" width="120.3" height="12.8" rx="7.5" fill="#86c19b"/>
<rect x="285.1" y="1698.6" width="23.3" height="12.8" rx="7.5" fill="#0c6b78"/>
<rect x="306.7" y="1698.6" width="15" height="12.8" rx="7.5" fill="#86c19b"/>
<rect x="320" y="1698.6" width="124.2" height="12.8" rx="7.5" fill="#c9d98f"/>
<rect x="444.3" y="1698.6" width="40.8" height="12.8" rx="7.5" fill="#f2c04c"/>
<rect x="485" y="1698.6" width="36.9" height="12.8" rx="7.5" fill="#ea9820"/>
<rect x="531.6" y="1698.6" width="38.8" height="12.8" rx="7.5" fill="#ea9820"/>
<rect x="585.9" y="1698.6" width="33" height="12.8" rx="7.5" fill="#ea9820"/>
<rect x="100.7" y="1657.2" width="21.4" height="12.8" rx="7.5" fill="#0c6b78"/>
<rect x="120.4" y="1657.2" width="15" height="12.8" rx="7.5" fill="#86c19b"/>
<rect x="133.7" y="1657.2" width="50.5" height="12.8" rx="7.5" fill="#0c6b78"/>
<rect x="184.2" y="1657.2" width="97" height="12.8" rx="7.5" fill="#86c19b"/>
<rect x="281.2" y="1657.2" width="15.5" height="12.8" rx="7.5" fill="#0c6b78"/>
<rect x="293.1" y="1657.2" width="15" height="12.8" rx="7.5" fill="#86c19b"/>
<rect x="301.9" y="1657.2" width="15" height="12.8" rx="7.5" fill="#0c6b78"/>
<rect x="314.2" y="1657.2" width="34.9" height="12.8" rx="7.5" fill="#c9d98f"/>
<rect x="355" y="1657.2" width="17.5" height="12.8" rx="7.5" fill="#c9d98f"/>
<rect x="388" y="1657.2" width="31.1" height="12.8" rx="7.5" fill="#c9d98f"/>
<rect x="430" y="1657.2" width="15" height="12.8" rx="7.5" fill="#c9d98f"/>
<rect x="444.3" y="1657.2" width="31.1" height="12.8" rx="7.5" fill="#f2c04c"/>
<rect x="472.7" y="1657.2" width="15" height="12.8" rx="7.5" fill="#ea9820"/>
<rect x="553" y="1657.2" width="15.5" height="12.8" rx="7.5" fill="#ea9820"/>
<rect x="572.4" y="1657.2" width="15.5" height="12.8" rx="7.5" fill="#ea9820"/>
<rect x="591.8" y="1657.2" width="27.2" height="12.8" rx="7.5" fill="#ea9820"/>
<rect x="106.5" y="1627.9" width="73.8" height="12.8" rx="7.5" fill="#0c6b78"/>
<rect x="180.3" y="1627.9" width="120.3" height="12.8" rx="7.5" fill="#86c19b"/>
<rect x="300.6" y="1627.9" width="17.5" height="12.8" rx="7.5" fill="#0c6b78"/>
<rect x="358.9" y="1627.9" width="17.5" height="12.8" rx="7.5" fill="#c9d98f"/>
<rect x="378.3" y="1627.9" width="15.5" height="12.8" rx="7.5" fill="#c9d98f"/>
<rect x="415.1" y="1627.9" width="15.5" height="12.8" rx="7.5" fill="#c9d98f"/>
<rect x="437.3" y="1627.9" width="15" height="12.8" rx="7.5" fill="#f2c04c"/>
<rect x="542.1" y="1627.9" width="15.5" height="12.8" rx="7.5" fill="#ea9820"/>
<rect x="111.2" y="1605.2" width="15.5" height="12.8" rx="7.5" fill="#0c6b78"/>
<rect x="129" y="1605.2" width="18.2" height="12.8" rx="7.5" fill="#0c6b78"/>
<rect x="147.3" y="1605.2" width="31.1" height="12.8" rx="7.5" fill="#0c6b78"/>
<rect x="180.3" y="1605.2" width="15.5" height="12.8" rx="7.5" fill="#0c6b78"/>
<rect x="236.6" y="1605.2" width="25.2" height="12.8" rx="7.5" fill="#86c19b"/>
<rect x="281.2" y="1605.2" width="15.5" height="12.8" rx="7.5" fill="#0c6b78"/>
<rect x="296.7" y="1605.2" width="17.5" height="12.8" rx="7.5" fill="#86c19b"/>
<rect x="341.4" y="1605.2" width="15.5" height="12.8" rx="7.5" fill="#c9d98f"/>
<rect x="152.3" y="1586.6" width="18.2" height="12.8" rx="7.5" fill="#0c6b78"/>
<rect x="225.6" y="1586.6" width="15" height="12.8" rx="7.5" fill="#86c19b"/>
<rect x="260.7" y="1586.6" width="15" height="12.8" rx="7.5" fill="#86c19b"/>
<rect x="282.4" y="1586.6" width="29.9" height="12.8" rx="7.5" fill="#0c6b78"/>
<rect x="146.5" y="1570.9" width="15.1" height="12.8" rx="7.5" fill="#0c6b78"/>
<rect x="250.2" y="1570.9" width="15.5" height="12.8" rx="7.5" fill="#86c19b"/>
<rect x="285.4" y="1570.9" width="15" height="12.8" rx="7.5" fill="#86c19b"/>
<rect x="296.4" y="1570.9" width="15" height="12.8" rx="7.5" fill="#0c6b78"/>
<rect x="155.8" y="1557.3" width="15.5" height="12.8" rx="7.5" fill="#86c19b"/>
</g>
<path d="M75.5,1749.6 L104.6,1750.8 L102.6,1757.4 L75.5,1777.6Z" fill="#bdbdbd" fill-opacity="0.6"/>
<path d="M75.5,1765.2C80,1762.9 93.6,1755.5 102.6,1751.6C111.7,1747.7 120.8,1744.1 129.8,1741.9C138.9,1739.6 147.3,1738.2 157,1738C166.7,1737.8 178.3,1740.4 188,1740.7C197.7,1741 206.2,1741.3 215.2,1739.9C224.3,1738.5 234,1734.6 242.4,1732.2C250.8,1729.8 259.2,1726.9 265.7,1725.6C272.2,1724.3 274.7,1723.9 281.2,1724.4C287.7,1724.8 295.4,1726 304.5,1728.3C313.6,1730.5 323.9,1734.4 335.6,1738C347.2,1741.5 361.4,1746.1 374.4,1749.6C387.3,1753.2 400.3,1756.4 413.2,1759.3C426.1,1762.2 439.1,1765 452,1767.1C465,1769.2 477.9,1771 490.8,1772.1C503.8,1773.3 516.7,1773.6 529.7,1774.1C542.6,1774.5 554.9,1774.9 568.5,1774.9C582.1,1774.9 604.1,1774.2 611.2,1774.1" stroke="#3d3d3d" stroke-width="7" fill="none" stroke-linejoin="round"/>
<rect x="34.7" y="1552.4" width="603.6" height="239.9" fill="none" stroke="#222" stroke-width="2"/>
<text x="38.5" y="1828.6" font-size="32.2" text-anchor="start" font-style="italic">Ehf</text>
<path d="M61.9 1838.9V2072.4M164 1838.9V2072.4M265.7 1838.9V2072.4M367.8 1838.9V2072.4M470.3 1838.9V2072.4M572.4 1838.9V2072.4" stroke="#ececec" stroke-width="4" fill="none"/>
<path d="M38.7 2062.6H635.4M38.7 1977.4H635.4M38.7 1892.3H635.4" stroke="#e8e8e8" stroke-width="3" fill="none"/>
<path d="M38.7 2020H635.4M38.7 1934.9H635.4M38.7 1849.7H635.4" stroke="#efefef" stroke-width="2.2" fill="none"/>
<g clip-path="url(#c2)" stroke="#000" stroke-opacity="0.14" stroke-width="0.8">
<rect x="67.7" y="2056.2" width="15.5" height="12.7" rx="7.5" fill="#0c6b78"/>
<rect x="83.2" y="2056.2" width="73.8" height="12.7" rx="7.5" fill="#0c6b78"/>
<rect x="155.3" y="2056.2" width="15" height="12.7" rx="7.5" fill="#86c19b"/>
<rect x="166" y="2056.2" width="15" height="12.7" rx="7.5" fill="#0c6b78"/>
<rect x="178.3" y="2056.2" width="118.4" height="12.7" rx="7.5" fill="#86c19b"/>
<rect x="292.9" y="2056.2" width="15.5" height="12.7" rx="7.5" fill="#0c6b78"/>
<rect x="308.4" y="2056.2" width="19.4" height="12.7" rx="7.5" fill="#86c19b"/>
<rect x="327.8" y="2056.2" width="104.8" height="12.7" rx="7.5" fill="#c9d98f"/>
<rect x="432.6" y="2056.2" width="42.7" height="12.7" rx="7.5" fill="#f2c04c"/>
<rect x="475.3" y="2056.2" width="31.1" height="12.7" rx="7.5" fill="#ea9820"/>
<rect x="506.4" y="2056.2" width="19.4" height="12.7" rx="7.5" fill="#f2c04c"/>
<rect x="525.8" y="2056.2" width="93.2" height="12.7" rx="7.5" fill="#ea9820"/>
<rect x="91" y="1997.2" width="42.7" height="12.7" rx="7.5" fill="#0c6b78"/>
<rect x="133.7" y="1997.2" width="31.1" height="12.7" rx="7.5" fill="#86c19b"/>
<rect x="164.8" y="1997.2" width="15.5" height="12.7" rx="7.5" fill="#0c6b78"/>
<rect x="180.3" y="1997.2" width="100.9" height="12.7" rx="7.5" fill="#86c19b"/>
<rect x="279.5" y="1997.2" width="15" height="12.7" rx="7.5" fill="#0c6b78"/>
<rect x="285.4" y="1997.2" width="15" height="12.7" rx="7.5" fill="#86c19b"/>
<rect x="296.7" y="1997.2" width="25.2" height="12.7" rx="7.5" fill="#0c6b78"/>
<rect x="321.3" y="1997.2" width="15" height="12.7" rx="7.5" fill="#86c19b"/>
<rect x="335.6" y="1997.2" width="102.9" height="12.7" rx="7.5" fill="#c9d98f"/>
<rect x="438.4" y="1997.2" width="36.9" height="12.7" rx="7.5" fill="#f2c04c"/>
<rect x="475.3" y="1997.2" width="38.8" height="12.7" rx="7.5" fill="#ea9820"/>
<rect x="514.1" y="1997.2" width="104.8" height="12.7" rx="7.5" fill="#ea9820"/>
<rect x="91" y="1962.7" width="31.1" height="12.7" rx="7.5" fill="#0c6b78"/>
<rect x="120.4" y="1962.7" width="15" height="12.7" rx="7.5" fill="#86c19b"/>
<rect x="133.7" y="1962.7" width="36.9" height="12.7" rx="7.5" fill="#0c6b78"/>
<rect x="170.6" y="1962.7" width="122.3" height="12.7" rx="7.5" fill="#86c19b"/>
<rect x="292.9" y="1962.7" width="19.4" height="12.7" rx="7.5" fill="#0c6b78"/>
<rect x="310.6" y="1962.7" width="15" height="12.7" rx="7.5" fill="#86c19b"/>
<rect x="315.4" y="1962.7" width="15" height="12.7" rx="7.5" fill="#0c6b78"/>
<rect x="323.2" y="1962.7" width="15" height="12.7" rx="7.5" fill="#86c19b"/>
<rect x="335.6" y="1962.7" width="100.9" height="12.7" rx="7.5" fill="#c9d98f"/>
<rect x="436.5" y="1962.7" width="42.7" height="12.7" rx="7.5" fill="#f2c04c"/>
<rect x="479.2" y="1962.7" width="29.1" height="12.7" rx="7.5" fill="#ea9820"/>
<rect x="510.2" y="1962.7" width="108.7" height="12.7" rx="7.5" fill="#ea9820"/>
<rect x="89.1" y="1938.2" width="71.8" height="12.7" rx="7.5" fill="#0c6b78"/>
<rect x="160.9" y="1938.2" width="17.5" height="12.7" rx="7.5" fill="#86c19b"/>
<rect x="162.8" y="1938.2" width="15.5" height="12.7" rx="7.5" fill="#0c6b78"/>
<rect x="178.3" y="1938.2" width="118.4" height="12.7" rx="7.5" fill="#86c19b"/>
<rect x="296.7" y="1938.2" width="25.2" height="12.7" rx="7.5" fill="#0c6b78"/>
<rect x="321.3" y="1938.2" width="15" height="12.7" rx="7.5" fill="#86c19b"/>
<rect x="335.6" y="1938.2" width="56.3" height="12.7" rx="7.5" fill="#c9d98f"/>
<rect x="397.7" y="1938.2" width="40.8" height="12.7" rx="7.5" fill="#c9d98f"/>
<rect x="438.4" y="1938.2" width="40.8" height="12.7" rx="7.5" fill="#f2c04c"/>
<rect x="479.2" y="1938.2" width="38.8" height="12.7" rx="7.5" fill="#ea9820"/>
<rect x="533.5" y="1938.2" width="73.8" height="12.7" rx="7.5" fill="#ea9820"/>
<rect x="605.6" y="1938.2" width="15" height="12.7" rx="7.5" fill="#f2c04c"/>
<rect x="85.2" y="1919.2" width="56.3" height="12.7" rx="7.5" fill="#0c6b78"/>
<rect x="135.9" y="1919.2" width="15" height="12.7" rx="7.5" fill="#86c19b"/>
<rect x="145.3" y="1919.2" width="25.2" height="12.7" rx="7.5" fill="#0c6b78"/>
<rect x="170.6" y="1919.2" width="126.2" height="12.7" rx="7.5" fill="#86c19b"/>
<rect x="295.1" y="1919.2" width="15" height="12.7" rx="7.5" fill="#86c19b"/>
<rect x="306.7" y="1919.2" width="15" height="12.7" rx="7.5" fill="#0c6b78"/>
<rect x="320" y="1919.2" width="31.1" height="12.7" rx="7.5" fill="#c9d98f"/>
<rect x="358.9" y="1919.2" width="19.4" height="12.7" rx="7.5" fill="#c9d98f"/>
<rect x="384.1" y="1919.2" width="15.5" height="12.7" rx="7.5" fill="#c9d98f"/>
<rect x="413.2" y="1919.2" width="25.2" height="12.7" rx="7.5" fill="#c9d98f"/>
<rect x="438.4" y="1919.2" width="34.9" height="12.7" rx="7.5" fill="#f2c04c"/>
<rect x="473.4" y="1919.2" width="29.1" height="12.7" rx="7.5" fill="#ea9820"/>
<rect x="521.9" y="1919.2" width="71.8" height="12.7" rx="7.5" fill="#ea9820"/>
<rect x="603.4" y="1919.2" width="15.5" height="12.7" rx="7.5" fill="#ea9820"/>
<rect x="89.1" y="1903.7" width="50.5" height="12.7" rx="7.5" fill="#0c6b78"/>
<rect x="139.5" y="1903.7" width="15.5" height="12.7" rx="7.5" fill="#86c19b"/>
<rect x="153.4" y="1903.7" width="15" height="12.7" rx="7.5" fill="#0c6b78"/>
<rect x="166.7" y="1903.7" width="52.4" height="12.7" rx="7.5" fill="#86c19b"/>
<rect x="224.9" y="1903.7" width="54.3" height="12.7" rx="7.5" fill="#86c19b"/>
<rect x="283.2" y="1903.7" width="33" height="12.7" rx="7.5" fill="#0c6b78"/>
<rect x="335.6" y="1903.7" width="15.5" height="12.7" rx="7.5" fill="#c9d98f"/>
<rect x="360.8" y="1903.7" width="15.5" height="12.7" rx="7.5" fill="#c9d98f"/>
<rect x="388" y="1903.7" width="15.5" height="12.7" rx="7.5" fill="#c9d98f"/>
<rect x="419" y="1903.7" width="15.5" height="12.7" rx="7.5" fill="#c9d98f"/>
<rect x="446.2" y="1903.7" width="40.8" height="12.7" rx="7.5" fill="#f2c04c"/>
<rect x="485.3" y="1903.7" width="15" height="12.7" rx="7.5" fill="#ea9820"/>
<rect x="520" y="1903.7" width="17.5" height="12.7" rx="7.5" fill="#f2c04c"/>
<rect x="537.4" y="1903.7" width="31.1" height="12.7" rx="7.5" fill="#ea9820"/>
<rect x="87.1" y="1890.6" width="23.3" height="12.7" rx="7.5" fill="#0c6b78"/>
<rect x="114.3" y="1890.6" width="42.7" height="12.7" rx="7.5" fill="#0c6b78"/>
<rect x="157" y="1890.6" width="31.1" height="12.7" rx="7.5" fill="#86c19b"/>
<rect x="185.4" y="1890.6" width="15" height="12.7" rx="7.5" fill="#0c6b78"/>
<rect x="219.1" y="1890.6" width="81.5" height="12.7" rx="7.5" fill="#86c19b"/>
<rect x="301.8" y="1890.6" width="15.5" height="12.7" rx="7.5" fill="#0c6b78"/>
<rect x="536.6" y="1890.6" width="15.5" height="12.7" rx="7.5" fill="#f2c04c"/>
<rect x="120.1" y="1879.2" width="21.4" height="12.7" rx="7.5" fill="#0c6b78"/>
<rect x="145.3" y="1879.2" width="17.5" height="12.7" rx="7.5" fill="#0c6b78"/>
<rect x="236.6" y="1879.2" width="15.5" height="12.7" rx="7.5" fill="#86c19b"/>
<rect x="301.8" y="1879.2" width="15.1" height="12.7" rx="7.5" fill="#0c6b78"/>
<rect x="336.7" y="1879.2" width="15.1" height="12.7" rx="7.5" fill="#c9d98f"/>
<rect x="157.8" y="1869.2" width="16.7" height="12.7" rx="7.5" fill="#0c6b78"/>
<rect x="259.1" y="1869.2" width="21.4" height="12.7" rx="7.5" fill="#86c19b"/>
<rect x="149.2" y="1860.2" width="15.5" height="12.7" rx="7.5" fill="#0c6b78"/>
<rect x="164.8" y="1860.2" width="15.5" height="12.7" rx="7.5" fill="#86c19b"/>
</g>
<path d="M75.5,1995.8 L102.6,1995.8 L102.6,2007.5 L75.5,2011.3Z" fill="#bdbdbd" fill-opacity="0.6"/>
<path d="M75.5,2004.7C80,2003.8 91.6,2001.4 102.6,1998.9C113.6,1996.5 128.5,1992.4 141.5,1990C154.4,1987.5 167.3,1985.5 180.3,1984.2C193.2,1982.9 206.2,1982.1 219.1,1982.2C232,1982.3 245,1983.3 257.9,1984.9C270.9,1986.6 283.8,1990.1 296.7,1991.9C309.7,1993.7 322.6,1995 335.6,1995.8C348.5,1996.6 361.4,1996.8 374.4,1996.6C387.3,1996.4 400.3,1995.1 413.2,1994.6C426.1,1994.2 439.1,1993.7 452,1993.9C465,1994.1 477.9,1994.8 490.8,1995.8C503.8,1996.8 516.7,1997.7 529.7,1999.7C542.6,2001.6 554.9,2004.2 568.5,2007.5C582.1,2010.7 604.1,2017.2 611.2,2019.1" stroke="#3d3d3d" stroke-width="7" fill="none" stroke-linejoin="round"/>
<rect x="34.7" y="1835.9" width="603.6" height="239.5" fill="none" stroke="#222" stroke-width="2"/>
<text x="38.5" y="2114" font-size="32.2" text-anchor="start" font-style="italic">Cdx1</text>
<path d="M62.7 2121.9V2355.4M164.8 2121.9V2355.4M266.8 2121.9V2355.4M368.6 2121.9V2355.4M471.4 2121.9V2355.4M573.5 2121.9V2355.4" stroke="#ececec" stroke-width="4" fill="none"/>
<path d="M39.9 2348.7H636.1M39.9 2296H636.1M39.9 2243.4H636.1M39.9 2190.7H636.1M39.9 2138H636.1" stroke="#e8e8e8" stroke-width="3" fill="none"/>
<path d="M39.9 2322.4H636.1M39.9 2269.7H636.1M39.9 2217H636.1M39.9 2164.4H636.1" stroke="#efefef" stroke-width="2.2" fill="none"/>
<g clip-path="url(#c3)" stroke="#000" stroke-opacity="0.14" stroke-width="0.8">
<rect x="69.6" y="2342.7" width="15.5" height="11.9" rx="7.5" fill="#0c6b78"/>
<rect x="87.1" y="2342.7" width="81.5" height="11.9" rx="7.5" fill="#0c6b78"/>
<rect x="168.6" y="2342.7" width="128.1" height="11.9" rx="7.5" fill="#86c19b"/>
<rect x="296.7" y="2342.7" width="27.2" height="11.9" rx="7.5" fill="#0c6b78"/>
<rect x="322.2" y="2342.7" width="15" height="11.9" rx="7.5" fill="#86c19b"/>
<rect x="335.6" y="2342.7" width="100.9" height="11.9" rx="7.5" fill="#c9d98f"/>
<rect x="436.5" y="2342.7" width="44.6" height="11.9" rx="7.5" fill="#f2c04c"/>
<rect x="481.1" y="2342.7" width="33" height="11.9" rx="7.5" fill="#ea9820"/>
<rect x="512.5" y="2342.7" width="15" height="11.9" rx="7.5" fill="#f2c04c"/>
<rect x="525.8" y="2342.7" width="95.1" height="11.9" rx="7.5" fill="#ea9820"/>
<rect x="91" y="2269.7" width="38.8" height="11.9" rx="7.5" fill="#0c6b78"/>
<rect x="129.8" y="2269.7" width="15.5" height="11.9" rx="7.5" fill="#86c19b"/>
<rect x="145.3" y="2269.7" width="15.5" height="11.9" rx="7.5" fill="#0c6b78"/>
<rect x="160.9" y="2269.7" width="19.4" height="11.9" rx="7.5" fill="#86c19b"/>
<rect x="176.7" y="2269.7" width="15" height="11.9" rx="7.5" fill="#0c6b78"/>
<rect x="188" y="2269.7" width="104.8" height="11.9" rx="7.5" fill="#86c19b"/>
<rect x="292.9" y="2269.7" width="19.4" height="11.9" rx="7.5" fill="#0c6b78"/>
<rect x="308.6" y="2269.7" width="15" height="11.9" rx="7.5" fill="#86c19b"/>
<rect x="315.4" y="2269.7" width="15" height="11.9" rx="7.5" fill="#0c6b78"/>
<rect x="324.2" y="2269.7" width="15" height="11.9" rx="7.5" fill="#86c19b"/>
<rect x="337.5" y="2269.7" width="99" height="11.9" rx="7.5" fill="#c9d98f"/>
<rect x="436.5" y="2269.7" width="38.8" height="11.9" rx="7.5" fill="#f2c04c"/>
<rect x="475.3" y="2269.7" width="50.5" height="11.9" rx="7.5" fill="#ea9820"/>
<rect x="525.8" y="2269.7" width="19.4" height="11.9" rx="7.5" fill="#f2c04c"/>
<rect x="545.2" y="2269.7" width="46.6" height="11.9" rx="7.5" fill="#ea9820"/>
<rect x="590.1" y="2269.7" width="15" height="11.9" rx="7.5" fill="#f2c04c"/>
<rect x="603.4" y="2269.7" width="17.5" height="11.9" rx="7.5" fill="#ea9820"/>
<rect x="69.6" y="2227" width="15.5" height="11.9" rx="7.5" fill="#0c6b78"/>
<rect x="92.9" y="2227" width="79.6" height="11.9" rx="7.5" fill="#0c6b78"/>
<rect x="172.5" y="2227" width="15.5" height="11.9" rx="7.5" fill="#86c19b"/>
<rect x="188" y="2227" width="91.2" height="11.9" rx="7.5" fill="#86c19b"/>
<rect x="279.3" y="2227" width="36.9" height="11.9" rx="7.5" fill="#0c6b78"/>
<rect x="315.4" y="2227" width="15" height="11.9" rx="7.5" fill="#86c19b"/>
<rect x="329.7" y="2227" width="118.4" height="11.9" rx="7.5" fill="#c9d98f"/>
<rect x="448.1" y="2227" width="29.1" height="11.9" rx="7.5" fill="#f2c04c"/>
<rect x="477.3" y="2227" width="29.1" height="11.9" rx="7.5" fill="#ea9820"/>
<rect x="512.2" y="2227" width="108.7" height="11.9" rx="7.5" fill="#ea9820"/>
<rect x="70.5" y="2196.7" width="15" height="11.9" rx="7.5" fill="#86c19b"/>
<rect x="85.2" y="2196.7" width="104.8" height="11.9" rx="7.5" fill="#0c6b78"/>
<rect x="190" y="2196.7" width="102.9" height="11.9" rx="7.5" fill="#86c19b"/>
<rect x="292.9" y="2196.7" width="33" height="11.9" rx="7.5" fill="#0c6b78"/>
<rect x="325.9" y="2196.7" width="116.5" height="11.9" rx="7.5" fill="#c9d98f"/>
<rect x="448.1" y="2196.7" width="31.1" height="11.9" rx="7.5" fill="#f2c04c"/>
<rect x="479.2" y="2196.7" width="15.5" height="11.9" rx="7.5" fill="#ea9820"/>
<rect x="537.4" y="2196.7" width="38.8" height="11.9" rx="7.5" fill="#ea9820"/>
<rect x="572.6" y="2196.7" width="15" height="11.9" rx="7.5" fill="#f2c04c"/>
<rect x="584" y="2196.7" width="36.9" height="11.9" rx="7.5" fill="#ea9820"/>
<rect x="92.9" y="2173.2" width="71.8" height="11.9" rx="7.5" fill="#0c6b78"/>
<rect x="164.8" y="2173.2" width="48.5" height="11.9" rx="7.5" fill="#86c19b"/>
<rect x="224.9" y="2173.2" width="71.8" height="11.9" rx="7.5" fill="#86c19b"/>
<rect x="296.7" y="2173.2" width="25.2" height="11.9" rx="7.5" fill="#0c6b78"/>
<rect x="329.7" y="2173.2" width="77.6" height="11.9" rx="7.5" fill="#c9d98f"/>
<rect x="416.3" y="2173.2" width="20.2" height="11.9" rx="7.5" fill="#c9d98f"/>
<rect x="438.4" y="2173.2" width="15.5" height="11.9" rx="7.5" fill="#f2c04c"/>
<rect x="553" y="2173.2" width="33" height="11.9" rx="7.5" fill="#ea9820"/>
<rect x="77.4" y="2154" width="29.1" height="11.9" rx="7.5" fill="#0c6b78"/>
<rect x="106.5" y="2154" width="48.5" height="11.9" rx="7.5" fill="#0c6b78"/>
<rect x="158.9" y="2154" width="20.6" height="11.9" rx="7.5" fill="#0c6b78"/>
<rect x="222.2" y="2154" width="34.9" height="11.9" rx="7.5" fill="#86c19b"/>
<rect x="268.9" y="2154" width="15" height="11.9" rx="7.5" fill="#0c6b78"/>
<rect x="281.2" y="2154" width="15.5" height="11.9" rx="7.5" fill="#86c19b"/>
<rect x="298.7" y="2154" width="21.4" height="11.9" rx="7.5" fill="#86c19b"/>
<rect x="302.6" y="2154" width="17.5" height="11.9" rx="7.5" fill="#0c6b78"/>
<rect x="322" y="2154" width="34.9" height="11.9" rx="7.5" fill="#86c19b"/>
<rect x="362.7" y="2154" width="29.1" height="11.9" rx="7.5" fill="#c9d98f"/>
<rect x="415.1" y="2154" width="15.5" height="11.9" rx="7.5" fill="#c9d98f"/>
<rect x="461.7" y="2154" width="15.5" height="11.9" rx="7.5" fill="#f2c04c"/>
<rect x="537.4" y="2154" width="15.5" height="11.9" rx="7.5" fill="#ea9820"/>
<rect x="567.7" y="2154" width="16.3" height="11.9" rx="7.5" fill="#ea9820"/>
<rect x="110.4" y="2137.8" width="15.5" height="11.9" rx="7.5" fill="#0c6b78"/>
<rect x="161.6" y="2137.8" width="15.5" height="11.9" rx="7.5" fill="#0c6b78"/>
<rect x="248.2" y="2137.8" width="15.5" height="11.9" rx="7.5" fill="#86c19b"/>
<rect x="279.3" y="2137.8" width="33" height="11.9" rx="7.5" fill="#86c19b"/>
<rect x="337.5" y="2137.8" width="15.5" height="11.9" rx="7.5" fill="#c9d98f"/>
<rect x="359.6" y="2137.8" width="20.6" height="11.9" rx="7.5" fill="#c9d98f"/>
<rect x="118.2" y="2123.7" width="27.2" height="11.9" rx="7.5" fill="#0c6b78"/>
<rect x="234.6" y="2123.7" width="15.5" height="11.9" rx="7.5" fill="#86c19b"/>
<rect x="298" y="2123.7" width="15" height="11.9" rx="7.5" fill="#86c19b"/>
<rect x="312.3" y="2123.7" width="15.5" height="11.9" rx="7.5" fill="#0c6b78"/>
<rect x="356.9" y="2123.7" width="15.5" height="11.9" rx="7.5" fill="#c9d98f"/>
</g>
<path d="M77.4,2278 L100.7,2284.6 L100.7,2290.5 L77.4,2300.2Z" fill="#bdbdbd" fill-opacity="0.6"/>
<path d="M77.4,2288.5C81.6,2288.2 92,2287.5 102.6,2286.6C113.3,2285.6 128.5,2284.5 141.5,2282.7C154.4,2280.9 167.3,2278 180.3,2275.7C193.2,2273.4 206.2,2271.2 219.1,2269.1C232,2267 245,2265.2 257.9,2263.3C270.9,2261.3 285.1,2258.8 296.7,2257.5C308.4,2256.2 318.1,2255.5 327.8,2255.5C337.5,2255.5 344,2255.8 355,2257.5C366,2259.1 380.8,2262.3 393.8,2265.2C406.7,2268.1 419.7,2271.7 432.6,2274.9C445.5,2278.2 458.5,2282 471.4,2284.6C484.4,2287.2 497.3,2288.5 510.2,2290.5C523.2,2292.4 536.1,2294 549.1,2296.3C562,2298.5 577.5,2301.3 587.9,2304C598.2,2306.8 607.3,2311.2 611.2,2312.6" stroke="#3d3d3d" stroke-width="7" fill="none" stroke-linejoin="round"/>
<rect x="35.9" y="2118.9" width="603.3" height="239.5" fill="none" stroke="#222" stroke-width="2"/>
<text x="39.5" y="2401" font-size="32.2" text-anchor="start" font-style="italic">Hoxb7</text>
<path d="M61.9 2408.4V2641.6M164 2408.4V2641.6M265.7 2408.4V2641.6M368.6 2408.4V2641.6M470.7 2408.4V2641.6M572.4 2408.4V2641.6" stroke="#ececec" stroke-width="4" fill="none"/>
<path d="M38.7 2623.2H635.4M38.7 2570H635.4M38.7 2516.8H635.4M38.7 2463.7H635.4M38.7 2410.5H635.4" stroke="#e8e8e8" stroke-width="3" fill="none"/>
<path d="M38.7 2596.6H635.4M38.7 2543.4H635.4M38.7 2490.2H635.4M38.7 2437.1H635.4" stroke="#efefef" stroke-width="2.2" fill="none"/>
<g clip-path="url(#c4)" stroke="#000" stroke-opacity="0.14" stroke-width="0.8">
<rect x="67.7" y="2616.5" width="15.5" height="13.5" rx="7.5" fill="#0c6b78"/>
<rect x="83.2" y="2616.5" width="50.5" height="13.5" rx="7.5" fill="#0c6b78"/>
<rect x="133.7" y="2616.5" width="34.9" height="13.5" rx="7.5" fill="#86c19b"/>
<rect x="167" y="2616.5" width="15" height="13.5" rx="7.5" fill="#0c6b78"/>
<rect x="180.3" y="2616.5" width="116.5" height="13.5" rx="7.5" fill="#86c19b"/>
<rect x="296.7" y="2616.5" width="23.3" height="13.5" rx="7.5" fill="#0c6b78"/>
<rect x="320" y="2616.5" width="25.2" height="13.5" rx="7.5" fill="#86c19b"/>
<rect x="345.3" y="2616.5" width="93.2" height="13.5" rx="7.5" fill="#c9d98f"/>
<rect x="438.4" y="2616.5" width="42.7" height="13.5" rx="7.5" fill="#f2c04c"/>
<rect x="481.1" y="2616.5" width="33" height="13.5" rx="7.5" fill="#ea9820"/>
<rect x="512.5" y="2616.5" width="15" height="13.5" rx="7.5" fill="#f2c04c"/>
<rect x="525.8" y="2616.5" width="93.2" height="13.5" rx="7.5" fill="#ea9820"/>
<rect x="92.9" y="2542.7" width="67.9" height="13.5" rx="7.5" fill="#0c6b78"/>
<rect x="155.3" y="2542.7" width="15" height="13.5" rx="7.5" fill="#86c19b"/>
<rect x="164" y="2542.7" width="15" height="13.5" rx="7.5" fill="#0c6b78"/>
<rect x="178.3" y="2542.7" width="114.5" height="13.5" rx="7.5" fill="#86c19b"/>
<rect x="292.9" y="2542.7" width="31.1" height="13.5" rx="7.5" fill="#0c6b78"/>
<rect x="323.9" y="2542.7" width="116.5" height="13.5" rx="7.5" fill="#c9d98f"/>
<rect x="440.4" y="2542.7" width="29.1" height="13.5" rx="7.5" fill="#f2c04c"/>
<rect x="469.5" y="2542.7" width="34.9" height="13.5" rx="7.5" fill="#ea9820"/>
<rect x="527.7" y="2542.7" width="38.8" height="13.5" rx="7.5" fill="#ea9820"/>
<rect x="578.2" y="2542.7" width="40.8" height="13.5" rx="7.5" fill="#ea9820"/>
<rect x="102.6" y="2499.6" width="38.8" height="13.5" rx="7.5" fill="#0c6b78"/>
<rect x="141.5" y="2499.6" width="17.5" height="13.5" rx="7.5" fill="#0c6b78"/>
<rect x="164" y="2499.6" width="29.9" height="13.5" rx="7.5" fill="#0c6b78"/>
<rect x="193.9" y="2499.6" width="99" height="13.5" rx="7.5" fill="#86c19b"/>
<rect x="292.9" y="2499.6" width="21.4" height="13.5" rx="7.5" fill="#0c6b78"/>
<rect x="308.6" y="2499.6" width="15" height="13.5" rx="7.5" fill="#86c19b"/>
<rect x="327.8" y="2499.6" width="120.3" height="13.5" rx="7.5" fill="#c9d98f"/>
<rect x="448.1" y="2499.6" width="31.1" height="13.5" rx="7.5" fill="#f2c04c"/>
<rect x="479.2" y="2499.6" width="38.8" height="13.5" rx="7.5" fill="#ea9820"/>
<rect x="528" y="2499.6" width="15" height="13.5" rx="7.5" fill="#f2c04c"/>
<rect x="541.3" y="2499.6" width="75.7" height="13.5" rx="7.5" fill="#ea9820"/>
<rect x="111.2" y="2469" width="76.9" height="13.5" rx="7.5" fill="#0c6b78"/>
<rect x="188" y="2469" width="89.3" height="13.5" rx="7.5" fill="#86c19b"/>
<rect x="279.3" y="2469" width="31.1" height="13.5" rx="7.5" fill="#0c6b78"/>
<rect x="314.2" y="2469" width="15.5" height="13.5" rx="7.5" fill="#86c19b"/>
<rect x="341.4" y="2469" width="27.2" height="13.5" rx="7.5" fill="#c9d98f"/>
<rect x="395.7" y="2469" width="15.5" height="13.5" rx="7.5" fill="#c9d98f"/>
<rect x="419" y="2469" width="15.5" height="13.5" rx="7.5" fill="#c9d98f"/>
<rect x="436.5" y="2469" width="38.8" height="13.5" rx="7.5" fill="#f2c04c"/>
<rect x="474.6" y="2469" width="15" height="13.5" rx="7.5" fill="#ea9820"/>
<rect x="537.4" y="2469" width="33" height="13.5" rx="7.5" fill="#ea9820"/>
<rect x="574.3" y="2469" width="27.2" height="13.5" rx="7.5" fill="#ea9820"/>
<rect x="110.4" y="2445.3" width="22.5" height="13.5" rx="7.5" fill="#0c6b78"/>
<rect x="151.2" y="2445.3" width="16.7" height="13.5" rx="7.5" fill="#0c6b78"/>
<rect x="169.9" y="2445.3" width="15" height="13.5" rx="7.5" fill="#0c6b78"/>
<rect x="181.5" y="2445.3" width="15" height="13.5" rx="7.5" fill="#86c19b"/>
<rect x="204.3" y="2445.3" width="15.5" height="13.5" rx="7.5" fill="#86c19b"/>
<rect x="230" y="2445.3" width="15.5" height="13.5" rx="7.5" fill="#86c19b"/>
<rect x="268.8" y="2445.3" width="15.5" height="13.5" rx="7.5" fill="#0c6b78"/>
<rect x="294.8" y="2445.3" width="18.2" height="13.5" rx="7.5" fill="#86c19b"/>
<rect x="344.1" y="2445.3" width="15.5" height="13.5" rx="7.5" fill="#c9d98f"/>
<rect x="155" y="2425.9" width="16.3" height="13.5" rx="7.5" fill="#86c19b"/>
<rect x="269.6" y="2425.9" width="15.5" height="13.5" rx="7.5" fill="#86c19b"/>
</g>
<path d="M75.5,2608.5 L94.9,2609.6 L83.2,2622 L75.5,2633.7Z" fill="#bdbdbd" fill-opacity="0.6"/>
<path d="M75.5,2622C80,2619.8 92.9,2613.3 102.6,2608.5C112.3,2603.6 124,2596.8 133.7,2592.9C143.4,2589 151.8,2587 160.9,2585.2C169.9,2583.3 178.3,2582.6 188,2582.1C197.7,2581.5 207.5,2581.3 219.1,2581.7C230.7,2582 245,2583.4 257.9,2584C270.9,2584.6 283.8,2585.1 296.7,2585.2C309.7,2585.2 322.6,2584.6 335.6,2584.4C348.5,2584.2 361.4,2583.9 374.4,2584C387.3,2584.1 400.3,2583.9 413.2,2584.8C426.1,2585.6 439.1,2586.7 452,2589C465,2591.4 477.9,2595.4 490.8,2598.7C503.8,2602.1 516.7,2606.3 529.7,2609.2C542.6,2612.1 554.9,2614.6 568.5,2616.2C582.1,2617.8 604.1,2618.5 611.2,2618.9" stroke="#3d3d3d" stroke-width="7" fill="none" stroke-linejoin="round"/>
<rect x="34.7" y="2405.4" width="603.6" height="239.1" fill="none" stroke="#222" stroke-width="2"/>
<text x="649" y="1266" font-size="32.2" text-anchor="start" font-style="italic">Nr1h4</text>
<path d="M674.9 1278.5V1511.6M780.1 1278.5V1511.6M882.6 1278.5V1511.6M984.7 1278.5V1511.6M1086.8 1278.5V1511.6M1188.5 1278.5V1511.6" stroke="#ececec" stroke-width="4" fill="none"/>
<path d="M655.6 1492.5H1251.5M655.6 1442.3H1251.5M655.6 1392.2H1251.5M655.6 1342.1H1251.5M655.6 1291.9H1251.5" stroke="#e8e8e8" stroke-width="3" fill="none"/>
<path d="M655.6 1467.4H1251.5M655.6 1417.3H1251.5M655.6 1367.1H1251.5M655.6 1317H1251.5" stroke="#efefef" stroke-width="2.2" fill="none"/>
<g clip-path="url(#c5)" stroke="#000" stroke-opacity="0.14" stroke-width="0.8">
<rect x="685.8" y="1486" width="17.5" height="13" rx="7.5" fill="#0c6b78"/>
<rect x="703.2" y="1486" width="46.6" height="13" rx="7.5" fill="#0c6b78"/>
<rect x="748.1" y="1486" width="15" height="13" rx="7.5" fill="#86c19b"/>
<rect x="761.5" y="1486" width="15.5" height="13" rx="7.5" fill="#0c6b78"/>
<rect x="775.3" y="1486" width="15" height="13" rx="7.5" fill="#86c19b"/>
<rect x="785" y="1486" width="15" height="13" rx="7.5" fill="#0c6b78"/>
<rect x="796.4" y="1486" width="116.5" height="13" rx="7.5" fill="#86c19b"/>
<rect x="912.9" y="1486" width="25.2" height="13" rx="7.5" fill="#0c6b78"/>
<rect x="938.1" y="1486" width="15.5" height="13" rx="7.5" fill="#86c19b"/>
<rect x="953.6" y="1486" width="100.9" height="13" rx="7.5" fill="#c9d98f"/>
<rect x="1054.5" y="1486" width="42.7" height="13" rx="7.5" fill="#f2c04c"/>
<rect x="1097.3" y="1486" width="44.6" height="13" rx="7.5" fill="#ea9820"/>
<rect x="1141.9" y="1486" width="19.4" height="13" rx="7.5" fill="#f2c04c"/>
<rect x="1161.3" y="1486" width="69.9" height="13" rx="7.5" fill="#ea9820"/>
<rect x="710.2" y="1416.5" width="53.2" height="13" rx="7.5" fill="#0c6b78"/>
<rect x="765.3" y="1416.5" width="19.4" height="13" rx="7.5" fill="#0c6b78"/>
<rect x="784.8" y="1416.5" width="15.5" height="13" rx="7.5" fill="#86c19b"/>
<rect x="800.3" y="1416.5" width="100.9" height="13" rx="7.5" fill="#86c19b"/>
<rect x="900.5" y="1416.5" width="15" height="13" rx="7.5" fill="#0c6b78"/>
<rect x="914.8" y="1416.5" width="19.4" height="13" rx="7.5" fill="#86c19b"/>
<rect x="934.2" y="1416.5" width="124.2" height="13" rx="7.5" fill="#c9d98f"/>
<rect x="1058.4" y="1416.5" width="25.2" height="13" rx="7.5" fill="#f2c04c"/>
<rect x="1083.7" y="1416.5" width="108.7" height="13" rx="7.5" fill="#ea9820"/>
<rect x="1191.7" y="1416.5" width="15" height="13" rx="7.5" fill="#f2c04c"/>
<rect x="1205.9" y="1416.5" width="21.4" height="13" rx="7.5" fill="#ea9820"/>
<rect x="1224.7" y="1416.5" width="15" height="13" rx="7.5" fill="#f2c04c"/>
<rect x="720.7" y="1375.8" width="15.5" height="13" rx="7.5" fill="#0c6b78"/>
<rect x="766.2" y="1375.8" width="15" height="13" rx="7.5" fill="#86c19b"/>
<rect x="782.8" y="1375.8" width="15.5" height="13" rx="7.5" fill="#0c6b78"/>
<rect x="815.8" y="1375.8" width="22.5" height="13" rx="7.5" fill="#86c19b"/>
<rect x="844.1" y="1375.8" width="38.4" height="13" rx="7.5" fill="#86c19b"/>
<rect x="919.5" y="1375.8" width="15" height="13" rx="7.5" fill="#0c6b78"/>
<rect x="932.5" y="1375.8" width="15" height="13" rx="7.5" fill="#86c19b"/>
<rect x="949.7" y="1375.8" width="29.9" height="13" rx="7.5" fill="#c9d98f"/>
<rect x="979.1" y="1375.8" width="15" height="13" rx="7.5" fill="#c9d98f"/>
<rect x="997.5" y="1375.8" width="22.1" height="13" rx="7.5" fill="#c9d98f"/>
<rect x="1022.7" y="1375.8" width="35.7" height="13" rx="7.5" fill="#c9d98f"/>
<rect x="1058.4" y="1375.8" width="29.1" height="13" rx="7.5" fill="#f2c04c"/>
<rect x="1087.5" y="1375.8" width="33" height="13" rx="7.5" fill="#ea9820"/>
<rect x="1120.5" y="1375.8" width="15.5" height="13" rx="7.5" fill="#ea9820"/>
<rect x="1136.1" y="1375.8" width="17.5" height="13" rx="7.5" fill="#f2c04c"/>
<rect x="1153.5" y="1375.8" width="71.8" height="13" rx="7.5" fill="#ea9820"/>
<rect x="1224.7" y="1375.8" width="15" height="13" rx="7.5" fill="#f2c04c"/>
<rect x="962.2" y="1347" width="15.5" height="13" rx="7.5" fill="#c9d98f"/>
<rect x="982" y="1347" width="24.1" height="13" rx="7.5" fill="#c9d98f"/>
<rect x="1008" y="1347" width="44.6" height="13" rx="7.5" fill="#c9d98f"/>
<rect x="1052.6" y="1347" width="38.8" height="13" rx="7.5" fill="#f2c04c"/>
<rect x="1091.4" y="1347" width="27.2" height="13" rx="7.5" fill="#ea9820"/>
<rect x="1140" y="1347" width="83.5" height="13" rx="7.5" fill="#ea9820"/>
<rect x="1224.7" y="1347" width="15" height="13" rx="7.5" fill="#ea9820"/>
<rect x="997.5" y="1324.6" width="15.5" height="13" rx="7.5" fill="#c9d98f"/>
<rect x="1026.6" y="1324.6" width="15.5" height="13" rx="7.5" fill="#c9d98f"/>
<rect x="1046.1" y="1324.6" width="15" height="13" rx="7.5" fill="#c9d98f"/>
<rect x="1060.4" y="1324.6" width="27.2" height="13" rx="7.5" fill="#f2c04c"/>
<rect x="1087.5" y="1324.6" width="33" height="13" rx="7.5" fill="#ea9820"/>
<rect x="1133.4" y="1324.6" width="16.3" height="13" rx="7.5" fill="#ea9820"/>
<rect x="1149.7" y="1324.6" width="71.8" height="13" rx="7.5" fill="#ea9820"/>
<rect x="1075.9" y="1306.3" width="15.5" height="13" rx="7.5" fill="#f2c04c"/>
<rect x="1092.2" y="1306.3" width="15.5" height="13" rx="7.5" fill="#ea9820"/>
<rect x="1141.9" y="1306.3" width="23.3" height="13" rx="7.5" fill="#ea9820"/>
<rect x="1176.8" y="1306.3" width="38.8" height="13" rx="7.5" fill="#ea9820"/>
<rect x="1067.4" y="1290.9" width="15.5" height="13" rx="7.5" fill="#f2c04c"/>
<rect x="1069.3" y="1277.5" width="22.1" height="13" rx="7.5" fill="#f2c04c"/>
<rect x="1089.2" y="1277.5" width="15" height="13" rx="7.5" fill="#ea9820"/>
<rect x="1224.5" y="1317.9" width="15" height="13" rx="7.5" fill="#ea9820"/>
<rect x="1224.5" y="1413.8" width="15" height="13" rx="7.5" fill="#ea9820"/>
<rect x="1224.5" y="1473.2" width="15" height="13" rx="7.5" fill="#ea9820"/>
</g>
<path d="M691.6,1476.6 L718.8,1484.3 L718.8,1492.1 L691.6,1504.9Z" fill="#bdbdbd" fill-opacity="0.6"/>
<path d="M691.6,1489.4C696.8,1489.1 711,1488.2 722.6,1487.4C734.3,1486.7 748.5,1485.4 761.5,1484.7C774.4,1484 787.3,1483.7 800.3,1483.2C813.2,1482.7 826.2,1482.2 839.1,1481.6C852,1481 868.2,1479.9 877.9,1479.7C887.6,1479.5 890.9,1479.9 897.3,1480.5C903.8,1481 910.3,1483.2 916.7,1483.2C923.2,1483.2 929.7,1482.5 936.1,1480.5C942.6,1478.4 949.1,1475 955.6,1470.7C962,1466.5 968.5,1460.4 975,1455.2C981.4,1450 987.9,1444.9 994.4,1439.7C1000.8,1434.5 1007.3,1428.7 1013.8,1424.2C1020.3,1419.6 1026.7,1415.8 1033.2,1412.5C1039.7,1409.3 1046.1,1406.6 1052.6,1404.8C1059.1,1402.9 1065.5,1402.2 1072,1401.6C1078.5,1401.1 1085,1401 1091.4,1401.6C1097.9,1402.3 1104.4,1403.4 1110.8,1405.5C1117.3,1407.7 1123.8,1410.7 1130.2,1414.5C1136.7,1418.2 1143.2,1423.2 1149.7,1428C1156.1,1432.9 1162.6,1438.4 1169.1,1443.6C1175.5,1448.7 1182,1454.6 1188.5,1459.1C1194.9,1463.6 1201.4,1466.9 1207.9,1470.7C1214.4,1474.6 1224.1,1480.5 1227.3,1482.4" stroke="#3d3d3d" stroke-width="7" fill="none" stroke-linejoin="round"/>
<rect x="651.6" y="1275.5" width="602.9" height="239.1" fill="none" stroke="#222" stroke-width="2"/>
<text x="646.5" y="1546.4" font-size="32.2" text-anchor="start" font-style="italic">Jund</text>
<path d="M676.1 1553.9V1787.4M778.9 1553.9V1787.4M880.6 1553.9V1787.4M982.7 1553.9V1787.4M1085.6 1553.9V1787.4M1187.7 1553.9V1787.4" stroke="#ececec" stroke-width="4" fill="none"/>
<path d="M653.7 1780.7H1249.5M653.7 1705.1H1249.5M653.7 1629.4H1249.5" stroke="#e8e8e8" stroke-width="3" fill="none"/>
<path d="M653.7 1742.9H1249.5M653.7 1667.3H1249.5M653.7 1591.6H1249.5" stroke="#efefef" stroke-width="2.2" fill="none"/>
<g clip-path="url(#c6)" stroke="#000" stroke-opacity="0.14" stroke-width="0.8">
<rect x="684.1" y="1774.8" width="15" height="11.8" rx="7.5" fill="#86c19b"/>
<rect x="697.4" y="1774.8" width="67.9" height="11.8" rx="7.5" fill="#0c6b78"/>
<rect x="764.6" y="1774.8" width="15" height="11.8" rx="7.5" fill="#86c19b"/>
<rect x="778.9" y="1774.8" width="15.5" height="11.8" rx="7.5" fill="#0c6b78"/>
<rect x="794.5" y="1774.8" width="114.5" height="11.8" rx="7.5" fill="#86c19b"/>
<rect x="909" y="1774.8" width="15.5" height="11.8" rx="7.5" fill="#0c6b78"/>
<rect x="919.9" y="1774.8" width="15" height="11.8" rx="7.5" fill="#86c19b"/>
<rect x="925.7" y="1774.8" width="15" height="11.8" rx="7.5" fill="#0c6b78"/>
<rect x="936.1" y="1774.8" width="15.5" height="11.8" rx="7.5" fill="#86c19b"/>
<rect x="951.7" y="1774.8" width="118.4" height="11.8" rx="7.5" fill="#c9d98f"/>
<rect x="1070.1" y="1774.8" width="21.4" height="11.8" rx="7.5" fill="#f2c04c"/>
<rect x="1095.3" y="1774.8" width="36.9" height="11.8" rx="7.5" fill="#ea9820"/>
<rect x="1141.9" y="1774.8" width="46.6" height="11.8" rx="7.5" fill="#ea9820"/>
<rect x="1186.8" y="1774.8" width="15" height="11.8" rx="7.5" fill="#f2c04c"/>
<rect x="1200.1" y="1774.8" width="33" height="11.8" rx="7.5" fill="#ea9820"/>
<rect x="705.2" y="1722.4" width="44.6" height="11.8" rx="7.5" fill="#0c6b78"/>
<rect x="748.1" y="1722.4" width="15" height="11.8" rx="7.5" fill="#86c19b"/>
<rect x="761.5" y="1722.4" width="31.1" height="11.8" rx="7.5" fill="#0c6b78"/>
<rect x="792.5" y="1722.4" width="116.5" height="11.8" rx="7.5" fill="#86c19b"/>
<rect x="909" y="1722.4" width="27.2" height="11.8" rx="7.5" fill="#0c6b78"/>
<rect x="936.1" y="1722.4" width="122.3" height="11.8" rx="7.5" fill="#c9d98f"/>
<rect x="1058.4" y="1722.4" width="27.2" height="11.8" rx="7.5" fill="#f2c04c"/>
<rect x="1085.6" y="1722.4" width="42.7" height="11.8" rx="7.5" fill="#ea9820"/>
<rect x="1140.2" y="1722.4" width="15" height="11.8" rx="7.5" fill="#f2c04c"/>
<rect x="1153.5" y="1722.4" width="79.6" height="11.8" rx="7.5" fill="#ea9820"/>
<rect x="683" y="1691.7" width="103.6" height="11.8" rx="7.5" fill="#0c6b78"/>
<rect x="786" y="1691.7" width="15" height="11.8" rx="7.5" fill="#86c19b"/>
<rect x="796.7" y="1691.7" width="15" height="11.8" rx="7.5" fill="#0c6b78"/>
<rect x="808" y="1691.7" width="104.8" height="11.8" rx="7.5" fill="#86c19b"/>
<rect x="912.9" y="1691.7" width="27.2" height="11.8" rx="7.5" fill="#0c6b78"/>
<rect x="936.4" y="1691.7" width="15" height="11.8" rx="7.5" fill="#86c19b"/>
<rect x="947.8" y="1691.7" width="100.9" height="11.8" rx="7.5" fill="#c9d98f"/>
<rect x="1048.7" y="1691.7" width="44.6" height="11.8" rx="7.5" fill="#f2c04c"/>
<rect x="1093.4" y="1691.7" width="25.2" height="11.8" rx="7.5" fill="#ea9820"/>
<rect x="1121.7" y="1691.7" width="24.1" height="11.8" rx="7.5" fill="#ea9820"/>
<rect x="1147.7" y="1691.7" width="85.4" height="11.8" rx="7.5" fill="#ea9820"/>
<rect x="683" y="1670" width="15.5" height="11.8" rx="7.5" fill="#0c6b78"/>
<rect x="701.3" y="1670" width="60.2" height="11.8" rx="7.5" fill="#0c6b78"/>
<rect x="761.5" y="1670" width="15.5" height="11.8" rx="7.5" fill="#86c19b"/>
<rect x="772.4" y="1670" width="15" height="11.8" rx="7.5" fill="#0c6b78"/>
<rect x="782.8" y="1670" width="17.5" height="11.8" rx="7.5" fill="#86c19b"/>
<rect x="800.3" y="1670" width="89.3" height="11.8" rx="7.5" fill="#86c19b"/>
<rect x="885.9" y="1670" width="15" height="11.8" rx="7.5" fill="#0c6b78"/>
<rect x="897.3" y="1670" width="15.5" height="11.8" rx="7.5" fill="#86c19b"/>
<rect x="912.7" y="1670" width="15" height="11.8" rx="7.5" fill="#0c6b78"/>
<rect x="926.3" y="1670" width="15" height="11.8" rx="7.5" fill="#f2c04c"/>
<rect x="940" y="1670" width="19.4" height="11.8" rx="7.5" fill="#86c19b"/>
<rect x="959.4" y="1670" width="100.9" height="11.8" rx="7.5" fill="#c9d98f"/>
<rect x="1060.4" y="1670" width="29.1" height="11.8" rx="7.5" fill="#f2c04c"/>
<rect x="1089.5" y="1670" width="143.6" height="11.8" rx="7.5" fill="#ea9820"/>
<rect x="707.1" y="1653.1" width="81.5" height="11.8" rx="7.5" fill="#0c6b78"/>
<rect x="788.6" y="1653.1" width="42.7" height="11.8" rx="7.5" fill="#86c19b"/>
<rect x="835.2" y="1653.1" width="62.1" height="11.8" rx="7.5" fill="#86c19b"/>
<rect x="897.3" y="1653.1" width="15.5" height="11.8" rx="7.5" fill="#0c6b78"/>
<rect x="911.2" y="1653.1" width="15" height="11.8" rx="7.5" fill="#86c19b"/>
<rect x="922.8" y="1653.1" width="15" height="11.8" rx="7.5" fill="#0c6b78"/>
<rect x="949.7" y="1653.1" width="69.9" height="11.8" rx="7.5" fill="#c9d98f"/>
<rect x="1023.5" y="1653.1" width="33" height="11.8" rx="7.5" fill="#c9d98f"/>
<rect x="1056.5" y="1653.1" width="34.9" height="11.8" rx="7.5" fill="#f2c04c"/>
<rect x="1091.4" y="1653.1" width="46.6" height="11.8" rx="7.5" fill="#ea9820"/>
<rect x="1136.3" y="1653.1" width="15" height="11.8" rx="7.5" fill="#f2c04c"/>
<rect x="1149.7" y="1653.1" width="83.5" height="11.8" rx="7.5" fill="#ea9820"/>
<rect x="703.2" y="1639.3" width="34.9" height="11.8" rx="7.5" fill="#0c6b78"/>
<rect x="733.6" y="1639.3" width="15" height="11.8" rx="7.5" fill="#86c19b"/>
<rect x="745.9" y="1639.3" width="34.9" height="11.8" rx="7.5" fill="#0c6b78"/>
<rect x="780.9" y="1639.3" width="15.5" height="11.8" rx="7.5" fill="#86c19b"/>
<rect x="812.7" y="1639.3" width="15.5" height="11.8" rx="7.5" fill="#86c19b"/>
<rect x="835.2" y="1639.3" width="50.5" height="11.8" rx="7.5" fill="#86c19b"/>
<rect x="893.4" y="1639.3" width="23.3" height="11.8" rx="7.5" fill="#86c19b"/>
<rect x="916.7" y="1639.3" width="19.4" height="11.8" rx="7.5" fill="#0c6b78"/>
<rect x="933.5" y="1639.3" width="15" height="11.8" rx="7.5" fill="#86c19b"/>
<rect x="949.7" y="1639.3" width="15.5" height="11.8" rx="7.5" fill="#c9d98f"/>
<rect x="1004.1" y="1639.3" width="15.5" height="11.8" rx="7.5" fill="#c9d98f"/>
<rect x="1042.9" y="1639.3" width="44.6" height="11.8" rx="7.5" fill="#f2c04c"/>
<rect x="1087.5" y="1639.3" width="23.3" height="11.8" rx="7.5" fill="#ea9820"/>
<rect x="1136.3" y="1639.3" width="15" height="11.8" rx="7.5" fill="#ea9820"/>
<rect x="1155.5" y="1639.3" width="77.6" height="11.8" rx="7.5" fill="#ea9820"/>
<rect x="710.2" y="1627.6" width="24.1" height="11.8" rx="7.5" fill="#0c6b78"/>
<rect x="734.3" y="1627.6" width="15.5" height="11.8" rx="7.5" fill="#86c19b"/>
<rect x="749.8" y="1627.6" width="15.5" height="11.8" rx="7.5" fill="#0c6b78"/>
<rect x="782.8" y="1627.6" width="36.9" height="11.8" rx="7.5" fill="#86c19b"/>
<rect x="829.4" y="1627.6" width="38.8" height="11.8" rx="7.5" fill="#86c19b"/>
<rect x="893.4" y="1627.6" width="19.4" height="11.8" rx="7.5" fill="#86c19b"/>
<rect x="912.9" y="1627.6" width="19.4" height="11.8" rx="7.5" fill="#0c6b78"/>
<rect x="965.3" y="1627.6" width="15.5" height="11.8" rx="7.5" fill="#c9d98f"/>
<rect x="1019.6" y="1627.6" width="15.5" height="11.8" rx="7.5" fill="#c9d98f"/>
<rect x="1046.8" y="1627.6" width="36.9" height="11.8" rx="7.5" fill="#f2c04c"/>
<rect x="1083.7" y="1627.6" width="36.9" height="11.8" rx="7.5" fill="#ea9820"/>
<rect x="1132.2" y="1627.6" width="100.9" height="11.8" rx="7.5" fill="#ea9820"/>
<rect x="716.8" y="1617.5" width="17.5" height="11.8" rx="7.5" fill="#0c6b78"/>
<rect x="740.1" y="1617.5" width="17.5" height="11.8" rx="7.5" fill="#0c6b78"/>
<rect x="763.4" y="1617.5" width="15.5" height="11.8" rx="7.5" fill="#0c6b78"/>
<rect x="883.7" y="1617.5" width="17.5" height="11.8" rx="7.5" fill="#86c19b"/>
<rect x="912.9" y="1617.5" width="15.5" height="11.8" rx="7.5" fill="#86c19b"/>
<rect x="1033.2" y="1617.5" width="23.3" height="11.8" rx="7.5" fill="#c9d98f"/>
<rect x="1056.5" y="1617.5" width="29.1" height="11.8" rx="7.5" fill="#f2c04c"/>
<rect x="1085.6" y="1617.5" width="25.2" height="11.8" rx="7.5" fill="#ea9820"/>
<rect x="1149.7" y="1617.5" width="83.5" height="11.8" rx="7.5" fill="#ea9820"/>
<rect x="835.2" y="1608.6" width="15.5" height="11.8" rx="7.5" fill="#86c19b"/>
<rect x="914.8" y="1608.6" width="15.5" height="11.8" rx="7.5" fill="#0c6b78"/>
<rect x="970.3" y="1608.6" width="15.5" height="11.8" rx="7.5" fill="#c9d98f"/>
<rect x="1062.3" y="1608.6" width="21.4" height="11.8" rx="7.5" fill="#f2c04c"/>
<rect x="1087.5" y="1608.6" width="23.3" height="11.8" rx="7.5" fill="#ea9820"/>
<rect x="1149.7" y="1608.6" width="19.4" height="11.8" rx="7.5" fill="#ea9820"/>
<rect x="1215.7" y="1608.6" width="15.5" height="11.8" rx="7.5" fill="#ea9820"/>
<rect x="773.1" y="1600.7" width="15.5" height="11.8" rx="7.5" fill="#0c6b78"/>
<rect x="893.4" y="1600.7" width="15.5" height="11.8" rx="7.5" fill="#0c6b78"/>
<rect x="1060.4" y="1600.7" width="23.3" height="11.8" rx="7.5" fill="#f2c04c"/>
<rect x="1149.7" y="1600.7" width="15.5" height="11.8" rx="7.5" fill="#ea9820"/>
<rect x="1188.5" y="1600.7" width="15.5" height="11.8" rx="7.5" fill="#ea9820"/>
<rect x="734.2" y="1593.5" width="15" height="11.8" rx="7.5" fill="#0c6b78"/>
<rect x="742" y="1593.5" width="15.5" height="11.8" rx="7.5" fill="#86c19b"/>
<rect x="1064.3" y="1593.5" width="23.3" height="11.8" rx="7.5" fill="#f2c04c"/>
<rect x="1145.8" y="1593.5" width="23.3" height="11.8" rx="7.5" fill="#ea9820"/>
<rect x="1180.7" y="1593.5" width="23.3" height="11.8" rx="7.5" fill="#ea9820"/>
<rect x="1211.8" y="1593.5" width="19.4" height="11.8" rx="7.5" fill="#ea9820"/>
<rect x="727.7" y="1586.9" width="15.5" height="11.8" rx="7.5" fill="#0c6b78"/>
<rect x="1068.1" y="1586.9" width="15.5" height="11.8" rx="7.5" fill="#f2c04c"/>
<rect x="1138" y="1586.9" width="15.5" height="11.8" rx="7.5" fill="#ea9820"/>
<rect x="1184.6" y="1586.9" width="15.5" height="11.8" rx="7.5" fill="#ea9820"/>
<rect x="1215.7" y="1586.9" width="17.5" height="11.8" rx="7.5" fill="#ea9820"/>
<rect x="1072" y="1580.8" width="19.4" height="11.8" rx="7.5" fill="#f2c04c"/>
<rect x="1068.1" y="1570" width="19.4" height="11.8" rx="7.5" fill="#f2c04c"/>
<rect x="1087.5" y="1570" width="17.5" height="11.8" rx="7.5" fill="#f2c04c"/>
<rect x="1072" y="1560.5" width="15.5" height="11.8" rx="7.5" fill="#f2c04c"/>
<rect x="1068.1" y="1552.1" width="15.5" height="11.8" rx="7.5" fill="#f2c04c"/>
</g>
<path d="M691.6,1683.6 L718.8,1703 L714.9,1710.8 L691.6,1718.6Z" fill="#bdbdbd" fill-opacity="0.6"/>
<path d="M691.6,1699.2C696.8,1701.4 711,1708.5 722.6,1712.7C734.3,1717 748.5,1722.9 761.5,1724.4C774.4,1725.9 787.3,1722.5 800.3,1721.7C813.2,1720.9 826.2,1720.9 839.1,1719.7C852,1718.6 868.2,1715.5 877.9,1714.7C887.6,1713.8 887.6,1713.7 897.3,1714.7C907,1715.7 923.2,1720.5 936.1,1720.5C949.1,1720.5 962,1718.6 975,1714.7C987.9,1710.8 1000.8,1703.7 1013.8,1697.2C1026.7,1690.8 1042.9,1681 1052.6,1675.9C1062.3,1670.7 1065.5,1668.1 1072,1666.2C1078.5,1664.2 1085,1663.9 1091.4,1664.2C1097.9,1664.5 1101.1,1665.5 1110.8,1668.1C1120.5,1670.7 1136.7,1676.2 1149.7,1679.8C1162.6,1683.3 1175.9,1687 1188.5,1689.5C1201.1,1691.9 1219.2,1693.7 1225.4,1694.5" stroke="#3d3d3d" stroke-width="7" fill="none" stroke-linejoin="round"/>
<rect x="649.7" y="1550.9" width="602.9" height="239.5" fill="none" stroke="#222" stroke-width="2"/>
<text x="648.5" y="1828.9" font-size="32.2" text-anchor="start" font-style="italic">Klf4</text>
<path d="M675.3 1837.7V2071.6M777.8 1837.7V2071.6M879.9 1837.7V2071.6M982 1837.7V2071.6M1084.8 1837.7V2071.6M1186.9 1837.7V2071.6" stroke="#ececec" stroke-width="4" fill="none"/>
<path d="M653.7 2057.9H1248.8M653.7 1997.4H1248.8M653.7 1937H1248.8M653.7 1876.5H1248.8" stroke="#e8e8e8" stroke-width="3" fill="none"/>
<path d="M653.7 2027.7H1248.8M653.7 1967.2H1248.8M653.7 1906.7H1248.8M653.7 1846.2H1248.8" stroke="#efefef" stroke-width="2.2" fill="none"/>
<g clip-path="url(#c7)" stroke="#000" stroke-opacity="0.14" stroke-width="0.8">
<rect x="681.9" y="2051.6" width="21.4" height="12.7" rx="7.5" fill="#0c6b78"/>
<rect x="703.2" y="2051.6" width="44.6" height="12.7" rx="7.5" fill="#0c6b78"/>
<rect x="745.2" y="2051.6" width="15" height="12.7" rx="7.5" fill="#86c19b"/>
<rect x="757.6" y="2051.6" width="36.9" height="12.7" rx="7.5" fill="#0c6b78"/>
<rect x="794.5" y="2051.6" width="114.5" height="12.7" rx="7.5" fill="#86c19b"/>
<rect x="909" y="2051.6" width="27.2" height="12.7" rx="7.5" fill="#0c6b78"/>
<rect x="935.4" y="2051.6" width="15" height="12.7" rx="7.5" fill="#86c19b"/>
<rect x="949.7" y="2051.6" width="95.1" height="12.7" rx="7.5" fill="#c9d98f"/>
<rect x="1044.8" y="2051.6" width="46.6" height="12.7" rx="7.5" fill="#f2c04c"/>
<rect x="1091.4" y="2051.6" width="21.4" height="12.7" rx="7.5" fill="#ea9820"/>
<rect x="1112.1" y="2051.6" width="15" height="12.7" rx="7.5" fill="#ea9820"/>
<rect x="1125.7" y="2051.6" width="15" height="12.7" rx="7.5" fill="#f2c04c"/>
<rect x="1137.3" y="2051.6" width="15" height="12.7" rx="7.5" fill="#ea9820"/>
<rect x="1146" y="2051.6" width="15" height="12.7" rx="7.5" fill="#f2c04c"/>
<rect x="1157.4" y="2051.6" width="46.6" height="12.7" rx="7.5" fill="#ea9820"/>
<rect x="1201.4" y="2051.6" width="15" height="12.7" rx="7.5" fill="#f2c04c"/>
<rect x="1213.7" y="2051.6" width="19.4" height="12.7" rx="7.5" fill="#ea9820"/>
<rect x="701.3" y="2009.6" width="38.8" height="12.7" rx="7.5" fill="#0c6b78"/>
<rect x="736.5" y="2009.6" width="15" height="12.7" rx="7.5" fill="#86c19b"/>
<rect x="743.3" y="2009.6" width="15" height="12.7" rx="7.5" fill="#0c6b78"/>
<rect x="753.7" y="2009.6" width="15.5" height="12.7" rx="7.5" fill="#86c19b"/>
<rect x="769.2" y="2009.6" width="19.4" height="12.7" rx="7.5" fill="#0c6b78"/>
<rect x="788.6" y="2009.6" width="110.6" height="12.7" rx="7.5" fill="#86c19b"/>
<rect x="899.3" y="2009.6" width="38.8" height="12.7" rx="7.5" fill="#0c6b78"/>
<rect x="942" y="2009.6" width="114.5" height="12.7" rx="7.5" fill="#c9d98f"/>
<rect x="1056.5" y="2009.6" width="38.8" height="12.7" rx="7.5" fill="#f2c04c"/>
<rect x="1095.3" y="2009.6" width="97" height="12.7" rx="7.5" fill="#ea9820"/>
<rect x="1198.2" y="2009.6" width="34.9" height="12.7" rx="7.5" fill="#ea9820"/>
<rect x="707.1" y="1985.1" width="50.5" height="12.7" rx="7.5" fill="#0c6b78"/>
<rect x="757.6" y="1985.1" width="27.2" height="12.7" rx="7.5" fill="#86c19b"/>
<rect x="780.9" y="1985.1" width="15.5" height="12.7" rx="7.5" fill="#0c6b78"/>
<rect x="796.4" y="1985.1" width="97" height="12.7" rx="7.5" fill="#86c19b"/>
<rect x="893.4" y="1985.1" width="23.3" height="12.7" rx="7.5" fill="#0c6b78"/>
<rect x="913.1" y="1985.1" width="15" height="12.7" rx="7.5" fill="#86c19b"/>
<rect x="922.8" y="1985.1" width="15" height="12.7" rx="7.5" fill="#0c6b78"/>
<rect x="930.6" y="1985.1" width="15" height="12.7" rx="7.5" fill="#86c19b"/>
<rect x="940" y="1985.1" width="77.6" height="12.7" rx="7.5" fill="#c9d98f"/>
<rect x="1029.3" y="1985.1" width="29.1" height="12.7" rx="7.5" fill="#c9d98f"/>
<rect x="1058.4" y="1985.1" width="27.2" height="12.7" rx="7.5" fill="#f2c04c"/>
<rect x="1085.6" y="1985.1" width="31.1" height="12.7" rx="7.5" fill="#ea9820"/>
<rect x="1140" y="1985.1" width="93.2" height="12.7" rx="7.5" fill="#ea9820"/>
<rect x="714.1" y="1967.7" width="31.8" height="12.7" rx="7.5" fill="#0c6b78"/>
<rect x="749" y="1967.7" width="28" height="12.7" rx="7.5" fill="#0c6b78"/>
<rect x="775.3" y="1967.7" width="15" height="12.7" rx="7.5" fill="#86c19b"/>
<rect x="795.3" y="1967.7" width="15" height="12.7" rx="7.5" fill="#86c19b"/>
<rect x="834.4" y="1967.7" width="22.1" height="12.7" rx="7.5" fill="#86c19b"/>
<rect x="857.7" y="1967.7" width="15.5" height="12.7" rx="7.5" fill="#86c19b"/>
<rect x="879.9" y="1967.7" width="15.5" height="12.7" rx="7.5" fill="#86c19b"/>
<rect x="895.4" y="1967.7" width="36.9" height="12.7" rx="7.5" fill="#0c6b78"/>
<rect x="1041" y="1967.7" width="42.7" height="12.7" rx="7.5" fill="#f2c04c"/>
<rect x="1083.7" y="1967.7" width="33" height="12.7" rx="7.5" fill="#ea9820"/>
<rect x="1124.4" y="1967.7" width="19.4" height="12.7" rx="7.5" fill="#ea9820"/>
<rect x="1145.8" y="1967.7" width="87.3" height="12.7" rx="7.5" fill="#ea9820"/>
<rect x="798.3" y="1954.2" width="15.5" height="12.7" rx="7.5" fill="#86c19b"/>
<rect x="861.2" y="1954.2" width="15.5" height="12.7" rx="7.5" fill="#86c19b"/>
<rect x="891.5" y="1954.2" width="15.5" height="12.7" rx="7.5" fill="#0c6b78"/>
<rect x="1066.2" y="1954.2" width="15.5" height="12.7" rx="7.5" fill="#f2c04c"/>
<rect x="1097.3" y="1954.2" width="34.9" height="12.7" rx="7.5" fill="#ea9820"/>
<rect x="1132.2" y="1954.2" width="15.5" height="12.7" rx="7.5" fill="#f2c04c"/>
<rect x="1153.5" y="1954.2" width="79.6" height="12.7" rx="7.5" fill="#ea9820"/>
<rect x="733.1" y="1943.2" width="15.5" height="12.7" rx="7.5" fill="#0c6b78"/>
<rect x="1009.9" y="1943.2" width="15.5" height="12.7" rx="7.5" fill="#c9d98f"/>
<rect x="1161.3" y="1943.2" width="71.8" height="12.7" rx="7.5" fill="#ea9820"/>
<rect x="1077.8" y="1933.9" width="15.5" height="12.7" rx="7.5" fill="#f2c04c"/>
<rect x="1161.3" y="1933.9" width="71.8" height="12.7" rx="7.5" fill="#ea9820"/>
<rect x="1087.5" y="1925.8" width="15.5" height="12.7" rx="7.5" fill="#f2c04c"/>
<rect x="1165.2" y="1925.8" width="67.9" height="12.7" rx="7.5" fill="#ea9820"/>
<rect x="1165.2" y="1918.7" width="67.9" height="12.7" rx="7.5" fill="#ea9820"/>
<rect x="1165.2" y="1912.3" width="67.9" height="12.7" rx="7.5" fill="#ea9820"/>
<rect x="1163.2" y="1906.5" width="69.9" height="12.7" rx="7.5" fill="#ea9820"/>
<rect x="1161.3" y="1901.3" width="71.8" height="12.7" rx="7.5" fill="#ea9820"/>
<rect x="1161.3" y="1896.4" width="71.8" height="12.7" rx="7.5" fill="#ea9820"/>
<rect x="1161.3" y="1892" width="15.5" height="12.7" rx="7.5" fill="#ea9820"/>
<rect x="1190.4" y="1892" width="42.7" height="12.7" rx="7.5" fill="#ea9820"/>
<rect x="1190.4" y="1887.8" width="42.7" height="12.7" rx="7.5" fill="#ea9820"/>
<rect x="1196.2" y="1883.9" width="33" height="12.7" rx="7.5" fill="#ea9820"/>
<rect x="1204" y="1880.2" width="15.5" height="12.7" rx="7.5" fill="#ea9820"/>
<rect x="1204" y="1876.8" width="19.4" height="12.7" rx="7.5" fill="#ea9820"/>
<rect x="1213.7" y="1873.5" width="19.4" height="12.7" rx="7.5" fill="#ea9820"/>
</g>
<path d="M689.6,2037.7 L716.8,2045.5 L716.8,2054 L689.6,2062.6Z" fill="#bdbdbd" fill-opacity="0.6"/>
<path d="M689.6,2050.2C695.1,2050.2 710.7,2050.3 722.6,2050.2C734.6,2050 748.5,2049.8 761.5,2049.4C774.4,2049 787.3,2048.3 800.3,2047.8C813.2,2047.3 826.2,2046.8 839.1,2046.3C852,2045.8 865,2045 877.9,2044.7C890.9,2044.5 903.8,2045.1 916.7,2044.7C929.7,2044.3 942.6,2043.6 955.6,2042.4C968.5,2041.2 981.4,2039.3 994.4,2037.3C1007.3,2035.4 1020.3,2032.5 1033.2,2030.7C1046.1,2029 1059.1,2027.4 1072,2026.9C1085,2026.3 1099.8,2028 1110.8,2027.6C1121.8,2027.3 1129.6,2027 1138,2024.9C1146.4,2022.9 1154.2,2019.4 1161.3,2015.2C1168.4,2011 1174.2,2005.5 1180.7,1999.7C1187.2,1993.9 1193,1987.4 1200.1,1980.3C1207.2,1973.2 1219.5,1960.9 1223.4,1957" stroke="#3d3d3d" stroke-width="7" fill="none" stroke-linejoin="round"/>
<rect x="649.7" y="1834.7" width="602.1" height="239.9" fill="none" stroke="#222" stroke-width="2"/>
<text x="648.5" y="2113" font-size="32.2" text-anchor="start" font-style="italic">Myrfl</text>
<path d="M676.9 2120.5V2355.2M778.6 2120.5V2355.2M880.7 2120.5V2355.2M983.6 2120.5V2355.2M1085.7 2120.5V2355.2M1187.4 2120.5V2355.2" stroke="#ececec" stroke-width="4" fill="none"/>
<path d="M653.7 2340.7H1250.4M653.7 2281.3H1250.4M653.7 2221.9H1250.4M653.7 2162.5H1250.4" stroke="#e8e8e8" stroke-width="3" fill="none"/>
<path d="M653.7 2311H1250.4M653.7 2251.6H1250.4M653.7 2192.2H1250.4M653.7 2132.8H1250.4" stroke="#efefef" stroke-width="2.2" fill="none"/>
<g clip-path="url(#c8)" stroke="#000" stroke-opacity="0.14" stroke-width="0.8">
<rect x="682.7" y="2336.2" width="15.5" height="9" rx="7.7" fill="#0c6b78"/>
<rect x="698.2" y="2336.2" width="85.4" height="9" rx="7.7" fill="#0c6b78"/>
<rect x="780.8" y="2336.2" width="15.4" height="9" rx="7.7" fill="#86c19b"/>
<rect x="783.7" y="2336.2" width="15.4" height="9" rx="7.7" fill="#0c6b78"/>
<rect x="795.3" y="2336.2" width="112.6" height="9" rx="7.7" fill="#86c19b"/>
<rect x="907.9" y="2336.2" width="27.2" height="9" rx="7.7" fill="#0c6b78"/>
<rect x="935" y="2336.2" width="15.5" height="9" rx="7.7" fill="#86c19b"/>
<rect x="950.6" y="2336.2" width="104.8" height="9" rx="7.7" fill="#c9d98f"/>
<rect x="1055.4" y="2336.2" width="40.8" height="9" rx="7.7" fill="#f2c04c"/>
<rect x="1096.1" y="2336.2" width="56.3" height="9" rx="7.7" fill="#ea9820"/>
<rect x="1150.5" y="2336.2" width="15.4" height="9" rx="7.7" fill="#f2c04c"/>
<rect x="1164.1" y="2336.2" width="69.9" height="9" rx="7.7" fill="#ea9820"/>
<rect x="706.8" y="2253.8" width="73" height="9" rx="7.7" fill="#0c6b78"/>
<rect x="779.8" y="2253.8" width="15.5" height="9" rx="7.7" fill="#86c19b"/>
<rect x="788.5" y="2253.8" width="15.4" height="9" rx="7.7" fill="#0c6b78"/>
<rect x="799.2" y="2253.8" width="93.2" height="9" rx="7.7" fill="#86c19b"/>
<rect x="892.3" y="2253.8" width="19.4" height="9" rx="7.7" fill="#0c6b78"/>
<rect x="906" y="2253.8" width="15.4" height="9" rx="7.7" fill="#86c19b"/>
<rect x="915.6" y="2253.8" width="25.2" height="9" rx="7.7" fill="#0c6b78"/>
<rect x="939.9" y="2253.8" width="15.4" height="9" rx="7.7" fill="#86c19b"/>
<rect x="954.4" y="2253.8" width="99" height="9" rx="7.7" fill="#c9d98f"/>
<rect x="1053.4" y="2253.8" width="29.1" height="9" rx="7.7" fill="#f2c04c"/>
<rect x="1082.5" y="2253.8" width="50.5" height="9" rx="7.7" fill="#ea9820"/>
<rect x="1131.1" y="2253.8" width="15.4" height="9" rx="7.7" fill="#f2c04c"/>
<rect x="1144.7" y="2253.8" width="42.7" height="9" rx="7.7" fill="#ea9820"/>
<rect x="1199" y="2253.8" width="34.9" height="9" rx="7.7" fill="#ea9820"/>
<rect x="713" y="2205.7" width="15.5" height="9" rx="7.7" fill="#0c6b78"/>
<rect x="732.4" y="2205.7" width="16.3" height="9" rx="7.7" fill="#0c6b78"/>
<rect x="742.9" y="2205.7" width="15.4" height="9" rx="7.7" fill="#86c19b"/>
<rect x="756.5" y="2205.7" width="17.5" height="9" rx="7.7" fill="#0c6b78"/>
<rect x="777.8" y="2205.7" width="25.2" height="9" rx="7.7" fill="#0c6b78"/>
<rect x="812.7" y="2205.7" width="15.5" height="9" rx="7.7" fill="#86c19b"/>
<rect x="858.2" y="2205.7" width="25.6" height="9" rx="7.7" fill="#86c19b"/>
<rect x="893.1" y="2205.7" width="16.7" height="9" rx="7.7" fill="#0c6b78"/>
<rect x="911.7" y="2205.7" width="16.3" height="9" rx="7.7" fill="#0c6b78"/>
<rect x="921.9" y="2205.7" width="15.4" height="9" rx="7.7" fill="#86c19b"/>
<rect x="952.5" y="2205.7" width="41.5" height="9" rx="7.7" fill="#c9d98f"/>
<rect x="1022.4" y="2205.7" width="23.3" height="9" rx="7.7" fill="#c9d98f"/>
<rect x="1053.4" y="2205.7" width="42.7" height="9" rx="7.7" fill="#f2c04c"/>
<rect x="1094.2" y="2205.7" width="23.3" height="9" rx="7.7" fill="#ea9820"/>
<rect x="1140.8" y="2205.7" width="93.2" height="9" rx="7.7" fill="#ea9820"/>
<rect x="746" y="2171.5" width="15.5" height="9" rx="7.7" fill="#86c19b"/>
<rect x="1098.1" y="2171.5" width="15.5" height="9" rx="7.7" fill="#ea9820"/>
<rect x="1164.1" y="2171.5" width="31.1" height="9" rx="7.7" fill="#ea9820"/>
<rect x="1169.1" y="2145" width="15.5" height="9" rx="7.7" fill="#ea9820"/>
<rect x="1179.6" y="2123.3" width="15.5" height="9" rx="7.7" fill="#ea9820"/>
</g>
<path d="M690.5,2333.7C698.2,2333.1 719.6,2331.3 737,2330.2C754.5,2329.1 775.9,2328.1 795.3,2327.1C814.7,2326.1 834.1,2325.2 853.5,2324.4C872.9,2323.5 895.6,2322.9 911.7,2322C927.9,2321.2 937.6,2320.3 950.6,2319.3C963.5,2318.4 976.4,2317.2 989.4,2316.2C1002.3,2315.3 1015.3,2314.2 1028.2,2313.5C1041.1,2312.9 1054.1,2312.5 1067,2312.3C1080,2312.2 1092.9,2311.9 1105.8,2312.7C1118.8,2313.6 1131.7,2315.3 1144.7,2317.4C1157.6,2319.5 1169.9,2322.6 1183.5,2325.2C1197.1,2327.7 1219.1,2331.6 1226.2,2332.9" stroke="#3d3d3d" stroke-width="7" fill="none" stroke-linejoin="round"/>
<rect x="649.7" y="2117.5" width="603.6" height="240.7" fill="none" stroke="#222" stroke-width="2"/>
<text x="648.5" y="2396.4" font-size="32.2" text-anchor="start" font-style="italic">Ppar-&#948;</text>
<path d="M679.9 2407.6V2641.6M782 2407.6V2641.6M884.5 2407.6V2641.6M986.6 2407.6V2641.6M1089.5 2407.6V2641.6M1191.6 2407.6V2641.6" stroke="#ececec" stroke-width="4" fill="none"/>
<path d="M657.5 2620.9H1253.4M657.5 2574.1H1253.4M657.5 2527.3H1253.4M657.5 2480.5H1253.4M657.5 2433.8H1253.4" stroke="#e8e8e8" stroke-width="3" fill="none"/>
<path d="M657.5 2597.5H1253.4M657.5 2550.7H1253.4M657.5 2503.9H1253.4M657.5 2457.1H1253.4M657.5 2410.4H1253.4" stroke="#efefef" stroke-width="2.2" fill="none"/>
<g clip-path="url(#c9)" stroke="#000" stroke-opacity="0.14" stroke-width="0.8">
<rect x="686.9" y="2614.9" width="16.3" height="11.9" rx="7.5" fill="#0c6b78"/>
<rect x="703.2" y="2614.9" width="50.5" height="11.9" rx="7.5" fill="#0c6b78"/>
<rect x="752" y="2614.9" width="15" height="11.9" rx="7.5" fill="#86c19b"/>
<rect x="765.3" y="2614.9" width="15.5" height="11.9" rx="7.5" fill="#0c6b78"/>
<rect x="777.3" y="2614.9" width="15" height="11.9" rx="7.5" fill="#86c19b"/>
<rect x="781.1" y="2614.9" width="15" height="11.9" rx="7.5" fill="#0c6b78"/>
<rect x="792.5" y="2614.9" width="108.7" height="11.9" rx="7.5" fill="#86c19b"/>
<rect x="912.9" y="2614.9" width="17.5" height="11.9" rx="7.5" fill="#0c6b78"/>
<rect x="924.8" y="2614.9" width="15" height="11.9" rx="7.5" fill="#86c19b"/>
<rect x="931.6" y="2614.9" width="15" height="11.9" rx="7.5" fill="#0c6b78"/>
<rect x="940.3" y="2614.9" width="15" height="11.9" rx="7.5" fill="#86c19b"/>
<rect x="951.7" y="2614.9" width="108.7" height="11.9" rx="7.5" fill="#c9d98f"/>
<rect x="1060.4" y="2614.9" width="36.9" height="11.9" rx="7.5" fill="#f2c04c"/>
<rect x="1097.3" y="2614.9" width="23.3" height="11.9" rx="7.5" fill="#ea9820"/>
<rect x="1122.5" y="2614.9" width="27.2" height="11.9" rx="7.5" fill="#ea9820"/>
<rect x="1149.7" y="2614.9" width="15.5" height="11.9" rx="7.5" fill="#f2c04c"/>
<rect x="1165.2" y="2614.9" width="71.8" height="11.9" rx="7.5" fill="#ea9820"/>
<rect x="688.4" y="2550.1" width="15" height="11.9" rx="7.5" fill="#86c19b"/>
<rect x="703.2" y="2550.1" width="58.2" height="11.9" rx="7.5" fill="#0c6b78"/>
<rect x="760.8" y="2550.1" width="15" height="11.9" rx="7.5" fill="#86c19b"/>
<rect x="768.5" y="2550.1" width="15" height="11.9" rx="7.5" fill="#0c6b78"/>
<rect x="782.8" y="2550.1" width="17.5" height="11.9" rx="7.5" fill="#0c6b78"/>
<rect x="794.7" y="2550.1" width="15" height="11.9" rx="7.5" fill="#86c19b"/>
<rect x="801.5" y="2550.1" width="15" height="11.9" rx="7.5" fill="#0c6b78"/>
<rect x="813.9" y="2550.1" width="87.3" height="11.9" rx="7.5" fill="#86c19b"/>
<rect x="901.2" y="2550.1" width="38.8" height="11.9" rx="7.5" fill="#0c6b78"/>
<rect x="938.4" y="2550.1" width="15" height="11.9" rx="7.5" fill="#86c19b"/>
<rect x="951.7" y="2550.1" width="104.8" height="11.9" rx="7.5" fill="#c9d98f"/>
<rect x="1056.5" y="2550.1" width="38.8" height="11.9" rx="7.5" fill="#f2c04c"/>
<rect x="1095.3" y="2550.1" width="34.9" height="11.9" rx="7.5" fill="#ea9820"/>
<rect x="1129.5" y="2550.1" width="15" height="11.9" rx="7.5" fill="#f2c04c"/>
<rect x="1143.8" y="2550.1" width="44.6" height="11.9" rx="7.5" fill="#ea9820"/>
<rect x="1188.5" y="2550.1" width="17.5" height="11.9" rx="7.5" fill="#f2c04c"/>
<rect x="1205.9" y="2550.1" width="31.1" height="11.9" rx="7.5" fill="#ea9820"/>
<rect x="709.1" y="2512.1" width="85.4" height="11.9" rx="7.5" fill="#0c6b78"/>
<rect x="794.5" y="2512.1" width="19.4" height="11.9" rx="7.5" fill="#86c19b"/>
<rect x="812.2" y="2512.1" width="15" height="11.9" rx="7.5" fill="#86c19b"/>
<rect x="841" y="2512.1" width="46.6" height="11.9" rx="7.5" fill="#86c19b"/>
<rect x="889.6" y="2512.1" width="23.3" height="11.9" rx="7.5" fill="#86c19b"/>
<rect x="912.9" y="2512.1" width="19.4" height="11.9" rx="7.5" fill="#0c6b78"/>
<rect x="930.6" y="2512.1" width="15" height="11.9" rx="7.5" fill="#f2c04c"/>
<rect x="939.3" y="2512.1" width="15" height="11.9" rx="7.5" fill="#86c19b"/>
<rect x="953.6" y="2512.1" width="71.8" height="11.9" rx="7.5" fill="#c9d98f"/>
<rect x="1029.3" y="2512.1" width="27.2" height="11.9" rx="7.5" fill="#c9d98f"/>
<rect x="1056.5" y="2512.1" width="36.9" height="11.9" rx="7.5" fill="#f2c04c"/>
<rect x="1093.4" y="2512.1" width="38.8" height="11.9" rx="7.5" fill="#ea9820"/>
<rect x="1134.1" y="2512.1" width="102.9" height="11.9" rx="7.5" fill="#ea9820"/>
<rect x="709.1" y="2485.2" width="19.4" height="11.9" rx="7.5" fill="#0c6b78"/>
<rect x="754.9" y="2485.2" width="15.5" height="11.9" rx="7.5" fill="#0c6b78"/>
<rect x="773.1" y="2485.2" width="15.5" height="11.9" rx="7.5" fill="#0c6b78"/>
<rect x="787.9" y="2485.2" width="15" height="11.9" rx="7.5" fill="#86c19b"/>
<rect x="899.3" y="2485.2" width="17.5" height="11.9" rx="7.5" fill="#0c6b78"/>
<rect x="919.9" y="2485.2" width="15" height="11.9" rx="7.5" fill="#c9d98f"/>
<rect x="967.2" y="2485.2" width="23.3" height="11.9" rx="7.5" fill="#c9d98f"/>
<rect x="1033.2" y="2485.2" width="15.5" height="11.9" rx="7.5" fill="#c9d98f"/>
<rect x="1057.7" y="2485.2" width="29.9" height="11.9" rx="7.5" fill="#f2c04c"/>
<rect x="1087.5" y="2485.2" width="33" height="11.9" rx="7.5" fill="#ea9820"/>
<rect x="1121.4" y="2485.2" width="15" height="11.9" rx="7.5" fill="#ea9820"/>
<rect x="1151.6" y="2485.2" width="52.4" height="11.9" rx="7.5" fill="#ea9820"/>
<rect x="1203.3" y="2485.2" width="15" height="11.9" rx="7.5" fill="#f2c04c"/>
<rect x="1217.6" y="2485.2" width="15.5" height="11.9" rx="7.5" fill="#ea9820"/>
<rect x="764.2" y="2464.4" width="15.5" height="11.9" rx="7.5" fill="#0c6b78"/>
<rect x="1034.4" y="2464.4" width="24.1" height="11.9" rx="7.5" fill="#c9d98f"/>
<rect x="1064.3" y="2464.4" width="33" height="11.9" rx="7.5" fill="#f2c04c"/>
<rect x="1096.5" y="2464.4" width="15" height="11.9" rx="7.5" fill="#ea9820"/>
<rect x="1126.4" y="2464.4" width="15.5" height="11.9" rx="7.5" fill="#ea9820"/>
<rect x="1140.2" y="2464.4" width="15" height="11.9" rx="7.5" fill="#f2c04c"/>
<rect x="1153.5" y="2464.4" width="83.5" height="11.9" rx="7.5" fill="#ea9820"/>
<rect x="804.9" y="2447.3" width="15.5" height="11.9" rx="7.5" fill="#86c19b"/>
<rect x="940" y="2447.3" width="15.5" height="11.9" rx="7.5" fill="#86c19b"/>
<rect x="1064.3" y="2447.3" width="15.5" height="11.9" rx="7.5" fill="#f2c04c"/>
<rect x="1084.9" y="2447.3" width="15" height="11.9" rx="7.5" fill="#f2c04c"/>
<rect x="1096.5" y="2447.3" width="15" height="11.9" rx="7.5" fill="#ea9820"/>
<rect x="1188.5" y="2447.3" width="15.5" height="11.9" rx="7.5" fill="#ea9820"/>
<rect x="1211.8" y="2447.3" width="25.2" height="11.9" rx="7.5" fill="#ea9820"/>
</g>
<path d="M695.5,2606.5C703.2,2606.4 727.8,2606.4 742,2605.7C756.3,2605.1 767.9,2603.6 780.9,2602.6C793.8,2601.7 806.7,2600.8 819.7,2599.9C832.6,2599.1 845.6,2598.3 858.5,2597.6C871.4,2596.9 886.3,2596.3 897.3,2595.6C908.3,2595 914.8,2595.1 924.5,2593.7C934.2,2592.3 943.9,2590.1 955.6,2587.1C967.2,2584.1 981.4,2579.1 994.4,2575.5C1007.3,2571.8 1021.6,2567.6 1033.2,2565C1044.8,2562.4 1054.5,2560.8 1064.3,2559.9C1074,2559.1 1080.4,2559 1091.4,2559.9C1102.4,2560.9 1117.3,2562.8 1130.2,2565.7C1143.2,2568.7 1158.1,2573.5 1169.1,2577.4C1180.1,2581.3 1186.2,2585.2 1196.2,2589C1206.3,2592.9 1223.7,2598.7 1229.2,2600.7" stroke="#3d3d3d" stroke-width="7" fill="none" stroke-linejoin="round"/>
<rect x="653.5" y="2404.6" width="602.9" height="239.9" fill="none" stroke="#222" stroke-width="2"/>
<text x="1271.5" y="1267.8" font-size="32.2" text-anchor="start" font-style="italic">Klf6</text>
<path d="M1307.8 1277.7V1511.2M1401 1277.7V1511.2M1503.5 1277.7V1511.2M1605.6 1277.7V1511.2M1707.7 1277.7V1511.2M1810.1 1277.7V1511.2" stroke="#ececec" stroke-width="4" fill="none"/>
<path d="M1275.7 1501.8H1872.4M1275.7 1449.7H1872.4M1275.7 1397.6H1872.4M1275.7 1345.5H1872.4M1275.7 1293.4H1872.4" stroke="#e8e8e8" stroke-width="3" fill="none"/>
<path d="M1275.7 1475.8H1872.4M1275.7 1423.7H1872.4M1275.7 1371.6H1872.4M1275.7 1319.5H1872.4" stroke="#efefef" stroke-width="2.2" fill="none"/>
<g clip-path="url(#c10)" stroke="#000" stroke-opacity="0.14" stroke-width="0.8">
<rect x="1304.7" y="1495.9" width="15.5" height="11.8" rx="7.5" fill="#0c6b78"/>
<rect x="1320.2" y="1495.9" width="54.3" height="11.8" rx="7.5" fill="#0c6b78"/>
<rect x="1374.6" y="1495.9" width="15.5" height="11.8" rx="7.5" fill="#86c19b"/>
<rect x="1390.1" y="1495.9" width="25.2" height="11.8" rx="7.5" fill="#0c6b78"/>
<rect x="1415.3" y="1495.9" width="118.4" height="11.8" rx="7.5" fill="#86c19b"/>
<rect x="1533.7" y="1495.9" width="29.1" height="11.8" rx="7.5" fill="#0c6b78"/>
<rect x="1562.9" y="1495.9" width="112.6" height="11.8" rx="7.5" fill="#c9d98f"/>
<rect x="1675.4" y="1495.9" width="36.9" height="11.8" rx="7.5" fill="#f2c04c"/>
<rect x="1712.3" y="1495.9" width="31.1" height="11.8" rx="7.5" fill="#ea9820"/>
<rect x="1753.1" y="1495.9" width="102.9" height="11.8" rx="7.5" fill="#ea9820"/>
<rect x="1322.2" y="1459.8" width="87.3" height="11.8" rx="7.5" fill="#0c6b78"/>
<rect x="1409.5" y="1459.8" width="15.5" height="11.8" rx="7.5" fill="#86c19b"/>
<rect x="1425" y="1459.8" width="97" height="11.8" rx="7.5" fill="#86c19b"/>
<rect x="1522.1" y="1459.8" width="27.2" height="11.8" rx="7.5" fill="#0c6b78"/>
<rect x="1548.6" y="1459.8" width="15" height="11.8" rx="7.5" fill="#86c19b"/>
<rect x="1566.7" y="1459.8" width="114.5" height="11.8" rx="7.5" fill="#c9d98f"/>
<rect x="1681.3" y="1459.8" width="36.9" height="11.8" rx="7.5" fill="#f2c04c"/>
<rect x="1718.1" y="1459.8" width="91.2" height="11.8" rx="7.5" fill="#ea9820"/>
<rect x="1807.7" y="1459.8" width="15" height="11.8" rx="7.5" fill="#f2c04c"/>
<rect x="1821" y="1459.8" width="19.4" height="11.8" rx="7.5" fill="#ea9820"/>
<rect x="1840.4" y="1459.8" width="15.5" height="11.8" rx="7.5" fill="#f2c04c"/>
<rect x="1323.3" y="1438.7" width="51.2" height="11.8" rx="7.5" fill="#0c6b78"/>
<rect x="1371" y="1438.7" width="15" height="11.8" rx="7.5" fill="#86c19b"/>
<rect x="1382.3" y="1438.7" width="31.1" height="11.8" rx="7.5" fill="#0c6b78"/>
<rect x="1411.7" y="1438.7" width="15" height="11.8" rx="7.5" fill="#86c19b"/>
<rect x="1420.5" y="1438.7" width="15" height="11.8" rx="7.5" fill="#0c6b78"/>
<rect x="1430.9" y="1438.7" width="89.3" height="11.8" rx="7.5" fill="#86c19b"/>
<rect x="1520.2" y="1438.7" width="36.9" height="11.8" rx="7.5" fill="#0c6b78"/>
<rect x="1556.3" y="1438.7" width="15" height="11.8" rx="7.5" fill="#86c19b"/>
<rect x="1570.6" y="1438.7" width="106.8" height="11.8" rx="7.5" fill="#c9d98f"/>
<rect x="1677.4" y="1438.7" width="36.9" height="11.8" rx="7.5" fill="#f2c04c"/>
<rect x="1714.3" y="1438.7" width="29.1" height="11.8" rx="7.5" fill="#ea9820"/>
<rect x="1755" y="1438.7" width="100.9" height="11.8" rx="7.5" fill="#ea9820"/>
<rect x="1345.5" y="1423.7" width="62.1" height="11.8" rx="7.5" fill="#0c6b78"/>
<rect x="1427" y="1423.7" width="15.5" height="11.8" rx="7.5" fill="#86c19b"/>
<rect x="1456.1" y="1423.7" width="49.7" height="11.8" rx="7.5" fill="#86c19b"/>
<rect x="1521.3" y="1423.7" width="33.8" height="11.8" rx="7.5" fill="#0c6b78"/>
<rect x="1559" y="1423.7" width="15.5" height="11.8" rx="7.5" fill="#86c19b"/>
<rect x="1597" y="1423.7" width="18.2" height="11.8" rx="7.5" fill="#c9d98f"/>
<rect x="1625" y="1423.7" width="33" height="11.8" rx="7.5" fill="#c9d98f"/>
<rect x="1658" y="1423.7" width="19.4" height="11.8" rx="7.5" fill="#c9d98f"/>
<rect x="1677.4" y="1423.7" width="34.9" height="11.8" rx="7.5" fill="#f2c04c"/>
<rect x="1712.3" y="1423.7" width="38.8" height="11.8" rx="7.5" fill="#ea9820"/>
<rect x="1749.5" y="1423.7" width="15" height="11.8" rx="7.5" fill="#f2c04c"/>
<rect x="1762.8" y="1423.7" width="93.2" height="11.8" rx="7.5" fill="#ea9820"/>
<rect x="1339.6" y="1412.1" width="38.8" height="11.8" rx="7.5" fill="#0c6b78"/>
<rect x="1463.9" y="1412.1" width="15.5" height="11.8" rx="7.5" fill="#86c19b"/>
<rect x="1515.6" y="1412.1" width="15" height="11.8" rx="7.5" fill="#86c19b"/>
<rect x="1535.7" y="1412.1" width="15.5" height="11.8" rx="7.5" fill="#0c6b78"/>
<rect x="1599" y="1412.1" width="15.5" height="11.8" rx="7.5" fill="#c9d98f"/>
<rect x="1634.7" y="1412.1" width="18.6" height="11.8" rx="7.5" fill="#c9d98f"/>
<rect x="1661.8" y="1412.1" width="50.5" height="11.8" rx="7.5" fill="#f2c04c"/>
<rect x="1712.3" y="1412.1" width="143.6" height="11.8" rx="7.5" fill="#ea9820"/>
<rect x="1362.9" y="1402.6" width="31.1" height="11.8" rx="7.5" fill="#0c6b78"/>
<rect x="1586.1" y="1402.6" width="15.5" height="11.8" rx="7.5" fill="#c9d98f"/>
<rect x="1620.3" y="1402.6" width="15.5" height="11.8" rx="7.5" fill="#c9d98f"/>
<rect x="1681.3" y="1402.6" width="31.1" height="11.8" rx="7.5" fill="#f2c04c"/>
<rect x="1712.3" y="1402.6" width="15.5" height="11.8" rx="7.5" fill="#ea9820"/>
<rect x="1751.1" y="1402.6" width="104.8" height="11.8" rx="7.5" fill="#ea9820"/>
<rect x="1366.8" y="1394.5" width="19.4" height="11.8" rx="7.5" fill="#0c6b78"/>
<rect x="1494.9" y="1394.5" width="15.5" height="11.8" rx="7.5" fill="#86c19b"/>
<rect x="1683.2" y="1394.5" width="29.1" height="11.8" rx="7.5" fill="#f2c04c"/>
<rect x="1712.3" y="1394.5" width="15.5" height="11.8" rx="7.5" fill="#ea9820"/>
<rect x="1755" y="1394.5" width="100.9" height="11.8" rx="7.5" fill="#ea9820"/>
<rect x="1683.2" y="1387.6" width="29.1" height="11.8" rx="7.5" fill="#f2c04c"/>
<rect x="1712.3" y="1387.6" width="19.4" height="11.8" rx="7.5" fill="#ea9820"/>
<rect x="1758.9" y="1387.6" width="97" height="11.8" rx="7.5" fill="#ea9820"/>
<rect x="1683.2" y="1381.4" width="29.1" height="11.8" rx="7.5" fill="#f2c04c"/>
<rect x="1739.5" y="1381.4" width="15.5" height="11.8" rx="7.5" fill="#ea9820"/>
<rect x="1766.7" y="1381.4" width="19.4" height="11.8" rx="7.5" fill="#ea9820"/>
<rect x="1797.7" y="1381.4" width="58.2" height="11.8" rx="7.5" fill="#ea9820"/>
<rect x="1685.1" y="1375.9" width="27.2" height="11.8" rx="7.5" fill="#f2c04c"/>
<rect x="1708.7" y="1375.9" width="15" height="11.8" rx="7.5" fill="#ea9820"/>
<rect x="1809.4" y="1375.9" width="46.6" height="11.8" rx="7.5" fill="#ea9820"/>
<rect x="1363.7" y="1371" width="15.5" height="11.8" rx="7.5" fill="#0c6b78"/>
<rect x="1760.8" y="1371" width="15.5" height="11.8" rx="7.5" fill="#f2c04c"/>
<rect x="1811.3" y="1371" width="44.6" height="11.8" rx="7.5" fill="#ea9820"/>
<rect x="1813.2" y="1366.4" width="42.7" height="11.8" rx="7.5" fill="#ea9820"/>
<rect x="1774.4" y="1362.3" width="15.5" height="11.8" rx="7.5" fill="#ea9820"/>
<rect x="1790" y="1362.3" width="19.4" height="11.8" rx="7.5" fill="#ea9820"/>
<rect x="1811.3" y="1362.3" width="44.6" height="11.8" rx="7.5" fill="#ea9820"/>
<rect x="1828.8" y="1358.4" width="27.2" height="11.8" rx="7.5" fill="#ea9820"/>
<rect x="1821" y="1354.8" width="34.9" height="11.8" rx="7.5" fill="#ea9820"/>
<rect x="1828.8" y="1351.5" width="23.3" height="11.8" rx="7.5" fill="#ea9820"/>
<rect x="1832.7" y="1328.2" width="15.5" height="11.8" rx="7.5" fill="#ea9820"/>
<rect x="1836.8" y="1323.2" width="15" height="11.8" rx="7.5" fill="#ea9820"/>
</g>
<path d="M1313.6,1477.7 L1331.9,1483.2 L1331.9,1494 L1313.6,1497.9Z" fill="#bdbdbd" fill-opacity="0.6"/>
<path d="M1314.4,1489.4C1321.8,1489.7 1345.1,1490.5 1359,1491.3C1373,1492.1 1384.9,1494.2 1397.9,1494C1410.8,1493.8 1423.7,1491.6 1436.7,1490.2C1449.6,1488.7 1464.5,1486.1 1475.5,1485.1C1486.5,1484.1 1493,1484 1502.7,1484.3C1512.4,1484.7 1523.4,1485.9 1533.7,1487C1544.1,1488.1 1555.1,1491.1 1564.8,1490.9C1574.5,1490.8 1582.9,1488.7 1592,1486.3C1601,1483.9 1609.4,1480.8 1619.1,1476.6C1628.8,1472.4 1639.8,1465.8 1650.2,1461C1660.6,1456.3 1671.5,1451 1681.3,1448.2C1691,1445.4 1697.4,1444.5 1708.4,1444.3C1719.4,1444.2 1735.6,1446.3 1747.2,1447.5C1758.9,1448.6 1768.6,1451.3 1778.3,1451.3C1788,1451.3 1797.1,1449.7 1805.5,1447.5C1813.9,1445.2 1822,1441.5 1828.8,1437.7C1835.6,1434 1843.3,1427.1 1846.2,1424.9" stroke="#3d3d3d" stroke-width="7" fill="none" stroke-linejoin="round"/>
<rect x="1271.7" y="1274.7" width="603.6" height="239.5" fill="none" stroke="#222" stroke-width="2"/>
<text x="1271.5" y="1546.4" font-size="32.2" text-anchor="start" font-style="italic">Plscr1</text>
<path d="M1308.6 1553.9V1787.4M1401.8 1553.9V1787.4M1504.6 1553.9V1787.4M1606.7 1553.9V1787.4M1708.4 1553.9V1787.4M1810.5 1553.9V1787.4" stroke="#ececec" stroke-width="4" fill="none"/>
<path d="M1276.9 1772.9H1873.1M1276.9 1726.7H1873.1M1276.9 1680.5H1873.1M1276.9 1634.3H1873.1M1276.9 1588.1H1873.1" stroke="#e8e8e8" stroke-width="3" fill="none"/>
<path d="M1276.9 1749.8H1873.1M1276.9 1703.6H1873.1M1276.9 1657.4H1873.1M1276.9 1611.2H1873.1M1276.9 1565H1873.1" stroke="#efefef" stroke-width="2.2" fill="none"/>
<g clip-path="url(#c11)" stroke="#000" stroke-opacity="0.14" stroke-width="0.8">
<rect x="1305.5" y="1767" width="16.7" height="11.8" rx="7.5" fill="#0c6b78"/>
<rect x="1322.2" y="1767" width="48.5" height="11.8" rx="7.5" fill="#0c6b78"/>
<rect x="1369" y="1767" width="15" height="11.8" rx="7.5" fill="#86c19b"/>
<rect x="1382.3" y="1767" width="19.4" height="11.8" rx="7.5" fill="#0c6b78"/>
<rect x="1398.1" y="1767" width="15" height="11.8" rx="7.5" fill="#86c19b"/>
<rect x="1405.9" y="1767" width="15" height="11.8" rx="7.5" fill="#0c6b78"/>
<rect x="1419.2" y="1767" width="110.6" height="11.8" rx="7.5" fill="#86c19b"/>
<rect x="1529.9" y="1767" width="15.5" height="11.8" rx="7.5" fill="#0c6b78"/>
<rect x="1541.8" y="1767" width="15" height="11.8" rx="7.5" fill="#86c19b"/>
<rect x="1552.4" y="1767" width="15" height="11.8" rx="7.5" fill="#0c6b78"/>
<rect x="1566.7" y="1767" width="112.6" height="11.8" rx="7.5" fill="#c9d98f"/>
<rect x="1679.3" y="1767" width="38.8" height="11.8" rx="7.5" fill="#f2c04c"/>
<rect x="1718.1" y="1767" width="137.8" height="11.8" rx="7.5" fill="#ea9820"/>
<rect x="1314.4" y="1703" width="95.1" height="11.8" rx="7.5" fill="#0c6b78"/>
<rect x="1409.5" y="1703" width="112.6" height="11.8" rx="7.5" fill="#86c19b"/>
<rect x="1522.1" y="1703" width="27.2" height="11.8" rx="7.5" fill="#0c6b78"/>
<rect x="1547.6" y="1703" width="15" height="11.8" rx="7.5" fill="#f2c04c"/>
<rect x="1560.2" y="1703" width="15" height="11.8" rx="7.5" fill="#86c19b"/>
<rect x="1574.5" y="1703" width="100.9" height="11.8" rx="7.5" fill="#c9d98f"/>
<rect x="1675.4" y="1703" width="36.9" height="11.8" rx="7.5" fill="#f2c04c"/>
<rect x="1712.3" y="1703" width="38.8" height="11.8" rx="7.5" fill="#ea9820"/>
<rect x="1751.1" y="1703" width="23.3" height="11.8" rx="7.5" fill="#f2c04c"/>
<rect x="1774.4" y="1703" width="33" height="11.8" rx="7.5" fill="#ea9820"/>
<rect x="1811.3" y="1703" width="44.6" height="11.8" rx="7.5" fill="#ea9820"/>
<rect x="1328" y="1665.5" width="95.1" height="11.8" rx="7.5" fill="#0c6b78"/>
<rect x="1423.1" y="1665.5" width="110.6" height="11.8" rx="7.5" fill="#86c19b"/>
<rect x="1533.7" y="1665.5" width="36.9" height="11.8" rx="7.5" fill="#0c6b78"/>
<rect x="1570.6" y="1665.5" width="102.9" height="11.8" rx="7.5" fill="#c9d98f"/>
<rect x="1673.5" y="1665.5" width="46.6" height="11.8" rx="7.5" fill="#f2c04c"/>
<rect x="1720.1" y="1665.5" width="25.2" height="11.8" rx="7.5" fill="#ea9820"/>
<rect x="1755" y="1665.5" width="27.2" height="11.8" rx="7.5" fill="#ea9820"/>
<rect x="1782.2" y="1665.5" width="73.8" height="11.8" rx="7.5" fill="#ea9820"/>
<rect x="1331.1" y="1638.9" width="72.6" height="11.8" rx="7.5" fill="#0c6b78"/>
<rect x="1436.7" y="1638.9" width="15.5" height="11.8" rx="7.5" fill="#86c19b"/>
<rect x="1458" y="1638.9" width="15.5" height="11.8" rx="7.5" fill="#86c19b"/>
<rect x="1476.3" y="1638.9" width="17.9" height="11.8" rx="7.5" fill="#86c19b"/>
<rect x="1509.3" y="1638.9" width="23.3" height="11.8" rx="7.5" fill="#86c19b"/>
<rect x="1628.8" y="1638.9" width="15.5" height="11.8" rx="7.5" fill="#c9d98f"/>
<rect x="1651.4" y="1638.9" width="15.5" height="11.8" rx="7.5" fill="#c9d98f"/>
<rect x="1675.4" y="1638.9" width="46.6" height="11.8" rx="7.5" fill="#f2c04c"/>
<rect x="1722" y="1638.9" width="21.4" height="11.8" rx="7.5" fill="#ea9820"/>
<rect x="1786.1" y="1638.9" width="58.2" height="11.8" rx="7.5" fill="#ea9820"/>
<rect x="1651.4" y="1618.3" width="15.5" height="11.8" rx="7.5" fill="#c9d98f"/>
<rect x="1673.5" y="1618.3" width="38.8" height="11.8" rx="7.5" fill="#f2c04c"/>
<rect x="1722" y="1618.3" width="19.4" height="11.8" rx="7.5" fill="#ea9820"/>
<rect x="1784.1" y="1618.3" width="15.5" height="11.8" rx="7.5" fill="#ea9820"/>
<rect x="1805.5" y="1618.3" width="15.5" height="11.8" rx="7.5" fill="#ea9820"/>
<rect x="1832.7" y="1618.3" width="15.5" height="11.8" rx="7.5" fill="#ea9820"/>
<rect x="1725.9" y="1601.5" width="15.5" height="11.8" rx="7.5" fill="#ea9820"/>
<rect x="1793.8" y="1601.5" width="15.5" height="11.8" rx="7.5" fill="#ea9820"/>
<rect x="1813.2" y="1601.5" width="15.5" height="11.8" rx="7.5" fill="#ea9820"/>
<rect x="1668.8" y="1587.2" width="15.5" height="11.8" rx="7.5" fill="#c9d98f"/>
<rect x="1712.3" y="1587.2" width="15.5" height="11.8" rx="7.5" fill="#f2c04c"/>
<rect x="1821" y="1587.2" width="15.5" height="11.8" rx="7.5" fill="#ea9820"/>
<rect x="1791.9" y="1554.3" width="15.5" height="11.8" rx="7.5" fill="#ea9820"/>
</g>
<path d="M1314.4,1749.6 L1335.8,1755.5 L1335.8,1763.2 L1314.4,1765.2Z" fill="#bdbdbd" fill-opacity="0.6"/>
<path d="M1314.4,1760.5C1321.8,1760.3 1345.1,1759.7 1359,1759.3C1373,1758.9 1384.9,1758.8 1397.9,1758.2C1410.8,1757.5 1423.7,1756.9 1436.7,1755.5C1449.6,1754 1463.9,1751.2 1475.5,1749.6C1487.2,1748 1496.9,1746.2 1506.6,1745.7C1516.3,1745.3 1524,1746.6 1533.7,1746.9C1543.4,1747.2 1553.1,1748.9 1564.8,1747.7C1576.4,1746.5 1590.7,1742.8 1603.6,1739.9C1616.6,1737 1631.4,1732.8 1642.4,1730.2C1653.4,1727.6 1660.6,1725.7 1669.6,1724.4C1678.7,1723.1 1687.1,1722.1 1696.8,1722.5C1706.5,1722.8 1716.2,1723.4 1727.8,1726.3C1739.5,1729.2 1753.7,1735.4 1766.7,1739.9C1779.6,1744.5 1791.9,1749.1 1805.5,1753.5C1819.1,1757.9 1841.1,1764.2 1848.2,1766.3" stroke="#3d3d3d" stroke-width="7" fill="none" stroke-linejoin="round"/>
<rect x="1272.9" y="1550.9" width="603.3" height="239.5" fill="none" stroke="#222" stroke-width="2"/>
<text x="1271.5" y="1829" font-size="32.2" text-anchor="start" font-style="italic">Mxd1</text>
<path d="M1308.6 1837.7V2071.6M1402.5 1837.7V2071.6M1504.6 1837.7V2071.6M1606.7 1837.7V2071.6M1709.2 1837.7V2071.6M1811.3 1837.7V2071.6" stroke="#ececec" stroke-width="4" fill="none"/>
<path d="M1277.6 2057.9H1874.3M1277.6 2004.7H1874.3M1277.6 1951.6H1874.3M1277.6 1898.4H1874.3M1277.6 1845.2H1874.3" stroke="#e8e8e8" stroke-width="3" fill="none"/>
<path d="M1277.6 2031.3H1874.3M1277.6 1978.1H1874.3M1277.6 1925H1874.3M1277.6 1871.8H1874.3" stroke="#efefef" stroke-width="2.2" fill="none"/>
<g clip-path="url(#c12)" stroke="#000" stroke-opacity="0.14" stroke-width="0.8">
<rect x="1306.6" y="2051.6" width="17.5" height="12.6" rx="7.5" fill="#0c6b78"/>
<rect x="1324.1" y="2051.6" width="46.6" height="12.6" rx="7.5" fill="#0c6b78"/>
<rect x="1367.1" y="2051.6" width="15" height="12.6" rx="7.5" fill="#86c19b"/>
<rect x="1378.5" y="2051.6" width="38.8" height="12.6" rx="7.5" fill="#0c6b78"/>
<rect x="1417.3" y="2051.6" width="112.6" height="12.6" rx="7.5" fill="#86c19b"/>
<rect x="1529.9" y="2051.6" width="31.1" height="12.6" rx="7.5" fill="#0c6b78"/>
<rect x="1560.9" y="2051.6" width="120.3" height="12.6" rx="7.5" fill="#c9d98f"/>
<rect x="1681.3" y="2051.6" width="34.9" height="12.6" rx="7.5" fill="#f2c04c"/>
<rect x="1716.2" y="2051.6" width="21.4" height="12.6" rx="7.5" fill="#ea9820"/>
<rect x="1770.5" y="2051.6" width="73.8" height="12.6" rx="7.5" fill="#ea9820"/>
<rect x="1332.7" y="2014.8" width="34.2" height="12.6" rx="7.5" fill="#0c6b78"/>
<rect x="1364.2" y="2014.8" width="15" height="12.6" rx="7.5" fill="#86c19b"/>
<rect x="1374.6" y="2014.8" width="42.7" height="12.6" rx="7.5" fill="#0c6b78"/>
<rect x="1417.3" y="2014.8" width="120.3" height="12.6" rx="7.5" fill="#86c19b"/>
<rect x="1535.9" y="2014.8" width="15" height="12.6" rx="7.5" fill="#0c6b78"/>
<rect x="1545.6" y="2014.8" width="15" height="12.6" rx="7.5" fill="#86c19b"/>
<rect x="1553.4" y="2014.8" width="15" height="12.6" rx="7.5" fill="#0c6b78"/>
<rect x="1564.8" y="2014.8" width="110.6" height="12.6" rx="7.5" fill="#c9d98f"/>
<rect x="1675.4" y="2014.8" width="38.8" height="12.6" rx="7.5" fill="#f2c04c"/>
<rect x="1714.3" y="2014.8" width="46.6" height="12.6" rx="7.5" fill="#ea9820"/>
<rect x="1756.2" y="2014.8" width="15" height="12.6" rx="7.5" fill="#f2c04c"/>
<rect x="1766.7" y="2014.8" width="33" height="12.6" rx="7.5" fill="#ea9820"/>
<rect x="1328.8" y="1993.2" width="22.5" height="12.6" rx="7.5" fill="#0c6b78"/>
<rect x="1384.3" y="1993.2" width="15.5" height="12.6" rx="7.5" fill="#0c6b78"/>
<rect x="1476.3" y="1993.2" width="34.2" height="12.6" rx="7.5" fill="#86c19b"/>
<rect x="1518.2" y="1993.2" width="15.5" height="12.6" rx="7.5" fill="#86c19b"/>
<rect x="1535.7" y="1993.2" width="21.4" height="12.6" rx="7.5" fill="#0c6b78"/>
<rect x="1597.8" y="1993.2" width="15.5" height="12.6" rx="7.5" fill="#c9d98f"/>
<rect x="1636.6" y="1993.2" width="42.7" height="12.6" rx="7.5" fill="#c9d98f"/>
<rect x="1679.3" y="1993.2" width="29.1" height="12.6" rx="7.5" fill="#f2c04c"/>
<rect x="1708.4" y="1993.2" width="40.8" height="12.6" rx="7.5" fill="#ea9820"/>
<rect x="1745.6" y="1993.2" width="15" height="12.6" rx="7.5" fill="#f2c04c"/>
<rect x="1757" y="1993.2" width="100.9" height="12.6" rx="7.5" fill="#ea9820"/>
<rect x="1340.8" y="1977.9" width="15.5" height="12.6" rx="7.5" fill="#0c6b78"/>
<rect x="1538.8" y="1977.9" width="15.5" height="12.6" rx="7.5" fill="#0c6b78"/>
<rect x="1545.6" y="1977.9" width="15" height="12.6" rx="7.5" fill="#86c19b"/>
<rect x="1630.8" y="1977.9" width="15.5" height="12.6" rx="7.5" fill="#c9d98f"/>
<rect x="1651" y="1977.9" width="15.5" height="12.6" rx="7.5" fill="#c9d98f"/>
<rect x="1673.8" y="1977.9" width="15" height="12.6" rx="7.5" fill="#c9d98f"/>
<rect x="1685.1" y="1977.9" width="23.3" height="12.6" rx="7.5" fill="#f2c04c"/>
<rect x="1708.4" y="1977.9" width="58.2" height="12.6" rx="7.5" fill="#ea9820"/>
<rect x="1766.7" y="1977.9" width="91.2" height="12.6" rx="7.5" fill="#ea9820"/>
<rect x="1677.4" y="1966" width="15.5" height="12.6" rx="7.5" fill="#c9d98f"/>
<rect x="1692.9" y="1966" width="27.2" height="12.6" rx="7.5" fill="#f2c04c"/>
<rect x="1720.1" y="1966" width="29.1" height="12.6" rx="7.5" fill="#ea9820"/>
<rect x="1748.5" y="1966" width="15" height="12.6" rx="7.5" fill="#f2c04c"/>
<rect x="1766.7" y="1966" width="91.2" height="12.6" rx="7.5" fill="#ea9820"/>
<rect x="1689" y="1956.3" width="23.3" height="12.6" rx="7.5" fill="#f2c04c"/>
<rect x="1708.4" y="1956.3" width="31.1" height="12.6" rx="7.5" fill="#ea9820"/>
<rect x="1766.7" y="1956.3" width="91.2" height="12.6" rx="7.5" fill="#ea9820"/>
<rect x="1689" y="1948.1" width="31.1" height="12.6" rx="7.5" fill="#f2c04c"/>
<rect x="1720.1" y="1948.1" width="19.4" height="12.6" rx="7.5" fill="#ea9820"/>
<rect x="1751.1" y="1948.1" width="23.3" height="12.6" rx="7.5" fill="#ea9820"/>
<rect x="1774.4" y="1948.1" width="83.5" height="12.6" rx="7.5" fill="#ea9820"/>
<rect x="1696.8" y="1941" width="15.5" height="12.6" rx="7.5" fill="#ea9820"/>
<rect x="1720.1" y="1941" width="19.4" height="12.6" rx="7.5" fill="#ea9820"/>
<rect x="1747.2" y="1941" width="27.2" height="12.6" rx="7.5" fill="#ea9820"/>
<rect x="1778.3" y="1941" width="79.6" height="12.6" rx="7.5" fill="#ea9820"/>
<rect x="1745.3" y="1934.8" width="17.5" height="12.6" rx="7.5" fill="#ea9820"/>
<rect x="1762.8" y="1934.8" width="19.4" height="12.6" rx="7.5" fill="#ea9820"/>
<rect x="1786.1" y="1934.8" width="71.8" height="12.6" rx="7.5" fill="#ea9820"/>
<rect x="1720.1" y="1929.2" width="15.5" height="12.6" rx="7.5" fill="#ea9820"/>
<rect x="1790" y="1929.2" width="67.9" height="12.6" rx="7.5" fill="#ea9820"/>
<rect x="1760.8" y="1924.1" width="15.5" height="12.6" rx="7.5" fill="#f2c04c"/>
<rect x="1790" y="1924.1" width="67.9" height="12.6" rx="7.5" fill="#ea9820"/>
<rect x="1716.2" y="1919.5" width="15.5" height="12.6" rx="7.5" fill="#ea9820"/>
<rect x="1733.7" y="1919.5" width="15.5" height="12.6" rx="7.5" fill="#ea9820"/>
<rect x="1790" y="1919.5" width="67.9" height="12.6" rx="7.5" fill="#ea9820"/>
<rect x="1791.9" y="1911.3" width="66" height="12.6" rx="7.5" fill="#ea9820"/>
<rect x="1793.8" y="1904.2" width="64.1" height="12.6" rx="7.5" fill="#ea9820"/>
<rect x="1797.7" y="1897.9" width="60.2" height="12.6" rx="7.5" fill="#ea9820"/>
<rect x="1805.5" y="1892.3" width="52.4" height="12.6" rx="7.5" fill="#ea9820"/>
<rect x="1813.2" y="1887.2" width="44.6" height="12.6" rx="7.5" fill="#ea9820"/>
<rect x="1821" y="1880.4" width="36.9" height="12.6" rx="7.5" fill="#ea9820"/>
<rect x="1821" y="1874.4" width="36.9" height="12.6" rx="7.5" fill="#ea9820"/>
<rect x="1828.8" y="1869" width="29.1" height="12.6" rx="7.5" fill="#ea9820"/>
<rect x="1836.5" y="1862.5" width="21.4" height="12.6" rx="7.5" fill="#ea9820"/>
<rect x="1842.4" y="1855.4" width="15.5" height="12.6" rx="7.5" fill="#ea9820"/>
<rect x="1843.6" y="1849.2" width="15" height="12.6" rx="7.5" fill="#ea9820"/>
<rect x="1843.4" y="1837.3" width="15" height="12.6" rx="7.5" fill="#ea9820"/>
</g>
<path d="M1316.3,2042.4 L1333.8,2049.4 L1333.8,2056 L1316.3,2059.9Z" fill="#bdbdbd" fill-opacity="0.6"/>
<path d="M1316.3,2053.3C1323.5,2053.6 1345.5,2055.1 1359,2055.2C1372.6,2055.3 1384.9,2053.9 1397.9,2054C1410.8,2054.2 1423.7,2056 1436.7,2056C1449.6,2056 1463.2,2055.2 1475.5,2054C1487.8,2052.9 1500.7,2049.3 1510.4,2049C1520.2,2048.7 1526,2050.7 1533.7,2052.1C1541.5,2053.5 1548.6,2056.5 1557,2057.1C1565.4,2057.8 1575.1,2057.5 1584.2,2056C1593.3,2054.5 1602.3,2051.4 1611.4,2048.2C1620.4,2045 1628.8,2040.8 1638.6,2036.6C1648.3,2032.4 1659.3,2027.2 1669.6,2023C1680,2018.8 1691,2014.2 1700.7,2011.3C1710.4,2008.4 1718.1,2007.1 1727.8,2005.5C1737.5,2003.9 1749.8,2003.9 1758.9,2001.6C1768,1999.4 1774.4,1996.5 1782.2,1991.9C1790,1987.4 1797.7,1981.6 1805.5,1974.5C1813.2,1967.3 1821.3,1957.8 1828.8,1949.2C1836.2,1940.6 1846.6,1927.2 1850.1,1922.8" stroke="#3d3d3d" stroke-width="7" fill="none" stroke-linejoin="round"/>
<rect x="1273.6" y="1834.7" width="603.6" height="239.9" fill="none" stroke="#222" stroke-width="2"/>
<text x="-1" y="1173" font-size="39" text-anchor="start" font-weight="bold">c</text>
<text x="650" y="1174" font-size="39" text-anchor="start" font-weight="bold">d</text>
<text x="334" y="1194.5" font-size="36" text-anchor="middle">Expressed by early lineage cells</text>
<path d="M124.5 1210.2H542" stroke="#111" stroke-width="2.6"/>
<text x="1255" y="1195" font-size="36" text-anchor="middle">Expressed by late lineage cells</text>
<path d="M742.5 1211H1767" stroke="#111" stroke-width="2.6"/>
<path d="M33 2664H639M652.8 2663.8H1259.2M1275.6 2098H1881" stroke="#222" stroke-width="2.4"/>
<text x="337.2" y="2697.4" font-size="36" text-anchor="middle">Differentiation stage</text>
<text x="953.5" y="2697" font-size="36" text-anchor="middle">Differentiation stage</text>
<text x="1574" y="2130.3" font-size="36" text-anchor="middle">Differentiation stage</text>
</svg></body></html>
